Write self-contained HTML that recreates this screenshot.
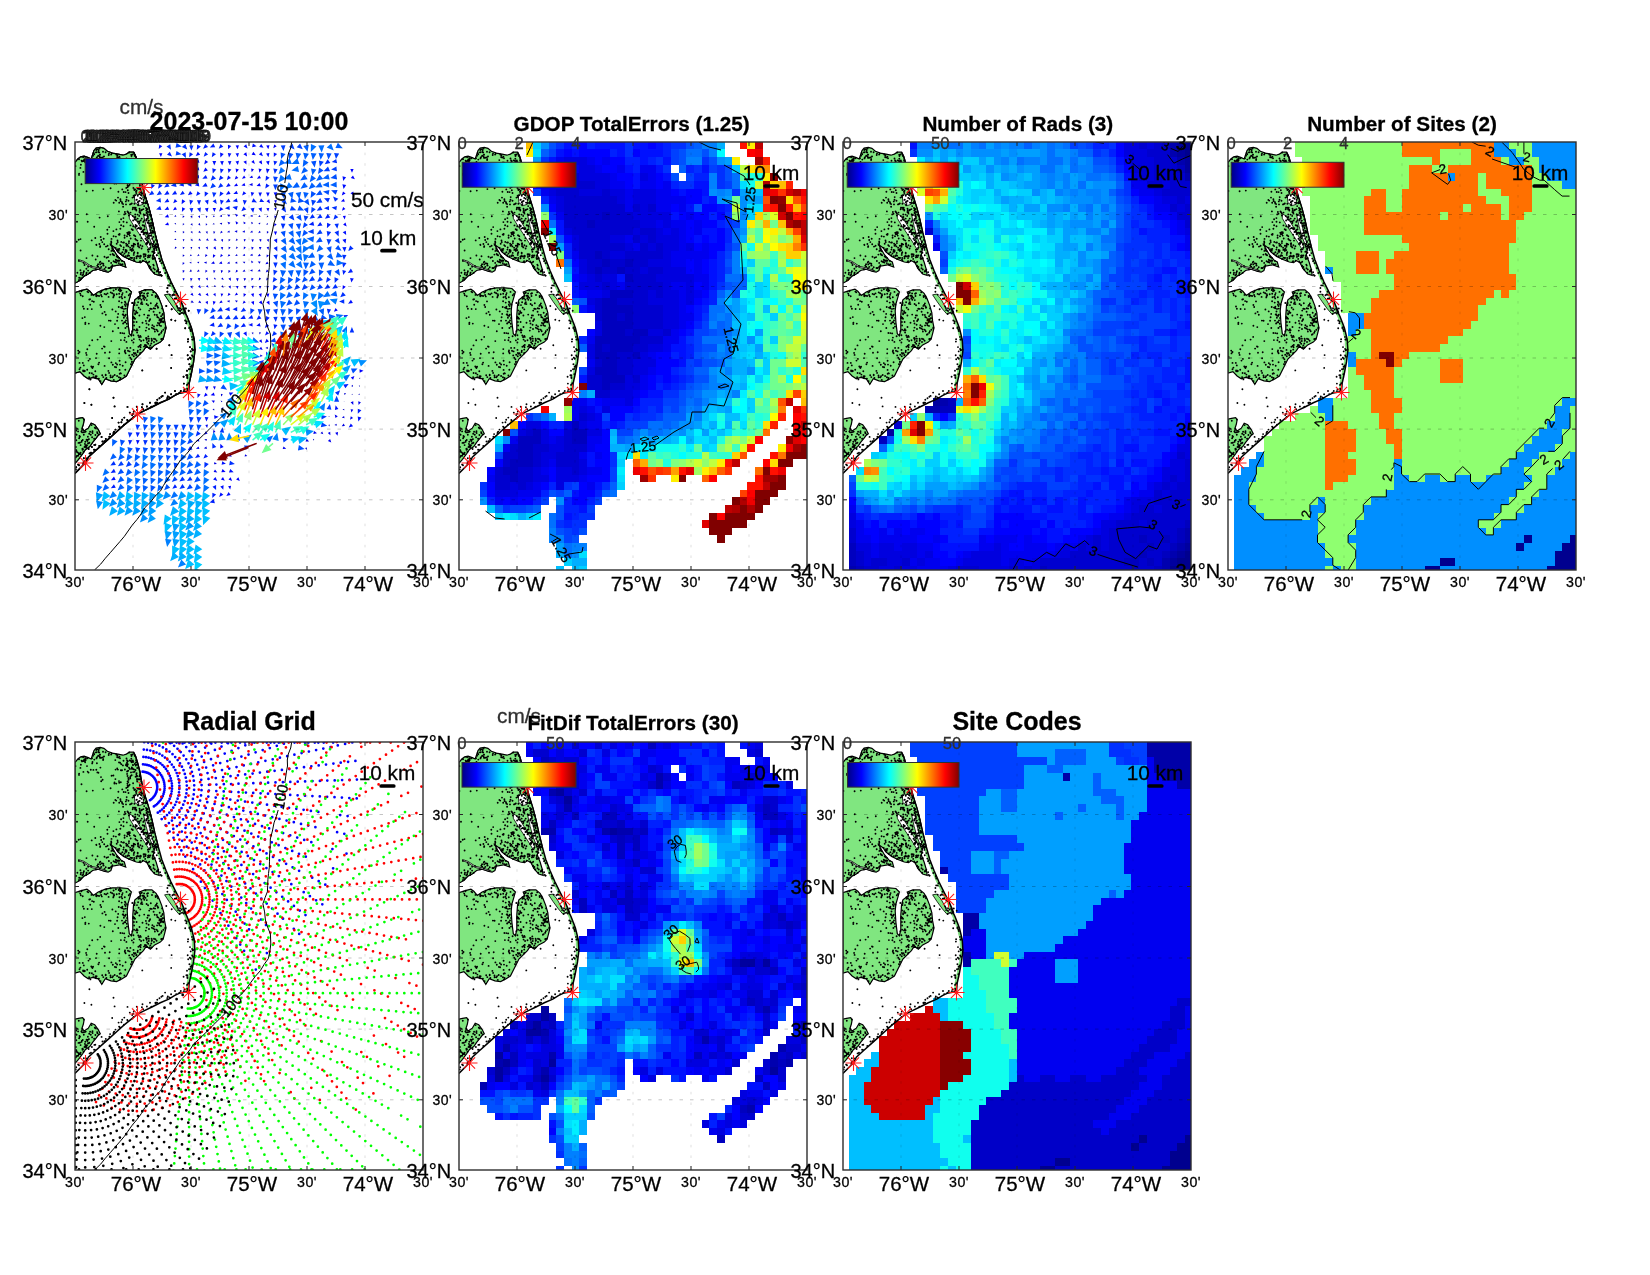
<!DOCTYPE html>
<html><head><meta charset="utf-8"><title>fig</title>
<style>html,body{margin:0;padding:0;background:#fff}body{width:1650px;height:1275px;overflow:hidden;font-family:"Liberation Sans",sans-serif}svg{display:block;will-change:transform}text{font-family:"Liberation Sans",sans-serif;stroke:currentColor;stroke-width:0.3px}</style></head><body>
<svg width="1650" height="1275" viewBox="0 0 1650 1275">
<defs>
<linearGradient id="jet" x1="0" x2="1" y1="0" y2="0"><stop offset="0" stop-color="#000084"/><stop offset="0.125" stop-color="#0000ff"/><stop offset="0.375" stop-color="#00ffff"/><stop offset="0.625" stop-color="#ffff00"/><stop offset="0.875" stop-color="#ff0000"/><stop offset="1" stop-color="#800000"/></linearGradient>
<clipPath id="cp"><rect x="0" y="0" width="348.0" height="428.0"/></clipPath>
<g id="land"><path d="M-0.1 20.5L2.8 17.0L5.6 14.9L9.1 14.2L13.3 15.6L16.2 17.0L17.6 12.8L19.0 8.5L21.1 6.0L25.3 5.4L28.9 6.4L32.4 9.2L37.3 11.1L43.0 12.1L47.9 13.2L51.4 12.1L54.3 10.2L58.5 10.2L60.6 14.2L62.7 21.2L64.9 29.7L66.3 38.2L67.7 45.2L70.5 55.1L74.0 66.4L76.9 77.7L79.7 90.4L83.2 104.5L79.7 105.9L78.3 113.0L81.1 120.0L83.2 127.1L84.2 133.4L79.7 132.0L75.4 127.1L71.9 120.7L68.4 118.6L65.6 120.7L61.3 120.0L54.3 117.2L48.6 114.4L43.0 110.1L40.2 105.9L35.9 102.8L37.3 105.9L41.6 113.0L46.5 118.6L49.3 120.0L50.7 125.0L44.4 122.8L37.3 124.2L35.9 128.5L33.1 130.2L28.9 129.2L23.2 127.1L17.6 128.5L13.3 132.0L9.1 134.1L4.9 138.4L-0.1 141.2ZM-0.1 150.7L6.3 148.6L11.9 147.2L14.8 149.3L18.3 153.5L23.2 150.0L30.3 147.2L37.3 145.8L45.8 145.8L52.9 146.5L56.4 150.0L55.0 154.9L52.9 162.0L52.2 169.0L52.9 180.3L54.3 191.6L56.4 193.7L57.8 187.4L57.8 173.3L58.5 163.4L59.9 157.8L65.6 153.5L64.2 150.0L69.8 147.9L76.9 147.9L81.1 151.4L83.9 156.3L86.7 163.4L88.8 170.5L89.6 178.9L91.0 186.0L89.6 191.6L88.1 197.3L85.3 200.1L79.7 202.9L75.4 207.2L71.2 204.3L68.4 208.6L64.2 212.8L59.9 217.0L57.1 222.7L54.3 228.3L51.4 234.0L47.2 236.8L41.6 239.6L35.9 238.9L30.3 236.8L26.8 242.4L23.2 236.8L17.6 235.4L13.3 236.8L9.1 234.0L4.9 229.7L-0.1 231.1ZM-0.1 277.1L3.5 276.3L7.7 275.6L9.1 277.8L8.4 282.0L7.0 286.2L9.1 289.0L13.3 286.2L16.2 281.3L19.7 282.7L23.2 287.6L25.3 291.9L23.2 293.3L21.1 296.1L17.6 300.3L14.8 304.6L10.5 307.4L7.7 311.6L3.5 317.3L-0.1 321.5Z" fill="#80e680" stroke="#000" stroke-width="1.2"/><path d="M59.2 53.0L65.6 52.3L68.4 56.5L68.4 62.2L64.2 63.6L59.9 60.7ZM54.3 72.0L58.5 74.1L62.7 80.5L68.4 90.4L74.0 100.3L76.1 105.9L74.0 107.3L69.8 100.3L64.2 91.8L58.5 83.3L54.3 76.3ZM68.4 72.0L71.9 73.4L74.0 83.3L76.9 94.6L79.7 105.2L77.6 103.8L74.0 94.6L71.2 84.7ZM3.5 117.5L9.1 119.4L16.2 124.2L23.2 125.9L32.0 128.8L31.4 129.6L22.9 127.1L15.9 125.4L8.8 120.6L3.5 118.6Z" fill="#fff" stroke="#000" stroke-width="0.8"/><path d="M66.4 45.2L69.2 55.1L72.7 66.4L75.6 77.7L78.4 90.4L81.9 104.5L85.4 117.2L89.7 128.5L94.6 139.8L100.2 151.1L105.2 160.9L109.4 170.8L106.6 166.2L110.8 174.7L115.1 186.0L117.9 197.3L118.6 208.6L117.2 219.9L115.1 231.1L112.9 241.0L112.2 249.5" fill="none" stroke="#80e680" stroke-width="2.6"/><path d="M89.6 152.8L93.8 152.1L98.0 157.1L103.0 166.2L106.5 171.2L103.7 171.9L99.4 166.9L93.8 159.2Z" fill="#80e680" stroke="#000" stroke-width="0.8"/><path d="M58.5 10.2L60.6 14.2L62.7 21.2L64.9 29.7L66.3 38.2L67.7 45.2L70.5 55.1L74.0 66.4L76.9 77.7L79.7 90.4L83.2 104.5L86.7 117.2L91.0 128.5L95.9 139.8L101.5 151.1L106.5 160.9L110.7 170.8L107.9 166.2L112.1 174.7L116.4 186.0L119.2 197.3L119.9 208.6L118.5 219.9L116.4 231.1L114.2 241.0L113.5 249.5L105.1 250.9L99.4 253.7L93.8 257.2L85.3 260.8L76.9 265.0L68.4 269.2L62.7 272.1L55.7 277.7L48.6 283.4L41.6 289.7L34.5 296.1L27.5 302.4L20.4 308.8L13.3 315.1L10.5 320.8L-0.1 331.4" fill="none" stroke="#000" stroke-width="1.5"/><path d="M17.3 290.3h0M47.4 164.7h0M10.4 180.8h0M29.6 204.7h0M73.0 151.2h0M26.7 148.7h0M11.1 210.9h0M12.4 16.2h0M61.3 213.3h0M75.4 125.0h0M74.6 205.4h0M50.8 23.1h0M75.7 73.9h0M61.5 116.2h0M49.9 70.0h0M55.0 62.4h0M78.2 113.2h0M35.6 178.7h0M1.4 308.5h0M16.9 231.2h0M33.7 107.3h0M62.0 20.4h0M49.8 155.3h0M72.6 67.1h0M4.5 135.9h0M71.8 66.9h0M49.6 95.7h0M58.1 41.3h0M26.2 15.7h0M39.1 153.2h0M32.5 151.4h0M3.7 97.8h0M76.3 127.5h0M80.5 105.2h0M59.6 29.8h0M66.6 50.2h0M87.2 179.5h0M35.6 235.2h0M0.8 292.5h0M56.5 14.1h0M61.6 180.0h0M30.7 233.3h0M23.0 7.1h0M86.3 197.0h0M52.0 94.2h0M18.8 159.8h0M1.1 133.9h0M11.8 72.3h0M71.6 91.9h0M18.0 13.7h0M66.6 106.5h0M26.0 150.1h0M64.3 105.4h0M8.7 15.0h0M55.3 18.6h0M26.0 35.1h0M79.1 116.5h0M48.5 169.5h0M73.6 182.7h0M84.7 192.1h0M38.4 33.5h0M28.3 121.7h0M27.4 171.4h0M20.3 229.2h0M84.6 181.1h0M40.6 27.6h0M58.9 197.1h0M41.4 120.5h0M64.1 195.2h0M76.2 80.9h0M51.3 22.2h0M19.1 296.8h0M33.9 178.6h0M4.1 296.2h0M11.4 304.2h0M42.1 118.5h0M58.1 78.5h0M79.0 200.0h0M75.7 101.9h0M42.1 15.1h0M82.9 180.9h0M43.7 92.6h0M33.6 154.9h0M68.7 112.8h0M51.1 101.7h0M49.2 191.4h0M12.7 29.6h0M6.8 290.1h0M3.8 138.1h0M69.0 51.6h0M45.0 222.6h0M55.5 83.4h0M59.4 102.2h0M58.7 27.3h0M76.7 90.3h0M6.0 130.7h0M50.2 180.3h0M20.4 293.0h0M29.0 204.4h0M28.6 123.4h0M45.4 122.1h0M47.0 28.3h0M59.1 168.5h0M3.9 312.2h0M54.7 90.2h0M67.7 88.9h0M48.2 113.1h0M61.2 97.9h0M52.4 102.7h0M52.3 90.7h0M59.7 161.0h0M1.3 298.3h0M52.7 92.1h0M66.3 96.1h0M57.5 55.6h0M58.3 108.1h0M4.5 220.9h0M51.9 162.1h0M3.8 278.7h0M57.9 18.5h0M50.4 160.8h0M46.1 83.3h0M82.6 154.5h0M36.1 102.0h0M23.4 222.3h0M45.6 59.0h0M45.0 16.3h0M36.7 11.4h0M41.1 118.4h0M64.7 33.8h0M65.2 211.0h0M5.7 132.3h0M66.5 160.4h0M66.6 56.8h0M20.4 235.5h0M43.4 49.8h0M53.8 71.4h0M28.7 96.7h0M76.7 198.9h0M57.7 12.5h0M73.9 196.8h0M39.7 233.0h0M12.0 303.2h0M60.7 23.5h0M8.9 129.4h0M16.5 152.9h0M21.0 127.4h0M65.4 103.3h0M44.1 159.2h0M69.3 78.4h0M66.8 160.3h0M43.7 165.0h0M61.3 51.1h0M69.1 151.4h0M34.0 11.6h0M4.0 32.9h0M6.8 148.6h0M57.4 106.5h0M29.6 223.9h0M8.8 292.7h0M61.0 188.4h0M21.9 21.3h0M51.5 16.5h0M57.0 219.6h0M84.1 181.7h0M36.3 199.1h0M65.4 46.0h0M82.2 104.4h0M63.7 86.0h0M45.4 147.6h0M51.7 108.9h0M45.4 191.0h0M56.0 62.0h0M39.4 41.5h0M61.6 48.7h0M18.4 232.6h0M0.5 24.1h0M0.2 295.6h0M63.5 62.1h0M48.1 100.6h0M8.2 229.2h0M50.3 227.8h0M44.6 227.9h0M17.2 198.3h0M14.2 291.8h0M51.5 57.8h0M25.3 122.4h0M72.7 91.6h0M48.5 84.2h0M58.1 23.1h0M49.6 93.5h0M36.6 124.4h0M61.1 18.2h0M22.1 290.1h0M40.4 37.1h0M56.8 108.9h0M69.5 87.2h0M44.7 231.7h0M53.9 101.1h0M62.4 113.9h0M24.9 126.2h0M56.3 16.7h0M69.3 154.8h0M34.1 230.9h0M21.3 154.2h0M65.1 86.9h0M86.2 190.7h0M5.4 225.6h0M41.1 225.2h0M20.7 117.5h0M19.3 17.6h0M22.5 114.3h0M40.0 182.1h0M62.7 114.1h0M71.5 66.4h0M78.5 126.3h0M63.2 102.0h0M57.9 23.0h0M85.9 180.0h0M30.6 10.2h0M74.8 72.8h0M72.1 151.7h0M25.1 104.9h0M7.8 220.9h0M50.8 172.8h0M65.1 211.4h0M70.5 61.2h0M14.4 300.7h0M58.4 193.2h0M32.5 91.7h0M71.6 162.0h0M61.0 49.7h0M72.9 173.4h0M65.1 32.6h0M15.0 157.2h0M45.4 86.7h0M61.6 31.2h0M62.0 163.1h0M70.6 112.4h0M27.1 206.6h0M67.2 43.4h0M78.8 166.2h0M66.5 67.9h0M52.4 114.0h0M78.7 123.5h0M71.7 197.7h0M44.2 40.8h0M37.3 106.4h0M51.3 45.9h0M22.4 30.4h0M8.1 132.5h0M67.7 118.7h0M44.4 92.8h0M39.5 40.5h0M61.8 57.8h0M31.0 147.6h0M3.1 289.4h0M40.9 147.3h0M21.5 16.4h0M74.0 187.0h0M67.0 60.6h0M52.3 24.3h0M72.4 175.7h0M62.7 110.7h0M51.8 181.7h0M29.0 14.4h0M80.6 153.9h0M63.6 46.7h0M11.5 116.1h0M73.2 201.7h0M57.7 67.2h0M84.4 178.6h0M51.5 149.9h0M24.1 220.6h0M34.1 216.3h0M78.3 186.6h0M41.3 12.5h0M35.4 112.6h0M3.5 300.9h0M38.4 89.1h0M33.5 126.0h0M68.4 67.1h0M71.1 196.2h0M37.4 167.5h0M52.0 20.4h0M12.4 149.6h0M13.0 301.2h0M34.2 85.1h0M60.6 85.0h0M73.4 109.7h0M48.9 100.5h0M28.1 18.0h0M53.0 208.8h0M28.3 235.1h0M38.1 234.1h0M0.9 315.2h0M77.0 153.0h0M12.4 299.0h0M70.5 96.7h0M22.6 197.6h0M47.2 166.3h0M42.6 175.3h0M60.9 77.4h0M83.0 156.3h0M74.6 84.0h0M63.1 160.3h0M14.6 130.9h0M50.6 211.3h0M62.8 53.8h0M17.0 16.2h0M61.4 32.2h0M71.5 181.5h0M56.8 26.8h0M7.4 306.7h0M64.4 34.4h0M85.5 177.1h0M62.0 37.7h0M6.5 299.9h0M12.2 227.7h0M64.7 68.2h0M18.4 235.1h0M71.1 102.1h0M2.0 79.7h0M21.4 103.0h0M13.1 297.6h0M64.9 47.1h0M40.4 57.9h0M17.4 226.1h0M36.3 100.5h0M25.6 239.1h0M46.1 104.1h0M6.9 298.7h0M9.9 19.2h0M3.1 313.8h0M82.4 164.1h0M71.9 196.5h0M37.7 112.0h0M8.0 164.5h0M62.5 72.6h0M52.8 48.3h0M60.0 176.7h0M80.4 197.2h0M58.5 104.7h0M68.5 198.2h0M35.4 146.3h0M64.3 105.1h0M42.5 98.5h0M75.7 90.5h0M29.5 114.7h0M59.4 118.5h0M53.2 28.7h0M6.5 42.2h0M11.4 126.8h0M52.1 31.9h0M6.4 289.5h0M65.4 71.4h0M12.3 207.3h0M68.4 53.0h0M55.4 205.9h0M19.2 12.2h0M76.6 196.8h0M42.9 119.1h0M13.7 301.2h0M52.0 184.6h0M46.0 122.5h0M60.6 77.7h0M47.7 223.7h0M84.0 192.4h0M65.3 167.4h0M38.7 60.7h0M41.7 114.4h0M37.8 189.3h0M68.5 92.3h0M31.4 236.0h0M70.7 90.8h0M12.7 79.8h0M77.8 90.0h0M60.6 211.3h0M81.9 161.4h0M80.7 155.0h0M47.4 191.1h0M90.2 186.3h0M55.2 35.1h0M8.9 277.5h0M47.9 23.4h0M5.4 128.3h0M17.5 19.9h0M56.8 61.4h0M53.1 113.3h0M48.4 107.6h0M57.8 88.0h0M36.5 96.9h0M9.8 175.1h0M24.8 120.5h0M77.2 96.7h0M54.9 91.1h0M77.0 198.3h0M83.2 165.5h0M35.6 102.8h0M0.4 48.9h0M9.4 305.1h0M60.9 20.4h0M58.2 84.2h0M70.5 114.0h0M43.7 118.4h0M78.7 89.5h0M68.3 79.9h0M50.1 173.9h0M7.3 14.9h0M56.8 20.3h0M14.5 203.4h0M48.5 18.8h0M30.8 172.7h0M73.1 163.2h0M69.3 157.7h0M79.9 189.6h0M65.5 37.1h0M49.9 162.7h0M65.3 70.0h0M26.3 124.9h0M4.1 31.8h0M0.6 285.4h0M6.6 18.6h0M54.6 42.8h0M78.2 109.4h0M79.8 127.5h0M47.4 110.3h0M40.8 117.7h0M65.7 113.7h0M47.1 152.8h0M68.5 87.9h0M7.0 19.4h0M5.2 151.6h0M74.1 179.0h0M73.9 123.9h0M56.8 103.8h0M62.5 46.6h0M25.4 183.7h0M54.0 92.0h0M11.4 131.2h0M4.5 210.0h0M40.8 221.1h0M67.5 180.7h0M13.5 218.6h0M16.0 124.0h0M11.1 305.4h0M25.7 95.0h0M5.9 22.8h0M63.7 165.7h0M77.4 183.3h0M65.7 78.5h0M56.8 25.5h0M54.9 27.0h0M5.4 25.9h0M53.7 90.2h0M58.5 103.2h0M43.8 108.7h0M23.6 8.3h0M9.7 229.3h0M53.3 35.9h0M59.1 187.8h0M65.3 193.9h0M20.6 234.3h0M32.6 103.7h0M19.8 285.8h0M24.6 6.6h0M65.0 156.3h0M44.4 14.6h0M64.5 185.0h0M69.2 172.6h0M21.3 27.7h0M44.2 60.7h0M76.7 166.9h0M13.8 181.6h0M82.7 189.3h0M45.4 57.2h0M25.2 104.2h0M13.1 128.6h0M32.3 87.8h0M53.7 43.8h0M66.4 157.7h0M52.7 45.0h0M75.9 83.9h0M88.2 180.3h0M33.9 119.0h0M27.7 15.4h0M44.7 92.1h0M60.6 83.0h0M69.8 73.3h0M1.0 307.9h0M16.7 98.4h0M47.7 172.5h0M73.4 96.4h0M5.4 137.6h0M71.2 78.0h0M30.7 232.7h0M53.9 73.6h0M60.1 172.3h0M54.1 113.8h0M69.6 91.0h0M59.0 93.2h0M68.8 50.5h0M63.3 37.2h0M41.7 101.8h0M44.4 80.1h0M70.9 178.9h0M60.6 28.1h0M53.6 37.8h0M58.8 214.2h0M53.4 104.4h0M10.1 20.2h0M48.1 62.1h0M62.7 60.3h0M45.9 231.4h0M58.9 210.9h0M66.8 150.7h0M79.0 184.5h0M29.5 126.9h0M79.0 196.7h0M52.1 176.0h0M36.4 108.9h0M26.8 154.4h0M59.3 47.5h0M28.4 47.1h0M33.4 228.9h0M41.7 152.2h0M65.2 207.6h0M74.5 107.2h0M60.1 171.2h0M59.4 61.8h0M67.4 104.2h0M22.7 153.6h0M35.7 150.4h0M69.6 112.3h0M58.1 176.3h0M14.6 231.0h0M42.1 234.0h0M60.1 53.3h0M61.1 169.2h0M63.7 59.5h0M56.9 198.4h0M88.3 176.1h0M4.5 227.3h0M72.8 80.8h0M17.1 295.2h0M65.8 114.4h0M80.3 163.9h0M24.2 10.4h0M13.2 150.2h0M75.3 166.8h0M7.3 286.7h0M72.9 107.8h0M50.6 220.2h0M81.6 198.8h0M64.5 52.1h0M63.3 193.5h0M52.5 162.8h0M54.2 10.5h0M13.5 30.6h0M40.7 106.0h0M84.4 183.3h0M64.5 66.6h0M24.1 154.0h0M45.6 236.0h0M51.4 108.1h0M23.9 236.6h0M72.4 95.3h0M81.7 187.7h0M46.3 22.3h0M45.1 20.7h0M78.5 94.9h0M44.2 116.3h0M74.2 119.7h0M73.1 113.8h0M76.3 201.5h0M53.6 194.3h0M50.6 164.0h0M81.1 162.7h0M7.0 288.1h0M25.3 119.6h0M61.7 33.7h0M38.6 154.3h0M24.6 14.2h0M24.9 12.6h0M81.9 173.0h0M48.9 175.7h0M75.8 101.5h0M77.5 116.0h0M51.8 80.4h0M10.3 182.0h0M8.8 223.4h0M59.3 110.3h0M87.4 172.7h0M77.8 114.0h0M9.5 123.0h0M77.7 101.9h0M28.2 17.3h0M57.4 26.1h0M70.0 202.9h0M60.4 75.0h0M70.1 203.7h0M62.7 210.0h0M64.4 173.5h0M50.5 71.8h0M58.5 207.9h0M73.1 100.6h0M56.3 19.7h0M78.2 90.8h0M50.8 59.4h0M72.6 80.8h0M83.4 175.6h0M13.1 124.7h0M59.3 75.5h0M52.6 22.0h0M8.7 120.9h0M82.9 129.2h0M67.1 51.4h0M61.3 68.5h0M45.9 28.2h0M71.0 203.3h0M70.4 148.4h0M22.3 291.0h0M71.3 68.5h0M68.3 156.2h0M17.1 159.1h0M62.0 37.0h0M26.2 39.2h0M29.3 185.1h0M37.2 151.2h0M51.7 55.1h0M58.7 101.7h0M7.7 298.0h0M21.1 236.2h0M58.4 200.5h0M45.9 198.1h0M43.2 15.6h0M78.1 90.6h0M12.9 294.7h0M24.4 102.0h0M52.5 34.0h0M73.0 76.0h0M11.6 49.3h0M39.9 224.9h0M11.6 297.7h0M35.6 46.2h0M72.0 61.0h0M44.0 20.4h0M15.1 289.7h0M90.3 185.4h0M84.6 177.2h0M34.7 126.0h0M76.1 93.7h0M62.4 86.6h0M29.2 102.3h0M65.1 92.6h0M54.7 18.4h0M74.6 93.7h0M42.1 222.5h0M20.8 286.4h0M59.4 48.0h0M57.4 189.3h0M56.5 107.5h0M52.5 69.5h0M8.3 130.7h0M53.5 58.8h0M56.0 222.2h0M61.2 67.7h0M62.7 111.5h0M72.2 101.7h0M56.6 33.3h0M3.9 118.9h0M59.5 163.0h0M60.7 65.8h0M30.2 129.1h0M65.0 116.1h0M87.6 176.2h0M69.6 84.8h0M74.1 123.8h0M69.6 54.0h0M49.4 198.2h0M51.5 103.8h0M14.3 157.5h0M21.3 8.1h0M9.7 228.6h0M45.8 40.2h0M38.6 119.3h0M56.4 116.0h0M33.1 115.1h0M44.8 146.2h0M75.1 177.2h0M46.3 99.9h0M66.5 90.0h0M61.5 213.0h0M42.5 108.5h0M72.1 204.7h0M42.9 27.6h0M84.7 170.7h0M83.3 127.7h0M40.7 169.4h0M18.7 10.9h0M21.6 7.3h0M77.3 109.7h0M68.3 90.2h0M11.6 130.8h0M73.4 100.3h0M26.2 98.0h0M74.7 125.8h0M47.3 47.4h0M15.8 292.8h0M44.6 218.8h0M62.6 188.2h0M71.8 101.0h0M60.3 96.9h0M50.8 166.6h0M49.2 72.4h0M66.3 86.3h0M82.1 128.8h0M58.4 45.9h0M23.7 292.4h0M67.4 153.8h0M63.4 204.7h0M37.4 123.3h0M8.9 290.3h0M26.2 165.0h0M41.4 87.4h0M51.0 62.4h0M24.9 15.7h0M27.3 100.1h0M68.7 72.4h0M65.7 87.2h0M57.8 74.1h0M23.2 13.8h0M53.1 70.3h0M21.7 15.7h0M71.0 59.4h0M73.9 113.5h0M76.5 205.5h0M46.7 160.6h0M8.5 309.8h0M6.1 136.1h0M48.4 76.1h0M38.6 148.5h0M10.4 289.8h0M75.8 161.3h0M59.1 55.1h0M60.3 28.0h0M51.0 178.4h0M54.7 93.6h0M61.9 187.2h0M69.9 60.9h0M50.6 114.1h0M42.2 26.4h0M43.9 235.2h0M23.2 124.8h0M40.0 120.0h0M44.3 207.1h0M27.2 233.3h0M4.0 17.3h0M15.2 162.7h0M59.5 65.7h0M21.7 211.8h0M28.0 9.7h0M64.2 73.9h0M45.8 111.9h0M0.2 295.0h0M65.1 154.1h0M5.6 108.5h0M57.2 212.7h0M47.0 60.2h0M36.1 12.6h0M72.8 74.3h0M60.2 102.4h0M50.0 208.4h0M36.4 220.4h0M40.9 94.6h0M35.5 233.5h0M8.4 19.0h0M1.9 313.9h0M44.3 106.9h0M3.7 311.3h0M36.2 120.9h0M65.2 55.9h0M66.7 76.6h0M25.2 194.9h0M3.2 208.6h0M75.3 203.4h0M66.0 161.7h0M66.3 39.4h0M0.9 309.6h0M82.3 175.0h0M59.2 116.0h0M68.9 114.9h0M56.2 12.8h0M47.2 61.4h0M9.2 17.5h0M28.3 123.6h0M8.4 29.9h0M53.7 110.9h0M69.7 56.0h0M52.4 41.6h0M7.4 133.4h0M44.2 211.4h0M49.4 233.5h0M38.2 112.7h0M2.4 310.3h0M50.7 107.9h0M62.8 208.6h0M41.3 41.6h0M66.0 98.6h0M49.8 209.7h0M43.9 69.4h0M22.3 123.7h0M62.4 98.6h0M72.9 115.4h0M54.2 213.4h0M2.4 130.7h0M72.1 200.2h0M11.6 212.9h0M59.5 102.3h0M16.8 167.1h0M77.9 83.8h0M55.3 107.9h0M86.3 197.2h0M42.6 115.2h0M23.4 30.8h0M69.1 83.4h0M64.9 43.8h0M1.6 292.8h0M49.5 111.5h0M75.4 113.5h0M17.4 113.5h0M76.7 86.2h0M11.1 303.3h0M64.9 50.2h0M21.0 216.1h0M2.1 286.7h0M59.8 22.0h0M57.1 115.9h0M8.9 129.1h0M71.4 78.5h0M73.3 194.4h0M21.1 152.9h0M76.3 85.4h0M5.6 310.6h0M1.2 288.5h0M78.6 169.8h0M15.8 27.8h0M71.8 158.1h0M44.5 155.3h0M66.1 199.0h0M0.5 214.8h0M78.7 104.6h0M36.1 124.9h0M65.8 48.4h0M31.4 147.1h0M68.7 57.8h0M58.4 19.9h0M61.8 84.0h0M29.6 151.9h0M74.1 205.6h0M61.7 170.9h0M43.0 55.6h0M36.6 33.8h0M21.3 102.7h0M60.2 72.5h0M87.1 166.4h0M47.6 151.1h0M64.4 80.8h0M26.9 121.3h0M18.4 27.9h0M65.1 42.8h0M4.2 149.6h0M67.4 162.1h0M83.9 192.8h0M71.6 98.3h0M43.2 171.9h0M56.9 220.1h0M7.3 290.4h0M64.4 70.0h0M47.6 122.3h0M75.2 105.6h0M74.9 91.5h0M63.5 156.7h0M5.5 312.1h0M38.5 109.1h0M79.7 172.7h0M62.8 60.4h0M74.2 168.6h0M59.0 117.8h0M5.8 153.2h0M58.7 112.9h0M62.7 76.6h0M48.5 79.8h0M74.7 81.6h0M48.4 172.4h0M43.0 107.3h0M10.7 289.6h0M29.6 169.9h0M62.4 170.7h0M51.4 199.9h0M59.3 175.8h0M48.7 105.5h0M82.3 154.0h0M52.6 43.5h0M50.5 109.3h0M12.0 24.1h0M85.9 178.6h0M22.1 15.1h0M88.7 179.4h0M54.0 25.7h0M74.9 102.6h0M10.3 299.8h0M42.8 100.1h0M55.6 34.1h0M69.1 50.8h0M56.4 217.3h0M55.2 36.4h0M50.4 186.0h0M25.4 25.6h0M54.1 117.0h0M58.9 111.3h0M82.9 165.7h0M46.3 148.5h0M52.1 18.4h0M10.3 304.0h0M57.4 26.8h0M57.9 22.9h0M53.3 40.1h0M53.5 51.0h0M43.7 148.0h0M73.1 80.7h0M4.5 294.0h0M66.7 68.3h0M64.2 79.4h0M34.7 210.3h0M72.9 99.4h0M37.8 222.8h0M44.3 118.8h0M3.5 211.4h0M28.0 159.4h0M4.8 312.1h0M46.1 77.3h0M59.8 13.9h0M55.6 115.8h0M21.6 234.2h0M49.0 166.9h0M59.1 183.5h0M63.5 155.2h0M67.7 83.2h0M61.8 34.5h0M48.7 50.0h0M46.5 122.7h0M25.1 12.6h0M76.9 185.7h0M55.3 215.8h0M45.0 237.4h0M59.3 211.8h0M64.0 114.3h0M8.9 166.7h0M73.8 199.0h0M38.6 94.3h0M5.5 97.1h0M65.6 205.2h0M30.7 125.3h0M64.6 58.9h0M62.2 26.0h0M44.6 92.0h0M16.6 283.1h0M73.9 78.6h0M81.7 129.6h0M1.7 99.7h0M52.1 205.9h0M52.8 19.2h0M8.1 228.5h0M54.0 99.3h0M74.7 178.2h0M70.8 188.6h0M50.0 159.7h0M27.6 37.7h0M67.0 67.7h0M56.7 87.2h0M47.2 156.4h0M56.0 30.4h0M62.8 101.6h0M38.8 152.1h0M43.8 121.1h0M33.7 13.0h0M19.2 84.8h0M42.1 178.8h0M5.0 294.8h0M77.9 117.0h0M17.8 48.6h0M66.6 51.4h0M47.0 178.6h0M78.2 102.3h0M87.7 171.9h0M73.6 114.4h0M7.4 176.1h0M70.5 155.9h0M58.1 30.1h0M62.1 190.5h0M78.7 106.9h0M20.9 10.4h0M12.6 167.0h0M11.2 133.0h0M41.9 12.6h0M71.2 119.4h0M59.7 77.4h0M78.2 150.2h0M88.4 187.7h0M61.4 57.9h0M49.0 173.6h0M63.6 155.5h0M60.1 67.4h0M10.8 17.9h0M37.2 108.3h0M17.2 21.4h0M21.1 152.8h0M49.9 27.5h0M68.5 51.7h0M14.0 297.1h0M53.8 153.3h0M46.9 118.9h0M31.0 104.6h0M55.1 105.8h0M64.8 203.7h0M79.7 187.5h0M31.1 152.4h0M55.0 151.9h0M86.6 177.7h0M49.4 180.3h0M20.3 96.0h0M71.5 185.6h0M50.6 50.1h0M14.1 235.2h0M18.1 224.7h0M62.9 102.7h0M78.3 122.6h0M82.3 129.4h0M44.0 39.1h0M54.6 209.4h0M45.4 231.3h0M52.1 29.5h0M57.2 18.8h0M61.8 22.6h0M7.7 154.2h0M51.4 23.5h0M72.5 154.0h0M17.6 291.1h0M70.2 116.9h0M65.1 119.3h0M82.1 183.4h0M37.4 235.3h0M41.2 58.6h0M79.3 130.7h0M56.1 222.3h0M65.8 202.9h0M46.4 154.8h0M14.9 216.9h0M40.3 18.1h0M51.0 110.0h0M10.6 16.3h0M46.0 165.6h0M69.0 204.6h0M55.7 96.5h0M63.1 63.3h0M8.1 307.1h0M62.2 34.0h0M87.5 196.7h0M64.7 120.0h0M81.2 102.2h0M58.0 65.7h0M72.8 120.8h0M73.9 173.5h0M45.2 103.1h0M58.9 180.0h0M4.2 135.8h0M30.0 210.7h0M36.2 99.4h0M64.6 197.6h0M55.5 70.6h0M25.4 163.0h0M62.9 114.4h0M54.2 91.3h0M42.4 13.4h0M64.6 37.3h0M58.7 53.7h0M60.6 34.8h0M23.1 122.3h0M31.6 115.8h0M32.8 74.3h0M65.7 151.2h0M23.3 10.0h0M24.6 75.6h0M68.6 112.1h0M78.0 104.9h0M64.5 86.3h0M65.8 194.9h0M38.3 155.4h0M0.9 305.0h0M63.1 101.3h0M77.5 103.8h0M86.5 177.3h0M39.1 113.3h0M45.1 149.3h0M69.1 54.9h0M6.5 149.2h0M62.2 39.5h0M21.3 10.2h0M71.1 195.9h0M62.6 79.5h0M48.1 181.5h0M86.0 183.9h0M68.7 153.8h0M43.3 186.0h0M76.3 77.4h0M7.5 307.8h0M74.5 115.1h0M17.0 225.3h0M68.2 61.0h0M64.2 81.2h0M86.1 174.3h0M5.6 303.1h0M66.1 53.2h0M25.3 150.5h0M61.4 114.6h0M4.8 300.7h0M58.2 175.0h0M72.3 90.6h0M38.8 237.9h0M48.1 64.7h0M80.7 102.1h0M63.1 104.3h0M49.9 195.6h0M0.6 286.0h0M71.6 77.0h0M45.9 111.5h0M52.8 22.4h0M44.2 151.8h0M60.1 47.5h0M9.9 301.9h0M58.4 103.7h0M80.1 166.6h0M52.6 39.4h0M26.1 153.0h0M56.8 19.2h0M17.5 289.2h0M86.8 189.2h0M16.3 224.4h0M60.3 94.2h0M71.5 60.4h0M69.2 64.1h0M71.0 66.0h0M72.7 72.3h0M72.9 74.5h0M71.5 71.0h0M72.5 72.9h0M72.6 69.9h0M72.4 69.5h0M73.7 70.1h0M77.3 88.6h0M77.3 81.3h0M75.4 88.0h0M74.9 81.3h0M76.8 83.1h0M77.6 83.3h0M76.9 90.9h0M75.6 83.3h0M81.0 97.9h0M78.9 100.3h0M75.0 102.1h0M73.1 93.6h0M79.9 103.7h0M73.0 94.5h0M79.0 99.2h0M80.6 102.7h0M80.9 104.4h0M81.5 107.9h0M83.4 111.1h0M84.3 116.6h0M81.8 113.3h0M82.1 105.2h0M79.4 110.7h0M79.9 116.1h0M81.3 106.1h0M86.9 121.1h0M85.1 119.2h0M89.0 126.3h0M85.1 130.2h0M88.7 126.1h0M85.6 118.1h0M86.6 121.2h0M86.5 133.8h0M90.3 131.0h0M92.8 134.0h0M85.7 132.9h0M86.7 133.6h0M93.3 136.6h0M92.9 134.8h0M94.7 152.6h0M94.7 143.4h0M93.2 143.4h0M99.5 149.7h0M92.4 146.0h0M92.4 149.7h0M95.5 141.2h0M99.7 156.6h0M97.5 153.2h0M104.6 159.0h0M103.4 158.7h0M101.2 156.2h0M100.0 152.8h0M105.0 166.2h0M108.9 171.5h0M109.3 169.9h0M103.1 168.1h0M102.1 164.5h0M102.8 165.9h0M108.5 166.2h0M113.7 168.8h0M110.8 166.5h0M106.6 167.5h0M109.1 171.1h0M104.7 172.0h0M104.9 168.7h0M109.2 170.6h0M114.7 186.1h0M111.3 181.3h0M110.2 186.2h0M114.3 185.9h0M110.3 178.5h0M111.7 179.5h0M114.9 185.3h0M117.4 197.6h0M115.8 189.1h0M116.0 188.9h0M113.1 197.2h0M117.0 194.9h0M115.4 187.5h0M118.3 196.7h0M118.0 197.8h0M117.1 206.9h0M117.7 208.2h0M118.2 208.1h0M112.9 199.6h0M119.5 207.4h0M115.0 205.1h0M115.8 216.7h0M112.7 213.2h0M118.0 214.7h0M117.2 213.5h0M115.7 209.4h0M114.8 215.8h0M113.2 217.2h0M114.4 222.3h0M114.0 227.3h0M116.6 224.8h0M115.5 226.9h0M115.6 224.8h0M112.0 228.7h0M116.9 223.4h0M108.6 234.8h0M111.4 233.2h0M112.3 233.2h0M115.4 232.2h0M112.4 236.0h0M112.3 235.3h0M113.3 241.3h0M112.4 248.3h0M112.2 246.6h0M112.5 242.6h0M112.0 242.9h0M113.0 247.5h0M108.9 249.1h0M109.5 247.3h0M109.9 247.4h0M105.8 249.0h0M100.0 249.0h0M101.2 252.1h0M104.4 250.7h0M94.4 255.5h0M95.0 255.8h0M96.1 252.3h0M92.8 254.4h0M90.1 250.6h0M86.4 254.8h0M92.2 256.1h0M87.6 253.9h0M84.5 256.2h0M80.5 261.2h0M75.0 260.7h0M82.1 260.8h0M80.4 260.7h0M81.4 260.8h0M66.9 265.3h0M76.3 264.8h0M71.9 264.5h0M68.1 267.3h0M67.5 262.3h0M62.9 271.3h0M62.2 267.9h0M61.8 264.7h0M54.8 270.6h0M57.2 273.1h0M58.8 269.5h0M58.6 275.0h0M58.1 271.8h0M52.3 278.0h0M52.5 278.4h0M47.2 277.8h0M49.3 275.6h0M46.4 280.2h0M45.3 285.8h0M40.5 287.6h0M44.5 285.0h0M43.6 280.6h0M44.1 284.6h0M39.2 289.7h0M38.4 291.1h0M34.4 294.7h0M38.8 290.1h0M35.1 292.1h0M30.3 299.2h0M30.8 296.9h0M29.5 299.3h0M27.5 299.5h0M26.6 294.9h0M19.4 302.9h0M20.0 307.9h0M20.3 302.7h0M19.5 302.9h0M24.3 304.0h0M16.0 310.7h0M16.9 305.0h0M14.6 311.4h0M13.6 307.0h0M19.1 307.7h0M9.5 319.5h0M8.8 316.3h0M11.1 316.4h0M0.7 327.4h0M8.8 322.0h0M8.3 321.8h0M3.1 322.6h0M4.0 323.3h0M8.6 320.1h0M8.5 321.5h0M1.2 325.2h0M81.6 206.8h0M82.3 257.7h0M108.9 241.6h0M96.6 213.1h0M57.3 161.0h0M16.4 262.7h0M107.1 170.8h0M94.3 203.3h0M38.5 255.7h0M52.5 264.9h0M39.6 264.4h0M96.2 225.9h0M96.3 177.8h0M9.4 261.0h0M37.2 276.0h0M67.3 228.4h0M91.3 164.0h0M49.0 282.6h0M14.4 247.3h0M100.3 178.6h0M15.4 237.4h0M98.6 152.5h0M96.7 167.3h0" stroke="#000" stroke-width="1.9" stroke-linecap="round" fill="none"/></g>
<g id="grid"><path d="M58.0 0V428.0M116.0 0V428.0M174.0 0V428.0M232.0 0V428.0M290.0 0V428.0" fill="none" stroke="#000" stroke-opacity="0.14" stroke-width="0.9" stroke-dasharray="2.6 8"/><path d="M0 72.5H348.0M0 144.5H348.0M0 216.0H348.0M0 287.1H348.0M0 357.8H348.0" fill="none" stroke="#000" stroke-opacity="0.26" stroke-width="0.9" stroke-dasharray="3.5 7"/></g>
<g id="stars"><path d="M61 45.5H77M69 37.5V53.5M63.4 39.9L74.6 51.1M63.4 51.1L74.6 39.9M97.5 157.5H113.5M105.5 149.5V165.5M99.9 151.9L111.1 163.1M99.9 163.1L111.1 151.9M105.5 250.5H121.5M113.5 242.5V258.5M107.9 244.9L119.1 256.1M107.9 256.1L119.1 244.9M54.5 272H70.5M62.5 264V280M56.9 266.4L68.1 277.6M56.9 277.6L68.1 266.4M2.5 321H18.5M10.5 313V329M4.9 315.4L16.1 326.6M4.9 326.6L16.1 315.4" stroke="#ff1a1a" stroke-width="1.1" fill="none"/></g>
<g id="frame"><rect x="0" y="0" width="348.0" height="428.0" fill="none" stroke="#2e2e2e" stroke-width="1.4"/><path d="M58.0 428.0v-4M58.0 0v4M116.0 428.0v-4M116.0 0v4M174.0 428.0v-4M174.0 0v4M232.0 428.0v-4M232.0 0v4M290.0 428.0v-4M290.0 0v4M0 72.5h4M348.0 72.5h-4M0 144.5h4M348.0 144.5h-4M0 216.0h4M348.0 216.0h-4M0 287.1h4M348.0 287.1h-4M0 357.8h4M348.0 357.8h-4" stroke="#262626" stroke-width="1" fill="none"/></g>
<g id="labels" fill="#000" color="#000"><text x="-7.9" y="7.9" font-size="20" text-anchor="end">37°N</text><text x="-7.9" y="152.4" font-size="20" text-anchor="end">36°N</text><text x="-7.9" y="295.0" font-size="20" text-anchor="end">35°N</text><text x="-7.9" y="435.9" font-size="20" text-anchor="end">34°N</text><text x="-7" y="78.1" font-size="14" letter-spacing="0.4" text-anchor="end">30'</text><text x="-7" y="221.6" font-size="14" letter-spacing="0.4" text-anchor="end">30'</text><text x="-7" y="363.4" font-size="14" letter-spacing="0.4" text-anchor="end">30'</text><text x="61.0" y="449.3" font-size="20.5" text-anchor="middle">76°W</text><text x="177.0" y="449.3" font-size="20.5" text-anchor="middle">75°W</text><text x="293.0" y="449.3" font-size="20.5" text-anchor="middle">74°W</text><text x="0.0" y="445.0" font-size="14.2" letter-spacing="0.5" text-anchor="middle">30'</text><text x="116.0" y="445.0" font-size="14.2" letter-spacing="0.5" text-anchor="middle">30'</text><text x="232.0" y="445.0" font-size="14.2" letter-spacing="0.5" text-anchor="middle">30'</text><text x="348.0" y="445.0" font-size="14.2" letter-spacing="0.5" text-anchor="middle">30'</text></g>
</defs>
<g transform="translate(75,142)">
<use href="#labels"/>
<g clip-path="url(#cp)">
<use href="#land"/><path fill="#0000ef" d="M76.8 19.4L78.9 22.2L79.4 18.8zM115.1 136.0L115.9 139.2L117.6 136.4zM115.1 144.4L117.5 146.8L117.6 143.4zM115.3 152.6L118.5 154.1L117.4 150.8zM123.0 144.8L125.9 146.3L125.0 143.1zM123.0 152.7L126.3 154.0L125.0 150.7zM138.2 105.9L141.2 107.7L140.4 104.3zM138.0 112.3L137.9 116.0L140.6 113.4zM138.9 119.2L136.0 121.6L139.7 122.1zM130.5 152.5L133.5 154.3L132.8 150.9zM130.3 159.9L132.7 162.6L133.0 159.0zM145.9 112.1L145.2 115.3L148.0 113.6zM146.5 119.3L143.9 121.6L147.3 121.9zM163.2 72.9L160.0 71.7L161.3 74.8zM138.1 152.3L140.7 154.5L140.5 151.1zM176.1 26.6L176.7 30.3L179.0 27.3zM163.4 81.0L160.6 79.0L161.1 82.4zM177.1 33.4L174.4 35.7L177.9 36.1zM177.5 41.1L174.1 42.8L177.6 44.1zM145.6 151.6L146.6 154.8L148.3 151.8zM146.2 158.3L144.2 161.3L147.7 160.6zM153.6 150.8L152.6 154.1L155.6 152.6zM160.9 136.4L162.8 139.4L163.6 136.0zM160.9 144.0L162.4 147.1L163.6 143.9zM161.5 150.6L159.7 153.5L163.0 152.8zM137.9 244.6L139.8 247.7L140.7 244.2zM168.6 144.0L170.1 147.0L171.2 143.8zM123.6 296.8L121.0 299.0L124.4 299.4zM168.5 151.2L168.7 154.9L171.2 152.2zM123.6 304.4L120.9 306.7L124.4 307.1zM130.3 283.0L132.1 285.9L133.0 282.6zM139.8 258.5L136.5 258.5L138.8 261.0zM168.9 158.5L167.6 161.7L170.8 160.4zM199.1 58.4L200.9 61.4L201.8 58.1zM130.7 289.3L129.1 292.7L132.6 291.5zM199.2 81.2L199.4 84.5L201.7 82.2zM191.6 143.6L191.9 146.8L194.1 144.3zM138.6 330.0L142.3 330.4L140.0 327.4zM184.0 199.0L187.2 200.9L186.4 197.3zM184.2 206.9L187.7 208.0L186.1 204.8zM207.7 307.1L211.3 306.7L208.5 304.4zM230.5 299.4L234.1 299.5L231.7 296.8zM238.3 291.9L242.0 291.3L239.1 289.0zM252.8 291.1L255.4 293.2L255.2 289.8zM252.9 299.1L256.3 300.6L255.1 297.1zM262.8 274.3L259.7 272.4L260.5 275.9zM260.2 290.8L262.5 293.7L263.1 290.1zM275.6 260.3L278.3 262.9L278.3 259.2zM275.6 267.2L276.5 270.6L278.3 267.6zM275.8 274.3L275.0 277.7L278.1 275.9zM283.2 259.3L283.6 262.9L285.9 260.2z"/><path fill="#0000ff" d="M76.6 27.1L78.6 30.5L79.7 26.7zM84.1 11.3L85.9 15.1L87.4 11.2zM84.5 20.0L87.8 22.1L87.1 18.2zM92.8 72.3L89.7 75.3L94.0 75.5zM92.9 80.2L89.9 83.0L94.0 83.2zM100.1 64.7L98.0 68.2L102.0 67.4zM123.4 17.5L120.3 20.4L124.5 20.7zM123.7 25.3L120.1 27.6L124.3 28.6zM137.6 66.1L139.4 70.1L141.0 66.0zM160.6 3.6L162.7 7.3L163.9 3.2zM160.6 26.5L161.3 30.8L163.9 27.4zM161.0 33.7L159.7 37.6L163.4 35.9zM168.4 12.2L172.1 14.6L171.3 10.3zM161.5 41.2L158.9 44.3L163.0 44.1zM168.4 19.8L171.5 22.6L171.4 18.4zM168.3 26.5L169.0 30.5L171.4 27.3zM169.1 33.5L166.9 36.7L170.7 36.1zM176.6 12.7L180.9 13.3L178.4 9.8zM169.5 41.1L166.4 43.5L170.3 44.1zM176.3 20.1L179.9 21.9L178.7 18.1zM137.8 159.1L138.5 163.0L140.8 159.8zM183.7 19.9L187.2 22.4L186.6 18.2zM183.6 26.6L184.4 30.7L186.8 27.3zM191.2 3.6L193.3 7.3L194.5 3.2zM184.3 33.4L181.9 36.8L186.0 36.2zM184.5 41.1L181.5 44.1L185.8 44.2zM199.2 2.5L198.3 6.3L201.7 4.3zM130.5 250.8L128.8 254.8L132.8 253.3zM191.5 59.2L195.0 61.4L194.2 57.3zM191.3 66.3L193.2 69.6L194.3 65.9zM138.8 250.5L135.6 253.2L139.8 253.7zM176.0 152.1L178.4 155.2L179.0 151.3zM176.0 160.0L178.9 163.0L179.1 158.9zM198.9 89.5L200.5 93.2L202.1 89.5zM183.7 152.2L186.2 155.2L186.7 151.2zM183.8 160.5L187.5 162.6L186.5 158.4zM191.2 151.8L193.1 155.4L194.4 151.6zM191.3 160.2L194.6 162.9L194.3 158.7zM146.3 330.2L150.6 330.1L147.6 327.1zM145.9 337.6L149.8 338.8L148.0 335.1zM153.5 337.4L157.1 338.9L155.7 335.2zM153.1 344.2L155.2 347.4L156.1 343.7zM161.1 337.4L164.8 338.9L163.4 335.2zM268.0 49.4L266.8 53.5L270.6 51.5zM275.3 27.0L277.0 30.7L278.6 26.9zM268.8 56.8L265.9 59.5L269.8 59.7zM275.8 36.1L279.9 37.3L278.0 33.5zM268.1 65.1L267.0 68.7L270.4 67.1zM267.8 74.1L269.7 77.4L270.8 73.7zM275.5 51.3L279.0 53.7L278.3 49.5zM268.1 82.7L271.7 84.5L270.5 80.6zM260.5 166.0L258.9 169.8L262.8 168.4zM267.8 143.2L267.5 147.5L270.8 144.7zM278.1 237.7L279.4 234.0L275.8 235.6zM284.7 230.7L288.5 228.8L284.5 227.3z"/><path fill="#0010ff" d="M84.3 2.5L83.7 6.9L87.3 4.3zM76.3 34.6L77.7 38.9L79.9 34.9zM84.1 27.4L86.9 30.9L87.5 26.5zM92.6 64.4L89.5 67.9L94.2 67.7zM99.8 57.0L98.2 61.3L102.4 59.5zM115.4 17.6L112.9 21.4L117.3 20.6zM115.9 25.3L112.5 28.1L116.8 28.6zM107.0 57.3L106.6 62.2L110.4 59.2zM116.3 33.0L112.3 34.9L116.4 36.5zM122.8 9.8L120.7 14.1L125.2 12.7zM107.1 65.3L106.9 69.9L110.3 66.8zM116.3 40.8L112.2 42.8L116.4 44.4zM115.1 49.0L112.9 53.3L117.6 51.9zM124.0 33.0L120.0 34.9L124.0 36.5zM123.7 40.8L119.8 43.3L124.3 44.4zM130.2 18.1L129.2 22.5L133.1 20.1zM130.4 25.5L128.3 29.8L132.9 28.4zM39.0 334.6L35.9 338.3L40.7 338.0zM137.4 19.1L139.3 23.5L141.2 19.1zM145.1 10.6L145.4 15.4L148.7 11.9zM129.8 66.4L132.3 70.3L133.5 65.8zM61.0 298.0L62.5 302.4L64.7 298.2zM145.1 19.2L147.2 23.4L148.8 19.0zM152.9 2.8L153.1 7.3L156.3 4.0zM152.8 11.0L154.0 15.4L156.4 11.5zM152.8 19.2L154.9 23.3L156.4 18.9zM152.8 26.5L153.5 31.0L156.4 27.4zM153.1 33.6L151.9 38.1L156.0 35.9zM160.5 11.5L162.8 15.2L163.9 11.0zM145.5 64.9L144.1 69.4L148.4 67.3zM153.5 41.1L151.0 45.1L155.7 44.1zM160.5 19.4L162.9 23.1L164.0 18.8zM153.6 48.8L150.8 52.8L155.6 52.1zM168.6 4.6L172.6 6.4L171.2 2.2zM161.6 48.7L158.3 51.9L162.9 52.1zM177.1 5.2L181.7 4.3L177.9 1.6zM168.5 49.3L167.1 53.6L171.3 51.6zM184.2 4.9L188.6 5.7L186.2 1.9zM183.9 12.4L187.9 14.2L186.4 10.1zM175.8 50.1L176.7 54.5L179.3 50.8zM191.1 11.5L193.4 15.3L194.5 11.0zM191.0 19.4L193.5 23.3L194.6 18.8zM122.4 251.5L122.6 255.9L125.6 252.6zM183.4 50.4L185.1 54.7L187.0 50.5zM190.9 26.6L192.1 31.4L194.7 27.2zM198.8 10.5L198.8 15.0L202.1 12.0zM129.9 244.5L132.0 248.4L133.4 244.2zM183.4 66.6L186.5 70.1L186.9 65.5zM191.0 50.5L192.9 54.7L194.7 50.4zM129.7 275.0L131.4 279.5L133.5 275.2zM198.6 50.6L200.7 54.8L202.3 50.3zM139.5 277.0L143.7 274.7L139.1 273.2zM168.2 191.2L171.8 194.3L171.5 189.6zM198.7 98.0L202.1 101.3L202.2 96.6zM155.3 253.7L158.5 250.5L153.9 250.4zM177.4 180.9L173.4 182.9L177.6 184.4zM148.7 305.0L145.3 301.8L145.2 306.5zM184.7 181.0L181.3 183.8L185.6 184.4zM138.1 337.6L142.3 339.1L140.5 335.0zM146.6 322.7L150.9 321.8L147.3 319.3zM191.4 181.4L189.8 185.9L194.2 184.0zM191.5 189.2L190.0 193.4L194.1 191.6zM145.3 344.5L148.3 347.7L148.6 343.3zM191.6 196.8L189.8 200.9L194.0 199.4zM145.5 350.4L144.2 355.0L148.4 352.8zM153.9 330.4L158.7 330.3L155.3 326.9zM194.6 212.9L191.2 209.5L191.1 214.3zM153.6 350.1L151.3 353.9L155.6 353.0zM206.9 196.7L204.8 201.0L209.3 199.6zM267.5 34.3L268.2 38.9L271.1 35.3zM267.4 42.3L268.6 47.0L271.2 42.9zM267.7 90.3L271.2 93.1L270.8 88.7zM267.4 97.8L270.5 101.6L271.2 96.8zM275.1 135.9L276.4 140.5L278.8 136.4zM270.1 176.6L273.1 172.9L268.4 173.3zM275.9 157.8L273.1 161.8L277.9 161.1zM263.4 267.0L260.6 263.3L259.9 267.9zM275.8 281.4L273.7 285.5L278.1 284.2zM282.7 274.6L283.4 279.4L286.4 275.6z"/><path fill="#0020ff" d="M76.3 41.8L76.2 46.9L79.9 43.4zM83.8 34.5L85.1 39.3L87.7 35.1zM92.0 12.8L97.0 14.5L94.8 9.7zM84.0 41.5L83.1 46.8L87.6 43.8zM92.5 20.9L97.6 21.1L94.3 17.3zM91.5 27.8L95.4 31.4L95.3 26.1zM85.1 64.1L81.1 67.6L86.4 68.1zM92.3 48.6L89.2 53.0L94.5 52.2zM92.5 56.5L89.4 60.4L94.3 60.0zM106.7 19.5L109.7 23.8L110.7 18.6zM100.1 48.6L96.9 52.8L102.1 52.2zM106.8 26.1L106.7 31.3L110.6 27.8zM107.8 32.9L104.4 36.8L109.6 36.6zM114.6 10.3L114.2 15.3L118.1 12.2zM108.4 40.6L104.0 43.2L109.0 44.6zM107.6 48.8L104.9 53.0L109.8 52.1zM122.1 2.4L121.8 7.8L125.9 4.4zM130.2 1.9L128.1 6.8L133.1 4.9zM114.4 57.8L115.2 62.9L118.3 58.7zM130.2 10.0L128.7 14.7L133.1 12.5zM114.4 66.3L116.8 70.7L118.3 65.9zM38.9 326.8L35.6 330.9L40.8 330.5zM122.5 49.2L121.1 53.9L125.5 51.7zM138.4 1.5L134.8 5.5L140.2 5.3zM121.9 58.3L124.1 63.1L126.1 58.2zM130.8 32.9L127.3 36.7L132.5 36.6zM137.6 10.2L136.8 15.2L141.0 12.3zM38.9 342.2L35.8 346.2L40.8 345.7zM122.1 66.6L125.3 70.5L125.9 65.5zM130.7 40.7L127.2 44.8L132.6 44.5zM53.1 297.9L54.7 303.0L57.3 298.3zM129.7 49.6L129.7 54.8L133.5 51.3zM137.3 26.3L137.8 31.5L141.3 27.6zM145.5 2.0L143.7 6.7L148.3 4.8zM129.7 58.8L133.0 62.7L133.6 57.7zM60.7 290.3L62.4 295.3L64.9 290.6zM145.0 26.4L145.8 31.4L148.8 27.4zM137.6 59.3L141.7 62.1L140.9 57.2zM145.3 33.4L143.8 38.6L148.6 36.1zM145.2 49.4L144.5 54.6L148.7 51.5zM145.0 57.8L146.0 62.7L148.9 58.7zM153.6 56.5L150.5 60.4L155.5 60.0zM154.5 64.0L149.9 66.3L154.7 68.1zM161.8 56.3L157.6 59.3L162.7 60.2zM162.7 64.0L157.4 64.9L161.7 68.2zM167.8 58.0L169.4 63.1L171.9 58.5zM168.5 64.5L166.3 69.3L171.3 67.6zM138.9 180.6L134.4 183.5L139.6 184.8zM176.6 60.2L182.0 60.4L178.4 56.3zM175.5 66.4L178.2 70.8L179.5 65.8zM184.4 60.0L189.3 60.1L186.0 56.5zM191.0 33.8L190.5 38.9L194.6 35.8zM99.9 342.3L97.3 346.7L102.2 345.6zM154.4 165.1L149.7 167.6L154.8 169.3zM191.1 41.5L190.3 46.6L194.6 43.7zM198.5 18.7L199.5 23.6L202.4 19.5zM115.2 304.1L112.5 308.4L117.5 307.4zM162.2 165.1L157.5 167.2L162.2 169.2zM122.9 311.7L120.0 315.9L125.1 315.1zM169.0 173.0L165.3 177.0L170.8 176.9zM168.8 180.9L165.7 185.2L171.0 184.5zM130.3 312.0L128.4 316.6L133.0 314.8zM176.9 173.0L173.1 176.5L178.2 176.8zM198.6 105.9L202.3 109.5L202.3 104.3zM183.9 173.3L181.5 177.8L186.4 176.5zM137.5 344.7L141.1 348.1L141.1 343.1zM137.4 350.7L137.3 355.9L141.1 352.4zM190.9 174.1L190.9 179.4L194.7 175.8zM138.7 357.1L134.5 360.5L139.9 361.2zM198.5 182.3L199.5 187.3L202.5 183.1zM238.2 79.6L233.8 82.7L239.2 83.8zM245.2 79.9L242.2 84.3L247.5 83.5zM213.9 191.2L217.7 194.7L217.6 189.6zM252.7 72.1L249.9 76.8L255.3 75.6zM252.1 80.8L251.9 86.2L255.9 82.6zM223.1 192.5L228.2 191.0L223.7 188.3zM267.2 105.3L269.7 109.9L271.4 104.9zM267.4 128.0L268.2 132.9L271.2 128.9zM275.9 126.6L272.8 130.9L278.0 130.2zM270.4 246.2L273.6 241.9L268.2 242.5zM282.8 266.7L282.8 271.7L286.4 268.2z"/><path fill="#0030ff" d="M76.9 48.6L73.9 53.2L79.3 52.3zM91.5 4.5L96.0 7.7L95.3 2.3zM84.6 48.6L81.6 53.2L87.0 52.2zM85.4 56.1L80.8 59.1L86.1 60.4zM91.4 33.9L91.3 39.5L95.4 35.7zM92.2 40.7L89.1 45.5L94.6 44.5zM100.7 21.4L106.5 19.9L101.4 16.8zM98.9 27.9L103.3 31.9L103.2 26.0zM106.9 4.9L112.2 7.6L110.5 1.9zM106.7 12.2L110.9 15.9L110.7 10.3zM100.6 40.4L95.8 43.8L101.6 44.9zM114.2 3.4L116.4 8.5L118.5 3.4zM38.8 319.1L35.3 323.5L40.9 323.0zM52.9 290.2L54.6 295.8L57.5 290.7zM60.5 282.5L62.1 288.2L65.1 283.1zM137.6 33.2L135.6 38.8L141.0 36.4zM137.1 50.2L138.7 55.5L141.5 50.7zM145.5 41.0L143.1 45.9L148.4 44.3zM68.2 297.9L70.0 303.5L72.8 298.3zM121.7 166.9L123.3 172.5L126.3 167.5zM138.7 172.8L134.3 176.3L139.9 177.1zM137.6 188.9L135.8 194.2L140.9 191.9zM145.9 165.1L142.1 169.5L147.9 169.3zM146.1 172.8L142.0 176.8L147.7 177.0zM145.8 180.7L142.4 185.3L148.1 184.6zM153.6 172.9L149.8 177.3L155.6 177.0zM198.3 26.6L199.8 32.0L202.6 27.2zM107.3 334.4L104.4 339.6L110.1 338.2zM122.2 289.0L120.7 294.5L125.8 291.8zM107.4 342.1L104.4 347.0L110.0 345.8zM161.1 172.9L157.6 177.5L163.3 176.9zM115.1 334.4L112.0 339.1L117.5 338.2zM168.6 165.4L165.6 170.1L171.1 169.0zM206.2 67.3L211.1 70.5L210.0 64.8zM129.5 320.0L129.3 325.9L133.8 322.0zM205.9 74.3L209.2 79.1L210.4 73.4zM141.3 304.9L137.4 301.0L137.3 306.5zM205.8 81.6L207.9 87.2L210.5 81.8zM149.2 290.7L147.5 285.2L144.7 290.2zM198.4 113.3L201.5 117.8L202.6 112.4zM198.2 120.6L200.5 125.9L202.7 120.6zM198.3 127.8L198.9 133.4L202.6 129.1zM198.6 134.9L197.6 140.4L202.3 137.4zM198.6 142.8L197.8 148.4L202.4 145.1zM154.2 323.3L159.9 322.0L155.0 318.8zM186.6 222.9L189.0 218.0L183.8 219.6zM198.3 175.1L200.8 180.0L202.6 174.8zM198.8 188.9L196.9 194.2L202.1 191.9zM252.6 17.3L249.7 22.3L255.4 20.9zM237.4 72.1L234.5 76.8L240.0 75.7zM170.8 307.9L174.8 303.7L169.0 303.6zM245.2 64.1L241.7 68.7L247.5 68.1zM261.2 17.0L256.7 20.1L262.1 21.2zM245.2 72.0L242.1 76.5L247.5 75.7zM254.9 56.1L249.0 56.2L253.1 60.4zM253.9 63.9L248.9 66.2L254.1 68.3zM221.6 184.1L226.7 186.8L225.2 181.2zM263.3 56.7L258.1 54.4L260.0 59.8zM251.7 88.9L252.6 94.7L256.2 90.1zM261.9 63.9L256.6 65.4L261.3 68.2zM260.0 72.5L258.4 77.7L263.3 75.3zM230.1 184.7L235.7 185.0L232.1 180.7zM259.5 82.0L262.3 86.7L263.8 81.4zM259.5 90.3L263.6 94.4L263.8 88.6zM252.1 134.9L251.0 140.7L255.9 137.5zM252.7 142.0L249.4 146.9L255.2 145.9zM259.5 135.3L259.7 141.1L263.8 137.0zM267.1 112.7L268.9 117.9L271.5 113.0zM251.9 166.8L253.2 172.2L256.1 167.6zM260.4 142.0L257.2 146.8L262.9 145.9zM267.1 120.2L268.2 125.8L271.5 121.1zM275.2 103.5L273.2 109.0L278.6 106.7zM267.7 149.9L265.2 155.3L270.8 153.5zM269.2 157.2L264.1 159.5L269.3 161.7zM279.2 190.4L276.9 185.1L274.7 190.4zM263.2 253.6L265.1 248.3L260.0 250.6z"/><path fill="#0040ff" d="M100.5 5.8L106.8 4.6L101.6 0.9zM100.6 13.6L106.6 12.3L101.5 8.9zM99.2 33.2L97.5 39.0L102.9 36.3zM46.1 319.1L42.9 324.3L48.9 323.0zM53.5 319.1L50.8 325.0L56.9 322.9zM137.6 40.9L135.2 46.5L141.0 44.4zM60.3 305.3L61.8 311.6L65.3 306.2zM68.0 290.1L69.7 296.2L72.9 290.8zM129.5 166.2L129.2 172.2L133.8 168.2zM90.9 297.6L92.3 304.0L95.9 298.6zM90.9 305.2L92.2 311.6L95.9 306.3zM98.6 282.7L101.0 288.6L103.6 282.8zM98.5 290.1L100.4 296.3L103.6 290.7zM129.5 189.3L129.1 195.3L133.7 191.5zM137.5 165.5L135.3 171.3L141.0 168.9zM98.5 297.6L99.8 303.9L103.6 298.6zM98.6 305.2L99.7 311.5L103.5 306.3zM106.2 282.6L108.3 288.7L111.2 282.9zM98.6 312.8L99.7 319.1L103.5 314.0zM98.6 320.4L99.5 326.8L103.5 321.7zM113.9 274.8L115.7 280.9L118.8 275.4zM99.5 334.5L96.8 340.0L102.7 338.1zM144.8 189.4L144.6 195.5L149.1 191.4zM114.6 296.3L112.1 302.2L118.1 299.9zM121.5 274.8L123.3 280.9L126.5 275.4zM205.7 3.5L208.5 8.9L210.5 3.2zM152.7 181.2L151.1 187.2L156.5 184.2zM198.1 34.6L200.0 40.4L202.9 35.0zM152.1 190.7L155.3 196.2L157.1 190.1zM198.1 42.6L200.4 48.2L202.9 42.6zM214.0 5.0L219.6 7.5L217.5 1.8zM160.1 181.4L159.3 187.6L164.4 183.9zM114.9 341.9L111.6 347.4L117.8 346.0zM221.7 5.3L227.8 7.3L225.1 1.5zM206.4 59.9L211.9 62.3L209.8 56.6zM175.3 166.3L175.4 172.3L179.7 168.1zM182.7 167.0L184.6 172.9L187.6 167.4zM214.8 68.5L221.3 68.2L216.7 63.7zM213.7 75.5L219.4 78.6L217.8 72.3zM190.4 167.4L193.2 172.9L195.3 167.0zM198.1 167.7L201.6 172.8L202.9 166.7zM228.7 66.9L233.0 71.6L233.4 65.2zM243.9 18.4L244.8 24.7L248.8 19.8zM228.7 73.4L230.0 79.4L233.4 74.4zM229.1 80.3L227.8 86.3L233.0 83.1zM236.2 57.7L237.5 64.1L241.2 58.8zM236.6 64.9L236.1 71.0L240.8 67.2zM199.8 195.8L195.0 199.6L201.1 200.5zM253.0 24.6L248.6 29.3L255.0 29.2zM202.5 204.3L196.9 201.0L198.4 207.4zM245.2 56.1L241.3 61.0L247.5 60.4zM259.1 11.0L261.0 17.1L264.2 11.5zM238.6 86.9L232.7 89.8L238.8 92.1zM221.7 142.1L219.1 147.9L225.1 145.8zM261.4 24.6L256.1 27.6L261.9 29.3zM245.1 87.4L241.5 92.4L247.6 91.6zM229.2 142.1L226.8 148.2L232.9 145.8zM262.6 48.1L256.1 48.2L260.7 52.8zM237.3 134.1L233.8 139.5L240.1 138.3zM251.5 97.1L253.6 103.1L256.5 97.5zM244.7 134.4L242.2 140.0L248.0 138.0zM244.7 142.1L242.0 147.7L248.0 145.8zM259.7 98.7L264.9 101.8L263.6 95.9zM208.6 300.5L213.7 296.8L207.6 295.7zM246.6 277.5L251.9 274.6L246.1 272.7zM245.9 285.3L252.2 283.8L246.8 280.2zM256.4 267.8L254.9 261.9L251.6 267.0zM264.2 259.7L261.6 253.8L259.1 259.7z"/><path fill="#0000cf" d="M100.8 73.0L99.1 74.4L101.3 74.7zM100.7 96.5L99.1 98.1L101.4 98.1zM107.8 73.4L107.6 75.9L109.6 74.4zM100.2 104.5L99.6 107.0L101.9 105.7zM107.9 81.2L107.7 83.6L109.5 82.1zM107.8 89.1L107.9 91.5L109.6 89.9zM107.8 97.0L108.1 99.4L109.6 97.6zM107.7 104.8L108.0 107.3L109.7 105.4zM115.4 82.2L117.6 83.8L117.3 81.2zM107.7 112.5L107.8 115.1L109.7 113.2zM115.5 90.0L117.6 91.5L117.2 88.9zM115.5 97.9L117.7 99.2L117.2 96.7zM115.4 105.1L116.5 107.3L117.3 105.0zM123.1 82.3L125.3 83.8L124.9 81.1zM115.7 112.2L114.8 114.3L117.0 113.5zM123.2 90.2L125.8 91.3L124.8 88.7zM116.3 119.8L114.3 120.7L116.4 121.5zM130.7 73.7L131.2 76.2L132.6 74.1zM123.0 105.4L124.7 107.4L125.0 104.8zM130.7 81.4L130.9 83.8L132.5 82.0zM123.4 112.1L122.2 114.3L124.6 113.6zM130.6 89.8L132.4 91.9L132.7 89.2zM124.3 119.8L122.0 119.9L123.7 121.5zM138.7 73.2L137.8 75.3L139.9 74.5zM138.2 89.3L138.9 91.9L140.3 89.7zM146.8 72.8L144.5 74.2L147.1 74.9zM147.2 80.7L144.6 81.2L146.7 82.7zM138.8 137.0L141.1 137.4L139.8 135.4zM138.9 144.8L141.3 144.8L139.7 143.1zM153.6 96.9L153.7 99.6L155.6 97.7zM153.6 104.7L153.7 107.4L155.6 105.4zM146.2 144.7L148.7 145.7L147.7 143.2zM161.5 96.6L160.7 99.1L163.0 98.0zM161.5 104.5L160.8 106.9L163.0 105.7zM161.8 112.0L160.1 113.9L162.7 113.8zM162.1 119.6L159.8 120.9L162.4 121.7zM178.3 81.1L176.1 79.8L176.7 82.3zM170.3 119.7L167.6 119.7L169.5 121.6zM184.7 73.0L183.2 74.9L185.6 74.7zM185.5 80.8L183.2 80.9L184.8 82.5zM191.9 89.1L191.9 91.7L193.8 89.9zM132.0 297.1L129.3 297.3L131.3 299.1zM145.9 251.7L146.1 254.4L147.9 252.4zM176.6 190.7L178.1 192.5L178.4 190.2zM184.3 190.1L184.4 192.5L186.1 190.7zM192.7 204.8L190.4 206.1L192.9 206.9zM230.1 306.0L231.7 308.0L232.0 305.5zM269.7 252.9L271.2 251.2L268.9 251.3zM261.6 281.8L259.4 282.9L261.7 283.7zM277.7 244.9L278.0 242.7L276.2 243.9z"/><path fill="#0000bf" d="M101.0 80.9L99.2 81.7L101.1 82.5zM100.9 88.7L99.1 89.9L101.2 90.3zM139.0 80.9L137.4 82.3L139.6 82.5zM192.2 73.4L191.6 75.4L193.5 74.4zM192.5 80.9L191.0 82.5L193.2 82.5zM139.0 266.6L137.4 268.0L139.5 268.2zM147.5 259.2L145.6 258.5L146.4 260.3zM239.3 297.8L238.0 296.7L238.1 298.4zM253.3 283.0L254.5 284.5L254.7 282.6zM269.1 266.7L267.5 267.8L269.4 268.2zM284.1 251.5L283.4 253.1L285.0 252.6z"/><path fill="#0070ff" d="M21.8 342.8L21.9 350.4L27.4 345.1zM30.0 326.6L27.5 334.0L34.5 330.7zM44.8 304.6L44.8 312.2L50.3 306.9zM52.4 334.7L51.4 342.8L58.0 337.9zM52.3 342.5L51.8 350.6L58.0 345.4zM75.2 274.1L75.7 281.8L81.0 276.1zM60.2 327.1L59.2 334.7L65.4 330.2zM60.0 335.4L60.6 343.0L65.7 337.3zM67.6 312.2L67.8 319.9L73.3 314.6zM67.9 319.4L66.6 327.0L73.1 322.7zM82.8 274.2L83.7 282.0L88.7 276.0zM67.7 327.4L67.4 335.1L73.2 330.0zM75.2 312.5L76.1 320.2L81.0 314.3zM75.2 319.9L75.5 327.9L81.0 322.2zM113.7 289.0L113.0 296.7L119.0 291.9zM106.0 319.7L105.5 327.4L111.4 322.4zM99.0 349.2L95.7 356.4L103.1 353.9zM205.8 24.9L203.5 32.3L210.4 28.9zM205.6 32.8L203.5 40.5L210.6 36.7zM205.3 41.3L205.0 49.2L210.9 43.9zM214.7 16.2L209.0 21.5L216.8 22.0zM140.5 285.6L145.8 280.0L138.1 280.0zM214.8 31.8L208.8 37.0L216.7 37.8zM213.8 40.3L210.3 47.2L217.7 44.9zM222.3 16.2L216.7 21.7L224.5 22.0zM128.9 327.3L128.4 335.1L134.4 330.1zM222.8 23.9L216.4 28.4L224.0 30.0zM157.1 261.6L158.8 253.9L152.1 257.9zM128.9 334.9L128.3 342.8L134.4 337.8zM128.8 342.4L128.2 350.5L134.5 345.4zM176.5 201.0L184.2 200.5L178.5 195.3zM235.9 2.1L235.8 10.0L241.5 4.6zM205.4 114.3L211.4 119.1L210.8 111.4zM205.2 121.7L210.6 127.3L211.0 119.6zM213.6 107.2L220.8 110.2L218.0 102.9zM243.3 3.5L246.7 10.6L249.4 3.2zM213.5 115.0L220.8 118.1L218.0 110.7zM213.4 122.7L220.5 126.1L218.1 118.6zM220.5 98.3L225.8 104.1L226.3 96.3zM205.3 150.3L204.9 158.2L210.9 153.1zM220.6 106.4L226.6 111.7L226.2 103.7zM251.7 5.4L258.7 8.6L256.2 1.4zM205.1 158.7L206.3 166.4L211.1 160.2zM220.8 114.5L227.3 119.0L226.1 111.2zM220.9 122.4L227.6 126.5L225.9 118.9zM228.7 95.4L226.6 102.8L233.4 99.2zM228.4 103.5L227.5 111.3L233.8 106.6zM228.1 112.1L229.2 119.7L234.0 113.6zM238.4 102.0L231.6 105.7L239.0 108.1zM228.4 150.3L227.8 157.9L233.7 153.1zM228.0 158.9L229.7 166.6L234.1 160.0zM228.0 167.5L231.7 174.3L234.1 166.9zM194.8 300.4L198.2 293.4L190.8 295.8zM228.2 176.0L233.5 181.5L233.9 173.9zM243.6 150.1L242.7 158.1L249.1 153.3zM261.4 123.7L268.7 121.2L261.9 117.6zM252.5 149.1L247.9 155.3L255.5 154.3zM262.4 177.9L268.5 173.1L260.9 172.0zM271.1 239.2L275.2 232.4L267.4 234.1z"/><path fill="#0060ff" d="M37.2 296.9L37.1 304.4L42.6 299.3zM30.2 334.2L27.4 341.1L34.3 338.4zM38.0 311.3L35.0 317.7L41.7 315.5zM30.1 341.9L27.5 349.0L34.4 346.0zM45.3 311.4L43.0 318.6L49.8 315.3zM45.7 334.1L42.5 340.7L49.4 338.5zM52.7 311.7L51.3 319.2L57.7 315.0zM45.5 341.8L42.5 348.6L49.5 346.1zM52.9 326.8L50.7 333.9L57.4 330.6zM60.2 312.0L59.6 319.6L65.5 314.8zM75.3 281.9L76.2 289.3L80.9 283.6zM75.4 289.8L76.6 296.9L80.9 291.1zM60.0 343.1L60.9 350.6L65.7 344.8zM75.3 305.1L76.7 312.2L80.9 306.4zM82.9 282.1L84.2 289.4L88.6 283.4zM67.7 335.4L68.3 342.8L73.2 337.3zM83.0 289.9L84.4 296.8L88.5 291.0zM67.7 343.0L68.3 350.3L73.2 344.9zM75.3 327.7L75.8 335.2L80.9 329.7zM75.4 335.4L75.9 342.5L80.8 337.2zM83.0 312.7L84.2 319.8L88.5 314.1zM82.9 320.2L83.9 327.6L88.6 321.8zM83.0 327.6L83.1 335.1L88.5 329.8zM83.2 334.9L82.6 342.4L88.4 337.7zM83.3 342.4L82.3 349.7L88.2 345.4zM90.8 327.3L90.3 334.8L96.1 330.0zM113.6 258.5L113.5 266.0L119.1 261.0zM91.2 334.5L89.2 341.3L95.6 338.1zM131.6 216.6L138.6 213.8L131.7 210.6zM105.9 289.6L106.7 297.0L111.5 291.3zM113.6 266.7L114.6 273.8L119.1 268.2zM132.5 224.0L137.9 219.3L130.8 218.6zM106.1 296.7L105.4 304.1L111.3 299.5zM98.6 327.2L97.5 334.5L103.6 330.2zM131.5 231.8L138.2 229.3L131.8 226.1zM106.1 304.3L105.3 311.7L111.3 307.2zM121.5 258.3L120.5 265.6L126.5 261.2zM106.0 312.0L105.5 319.6L111.4 314.8zM139.4 216.6L146.2 213.4L139.2 210.6zM121.3 266.5L121.8 273.8L126.7 268.4zM139.9 224.2L146.0 219.8L138.7 218.4zM106.5 326.8L104.3 333.8L110.9 330.6zM139.1 231.9L146.1 229.3L139.4 226.1zM128.9 266.1L128.6 273.7L134.4 268.7zM114.2 319.0L111.6 326.1L118.5 323.1zM205.9 17.2L203.7 24.2L210.3 21.0zM121.8 319.0L119.3 326.2L126.2 323.1zM122.0 326.6L119.1 333.3L126.0 330.8zM220.6 10.7L222.2 17.7L226.2 11.7zM121.9 341.8L119.1 348.9L126.1 346.0zM213.0 51.2L217.4 56.8L218.5 49.7zM228.3 4.0L232.5 9.8L233.8 2.8zM228.2 10.8L230.0 17.8L233.9 11.7zM221.9 40.0L217.3 46.1L224.9 45.2zM228.5 17.6L227.7 24.9L233.6 20.5zM205.7 98.8L211.5 102.9L210.5 95.8zM220.6 50.9L224.5 57.0L226.2 50.0zM229.0 24.9L226.2 31.8L233.1 29.0zM205.7 106.7L211.9 110.8L210.6 103.4zM229.5 32.2L225.1 38.4L232.6 37.3zM235.8 10.9L237.8 18.0L241.6 11.6zM213.3 90.8L218.8 95.3L218.2 88.2zM229.3 40.2L225.5 46.7L232.8 45.0zM213.5 99.2L220.3 102.6L218.0 95.3zM228.3 50.0L229.9 56.8L233.8 50.9zM205.1 128.1L207.5 135.3L211.1 128.7zM236.0 26.4L237.4 33.3L241.4 27.5zM205.6 134.7L204.7 141.9L210.6 137.7zM236.4 33.1L234.7 40.2L241.0 36.5zM243.6 10.9L245.6 17.7L249.1 11.6zM220.6 90.1L224.9 96.0L226.2 88.8zM205.9 142.2L204.1 149.1L210.3 145.7zM236.7 40.5L233.7 47.2L240.7 44.7zM212.8 128.8L216.6 135.2L218.7 128.1zM244.6 32.5L241.1 38.9L248.1 37.0zM205.2 166.9L207.5 174.0L211.0 167.5zM245.1 40.0L240.3 45.6L247.6 45.2zM213.8 149.7L211.1 156.3L217.8 153.7zM220.5 128.5L223.7 135.1L226.3 128.3zM260.4 6.1L267.8 6.3L262.9 0.7zM253.3 32.1L247.7 36.4L254.7 37.5zM205.3 189.6L206.2 197.0L210.9 191.2zM253.8 39.7L247.3 43.1L254.2 45.5zM228.1 120.5L230.7 127.6L234.0 120.8zM239.1 94.3L231.8 96.4L238.3 100.3zM237.3 110.2L232.6 116.1L240.1 115.5zM261.5 39.8L255.0 43.0L261.8 45.5zM236.5 118.8L234.4 125.7L240.9 122.5zM244.3 103.1L241.6 109.9L248.4 107.1zM243.6 111.9L244.1 119.3L249.1 113.8zM243.4 120.7L246.6 127.4L249.3 120.6zM251.8 114.8L258.4 117.9L256.1 111.0zM252.5 123.3L260.1 124.1L255.5 118.0zM239.0 185.5L245.2 182.1L238.4 179.9zM260.8 115.6L268.0 114.9L262.5 110.1zM243.6 168.2L248.6 173.5L249.1 166.2zM254.3 177.9L260.8 174.2L253.7 172.0zM261.0 148.8L255.0 153.2L262.3 154.6zM272.0 191.6L272.0 184.1L266.6 189.2z"/><path fill="#009fff" d="M20.9 350.3L21.7 360.1L28.3 352.8zM44.6 356.6L41.6 365.9L50.4 361.7zM52.2 364.4L49.5 373.8L58.2 369.2zM59.8 364.4L57.3 373.8L65.9 369.2zM67.3 364.5L65.2 374.1L73.6 369.1zM74.7 349.9L74.3 359.6L81.6 353.2zM74.7 357.4L73.9 367.0L81.5 361.0zM74.9 364.6L73.1 374.2L81.3 368.9zM75.3 372.0L72.6 380.9L80.9 376.8zM130.7 240.3L140.0 238.8L132.6 233.1zM89.7 388.6L91.1 398.3L97.1 390.6zM106.0 349.0L102.7 357.9L111.4 354.2zM97.4 381.1L98.9 390.6L104.7 383.0zM97.4 388.8L99.1 398.2L104.8 390.5zM97.4 396.4L99.3 405.8L104.7 398.0zM113.6 379.4L110.3 388.4L119.1 384.6zM149.4 285.6L153.5 277.0L144.5 280.0zM172.3 301.1L176.8 292.5L167.5 295.1zM271.8 231.8L275.8 223.1L266.8 226.2z"/><path fill="#008fff" d="M21.1 358.4L22.8 367.2L28.0 360.0zM37.4 356.6L34.0 364.8L42.3 361.7zM67.8 372.0L64.9 380.5L73.1 376.8zM90.7 349.1L87.7 357.8L96.1 354.0zM138.6 209.4L147.5 207.4L140.0 202.3zM138.4 240.1L147.3 238.8L140.2 233.2zM142.8 297.8L138.6 289.8L135.7 298.4zM150.5 297.6L145.9 289.8L143.4 298.5zM177.7 224.9L186.0 220.8L177.3 217.6zM211.6 205.3L206.8 197.8L204.7 206.4zM235.5 161.0L242.4 166.9L241.9 157.9zM232.8 193.4L238.1 186.4L229.3 187.4zM235.7 169.0L242.9 174.1L241.7 165.4zM242.9 158.8L244.9 167.5L249.8 160.1zM231.6 293.9L239.0 289.1L230.5 287.0zM285.9 224.5L292.0 218.2L283.3 218.1z"/><path fill="#0050ff" d="M44.9 297.5L46.2 304.2L50.1 298.7zM45.9 326.6L42.6 332.4L49.1 330.8zM52.5 305.1L53.6 312.0L57.8 306.4zM67.8 274.5L69.2 281.3L73.1 275.7zM67.9 282.3L69.3 288.8L73.1 283.3zM60.8 319.2L58.6 325.8L64.9 322.9zM67.8 305.2L69.3 311.9L73.1 306.2zM75.4 297.6L77.0 304.3L80.8 298.6zM83.1 297.6L84.6 304.3L88.4 298.6zM83.1 305.2L84.4 312.0L88.5 306.3zM90.7 282.5L92.7 289.1L96.1 283.1zM90.8 290.1L92.5 296.5L96.0 290.8zM75.5 343.0L75.8 350.0L80.7 344.9zM90.9 312.9L92.2 319.3L96.0 313.9zM90.8 320.4L91.9 327.1L96.0 321.7zM123.9 231.7L130.4 229.2L124.1 226.2zM91.6 342.1L89.1 348.2L95.2 345.8zM113.8 282.5L115.6 288.7L118.9 283.1zM121.4 282.4L123.2 288.8L126.6 283.1zM129.6 258.0L127.6 264.6L133.7 261.5zM114.4 311.4L111.7 317.9L118.3 315.4zM205.6 10.4L206.1 17.1L210.6 12.1zM114.7 326.6L111.5 332.5L118.0 330.8zM213.1 10.6L214.3 17.4L218.4 11.9zM159.9 191.6L165.0 195.9L164.6 189.2zM145.5 246.6L152.1 247.8L148.4 242.2zM205.4 50.9L209.1 56.7L210.8 50.0zM122.2 334.2L119.1 340.4L125.8 338.4zM215.3 60.8L221.7 59.4L216.2 55.7zM205.6 90.1L209.6 95.3L210.6 88.8zM213.2 82.4L217.4 87.6L218.3 81.0zM222.9 60.9L229.6 59.5L223.9 55.6zM222.4 68.5L229.1 68.4L224.4 63.6zM236.0 19.5L239.7 25.4L241.4 18.7zM221.2 75.3L226.7 79.0L225.6 72.5zM197.8 151.4L199.7 157.8L203.1 152.0zM220.8 82.0L224.2 87.9L226.1 81.4zM197.9 160.2L202.3 165.5L203.1 158.7zM228.9 59.7L234.4 63.4L233.2 56.8zM164.9 298.8L163.9 292.0L159.6 297.4zM236.3 49.1L235.6 56.0L241.1 51.8zM244.1 25.5L243.0 32.1L248.6 28.4zM213.3 134.9L212.8 141.9L218.2 137.5zM251.3 11.0L253.4 17.4L256.6 11.5zM228.9 87.8L227.2 94.5L233.2 91.1zM213.9 142.1L211.5 148.3L217.6 145.8zM205.3 175.1L208.5 181.4L210.9 174.8zM245.1 48.1L240.8 53.3L247.6 52.8zM205.4 182.8L208.4 189.1L210.9 182.5zM213.9 157.5L211.2 163.8L217.6 161.4zM221.1 134.8L220.2 141.5L225.7 137.6zM213.3 166.2L213.4 172.9L218.2 168.2zM213.1 175.1L216.1 181.1L218.4 174.8zM221.5 149.7L218.6 156.1L225.3 153.7zM254.4 47.9L248.0 49.5L253.6 53.0zM228.5 127.3L228.5 134.4L233.6 129.5zM213.2 183.5L217.6 188.7L218.3 181.9zM221.6 157.5L218.8 163.7L225.2 161.4zM229.2 134.4L226.9 140.6L232.9 138.0zM261.2 32.1L255.4 35.9L262.1 37.5zM220.9 166.3L221.2 173.1L225.9 168.1zM245.0 94.9L240.8 100.5L247.7 99.7zM220.7 175.3L224.3 181.2L226.1 174.6zM236.9 126.4L234.0 132.6L240.5 130.4zM236.8 142.2L234.6 148.4L240.6 145.7zM243.9 127.4L244.0 134.1L248.8 129.4zM251.4 105.8L255.7 111.1L256.6 104.3zM236.9 177.1L243.6 179.1L240.5 172.8zM251.4 129.0L255.4 134.4L256.6 127.8zM260.1 107.1L266.5 108.7L263.2 103.0zM245.6 177.5L252.3 176.7L247.1 172.4zM259.4 129.8L265.0 133.7L263.9 127.0zM222.9 308.4L229.6 306.9L223.9 303.1zM278.0 231.4L282.5 226.5L275.9 226.6z"/><path fill="#00bfff" d="M28.8 349.3L26.7 359.4L35.5 354.0zM28.6 357.4L27.4 367.7L35.7 361.4zM51.6 349.5L50.1 359.8L58.6 353.9zM89.8 372.5L88.5 382.8L96.8 376.6zM89.6 380.5L89.8 390.9L97.2 383.6zM146.5 217.6L156.5 215.1L147.7 209.6zM97.2 373.0L96.9 383.3L104.6 376.4zM105.3 356.9L103.0 367.0L111.9 361.7zM105.1 364.8L103.3 375.0L111.9 369.3zM105.0 372.6L103.5 382.8L112.0 376.8zM112.9 349.4L110.8 359.5L119.6 354.1zM97.1 403.5L97.2 413.9L104.7 406.7zM105.0 380.3L103.9 390.6L112.1 384.3zM104.9 388.1L104.4 398.5L112.2 391.7zM112.6 365.2L111.8 375.5L119.8 369.0zM104.8 395.9L104.9 406.2L112.4 399.0zM155.2 248.4L164.3 243.5L154.4 240.3zM120.3 349.8L119.1 360.1L127.4 353.9zM104.9 403.2L103.9 413.5L112.1 407.1zM120.2 365.3L119.8 375.6L127.6 368.7zM112.9 395.0L111.0 405.1L119.7 399.5zM120.5 372.2L118.5 382.4L127.2 376.9zM127.9 349.8L126.9 360.1L135.1 353.8zM112.9 402.6L110.9 412.8L119.6 407.2zM127.9 357.4L126.8 367.7L135.1 361.4zM113.0 410.0L110.5 420.0L119.5 415.0zM127.8 365.3L127.4 375.6L135.2 368.8zM113.2 417.3L110.1 427.2L119.4 422.6zM127.8 373.0L128.0 383.3L135.4 376.1zM120.6 402.5L118.5 412.6L127.3 407.2zM120.3 410.6L118.8 420.9L127.3 414.9zM166.0 291.9L166.0 281.6L158.5 288.7zM120.1 426.1L119.7 436.5L127.5 429.6zM210.9 293.5L216.2 284.6L206.1 286.8zM264.9 192.9L268.4 183.2L258.9 187.3zM272.4 224.0L275.8 214.2L266.4 218.4zM279.2 224.7L285.7 216.7L275.4 217.5z"/><path fill="#0000df" d="M115.3 74.3L117.2 76.3L117.4 73.5zM107.7 120.2L107.6 123.0L109.7 121.1zM123.0 74.3L125.0 76.3L125.0 73.4zM107.6 128.1L107.9 130.9L109.8 128.8zM107.6 136.0L108.2 138.8L109.8 136.4zM123.4 98.2L126.1 98.7L124.6 96.4zM115.6 127.6L114.5 130.1L117.1 129.2zM131.0 98.3L133.9 98.8L132.3 96.3zM123.3 127.6L122.0 130.0L124.7 129.3zM130.6 105.6L132.9 107.6L132.7 104.5zM115.8 160.6L118.9 160.8L116.9 158.3zM122.7 136.3L124.3 139.1L125.3 136.0zM130.7 112.1L129.9 115.1L132.6 113.6zM131.7 119.4L128.8 120.6L131.6 121.8zM138.5 98.3L141.7 99.0L140.0 96.3zM130.6 127.8L130.3 130.7L132.6 129.0zM123.2 160.5L126.3 161.3L124.8 158.4zM130.7 136.8L133.0 138.4L132.6 135.6zM146.1 88.8L145.2 91.4L147.8 90.2zM131.0 144.8L133.7 145.5L132.3 143.1zM145.8 97.7L147.8 99.9L148.1 96.9zM155.2 72.8L152.0 72.5L154.0 75.0zM138.1 128.2L138.9 131.2L140.5 128.6zM145.7 105.3L147.4 107.9L148.2 104.9zM155.4 80.7L152.4 79.8L153.8 82.6zM154.3 88.4L152.0 90.2L154.9 90.6zM145.8 128.1L146.2 131.2L148.1 128.7zM146.1 136.9L148.7 138.1L147.7 135.4zM153.9 112.0L152.6 114.5L155.3 113.7zM162.3 88.3L159.5 89.3L162.1 90.7zM154.3 119.5L152.0 121.4L154.9 121.8zM170.3 72.8L167.2 72.9L169.4 75.0zM153.5 127.9L153.4 131.0L155.7 128.9zM170.9 81.0L168.4 79.4L168.9 82.3zM153.4 136.7L155.9 138.9L155.7 135.6zM169.7 88.3L167.2 89.9L170.0 90.6zM153.4 144.4L155.6 146.7L155.8 143.5zM168.8 96.9L169.1 99.8L171.0 97.6zM177.5 72.8L175.0 74.1L177.6 75.0zM161.3 127.7L160.5 130.7L163.2 129.1zM168.9 104.6L168.7 107.4L170.9 105.6zM154.8 158.3L151.9 159.0L154.4 160.6zM169.6 111.8L167.5 113.6L170.2 113.9zM177.1 88.4L175.0 90.5L177.9 90.6zM176.3 97.4L177.8 100.2L178.8 97.2zM169.3 127.4L167.5 129.8L170.5 129.4zM176.3 104.8L176.9 107.9L178.8 105.4zM162.7 158.4L159.8 158.5L161.8 160.5zM168.6 136.0L169.4 139.1L171.2 136.4zM177.4 111.7L174.8 113.2L177.7 114.0zM184.4 88.7L183.3 91.2L185.9 90.3zM178.4 120.0L176.0 118.6L176.7 121.3zM184.0 97.6L186.0 100.1L186.4 96.9zM177.4 127.3L174.9 128.7L177.6 129.5zM183.9 105.1L185.1 108.1L186.5 105.1zM176.5 135.7L176.3 138.7L178.6 136.7zM184.6 111.8L182.7 114.2L185.8 113.9zM199.2 66.0L200.4 69.0L201.7 66.1zM176.3 144.1L177.8 146.8L178.8 143.8zM185.6 119.6L182.7 119.6L184.7 121.7zM191.7 97.7L193.7 99.9L193.9 96.9zM199.3 73.6L199.7 76.7L201.7 74.2zM131.4 304.5L128.8 306.3L131.9 307.0zM184.8 127.3L182.5 129.2L185.5 129.5zM191.6 105.3L193.4 107.9L194.0 104.8zM184.2 135.5L183.7 138.5L186.2 136.8zM140.5 290.1L138.6 287.5L138.0 290.7zM191.7 112.4L191.6 115.5L194.0 113.4zM148.0 268.0L148.3 264.9L145.8 266.9zM183.9 143.9L185.0 146.9L186.4 144.0zM192.1 119.6L190.4 122.3L193.5 121.7zM191.9 127.5L190.8 130.5L193.7 129.3zM191.8 135.5L191.2 138.6L193.9 136.9zM138.9 322.2L142.0 321.9L139.6 319.9zM154.1 314.4L157.0 314.6L155.1 312.3zM185.0 214.7L187.8 214.0L185.4 212.4zM169.6 314.4L172.3 314.0L170.2 312.3zM215.9 199.4L218.6 197.8L215.6 196.9zM245.5 291.3L248.3 292.3L247.2 289.6zM269.1 274.0L266.8 275.5L269.5 276.2zM268.7 281.6L266.7 284.2L269.9 283.9z"/><path fill="#0080ff" d="M37.8 349.1L34.2 356.5L42.0 354.0zM98.9 356.7L95.2 364.1L103.2 361.7zM90.1 396.7L92.1 405.0L96.8 397.7zM149.1 277.5L152.6 270.0L144.7 272.7zM106.3 417.5L102.9 425.4L111.1 422.4zM176.9 209.1L185.0 207.3L178.2 202.6zM176.9 216.9L185.2 215.0L178.1 210.3zM157.9 297.9L154.1 290.4L151.3 298.3zM235.5 151.2L237.6 159.2L241.9 152.2zM203.7 298.9L202.3 290.6L197.3 297.3zM252.4 156.5L247.1 163.2L255.6 162.4zM262.6 156.4L254.5 157.3L260.7 162.5zM249.2 269.1L250.2 260.7L243.5 265.8z"/><path fill="#00afff" d="M36.8 364.3L34.2 373.9L42.9 369.2zM44.7 349.0L41.5 358.2L50.4 354.2zM44.5 364.4L41.9 373.8L50.5 369.2zM51.9 356.8L49.7 366.8L58.5 361.5zM59.2 349.8L58.8 360.1L66.5 353.3zM59.4 357.1L58.0 367.2L66.3 361.2zM66.9 349.9L66.5 359.8L74.0 353.3zM67.0 357.3L66.0 367.2L73.9 361.1zM82.5 349.5L80.9 359.2L89.1 353.7zM82.5 357.0L80.7 366.7L89.0 361.4zM123.1 240.4L132.7 238.8L124.9 232.9zM137.9 201.9L148.0 201.3L140.7 194.4zM97.9 364.2L95.0 374.1L104.2 369.4zM146.5 225.2L156.1 222.3L147.4 217.3zM112.5 357.8L113.1 368.0L120.1 360.6zM98.1 409.8L95.1 419.3L104.0 414.9zM113.1 371.9L110.5 381.9L119.6 376.9zM120.2 357.9L121.1 367.9L127.8 360.4zM105.6 409.8L102.8 419.6L111.8 414.9zM113.2 387.1L110.5 396.8L119.5 392.1zM121.0 379.4L118.0 388.9L127.0 384.6zM120.9 387.1L118.2 396.7L127.1 392.1zM224.4 302.0L232.5 295.7L222.4 294.2z"/><path fill="#00ffff" d="M123.9 198.9L126.0 199.1L125.7 202.4L135.6 199.2L126.5 194.2L126.2 197.6L124.1 197.4zM123.9 206.6L126.1 206.9L125.7 210.2L135.7 207.4L126.8 202.1L126.3 205.4L124.1 205.1zM146.8 237.4L148.9 237.8L148.3 241.1L158.3 238.6L149.7 233.0L149.1 236.3L147.1 235.9zM169.7 198.9L171.8 199.3L171.1 202.6L181.2 200.6L172.8 194.6L172.1 197.9L170.0 197.4zM155.2 267.8L156.3 266.1L159.1 267.9L160.8 257.7L152.3 263.5L155.1 265.3L154.0 267.0zM162.8 252.5L164.2 250.6L166.9 252.6L169.2 242.5L160.3 247.8L163.0 249.8L161.6 251.6zM170.5 290.9L171.9 289.0L174.5 291.0L176.9 280.9L168.0 286.1L170.6 288.1L169.3 290.0zM239.3 267.9L240.8 266.3L243.2 268.5L246.5 258.7L237.1 263.0L239.6 265.3L238.1 266.9zM262.4 198.3L262.9 196.0L266.1 196.7L264.0 186.5L258.1 195.0L261.4 195.7L260.9 198.0z"/><path fill="#00dfff" d="M131.4 198.9L132.8 199.2L131.9 202.4L142.2 201.0L134.1 194.6L133.2 197.8L131.8 197.4zM146.8 206.6L147.9 206.8L147.3 210.1L157.4 208.0L148.9 202.1L148.2 205.4L147.1 205.1zM155.2 283.2L156.0 282.0L158.8 283.9L160.7 273.7L152.0 279.3L154.8 281.1L154.0 282.3zM216.0 298.8L217.1 298.5L218.0 301.7L226.0 295.1L215.8 293.8L216.7 297.0L215.6 297.4zM238.9 283.5L240.2 283.1L241.2 286.3L249.0 279.5L238.7 278.5L239.7 281.7L238.5 282.1zM270.0 198.2L270.2 197.0L273.5 197.4L270.8 187.5L265.4 196.3L268.7 196.8L268.5 198.0zM254.6 252.5L255.3 251.5L258.0 253.4L260.0 243.2L251.3 248.8L254.0 250.7L253.4 251.6z"/><path fill="#00cfff" d="M131.5 210.0L141.6 207.7L133.0 202.0zM147.0 233.1L157.1 230.6L148.3 225.1zM120.0 418.7L119.4 429.0L127.3 422.4zM249.0 185.9L255.2 177.6L244.9 178.8zM264.4 247.5L270.7 239.4L260.5 240.4z"/><path fill="#00efff" d="M146.7 198.8L148.4 199.4L147.4 202.6L157.7 201.5L149.8 194.8L148.8 197.9L147.2 197.4zM177.8 229.7L179.6 228.8L181.0 231.9L187.9 224.2L177.6 224.5L179.0 227.5L177.2 228.3zM223.9 198.7L225.2 197.4L227.5 199.8L231.5 190.3L221.8 194.0L224.2 196.4L222.9 197.6zM270.0 206.1L270.5 204.4L273.7 205.4L272.7 195.1L265.9 202.9L269.1 203.9L268.6 205.6zM254.7 260.0L255.2 258.4L258.4 259.4L257.3 249.1L250.6 257.0L253.8 258.0L253.3 259.5z"/><path fill="#30ffcf" d="M154.4 198.9L158.1 199.7L157.3 203.0L167.5 201.1L159.2 195.0L158.4 198.3L154.8 197.4zM154.5 206.6L158.4 206.9L158.1 210.3L167.9 207.0L158.8 202.1L158.5 205.4L154.6 205.1zM154.6 214.3L158.3 214.4L158.2 217.7L167.8 213.8L158.4 209.5L158.3 212.9L154.6 212.8zM154.6 222.0L158.2 221.9L158.3 225.2L167.7 220.7L158.0 217.0L158.1 220.4L154.6 220.5zM154.6 229.7L158.6 229.5L158.7 232.9L168.0 228.4L158.4 224.7L158.5 228.0L154.5 228.2zM239.2 191.0L242.0 188.4L244.3 190.8L248.4 181.4L238.7 184.8L241.0 187.3L238.2 189.9zM262.1 183.3L265.1 180.9L267.2 183.5L272.1 174.3L262.1 177.1L264.2 179.7L261.2 182.1zM262.1 237.3L265.2 235.0L267.1 237.7L272.4 228.9L262.3 231.1L264.3 233.8L261.2 236.1z"/><path fill="#40ffbf" d="M162.1 198.9L166.4 199.6L165.9 202.9L175.9 200.6L167.3 194.9L166.7 198.2L162.4 197.4zM154.6 237.4L159.0 237.2L159.2 240.5L168.4 235.9L158.7 232.4L158.9 235.7L154.5 235.9zM162.6 245.0L166.4 243.0L168.0 246.0L174.5 237.9L164.2 238.7L165.7 241.7L161.9 243.7zM155.2 275.5L157.5 272.1L160.3 273.9L162.2 263.8L153.5 269.4L156.3 271.2L154.0 274.7zM170.0 229.7L174.3 228.8L175.0 232.1L183.5 226.1L173.3 224.1L174.0 227.3L169.7 228.2zM162.9 283.1L164.7 279.4L167.7 280.8L168.3 270.5L160.4 277.2L163.4 278.7L161.6 282.4zM185.8 229.4L188.3 225.9L191.0 227.8L193.3 217.7L184.4 223.0L187.1 225.0L184.6 228.5zM201.2 213.5L201.1 209.1L204.5 209.1L200.2 199.7L196.3 209.2L199.6 209.2L199.7 213.6zM178.0 298.7L181.3 296.0L183.4 298.6L188.2 289.4L178.3 292.2L180.4 294.8L177.1 297.5zM185.7 290.9L188.4 288.0L190.9 290.2L194.3 280.4L184.9 284.7L187.3 286.9L184.6 289.9zM201.2 290.7L202.8 286.7L205.9 288.0L205.6 277.6L198.3 284.9L201.4 286.2L199.8 290.2zM216.1 291.1L220.0 289.1L221.6 292.0L228.1 284.0L217.8 284.8L219.3 287.7L215.4 289.8zM254.5 183.3L257.6 180.7L259.7 183.3L264.5 174.1L254.5 177.0L256.7 179.5L253.5 182.1zM231.4 283.4L235.3 281.2L237.0 284.1L243.2 275.8L232.9 277.0L234.6 279.9L230.7 282.1zM262.3 229.4L264.6 226.0L267.4 227.9L269.4 217.8L260.6 223.2L263.4 225.1L261.0 228.6z"/><path fill="#10ffef" d="M169.8 206.6L172.6 206.8L172.3 210.1L182.1 206.7L172.9 202.0L172.7 205.3L169.9 205.1zM185.6 298.7L187.9 297.3L189.7 300.1L195.5 291.5L185.3 293.2L187.1 296.0L184.8 297.5zM239.0 275.8L241.6 274.8L242.8 278.0L250.3 270.9L240.0 270.3L241.1 273.4L238.4 274.4z"/><path fill="#20ffdf" d="M169.9 214.3L173.0 214.3L173.0 217.7L182.5 213.7L173.1 209.5L173.0 212.8L169.9 212.8zM169.9 222.0L173.3 221.9L173.5 225.2L182.8 220.6L173.1 217.0L173.3 220.4L169.8 220.5zM193.6 221.3L193.8 218.1L197.2 218.4L193.9 208.6L189.0 217.7L192.3 218.0L192.1 221.2zM193.5 290.8L195.1 287.9L198.0 289.5L199.1 279.3L190.9 285.6L193.8 287.2L192.2 290.1zM223.8 291.1L226.6 289.5L228.2 292.4L234.5 284.3L224.2 285.3L225.8 288.2L223.0 289.8z"/><path fill="#0000af" d="M146.6 313.8L147.8 314.1L147.3 313.0zM254.5 275.1L254.1 274.0L253.5 275.1zM276.5 252.4L277.7 253.0L277.3 251.7zM285.1 236.9L285.1 235.4L284.1 236.5zM285.1 244.1L283.9 243.2L284.1 244.7z"/><path fill="#00009f" d="M269.3 259.5L268.6 259.8L269.3 260.0z"/><path fill="#50ffaf" d="M162.2 206.6L167.0 206.6L167.0 209.9L176.5 205.7L167.0 201.7L167.0 205.1L162.2 205.1zM162.3 214.3L167.1 213.7L167.6 217.0L176.4 211.7L166.5 208.9L166.9 212.2L162.1 212.8zM162.4 222.0L166.8 221.0L167.6 224.2L175.9 218.1L165.8 216.3L166.5 219.5L162.1 220.5zM162.4 229.7L166.9 228.7L167.6 232.0L176.0 226.0L165.9 224.0L166.6 227.3L162.1 228.2z"/><path fill="#70ff8f" d="M162.5 237.4L167.8 235.7L168.8 238.9L176.6 232.1L166.3 231.1L167.3 234.3L162.0 236.0z"/><path fill="#cfff30" d="M162.9 260.1L167.1 252.7L170.0 254.4L171.2 244.1L162.9 250.3L165.8 252.0L161.6 259.4z"/><path fill="#8fff70" d="M170.2 237.4L176.4 234.4L177.9 237.4L184.7 229.7L174.4 230.0L175.8 233.1L169.6 236.0z"/><path fill="#ffcf00" d="M162.9 267.8L168.6 257.6L171.5 259.3L172.6 249.0L164.3 255.3L167.3 256.9L161.6 267.1z"/><path fill="#efff10" d="M170.4 245.0L178.0 238.7L180.1 241.3L184.9 232.1L174.9 235.0L177.0 237.6L169.4 243.8z"/><path fill="#dfff20" d="M162.9 275.5L167.2 267.5L170.2 269.1L171.2 258.8L163.0 265.2L165.9 266.8L161.6 274.7z"/><path fill="#ffff00" d="M170.6 252.4L174.7 243.2L177.8 244.6L178.0 234.3L170.4 241.2L173.4 242.6L169.2 251.8z"/><path fill="#ff2000" d="M170.6 260.0L176.1 243.7L179.3 244.8L178.4 234.5L171.5 242.2L174.7 243.2L169.2 259.5z"/><path fill="#efff10" d="M178.1 237.2L184.9 230.4L187.3 232.8L191.2 223.2L181.5 227.0L183.9 229.3L177.0 236.1z"/><path fill="#ff2000" d="M170.6 267.7L176.5 251.4L179.7 252.5L179.1 242.2L172.0 249.7L175.1 250.9L169.2 267.2z"/><path fill="#ef0000" d="M178.1 244.8L189.0 229.3L191.7 231.2L193.8 221.1L185.0 226.5L187.8 228.4L176.9 243.9z"/><path fill="#ffbf00" d="M170.6 275.4L175.0 263.9L178.1 265.1L177.6 254.8L170.4 262.2L173.6 263.4L169.2 274.8z"/><path fill="#800000" d="M178.2 252.3L185.3 228.9L188.5 229.9L187.4 219.6L180.7 227.5L183.9 228.5L176.8 251.8z"/><path fill="#8fff70" d="M170.6 283.1L173.4 277.0L176.4 278.4L176.7 268.0L169.0 274.9L172.0 276.3L169.2 282.5z"/><path fill="#800000" d="M178.2 260.0L187.1 229.0L190.3 230.0L189.0 219.7L182.4 227.7L185.6 228.6L176.8 259.5z"/><path fill="#df0000" d="M185.8 237.1L195.6 220.5L198.5 222.2L199.8 212.0L191.4 218.0L194.3 219.7L184.5 236.3z"/><path fill="#800000" d="M178.2 267.6L185.2 243.0L188.5 243.9L187.1 233.6L180.6 241.6L183.8 242.6L176.8 267.2zM185.8 244.7L200.7 216.1L203.7 217.6L204.4 207.3L196.4 213.9L199.4 215.4L184.5 244.0z"/><path fill="#ff2000" d="M178.2 275.3L183.3 258.7L186.4 259.7L185.3 249.4L178.6 257.3L181.8 258.3L176.8 274.9z"/><path fill="#800000" d="M185.9 252.3L197.9 219.1L201.0 220.3L200.4 210.0L193.3 217.5L196.5 218.6L184.5 251.8z"/><path fill="#ff5000" d="M193.5 229.2L198.0 214.0L201.2 214.9L200.0 204.7L193.4 212.6L196.6 213.6L192.1 228.8z"/><path fill="#cfff30" d="M178.2 283.1L181.8 275.1L184.9 276.5L185.1 266.2L177.4 273.1L180.5 274.5L176.8 282.5z"/><path fill="#ffdf00" d="M174.2 293.3L163.1 295.4L162.4 292.2L153.9 298.0L164.0 300.2L163.4 296.9L174.4 294.7z"/><path fill="#800000" d="M185.9 260.0L196.3 227.2L199.5 228.2L198.5 217.9L191.7 225.7L194.9 226.7L184.5 259.5zM193.5 237.0L206.1 207.2L209.2 208.5L209.1 198.2L201.7 205.3L204.7 206.6L192.1 236.4z"/><path fill="#50ffaf" d="M178.1 291.0L181.5 287.5L183.9 289.8L187.7 280.2L178.1 284.1L180.5 286.4L177.0 289.9z"/><path fill="#800000" d="M173.2 304.8L150.1 314.1L148.8 311.0L141.5 318.3L151.9 318.6L150.6 315.5L173.8 306.2zM185.9 267.7L194.7 241.5L197.8 242.5L197.0 232.2L190.1 239.9L193.2 241.0L184.5 267.2zM193.5 244.7L211.4 206.5L214.4 207.9L214.8 197.6L207.0 204.4L210.1 205.9L192.1 244.1z"/><path fill="#df0000" d="M201.2 221.4L204.7 202.5L208.0 203.1L205.7 193.0L200.0 201.6L203.2 202.2L199.7 221.1z"/><path fill="#cf0000" d="M185.9 275.4L192.5 256.8L195.7 257.9L195.0 247.6L188.0 255.2L191.1 256.3L184.5 274.8z"/><path fill="#800000" d="M193.5 252.4L210.3 217.1L213.3 218.5L213.7 208.2L206.0 215.0L209.0 216.4L192.1 251.7zM201.2 229.2L209.7 196.4L212.9 197.3L211.3 187.0L205.0 195.2L208.2 196.1L199.7 228.8z"/><path fill="#ffef00" d="M185.9 283.1L190.1 273.3L193.1 274.6L193.2 264.3L185.6 271.4L188.7 272.7L184.5 282.5z"/><path fill="#800000" d="M193.5 260.1L208.3 230.5L211.3 232.0L211.8 221.7L203.9 228.4L206.9 229.9L192.1 259.4zM201.2 236.9L216.6 196.1L219.7 197.3L219.2 186.9L212.0 194.4L215.2 195.6L199.8 236.4zM181.4 300.7L151.1 312.2L149.9 309.0L142.5 316.2L152.8 316.7L151.6 313.6L182.0 302.1z"/><path fill="#ff8000" d="M208.9 213.7L211.0 199.5L214.3 200.0L211.6 190.0L206.2 198.8L209.5 199.3L207.4 213.5z"/><path fill="#800000" d="M193.5 267.8L204.8 244.5L207.8 245.9L208.2 235.6L200.4 242.4L203.4 243.8L192.1 267.1zM201.1 244.7L220.7 204.8L223.7 206.2L224.2 195.9L216.3 202.7L219.3 204.1L199.8 244.0zM208.8 221.5L217.8 188.6L221.0 189.4L219.5 179.2L213.1 187.3L216.3 188.2L207.4 221.1z"/><path fill="#df0000" d="M193.5 275.4L201.3 257.7L204.4 259.1L204.5 248.7L196.9 255.8L200.0 257.1L192.1 274.8z"/><path fill="#800000" d="M201.1 252.4L222.1 216.0L225.0 217.6L226.2 207.4L218.0 213.6L220.8 215.2L199.8 251.7zM208.8 229.2L222.7 185.7L225.8 186.8L224.8 176.5L218.1 184.3L221.2 185.3L207.4 228.8z"/><path fill="#70ff8f" d="M216.5 206.0L217.8 200.2L221.0 201.0L219.1 190.8L213.1 199.2L216.3 199.9L215.0 205.7z"/><path fill="#ffbf00" d="M193.5 283.1L198.3 271.9L201.4 273.3L201.4 262.9L193.9 270.0L196.9 271.4L192.1 282.5z"/><path fill="#800000" d="M201.1 260.2L222.2 228.7L225.0 230.5L226.9 220.4L218.2 226.0L221.0 227.8L199.8 259.3zM208.8 237.0L226.7 194.7L229.8 196.0L229.7 185.7L222.2 192.8L225.3 194.1L207.4 236.4zM216.5 213.7L222.9 188.3L226.1 189.1L224.5 178.9L218.2 187.1L221.4 187.9L215.0 213.4zM201.1 267.9L215.7 246.8L218.4 248.7L220.4 238.5L211.7 244.0L214.4 245.9L199.8 267.0zM208.8 244.7L229.5 205.9L232.4 207.5L233.3 197.2L225.2 203.6L228.2 205.2L207.5 244.0zM216.5 221.5L230.2 179.2L233.4 180.2L232.5 169.9L225.7 177.7L228.8 178.7L215.0 221.0z"/><path fill="#ff2000" d="M201.1 275.5L209.4 260.1L212.4 261.7L213.3 251.4L205.2 257.8L208.1 259.4L199.8 274.7z"/><path fill="#800000" d="M208.7 252.5L230.5 218.6L233.3 220.4L235.0 210.2L226.5 216.0L229.3 217.8L207.5 251.7zM216.5 229.2L232.2 185.3L235.3 186.4L234.7 176.1L227.6 183.6L230.8 184.8L215.1 228.7z"/><path fill="#ff4000" d="M224.1 206.1L229.9 191.1L233.1 192.3L232.7 182.0L225.4 189.3L228.6 190.5L222.7 205.6z"/><path fill="#ffcf00" d="M201.1 283.1L206.2 272.2L209.2 273.6L209.5 263.3L201.8 270.2L204.8 271.6L199.8 282.5z"/><path fill="#800000" d="M208.7 260.2L229.7 232.4L232.3 234.4L234.8 224.4L225.8 229.5L228.5 231.5L207.5 259.3zM216.4 237.0L235.0 197.6L238.0 199.0L238.4 188.7L230.6 195.5L233.6 197.0L215.1 236.4zM224.1 213.8L234.5 182.2L237.7 183.2L236.8 172.9L229.9 180.7L233.1 181.7L222.7 213.3zM208.7 267.9L224.5 249.1L227.0 251.2L230.0 241.3L220.8 246.0L223.3 248.1L207.5 266.9z"/><path fill="#70ff8f" d="M197.5 300.8L193.3 304.4L191.1 301.9L186.6 311.2L196.5 308.1L194.3 305.6L198.5 302.0z"/><path fill="#800000" d="M216.4 244.8L237.7 209.9L240.5 211.6L242.0 201.4L233.5 207.4L236.4 209.1L215.1 244.0zM224.1 221.5L238.5 181.1L241.6 182.2L240.9 171.9L233.9 179.4L237.1 180.6L222.7 221.0z"/><path fill="#efff10" d="M231.6 198.6L237.5 191.0L240.1 193.0L242.6 183.0L233.6 188.0L236.3 190.1L230.5 197.7z"/><path fill="#ff7000" d="M208.7 275.6L218.6 264.4L221.1 266.6L224.3 256.8L215.0 261.2L217.5 263.4L207.6 274.6z"/><path fill="#800000" d="M216.4 252.5L237.4 223.3L240.1 225.3L242.3 215.2L233.5 220.5L236.2 222.5L215.2 251.6zM224.1 229.3L240.0 190.6L243.1 191.8L242.9 181.5L235.5 188.7L238.6 190.0L222.7 228.7zM231.7 206.2L242.1 184.8L245.1 186.3L245.5 175.9L237.7 182.7L240.7 184.2L230.4 205.5z"/><path fill="#8fff70" d="M208.7 283.3L213.4 278.3L215.8 280.7L219.5 271.0L210.0 275.0L212.4 277.3L207.6 282.2z"/><path fill="#800000" d="M216.3 260.2L235.5 237.7L238.0 239.9L241.1 230.0L231.8 234.6L234.3 236.7L215.2 259.3zM224.1 237.0L242.7 202.7L245.6 204.3L246.5 194.0L238.4 200.4L241.3 202.0L222.7 236.3zM231.7 213.9L245.0 184.7L248.0 186.1L248.2 175.8L240.6 182.7L243.6 184.1L230.4 213.3zM216.3 268.0L232.1 251.8L234.4 254.1L238.2 244.5L228.6 248.4L231.0 250.8L215.2 266.9zM224.0 244.8L243.5 215.6L246.3 217.4L248.1 207.2L239.5 212.9L242.2 214.7L222.8 244.0zM231.7 221.6L246.4 189.7L249.4 191.1L249.7 180.7L242.0 187.7L245.0 189.1L230.4 221.0z"/><path fill="#ff7000" d="M239.3 198.6L248.1 186.5L250.8 188.5L253.1 178.4L244.2 183.6L246.9 185.6L238.1 197.7z"/><path fill="#ff5000" d="M216.3 275.7L227.9 265.2L230.1 267.7L234.4 258.3L224.6 261.6L226.9 264.1L215.3 274.5z"/><path fill="#800000" d="M224.0 252.5L241.4 229.6L244.1 231.6L246.6 221.6L237.6 226.7L240.2 228.7L222.8 251.6zM231.7 229.3L248.2 198.1L251.2 199.7L252.0 189.4L244.0 195.8L246.9 197.4L230.4 228.6zM239.4 206.2L251.7 184.6L254.6 186.2L255.8 176.0L247.5 182.2L250.4 183.8L238.0 205.5z"/><path fill="#dfff20" d="M216.2 283.4L223.6 277.8L225.6 280.5L230.8 271.5L220.7 273.9L222.7 276.6L215.3 282.2z"/><path fill="#9f0000" d="M224.0 260.2L238.1 244.2L240.6 246.4L243.8 236.6L234.4 241.0L236.9 243.2L222.8 259.3z"/><path fill="#800000" d="M231.7 237.1L249.0 209.0L251.9 210.7L253.4 200.5L244.9 206.4L247.8 208.2L230.4 236.3zM239.3 213.9L254.3 188.7L257.1 190.4L258.4 180.1L250.1 186.2L253.0 187.9L238.1 213.2z"/><path fill="#80ff80" d="M246.9 190.9L251.0 186.3L253.5 188.5L256.8 178.7L247.4 183.1L249.9 185.3L245.8 189.9z"/><path fill="#ff2000" d="M223.9 268.0L236.8 256.6L239.0 259.1L243.4 249.7L233.6 253.0L235.8 255.4L222.9 266.9z"/><path fill="#800000" d="M231.7 244.8L247.4 221.6L250.1 223.5L252.1 213.4L243.4 218.9L246.1 220.8L230.4 244.0zM239.3 221.7L256.1 195.1L258.9 196.9L260.5 186.7L252.0 192.6L254.8 194.3L238.1 220.9z"/><path fill="#ffcf00" d="M247.0 198.5L253.4 188.8L256.2 190.6L258.1 180.5L249.4 186.1L252.2 188.0L245.7 197.7z"/><path fill="#ff9f00" d="M223.9 275.7L233.9 267.3L236.1 269.8L240.7 260.6L230.8 263.6L233.0 266.1L222.9 274.5z"/><path fill="#9f0000" d="M231.7 252.5L243.7 234.9L246.5 236.7L248.5 226.6L239.7 232.1L242.5 234.0L230.4 251.6z"/><path fill="#800000" d="M239.3 229.4L255.7 205.0L258.5 206.8L260.3 196.7L251.7 202.3L254.4 204.1L238.1 228.6z"/><path fill="#ff2000" d="M247.0 206.2L255.5 191.0L258.4 192.6L259.5 182.3L251.3 188.6L254.2 190.3L245.7 205.5z"/><path fill="#afff50" d="M223.9 283.4L230.0 278.4L232.1 281.0L236.9 271.9L227.0 274.6L229.1 277.2L222.9 282.2z"/><path fill="#ff7000" d="M231.7 260.2L239.7 247.7L242.5 249.6L244.2 239.4L235.6 245.1L238.4 246.9L230.4 259.3z"/><path fill="#800000" d="M239.3 237.1L254.1 215.8L256.9 217.7L259.0 207.6L250.2 213.0L252.9 215.0L238.1 236.3z"/><path fill="#bf0000" d="M247.0 214.0L257.4 196.7L260.3 198.5L261.7 188.2L253.3 194.2L256.1 196.0L245.7 213.2z"/><path fill="#50ffaf" d="M254.6 190.9L257.8 187.3L260.3 189.5L263.5 179.6L254.1 184.1L256.6 186.3L253.4 189.9z"/><path fill="#cfff30" d="M231.5 268.0L238.3 262.4L240.4 265.0L245.1 255.8L235.2 258.7L237.3 261.3L230.6 266.8z"/><path fill="#af0000" d="M239.3 244.8L251.1 227.7L253.9 229.5L255.9 219.4L247.2 224.9L249.9 226.8L238.1 243.9z"/><path fill="#9f0000" d="M247.0 221.7L258.8 204.2L261.6 206.1L263.5 195.9L254.8 201.5L257.6 203.4L245.7 220.9z"/><path fill="#70ff8f" d="M254.7 198.5L257.2 193.2L260.2 194.6L260.6 184.3L252.8 191.1L255.8 192.6L253.3 197.8z"/><path fill="#afff50" d="M231.4 275.7L238.2 271.6L239.9 274.4L245.9 266.0L235.7 267.5L237.4 270.3L230.7 274.5z"/><path fill="#ff4000" d="M239.3 252.5L247.6 238.7L250.5 240.4L251.9 230.2L243.5 236.2L246.4 237.9L238.1 251.7z"/><path fill="#bf0000" d="M246.9 229.4L259.1 213.1L261.7 215.1L264.1 205.1L255.2 210.3L257.9 212.2L245.7 228.5z"/><path fill="#ffdf00" d="M254.7 206.1L259.0 195.9L262.1 197.2L262.1 186.8L254.6 194.0L257.7 195.3L253.3 205.6z"/><path fill="#ff9f00" d="M239.4 260.1L245.7 248.5L248.6 250.0L249.6 239.8L241.4 246.1L244.4 247.7L238.0 259.4z"/><path fill="#ff1000" d="M246.9 237.2L258.2 223.4L260.8 225.5L263.7 215.6L254.5 220.3L257.1 222.5L245.8 236.2z"/><path fill="#ffaf00" d="M254.7 213.9L259.9 202.1L263.0 203.5L263.1 193.2L255.5 200.2L258.5 201.5L253.3 213.3zM246.9 244.9L255.0 235.0L257.6 237.1L260.5 227.2L251.3 231.9L253.9 234.0L245.8 243.9zM254.7 221.6L260.4 210.0L263.4 211.5L264.0 201.2L256.1 207.8L259.1 209.3L253.3 220.9z"/><path fill="#bfff40" d="M247.0 252.5L251.4 245.3L254.3 247.0L255.8 236.8L247.3 242.7L250.1 244.5L245.7 251.7z"/><path fill="#ffdf00" d="M254.6 229.4L261.3 220.4L264.0 222.4L266.3 212.3L257.4 217.5L260.1 219.5L253.4 228.5z"/><path fill="#9fff60" d="M262.4 206.1L264.5 199.3L267.7 200.3L266.7 190.0L259.9 197.8L263.1 198.8L260.9 205.6z"/><path fill="#afff50" d="M247.0 260.1L250.3 253.3L253.3 254.8L253.7 244.4L245.9 251.2L248.9 252.7L245.7 259.4z"/><path fill="#ffff00" d="M254.5 237.2L261.9 230.1L264.2 232.5L268.2 222.9L258.6 226.6L260.9 229.0L253.5 236.1z"/><path fill="#cfff30" d="M262.4 213.8L265.2 205.7L268.3 206.8L267.6 196.4L260.6 204.1L263.8 205.2L260.9 213.3z"/><path fill="#70ff8f" d="M254.5 244.9L259.0 241.0L261.2 243.5L265.7 234.2L255.8 237.4L258.0 239.9L253.5 243.8z"/><path fill="#bfff40" d="M262.3 221.5L265.3 213.8L268.4 215.0L268.0 204.7L260.8 212.0L263.9 213.2L260.9 221.0z"/><use href="#land"/><use href="#grid"/><path d="M216.7 0.0L215.7 6.0L213.3 12.0L212.3 18.0L212.5 24.0L211.4 30.0L209.8 41.0M203.2 68.0L201.3 74.5L199.0 80.9L197.4 89.0L195.3 97.0L195.2 105.0L194.6 113.0L194.5 119.2L194.3 125.3L193.5 131.5L192.9 137.6L192.7 143.6L192.4 149.7L190.0 155.8L187.9 161.8L189.6 169.9L190.4 178.0L192.6 185.0L195.4 192.0L195.8 202.0L194.9 209.2L193.4 216.5L189.0 222.6L185.4 228.6L180.1 234.6L175.6 240.7L171.3 246.8L165.8 252.9L161.5 256.5M150.6 271.0L144.4 277.0L138.3 283.0L133.8 287.8L128.8 292.5L124.0 297.2L118.6 302.0L115.3 307.3L111.0 312.6L105.5 318.0L102.2 323.3L98.8 328.4L95.0 333.5L91.7 338.6L88.3 343.7L85.6 348.8L79.9 354.4L75.5 360.1L69.8 365.7L66.4 371.5L62.1 377.4L57.2 383.2L53.1 389.0L49.4 394.3L44.9 399.6L40.2 405.0L35.6 410.3L30.4 416.2L25.7 422.1L19.5 428.0" fill="none" stroke="#000" stroke-width="1.0" stroke-linejoin="round"/><text x="206.5" y="55" font-size="15" text-anchor="middle" transform="rotate(-79 206.5 55)" dy="4.5">100</text><text x="156.5" y="264" font-size="15" text-anchor="middle" transform="rotate(-50 156.5 264)" dy="4.5">100</text><use href="#stars"/>
</g>
<use href="#frame"/><rect x="10.2" y="16.5" width="112.6" height="25.1" fill="url(#jet)" stroke="#303030" stroke-width="1"/><text x="10.2" y="-0.3" font-size="16.7" fill="#303030" stroke-width="0" text-anchor="middle">0</text><text x="11.2" y="-0.3" font-size="16.7" fill="#303030" stroke-width="0" text-anchor="middle">1</text><text x="12.2" y="-0.3" font-size="16.7" fill="#303030" stroke-width="0" text-anchor="middle">2</text><text x="13.3" y="-0.3" font-size="16.7" fill="#303030" stroke-width="0" text-anchor="middle">3</text><text x="15.3" y="-0.3" font-size="16.7" fill="#303030" stroke-width="0" text-anchor="middle">5</text><text x="16.3" y="-0.3" font-size="16.7" fill="#303030" stroke-width="0" text-anchor="middle">6</text><text x="18.4" y="-0.3" font-size="16.7" fill="#303030" stroke-width="0" text-anchor="middle">8</text><text x="20.4" y="-0.3" font-size="16.7" fill="#303030" stroke-width="0" text-anchor="middle">10</text><text x="21.5" y="-0.3" font-size="16.7" fill="#303030" stroke-width="0" text-anchor="middle">11</text><text x="23.5" y="-0.3" font-size="16.7" fill="#303030" stroke-width="0" text-anchor="middle">13</text><text x="25.6" y="-0.3" font-size="16.7" fill="#303030" stroke-width="0" text-anchor="middle">15</text><text x="26.6" y="-0.3" font-size="16.7" fill="#303030" stroke-width="0" text-anchor="middle">16</text><text x="28.6" y="-0.3" font-size="16.7" fill="#303030" stroke-width="0" text-anchor="middle">18</text><text x="30.7" y="-0.3" font-size="16.7" fill="#303030" stroke-width="0" text-anchor="middle">20</text><text x="31.7" y="-0.3" font-size="16.7" fill="#303030" stroke-width="0" text-anchor="middle">21</text><text x="33.7" y="-0.3" font-size="16.7" fill="#303030" stroke-width="0" text-anchor="middle">23</text><text x="35.8" y="-0.3" font-size="16.7" fill="#303030" stroke-width="0" text-anchor="middle">25</text><text x="36.8" y="-0.3" font-size="16.7" fill="#303030" stroke-width="0" text-anchor="middle">26</text><text x="38.9" y="-0.3" font-size="16.7" fill="#303030" stroke-width="0" text-anchor="middle">28</text><text x="40.9" y="-0.3" font-size="16.7" fill="#303030" stroke-width="0" text-anchor="middle">30</text><text x="41.9" y="-0.3" font-size="16.7" fill="#303030" stroke-width="0" text-anchor="middle">31</text><text x="44.0" y="-0.3" font-size="16.7" fill="#303030" stroke-width="0" text-anchor="middle">33</text><text x="46.0" y="-0.3" font-size="16.7" fill="#303030" stroke-width="0" text-anchor="middle">35</text><text x="47.1" y="-0.3" font-size="16.7" fill="#303030" stroke-width="0" text-anchor="middle">36</text><text x="49.1" y="-0.3" font-size="16.7" fill="#303030" stroke-width="0" text-anchor="middle">38</text><text x="51.1" y="-0.3" font-size="16.7" fill="#303030" stroke-width="0" text-anchor="middle">40</text><text x="52.2" y="-0.3" font-size="16.7" fill="#303030" stroke-width="0" text-anchor="middle">41</text><text x="54.2" y="-0.3" font-size="16.7" fill="#303030" stroke-width="0" text-anchor="middle">43</text><text x="56.3" y="-0.3" font-size="16.7" fill="#303030" stroke-width="0" text-anchor="middle">45</text><text x="57.3" y="-0.3" font-size="16.7" fill="#303030" stroke-width="0" text-anchor="middle">46</text><text x="59.3" y="-0.3" font-size="16.7" fill="#303030" stroke-width="0" text-anchor="middle">48</text><text x="61.4" y="-0.3" font-size="16.7" fill="#303030" stroke-width="0" text-anchor="middle">50</text><text x="62.4" y="-0.3" font-size="16.7" fill="#303030" stroke-width="0" text-anchor="middle">51</text><text x="64.5" y="-0.3" font-size="16.7" fill="#303030" stroke-width="0" text-anchor="middle">53</text><text x="66.5" y="-0.3" font-size="16.7" fill="#303030" stroke-width="0" text-anchor="middle">55</text><text x="67.5" y="-0.3" font-size="16.7" fill="#303030" stroke-width="0" text-anchor="middle">56</text><text x="69.6" y="-0.3" font-size="16.7" fill="#303030" stroke-width="0" text-anchor="middle">58</text><text x="71.6" y="-0.3" font-size="16.7" fill="#303030" stroke-width="0" text-anchor="middle">60</text><text x="72.6" y="-0.3" font-size="16.7" fill="#303030" stroke-width="0" text-anchor="middle">61</text><text x="74.7" y="-0.3" font-size="16.7" fill="#303030" stroke-width="0" text-anchor="middle">63</text><text x="76.7" y="-0.3" font-size="16.7" fill="#303030" stroke-width="0" text-anchor="middle">65</text><text x="77.8" y="-0.3" font-size="16.7" fill="#303030" stroke-width="0" text-anchor="middle">66</text><text x="79.8" y="-0.3" font-size="16.7" fill="#303030" stroke-width="0" text-anchor="middle">68</text><text x="81.9" y="-0.3" font-size="16.7" fill="#303030" stroke-width="0" text-anchor="middle">70</text><text x="82.9" y="-0.3" font-size="16.7" fill="#303030" stroke-width="0" text-anchor="middle">71</text><text x="84.9" y="-0.3" font-size="16.7" fill="#303030" stroke-width="0" text-anchor="middle">73</text><text x="87.0" y="-0.3" font-size="16.7" fill="#303030" stroke-width="0" text-anchor="middle">75</text><text x="88.0" y="-0.3" font-size="16.7" fill="#303030" stroke-width="0" text-anchor="middle">76</text><text x="90.0" y="-0.3" font-size="16.7" fill="#303030" stroke-width="0" text-anchor="middle">78</text><text x="92.1" y="-0.3" font-size="16.7" fill="#303030" stroke-width="0" text-anchor="middle">80</text><text x="93.1" y="-0.3" font-size="16.7" fill="#303030" stroke-width="0" text-anchor="middle">81</text><text x="95.2" y="-0.3" font-size="16.7" fill="#303030" stroke-width="0" text-anchor="middle">83</text><text x="97.2" y="-0.3" font-size="16.7" fill="#303030" stroke-width="0" text-anchor="middle">85</text><text x="98.2" y="-0.3" font-size="16.7" fill="#303030" stroke-width="0" text-anchor="middle">86</text><text x="100.3" y="-0.3" font-size="16.7" fill="#303030" stroke-width="0" text-anchor="middle">88</text><text x="102.3" y="-0.3" font-size="16.7" fill="#303030" stroke-width="0" text-anchor="middle">90</text><text x="103.4" y="-0.3" font-size="16.7" fill="#303030" stroke-width="0" text-anchor="middle">91</text><text x="105.4" y="-0.3" font-size="16.7" fill="#303030" stroke-width="0" text-anchor="middle">93</text><text x="107.4" y="-0.3" font-size="16.7" fill="#303030" stroke-width="0" text-anchor="middle">95</text><text x="108.5" y="-0.3" font-size="16.7" fill="#303030" stroke-width="0" text-anchor="middle">96</text><text x="110.5" y="-0.3" font-size="16.7" fill="#303030" stroke-width="0" text-anchor="middle">98</text><text x="112.6" y="-0.3" font-size="16.7" fill="#303030" stroke-width="0" text-anchor="middle">100</text><text x="113.6" y="-0.3" font-size="16.7" fill="#303030" stroke-width="0" text-anchor="middle">101</text><text x="115.6" y="-0.3" font-size="16.7" fill="#303030" stroke-width="0" text-anchor="middle">103</text><text x="117.7" y="-0.3" font-size="16.7" fill="#303030" stroke-width="0" text-anchor="middle">105</text><text x="118.7" y="-0.3" font-size="16.7" fill="#303030" stroke-width="0" text-anchor="middle">106</text><text x="120.8" y="-0.3" font-size="16.7" fill="#303030" stroke-width="0" text-anchor="middle">108</text><text x="121.8" y="-0.3" font-size="16.7" fill="#303030" stroke-width="0" text-anchor="middle">109</text><text x="122.8" y="-0.3" font-size="16.7" fill="#303030" stroke-width="0" text-anchor="middle">110</text><text x="66.5" y="-27.8" font-size="20.8" fill="#303030" color="#303030" text-anchor="middle">cm/s</text><text x="348.7" y="64.7" font-size="20.8" text-anchor="end">50 cm/s</text><text x="313" y="102.7" font-size="20.8" text-anchor="middle">10 km</text><path d="M307 108.7H319.7" stroke="#000" stroke-width="3.7" stroke-linecap="round"/><text x="174" y="-12" font-size="25" font-weight="bold" stroke-width="0.1" text-anchor="middle">2023-07-15 10:00</text>
</g>
<g transform="translate(459,142)">
<use href="#labels"/>
<g clip-path="url(#cp)">
<g shape-rendering="crispEdges"><path fill="#ffbf00" d="M66.6 -0.5H74.3V7.3H66.6zM319.0 38.7H326.6V46.5H319.0zM334.3 62.2H341.9V70.0H334.3zM319.0 77.8H326.6V85.6H319.0zM341.9 255.9H349.6V263.6H341.9zM51.3 278.9H59.0V286.6H51.3zM250.2 324.9H257.8V332.5H250.2z"/><path fill="#00cfff" d="M74.3 -0.5H81.9V7.3H74.3zM273.1 23.0H280.8V30.9H273.1zM288.4 70.0H296.1V77.8H288.4zM288.4 116.8H296.1V124.5H288.4zM296.1 140.1H303.7V147.8H296.1zM296.1 147.8H303.7V155.6H296.1zM280.8 155.6H288.4V163.3H280.8zM280.8 171.1H288.4V178.8H280.8zM311.3 171.1H319.0V178.8H311.3zM280.8 178.8H288.4V186.5H280.8zM280.8 186.5H288.4V194.3H280.8zM280.8 194.3H288.4V202.0H280.8zM311.3 194.3H319.0V202.0H311.3zM288.4 202.0H296.1V209.7H288.4zM280.8 209.7H288.4V217.4H280.8zM303.7 217.4H311.3V225.1H303.7zM303.7 225.1H311.3V232.8H303.7zM273.1 232.8H280.8V240.5H273.1zM296.1 232.8H303.7V240.5H296.1zM257.8 255.9H265.5V263.6H257.8zM288.4 255.9H296.1V263.6H288.4zM288.4 263.6H296.1V271.3H288.4zM242.5 278.9H250.2V286.6H242.5zM242.5 301.9H250.2V309.6H242.5zM158.4 317.2H166.1V324.9H158.4zM158.4 340.1H166.1V347.8H158.4zM36.1 370.6H43.7V378.2H36.1zM66.6 370.6H74.3V378.2H66.6zM104.9 416.2H112.5V423.7H104.9zM120.2 423.7H127.8V431.3H120.2z"/><path fill="#008fff" d="M81.9 -0.5H89.6V7.3H81.9zM257.8 15.2H265.5V23.0H257.8zM250.2 46.5H257.8V54.4H250.2zM265.5 46.5H273.1V54.4H265.5zM257.8 54.4H265.5V62.2H257.8zM280.8 54.4H288.4V62.2H280.8zM81.9 62.2H89.6V70.0H81.9zM280.8 62.2H288.4V70.0H280.8zM280.8 85.6H288.4V93.4H280.8zM265.5 147.8H273.1V155.6H265.5zM265.5 163.3H273.1V171.1H265.5zM273.1 186.5H280.8V194.3H273.1zM288.4 194.3H296.1V202.0H288.4zM257.8 202.0H265.5V209.7H257.8zM250.2 225.1H257.8V232.8H250.2zM288.4 225.1H296.1V232.8H288.4zM265.5 240.5H273.1V248.2H265.5zM242.5 248.2H257.8V255.9H242.5zM219.6 278.9H234.9V286.6H219.6zM181.3 286.6H189.0V294.3H181.3zM219.6 286.6H227.2V294.3H219.6zM43.7 294.3H51.3V301.9H43.7zM20.8 355.4H28.4V363.0H20.8zM97.2 355.4H104.9V363.0H97.2zM112.5 408.6H120.2V416.2H112.5z"/><path fill="#0050ff" d="M89.6 -0.5H97.2V7.3H89.6zM227.2 -0.5H234.9V7.3H227.2zM219.6 7.3H227.2V15.2H219.6zM242.5 7.3H250.2V15.2H242.5zM219.6 15.2H227.2V23.0H219.6zM250.2 15.2H257.8V23.0H250.2zM265.5 23.0H273.1V30.9H265.5zM211.9 30.9H219.6V38.7H211.9zM265.5 30.9H273.1V38.7H265.5zM234.9 62.2H242.5V70.0H234.9zM97.2 93.4H104.9V101.2H97.2zM273.1 101.2H280.8V109.0H273.1zM265.5 116.8H273.1V124.5H265.5zM265.5 140.1H273.1V147.8H265.5zM273.1 147.8H280.8V155.6H273.1zM120.2 155.6H127.8V163.3H120.2zM250.2 186.5H257.8V194.3H250.2zM242.5 202.0H257.8V209.7H242.5zM234.9 209.7H242.5V217.4H234.9zM242.5 217.4H257.8V225.1H242.5zM234.9 232.8H250.2V240.5H234.9zM227.2 240.5H234.9V248.2H227.2zM219.6 248.2H227.2V255.9H219.6zM219.6 255.9H227.2V263.6H219.6zM204.3 263.6H211.9V271.3H204.3zM74.3 271.3H81.9V278.9H74.3zM51.3 286.6H59.0V294.3H51.3zM89.6 347.8H97.2V355.4H89.6zM66.6 363.0H74.3V370.6H66.6zM97.2 363.0H104.9V370.6H97.2zM97.2 370.6H104.9V378.2H97.2zM97.2 385.8H104.9V393.4H97.2zM120.2 385.8H127.8V393.4H120.2zM112.5 393.4H120.2V401.0H112.5z"/><path fill="#0030ff" d="M97.2 -0.5H104.9V7.3H97.2zM166.1 -0.5H173.7V7.3H166.1zM211.9 -0.5H227.2V7.3H211.9zM166.1 7.3H173.7V15.2H166.1zM81.9 15.2H89.6V23.0H81.9zM196.6 15.2H204.3V23.0H196.6zM242.5 15.2H250.2V23.0H242.5zM204.3 23.0H211.9V30.9H204.3zM234.9 23.0H242.5V30.9H234.9zM257.8 23.0H265.5V30.9H257.8zM257.8 30.9H265.5V38.7H257.8zM219.6 38.7H234.9V46.5H219.6zM257.8 38.7H265.5V46.5H257.8zM273.1 46.5H280.8V54.4H273.1zM89.6 70.0H97.2V77.8H89.6zM265.5 70.0H273.1V77.8H265.5zM265.5 77.8H273.1V85.6H265.5zM265.5 101.2H273.1V109.0H265.5zM257.8 140.1H265.5V147.8H257.8zM242.5 171.1H250.2V178.8H242.5zM227.2 194.3H234.9V202.0H227.2zM234.9 217.4H242.5V225.1H234.9zM219.6 225.1H227.2V232.8H219.6zM227.2 232.8H234.9V240.5H227.2zM219.6 240.5H227.2V248.2H219.6zM204.3 248.2H219.6V255.9H204.3zM189.0 263.6H196.6V271.3H189.0zM66.6 271.3H74.3V278.9H66.6zM166.1 271.3H173.7V278.9H166.1zM181.3 271.3H196.6V278.9H181.3zM150.8 309.6H158.4V317.2H150.8zM150.8 317.2H158.4V324.9H150.8zM20.8 340.1H28.4V347.8H20.8zM104.9 340.1H112.5V347.8H104.9zM143.1 340.1H150.8V347.8H143.1zM43.7 363.0H51.3V370.6H43.7zM120.2 370.6H135.5V378.2H120.2zM97.2 378.2H104.9V385.8H97.2zM112.5 378.2H127.8V385.8H112.5zM112.5 385.8H120.2V393.4H112.5z"/><path fill="#0010ff" d="M104.9 -0.5H112.5V7.3H104.9zM135.5 -0.5H166.1V7.3H135.5zM173.7 -0.5H189.0V7.3H173.7zM196.6 -0.5H204.3V7.3H196.6zM97.2 7.3H104.9V15.2H97.2zM112.5 7.3H120.2V15.2H112.5zM158.4 7.3H166.1V15.2H158.4zM181.3 7.3H204.3V15.2H181.3zM89.6 15.2H97.2V23.0H89.6zM181.3 15.2H189.0V23.0H181.3zM204.3 15.2H211.9V23.0H204.3zM166.1 23.0H173.7V30.9H166.1zM196.6 23.0H204.3V30.9H196.6zM242.5 23.0H250.2V30.9H242.5zM173.7 30.9H181.3V38.7H173.7zM204.3 30.9H211.9V38.7H204.3zM173.7 38.7H181.3V46.5H173.7zM234.9 38.7H250.2V46.5H234.9zM219.6 46.5H227.2V54.4H219.6zM242.5 46.5H250.2V54.4H242.5zM250.2 54.4H257.8V62.2H250.2zM227.2 62.2H234.9V70.0H227.2zM257.8 62.2H265.5V70.0H257.8zM211.9 70.0H219.6V77.8H211.9zM97.2 77.8H104.9V85.6H97.2zM97.2 85.6H104.9V93.4H97.2zM242.5 85.6H257.8V93.4H242.5zM234.9 93.4H242.5V101.2H234.9zM250.2 93.4H257.8V101.2H250.2zM250.2 116.8H257.8V124.5H250.2zM112.5 124.5H120.2V132.3H112.5zM250.2 124.5H257.8V132.3H250.2zM158.4 132.3H166.1V140.1H158.4zM250.2 132.3H257.8V140.1H250.2zM112.5 140.1H120.2V147.8H112.5zM250.2 140.1H257.8V147.8H250.2zM112.5 147.8H120.2V155.6H112.5zM242.5 155.6H250.2V163.3H242.5zM120.2 163.3H127.8V171.1H120.2zM234.9 163.3H242.5V171.1H234.9zM234.9 171.1H242.5V178.8H234.9zM227.2 186.5H234.9V194.3H227.2zM219.6 194.3H227.2V202.0H219.6zM211.9 202.0H227.2V209.7H211.9zM219.6 209.7H227.2V217.4H219.6zM219.6 217.4H227.2V225.1H219.6zM120.2 232.8H127.8V240.5H120.2zM196.6 232.8H204.3V240.5H196.6zM211.9 232.8H219.6V240.5H211.9zM204.3 240.5H211.9V248.2H204.3zM189.0 248.2H204.3V255.9H189.0zM127.8 255.9H135.5V263.6H127.8zM135.5 263.6H143.1V271.3H135.5zM173.7 263.6H181.3V271.3H173.7zM150.8 278.9H158.4V286.6H150.8zM127.8 309.6H135.5V317.2H127.8zM127.8 317.2H135.5V324.9H127.8zM135.5 340.1H143.1V347.8H135.5zM112.5 347.8H120.2V355.4H112.5zM120.2 363.0H127.8V370.6H120.2zM104.9 370.6H112.5V378.2H104.9z"/><path fill="#0020ff" d="M112.5 -0.5H120.2V7.3H112.5zM127.8 -0.5H135.5V7.3H127.8zM204.3 -0.5H211.9V7.3H204.3zM150.8 7.3H158.4V15.2H150.8zM204.3 7.3H211.9V15.2H204.3zM166.1 15.2H181.3V23.0H166.1zM189.0 15.2H196.6V23.0H189.0zM173.7 23.0H181.3V30.9H173.7zM227.2 23.0H234.9V30.9H227.2zM234.9 30.9H250.2V38.7H234.9zM211.9 38.7H219.6V46.5H211.9zM81.9 54.4H89.6V62.2H81.9zM242.5 54.4H250.2V62.2H242.5zM265.5 62.2H273.1V70.0H265.5zM250.2 70.0H257.8V77.8H250.2zM257.8 77.8H265.5V85.6H257.8zM265.5 85.6H273.1V93.4H265.5zM265.5 93.4H273.1V101.2H265.5zM104.9 101.2H112.5V109.0H104.9zM104.9 109.0H112.5V116.8H104.9zM257.8 109.0H265.5V116.8H257.8zM257.8 116.8H265.5V124.5H257.8zM257.8 124.5H265.5V132.3H257.8zM257.8 132.3H265.5V140.1H257.8zM250.2 147.8H257.8V155.6H250.2zM250.2 155.6H257.8V163.3H250.2zM242.5 163.3H250.2V171.1H242.5zM234.9 178.8H242.5V186.5H234.9zM120.2 194.3H127.8V202.0H120.2zM227.2 202.0H234.9V209.7H227.2zM211.9 209.7H219.6V217.4H211.9zM227.2 209.7H234.9V217.4H227.2zM211.9 225.1H219.6V232.8H211.9zM219.6 232.8H227.2V240.5H219.6zM196.6 240.5H204.3V248.2H196.6zM211.9 240.5H219.6V248.2H211.9zM181.3 255.9H204.3V263.6H181.3zM181.3 263.6H189.0V271.3H181.3zM196.6 263.6H204.3V271.3H196.6zM173.7 271.3H181.3V278.9H173.7zM89.6 278.9H104.9V286.6H89.6zM143.1 278.9H150.8V286.6H143.1zM158.4 278.9H166.1V286.6H158.4zM89.6 340.1H97.2V347.8H89.6zM81.9 347.8H89.6V355.4H81.9zM135.5 347.8H143.1V355.4H135.5zM28.4 355.4H36.1V363.0H28.4zM74.3 355.4H81.9V363.0H74.3zM104.9 355.4H112.5V363.0H104.9zM127.8 355.4H135.5V363.0H127.8zM104.9 363.0H120.2V370.6H104.9zM112.5 370.6H120.2V378.2H112.5zM104.9 378.2H112.5V385.8H104.9z"/><path fill="#0000ff" d="M120.2 -0.5H127.8V7.3H120.2zM189.0 -0.5H196.6V7.3H189.0zM104.9 7.3H112.5V15.2H104.9zM120.2 7.3H150.8V15.2H120.2zM173.7 7.3H181.3V15.2H173.7zM135.5 15.2H143.1V23.0H135.5zM150.8 15.2H166.1V23.0H150.8zM81.9 23.0H89.6V30.9H81.9zM143.1 23.0H158.4V30.9H143.1zM74.3 30.9H81.9V38.7H74.3zM158.4 30.9H173.7V38.7H158.4zM196.6 30.9H204.3V38.7H196.6zM74.3 38.7H81.9V46.5H74.3zM166.1 38.7H173.7V46.5H166.1zM196.6 38.7H204.3V46.5H196.6zM211.9 46.5H219.6V54.4H211.9zM227.2 46.5H242.5V54.4H227.2zM227.2 54.4H242.5V62.2H227.2zM89.6 62.2H97.2V70.0H89.6zM211.9 62.2H219.6V70.0H211.9zM242.5 62.2H257.8V70.0H242.5zM219.6 70.0H227.2V77.8H219.6zM234.9 70.0H250.2V77.8H234.9zM257.8 70.0H265.5V77.8H257.8zM227.2 77.8H234.9V85.6H227.2zM242.5 77.8H257.8V85.6H242.5zM227.2 85.6H234.9V93.4H227.2zM257.8 85.6H265.5V93.4H257.8zM104.9 93.4H112.5V101.2H104.9zM227.2 93.4H234.9V101.2H227.2zM242.5 93.4H250.2V101.2H242.5zM257.8 93.4H265.5V101.2H257.8zM234.9 101.2H242.5V109.0H234.9zM250.2 101.2H265.5V109.0H250.2zM250.2 109.0H257.8V116.8H250.2zM112.5 116.8H120.2V124.5H112.5zM227.2 116.8H234.9V124.5H227.2zM242.5 116.8H250.2V124.5H242.5zM227.2 124.5H234.9V132.3H227.2zM242.5 124.5H250.2V132.3H242.5zM112.5 132.3H120.2V140.1H112.5zM234.9 140.1H242.5V147.8H234.9zM120.2 147.8H127.8V155.6H120.2zM242.5 147.8H250.2V155.6H242.5zM234.9 155.6H242.5V163.3H234.9zM227.2 163.3H234.9V171.1H227.2zM227.2 178.8H234.9V186.5H227.2zM127.8 186.5H135.5V194.3H127.8zM219.6 186.5H227.2V194.3H219.6zM196.6 209.7H211.9V217.4H196.6zM196.6 217.4H219.6V225.1H196.6zM196.6 225.1H211.9V232.8H196.6zM189.0 232.8H196.6V240.5H189.0zM204.3 232.8H211.9V240.5H204.3zM189.0 240.5H196.6V248.2H189.0zM181.3 248.2H189.0V255.9H181.3zM135.5 255.9H143.1V263.6H135.5zM173.7 255.9H181.3V263.6H173.7zM150.8 263.6H173.7V271.3H150.8zM150.8 271.3H166.1V278.9H150.8zM59.0 278.9H66.6V286.6H59.0zM81.9 278.9H89.6V286.6H81.9zM89.6 286.6H104.9V294.3H89.6zM143.1 286.6H150.8V294.3H143.1zM143.1 294.3H150.8V301.9H143.1zM135.5 301.9H150.8V309.6H135.5zM143.1 309.6H150.8V317.2H143.1zM36.1 317.2H43.7V324.9H36.1zM135.5 317.2H150.8V324.9H135.5zM28.4 324.9H36.1V332.5H28.4zM89.6 324.9H97.2V332.5H89.6zM143.1 324.9H150.8V332.5H143.1zM89.6 332.5H97.2V340.1H89.6zM127.8 332.5H150.8V340.1H127.8zM28.4 340.1H36.1V347.8H28.4zM81.9 340.1H89.6V347.8H81.9zM120.2 340.1H127.8V347.8H120.2zM28.4 347.8H36.1V355.4H28.4zM120.2 347.8H135.5V355.4H120.2zM43.7 355.4H51.3V363.0H43.7zM59.0 355.4H74.3V363.0H59.0zM112.5 355.4H127.8V363.0H112.5z"/><path fill="#0060ff" d="M234.9 -0.5H242.5V7.3H234.9zM81.9 7.3H89.6V15.2H81.9zM219.6 23.0H227.2V30.9H219.6zM280.8 132.3H288.4V140.1H280.8zM273.1 140.1H288.4V147.8H273.1zM257.8 147.8H265.5V155.6H257.8zM112.5 155.6H120.2V163.3H112.5zM257.8 178.8H265.5V186.5H257.8zM257.8 186.5H265.5V194.3H257.8zM120.2 202.0H127.8V209.7H120.2zM242.5 209.7H250.2V217.4H242.5zM257.8 217.4H265.5V225.1H257.8zM234.9 225.1H250.2V232.8H234.9zM234.9 240.5H242.5V248.2H234.9zM227.2 248.2H234.9V255.9H227.2zM234.9 255.9H242.5V263.6H234.9zM219.6 263.6H227.2V271.3H219.6zM204.3 271.3H227.2V278.9H204.3zM204.3 278.9H211.9V286.6H204.3zM158.4 294.3H166.1V301.9H158.4zM150.8 340.1H158.4V347.8H150.8zM104.9 347.8H112.5V355.4H104.9zM143.1 347.8H150.8V355.4H143.1zM36.1 363.0H43.7V370.6H36.1zM74.3 363.0H81.9V370.6H74.3z"/><path fill="#0080ff" d="M242.5 -0.5H257.8V7.3H242.5zM250.2 7.3H257.8V15.2H250.2zM227.2 15.2H242.5V23.0H227.2zM250.2 30.9H257.8V38.7H250.2zM250.2 38.7H257.8V46.5H250.2zM257.8 46.5H265.5V54.4H257.8zM280.8 70.0H288.4V77.8H280.8zM273.1 109.0H280.8V116.8H273.1zM273.1 116.8H280.8V124.5H273.1zM273.1 124.5H280.8V132.3H273.1zM257.8 155.6H265.5V163.3H257.8zM257.8 171.1H265.5V178.8H257.8zM250.2 178.8H257.8V186.5H250.2zM265.5 194.3H273.1V202.0H265.5zM257.8 209.7H265.5V217.4H257.8zM265.5 225.1H273.1V232.8H265.5zM250.2 232.8H257.8V240.5H250.2zM250.2 240.5H265.5V248.2H250.2zM120.2 248.2H127.8V255.9H120.2zM273.1 248.2H280.8V255.9H273.1zM242.5 255.9H250.2V263.6H242.5zM227.2 263.6H234.9V271.3H227.2zM234.9 271.3H242.5V278.9H234.9zM204.3 286.6H211.9V294.3H204.3zM173.7 294.3H181.3V301.9H173.7zM89.6 385.8H97.2V393.4H89.6zM89.6 393.4H104.9V401.0H89.6zM112.5 401.0H127.8V408.6H112.5z"/><path fill="#00afff" d="M257.8 -0.5H265.5V7.3H257.8zM288.4 54.4H296.1V62.2H288.4zM280.8 93.4H288.4V101.2H280.8zM280.8 124.5H288.4V132.3H280.8zM273.1 171.1H280.8V178.8H273.1zM273.1 194.3H280.8V202.0H273.1zM296.1 209.7H303.7V217.4H296.1zM273.1 217.4H288.4V225.1H273.1zM273.1 225.1H288.4V232.8H273.1zM280.8 240.5H288.4V248.2H280.8zM127.8 248.2H135.5V255.9H127.8zM257.8 248.2H265.5V255.9H257.8zM242.5 263.6H250.2V271.3H242.5zM257.8 263.6H265.5V271.3H257.8zM89.6 271.3H97.2V278.9H89.6zM250.2 278.9H257.8V286.6H250.2zM265.5 278.9H273.1V286.6H265.5zM150.8 286.6H158.4V294.3H150.8zM204.3 294.3H211.9V301.9H204.3zM227.2 294.3H234.9V301.9H227.2zM36.1 301.9H43.7V309.6H36.1zM150.8 301.9H166.1V309.6H150.8zM59.0 370.6H66.6V378.2H59.0zM97.2 408.6H104.9V416.2H97.2zM112.5 416.2H127.8V423.7H112.5z"/><path fill="#ff1000" d="M280.8 -0.5H288.4V7.3H280.8zM341.9 54.4H349.6V62.2H341.9zM311.3 62.2H319.0V70.0H311.3zM326.6 62.2H334.3V70.0H326.6zM334.3 70.0H341.9V77.8H334.3zM341.9 271.3H349.6V278.9H341.9zM288.4 301.9H296.1V309.6H288.4zM311.3 309.6H319.0V317.2H311.3zM265.5 317.2H273.1V324.9H265.5zM181.3 324.9H189.0V332.5H181.3zM219.6 324.9H227.2V332.5H219.6zM311.3 324.9H319.0V332.5H311.3zM296.1 332.5H303.7V340.1H296.1zM288.4 340.1H303.7V347.8H288.4z"/><path fill="#ffef00" d="M288.4 -0.5H296.1V7.3H288.4zM66.6 7.3H74.3V15.2H66.6zM273.1 15.2H280.8V23.0H273.1zM303.7 30.9H311.3V38.7H303.7zM288.4 77.8H296.1V85.6H288.4zM311.3 85.6H319.0V93.4H311.3zM319.0 301.9H326.6V309.6H319.0zM257.8 317.2H265.5V324.9H257.8zM242.5 324.9H250.2V332.5H242.5zM211.9 332.5H219.6V340.1H211.9z"/><path fill="#bf0000" d="M296.1 -0.5H303.7V7.3H296.1zM341.9 77.8H349.6V85.6H341.9zM341.9 85.6H349.6V93.4H341.9zM326.6 255.9H334.3V263.6H326.6zM341.9 278.9H349.6V286.6H341.9zM273.1 317.2H280.8V324.9H273.1zM303.7 340.1H311.3V347.8H303.7zM265.5 363.0H273.1V370.6H265.5z"/><path fill="#00dfff" d="M74.3 7.3H81.9V15.2H74.3zM280.8 38.7H288.4V46.5H280.8zM288.4 62.2H303.7V70.0H288.4zM303.7 132.3H311.3V140.1H303.7zM303.7 140.1H311.3V147.8H303.7zM303.7 147.8H311.3V155.6H303.7zM296.1 194.3H303.7V202.0H296.1zM288.4 209.7H296.1V217.4H288.4zM303.7 209.7H311.3V217.4H303.7zM250.2 271.3H257.8V278.9H250.2zM280.8 278.9H288.4V286.6H280.8zM250.2 286.6H257.8V294.3H250.2zM265.5 286.6H273.1V294.3H265.5zM36.1 294.3H43.7V301.9H36.1zM234.9 294.3H250.2V301.9H234.9zM173.7 301.9H181.3V309.6H173.7zM189.0 301.9H196.6V309.6H189.0zM250.2 301.9H257.8V309.6H250.2zM158.4 309.6H166.1V317.2H158.4zM158.4 332.5H166.1V340.1H158.4zM51.3 370.6H59.0V378.2H51.3zM120.2 408.6H127.8V416.2H120.2z"/><path fill="#0040ff" d="M89.6 7.3H97.2V15.2H89.6zM211.9 7.3H219.6V15.2H211.9zM211.9 15.2H219.6V23.0H211.9zM74.3 23.0H81.9V30.9H74.3zM250.2 23.0H257.8V30.9H250.2zM227.2 30.9H234.9V38.7H227.2zM265.5 38.7H273.1V46.5H265.5zM74.3 46.5H81.9V54.4H74.3zM273.1 77.8H280.8V85.6H273.1zM265.5 109.0H273.1V116.8H265.5zM265.5 124.5H273.1V132.3H265.5zM242.5 178.8H250.2V186.5H242.5zM234.9 186.5H250.2V194.3H234.9zM234.9 194.3H242.5V202.0H234.9zM234.9 202.0H242.5V209.7H234.9zM227.2 217.4H234.9V225.1H227.2zM120.2 225.1H127.8V232.8H120.2zM227.2 225.1H234.9V232.8H227.2zM204.3 255.9H219.6V263.6H204.3zM211.9 263.6H219.6V271.3H211.9zM143.1 271.3H150.8V278.9H143.1zM196.6 271.3H204.3V278.9H196.6zM166.1 278.9H189.0V286.6H166.1zM158.4 286.6H173.7V294.3H158.4zM36.1 309.6H43.7V317.2H36.1zM150.8 324.9H158.4V332.5H150.8zM150.8 332.5H158.4V340.1H150.8zM112.5 340.1H120.2V347.8H112.5zM20.8 347.8H28.4V355.4H20.8zM97.2 347.8H104.9V355.4H97.2zM81.9 355.4H89.6V363.0H81.9zM135.5 355.4H143.1V363.0H135.5zM51.3 363.0H66.6V370.6H51.3zM127.8 363.0H135.5V370.6H127.8zM104.9 385.8H112.5V393.4H104.9zM104.9 393.4H112.5V401.0H104.9z"/><path fill="#0070ff" d="M227.2 7.3H242.5V15.2H227.2zM273.1 30.9H280.8V38.7H273.1zM273.1 38.7H280.8V46.5H273.1zM89.6 77.8H97.2V85.6H89.6zM273.1 85.6H280.8V93.4H273.1zM273.1 93.4H280.8V101.2H273.1zM104.9 116.8H112.5V124.5H104.9zM265.5 132.3H280.8V140.1H265.5zM250.2 163.3H265.5V171.1H250.2zM250.2 171.1H257.8V178.8H250.2zM265.5 171.1H273.1V178.8H265.5zM265.5 178.8H273.1V186.5H265.5zM265.5 186.5H273.1V194.3H265.5zM242.5 194.3H265.5V202.0H242.5zM265.5 202.0H273.1V209.7H265.5zM250.2 209.7H257.8V217.4H250.2zM265.5 209.7H273.1V217.4H265.5zM242.5 240.5H250.2V248.2H242.5zM234.9 248.2H242.5V255.9H234.9zM227.2 255.9H234.9V263.6H227.2zM234.9 263.6H242.5V271.3H234.9zM81.9 271.3H89.6V278.9H81.9zM189.0 278.9H204.3V286.6H189.0zM211.9 278.9H219.6V286.6H211.9zM173.7 286.6H181.3V294.3H173.7zM189.0 286.6H204.3V294.3H189.0zM166.1 294.3H173.7V301.9H166.1zM150.8 347.8H158.4V355.4H150.8zM89.6 370.6H97.2V378.2H89.6zM89.6 378.2H97.2V385.8H89.6zM104.9 401.0H112.5V408.6H104.9zM104.9 408.6H112.5V416.2H104.9z"/><path fill="#00ffff" d="M257.8 7.3H265.5V15.2H257.8zM311.3 155.6H319.0V163.3H311.3zM288.4 163.3H296.1V171.1H288.4zM319.0 163.3H326.6V171.1H319.0zM296.1 178.8H303.7V186.5H296.1zM288.4 186.5H296.1V194.3H288.4zM288.4 240.5H296.1V248.2H288.4zM280.8 255.9H288.4V263.6H280.8zM273.1 263.6H288.4V271.3H273.1zM219.6 294.3H227.2V301.9H219.6zM219.6 309.6H227.2V317.2H219.6z"/><path fill="#ff0000" d="M288.4 7.3H296.1V15.2H288.4zM341.9 70.0H349.6V77.8H341.9zM334.3 271.3H341.9V278.9H334.3zM334.3 278.9H341.9V286.6H334.3zM296.1 294.3H303.7V301.9H296.1zM341.9 294.3H349.6V301.9H341.9zM303.7 317.2H311.3V324.9H303.7zM250.2 332.5H257.8V340.1H250.2zM288.4 347.8H296.1V355.4H288.4zM257.8 370.6H265.5V378.2H257.8z"/><path fill="#ef0000" d="M296.1 7.3H303.7V15.2H296.1zM311.3 46.5H319.0V54.4H311.3zM341.9 46.5H349.6V54.4H341.9zM81.9 77.8H89.6V85.6H81.9zM81.9 263.6H89.6V271.3H81.9zM341.9 286.6H349.6V294.3H341.9zM326.6 301.9H334.3V309.6H326.6zM173.7 324.9H181.3V332.5H173.7zM319.0 324.9H326.6V332.5H319.0zM288.4 355.4H296.1V363.0H288.4z"/><path fill="#009fff" d="M74.3 15.2H81.9V23.0H74.3zM265.5 15.2H273.1V23.0H265.5zM280.8 46.5H288.4V54.4H280.8zM265.5 54.4H273.1V62.2H265.5zM296.1 54.4H303.7V62.2H296.1zM280.8 77.8H288.4V85.6H280.8zM97.2 101.2H104.9V109.0H97.2zM104.9 124.5H112.5V132.3H104.9zM273.1 155.6H280.8V163.3H273.1zM273.1 163.3H280.8V171.1H273.1zM296.1 186.5H303.7V194.3H296.1zM296.1 202.0H303.7V209.7H296.1zM265.5 217.4H273.1V225.1H265.5zM257.8 225.1H265.5V232.8H257.8zM257.8 232.8H273.1V240.5H257.8zM265.5 248.2H273.1V255.9H265.5zM250.2 255.9H257.8V263.6H250.2zM265.5 263.6H273.1V271.3H265.5zM227.2 271.3H234.9V278.9H227.2zM234.9 278.9H242.5V286.6H234.9zM211.9 286.6H219.6V294.3H211.9zM242.5 286.6H250.2V294.3H242.5zM189.0 294.3H196.6V301.9H189.0zM166.1 301.9H173.7V309.6H166.1zM97.2 401.0H104.9V408.6H97.2z"/><path fill="#0000ef" d="M97.2 15.2H104.9V23.0H97.2zM127.8 15.2H135.5V23.0H127.8zM143.1 15.2H150.8V23.0H143.1zM89.6 23.0H104.9V30.9H89.6zM112.5 23.0H120.2V30.9H112.5zM135.5 23.0H143.1V30.9H135.5zM158.4 23.0H166.1V30.9H158.4zM181.3 23.0H196.6V30.9H181.3zM150.8 30.9H158.4V38.7H150.8zM189.0 30.9H196.6V38.7H189.0zM150.8 38.7H166.1V46.5H150.8zM181.3 38.7H196.6V46.5H181.3zM204.3 38.7H211.9V46.5H204.3zM81.9 46.5H89.6V54.4H81.9zM166.1 46.5H173.7V54.4H166.1zM196.6 46.5H211.9V54.4H196.6zM89.6 54.4H97.2V62.2H89.6zM166.1 54.4H173.7V62.2H166.1zM196.6 54.4H227.2V62.2H196.6zM166.1 62.2H173.7V70.0H166.1zM196.6 62.2H211.9V70.0H196.6zM219.6 62.2H227.2V70.0H219.6zM97.2 70.0H104.9V77.8H97.2zM227.2 70.0H234.9V77.8H227.2zM196.6 77.8H204.3V85.6H196.6zM211.9 77.8H227.2V85.6H211.9zM234.9 77.8H242.5V85.6H234.9zM204.3 85.6H211.9V93.4H204.3zM219.6 85.6H227.2V93.4H219.6zM234.9 85.6H242.5V93.4H234.9zM166.1 93.4H173.7V101.2H166.1zM219.6 93.4H227.2V101.2H219.6zM173.7 101.2H181.3V109.0H173.7zM219.6 101.2H227.2V109.0H219.6zM242.5 101.2H250.2V109.0H242.5zM112.5 109.0H120.2V116.8H112.5zM211.9 109.0H250.2V116.8H211.9zM211.9 116.8H227.2V124.5H211.9zM234.9 116.8H242.5V124.5H234.9zM234.9 124.5H242.5V132.3H234.9zM120.2 132.3H127.8V140.1H120.2zM234.9 132.3H250.2V140.1H234.9zM158.4 140.1H166.1V147.8H158.4zM211.9 140.1H227.2V147.8H211.9zM242.5 140.1H250.2V147.8H242.5zM127.8 147.8H143.1V155.6H127.8zM219.6 147.8H227.2V155.6H219.6zM234.9 147.8H242.5V155.6H234.9zM219.6 155.6H227.2V163.3H219.6zM127.8 163.3H135.5V171.1H127.8zM219.6 163.3H227.2V171.1H219.6zM219.6 171.1H234.9V178.8H219.6zM219.6 178.8H227.2V186.5H219.6zM211.9 186.5H219.6V194.3H211.9zM127.8 194.3H135.5V202.0H127.8zM204.3 194.3H219.6V202.0H204.3zM204.3 202.0H211.9V209.7H204.3zM189.0 209.7H196.6V217.4H189.0zM127.8 217.4H135.5V225.1H127.8zM189.0 225.1H196.6V232.8H189.0zM181.3 232.8H189.0V240.5H181.3zM181.3 240.5H189.0V248.2H181.3zM173.7 248.2H181.3V255.9H173.7zM112.5 255.9H127.8V263.6H112.5zM143.1 255.9H166.1V263.6H143.1zM112.5 263.6H120.2V271.3H112.5zM127.8 263.6H135.5V271.3H127.8zM112.5 271.3H120.2V278.9H112.5zM135.5 271.3H143.1V278.9H135.5zM127.8 278.9H143.1V286.6H127.8zM51.3 294.3H59.0V301.9H51.3zM89.6 294.3H97.2V301.9H89.6zM127.8 294.3H143.1V301.9H127.8zM43.7 301.9H51.3V309.6H43.7zM127.8 301.9H135.5V309.6H127.8zM120.2 309.6H127.8V317.2H120.2zM135.5 309.6H143.1V317.2H135.5zM89.6 317.2H97.2V324.9H89.6zM81.9 324.9H89.6V332.5H81.9zM127.8 324.9H143.1V332.5H127.8zM28.4 332.5H36.1V340.1H28.4zM120.2 332.5H127.8V340.1H120.2zM74.3 340.1H81.9V347.8H74.3zM127.8 340.1H135.5V347.8H127.8zM59.0 347.8H81.9V355.4H59.0zM36.1 355.4H43.7V363.0H36.1zM51.3 355.4H59.0V363.0H51.3z"/><path fill="#0000df" d="M104.9 15.2H127.8V23.0H104.9zM104.9 23.0H112.5V30.9H104.9zM120.2 23.0H135.5V30.9H120.2zM81.9 30.9H89.6V38.7H81.9zM120.2 30.9H150.8V38.7H120.2zM181.3 30.9H189.0V38.7H181.3zM81.9 38.7H104.9V46.5H81.9zM135.5 38.7H150.8V46.5H135.5zM89.6 46.5H97.2V54.4H89.6zM120.2 46.5H143.1V54.4H120.2zM150.8 46.5H166.1V54.4H150.8zM173.7 46.5H196.6V54.4H173.7zM97.2 54.4H104.9V62.2H97.2zM158.4 54.4H166.1V62.2H158.4zM173.7 54.4H196.6V62.2H173.7zM97.2 62.2H104.9V70.0H97.2zM181.3 62.2H189.0V70.0H181.3zM173.7 70.0H211.9V77.8H173.7zM181.3 77.8H196.6V85.6H181.3zM204.3 77.8H211.9V85.6H204.3zM104.9 85.6H112.5V93.4H104.9zM173.7 85.6H181.3V93.4H173.7zM196.6 85.6H204.3V93.4H196.6zM211.9 85.6H219.6V93.4H211.9zM112.5 93.4H120.2V101.2H112.5zM150.8 93.4H166.1V101.2H150.8zM181.3 93.4H189.0V101.2H181.3zM196.6 93.4H219.6V101.2H196.6zM112.5 101.2H120.2V109.0H112.5zM166.1 101.2H173.7V109.0H166.1zM189.0 101.2H196.6V109.0H189.0zM204.3 101.2H219.6V109.0H204.3zM227.2 101.2H234.9V109.0H227.2zM150.8 109.0H166.1V116.8H150.8zM204.3 109.0H211.9V116.8H204.3zM120.2 116.8H127.8V124.5H120.2zM189.0 116.8H211.9V124.5H189.0zM120.2 124.5H127.8V132.3H120.2zM181.3 124.5H189.0V132.3H181.3zM204.3 124.5H227.2V132.3H204.3zM127.8 132.3H135.5V140.1H127.8zM143.1 132.3H158.4V140.1H143.1zM196.6 132.3H234.9V140.1H196.6zM120.2 140.1H143.1V147.8H120.2zM150.8 140.1H158.4V147.8H150.8zM204.3 140.1H211.9V147.8H204.3zM227.2 140.1H234.9V147.8H227.2zM143.1 147.8H150.8V155.6H143.1zM189.0 147.8H196.6V155.6H189.0zM204.3 147.8H219.6V155.6H204.3zM227.2 147.8H234.9V155.6H227.2zM127.8 155.6H135.5V163.3H127.8zM189.0 155.6H219.6V163.3H189.0zM227.2 155.6H234.9V163.3H227.2zM204.3 163.3H219.6V171.1H204.3zM204.3 171.1H219.6V178.8H204.3zM135.5 178.8H143.1V186.5H135.5zM204.3 178.8H219.6V186.5H204.3zM135.5 186.5H143.1V194.3H135.5zM189.0 186.5H204.3V194.3H189.0zM127.8 202.0H135.5V209.7H127.8zM189.0 202.0H204.3V209.7H189.0zM127.8 209.7H135.5V217.4H127.8zM181.3 209.7H189.0V217.4H181.3zM173.7 217.4H196.6V225.1H173.7zM127.8 225.1H135.5V232.8H127.8zM173.7 225.1H189.0V232.8H173.7zM166.1 232.8H173.7V240.5H166.1zM166.1 240.5H181.3V248.2H166.1zM150.8 248.2H173.7V255.9H150.8zM166.1 255.9H173.7V263.6H166.1zM120.2 263.6H127.8V271.3H120.2zM143.1 263.6H150.8V271.3H143.1zM127.8 271.3H135.5V278.9H127.8zM66.6 278.9H81.9V286.6H66.6zM104.9 278.9H112.5V286.6H104.9zM120.2 278.9H127.8V286.6H120.2zM59.0 286.6H66.6V294.3H59.0zM81.9 286.6H89.6V294.3H81.9zM127.8 286.6H143.1V294.3H127.8zM81.9 294.3H89.6V301.9H81.9zM97.2 294.3H104.9V301.9H97.2zM89.6 301.9H104.9V309.6H89.6zM81.9 309.6H97.2V317.2H81.9zM81.9 317.2H89.6V324.9H81.9zM120.2 317.2H127.8V324.9H120.2zM74.3 324.9H81.9V332.5H74.3zM97.2 324.9H112.5V332.5H97.2zM120.2 324.9H127.8V332.5H120.2zM74.3 332.5H89.6V340.1H74.3zM97.2 332.5H120.2V340.1H97.2zM51.3 340.1H59.0V347.8H51.3zM66.6 340.1H74.3V347.8H66.6zM97.2 340.1H104.9V347.8H97.2zM36.1 347.8H59.0V355.4H36.1z"/><path fill="#9f0000" d="M296.1 15.2H303.7V23.0H296.1zM334.3 301.9H341.9V309.6H334.3zM181.3 332.5H189.0V340.1H181.3zM303.7 332.5H319.0V340.1H303.7z"/><path fill="#ff2000" d="M303.7 15.2H311.3V23.0H303.7zM326.6 38.7H334.3V46.5H326.6zM303.7 62.2H311.3V70.0H303.7zM319.0 271.3H326.6V278.9H319.0zM311.3 278.9H319.0V286.6H311.3z"/><path fill="#bfff40" d="M280.8 23.0H288.4V30.9H280.8zM273.1 62.2H280.8V70.0H273.1zM319.0 85.6H326.6V93.4H319.0zM288.4 93.4H296.1V101.2H288.4zM341.9 116.8H349.6V124.5H341.9zM341.9 194.3H349.6V202.0H341.9zM326.6 202.0H341.9V209.7H326.6zM341.9 240.5H349.6V248.2H341.9zM250.2 317.2H257.8V324.9H250.2z"/><path fill="#ffdf00" d="M288.4 23.0H296.1V30.9H288.4zM326.6 54.4H334.3V62.2H326.6zM319.0 101.2H326.6V109.0H319.0zM341.9 140.1H349.6V147.8H341.9zM341.9 225.1H349.6V232.8H341.9zM326.6 248.2H334.3V255.9H326.6zM303.7 278.9H311.3V286.6H303.7zM173.7 309.6H181.3V317.2H173.7zM311.3 317.2H319.0V324.9H311.3z"/><path fill="#ffaf00" d="M296.1 23.0H303.7V30.9H296.1zM303.7 77.8H311.3V85.6H303.7zM326.6 85.6H334.3V93.4H326.6zM334.3 93.4H341.9V101.2H334.3zM181.3 317.2H189.0V324.9H181.3z"/><path fill="#ff8f00" d="M303.7 23.0H311.3V30.9H303.7z"/><path fill="#0000cf" d="M89.6 30.9H120.2V38.7H89.6zM104.9 38.7H135.5V46.5H104.9zM97.2 46.5H120.2V54.4H97.2zM143.1 46.5H150.8V54.4H143.1zM104.9 54.4H158.4V62.2H104.9zM104.9 62.2H166.1V70.0H104.9zM173.7 62.2H181.3V70.0H173.7zM189.0 62.2H196.6V70.0H189.0zM104.9 70.0H143.1V77.8H104.9zM150.8 70.0H173.7V77.8H150.8zM104.9 77.8H127.8V85.6H104.9zM135.5 77.8H181.3V85.6H135.5zM112.5 85.6H173.7V93.4H112.5zM181.3 85.6H196.6V93.4H181.3zM120.2 93.4H150.8V101.2H120.2zM173.7 93.4H181.3V101.2H173.7zM189.0 93.4H196.6V101.2H189.0zM120.2 101.2H166.1V109.0H120.2zM181.3 101.2H189.0V109.0H181.3zM196.6 101.2H204.3V109.0H196.6zM120.2 109.0H135.5V116.8H120.2zM143.1 109.0H150.8V116.8H143.1zM166.1 109.0H204.3V116.8H166.1zM127.8 116.8H143.1V124.5H127.8zM150.8 116.8H166.1V124.5H150.8zM173.7 116.8H189.0V124.5H173.7zM127.8 124.5H135.5V132.3H127.8zM143.1 124.5H158.4V132.3H143.1zM166.1 124.5H181.3V132.3H166.1zM189.0 124.5H204.3V132.3H189.0zM135.5 132.3H143.1V140.1H135.5zM173.7 132.3H196.6V140.1H173.7zM143.1 140.1H150.8V147.8H143.1zM166.1 140.1H204.3V147.8H166.1zM173.7 147.8H189.0V155.6H173.7zM196.6 147.8H204.3V155.6H196.6zM135.5 155.6H143.1V163.3H135.5zM158.4 155.6H189.0V163.3H158.4zM135.5 163.3H143.1V171.1H135.5zM173.7 163.3H204.3V171.1H173.7zM135.5 171.1H143.1V178.8H135.5zM158.4 171.1H166.1V178.8H158.4zM173.7 171.1H204.3V178.8H173.7zM173.7 178.8H204.3V186.5H173.7zM166.1 186.5H173.7V194.3H166.1zM204.3 186.5H211.9V194.3H204.3zM181.3 194.3H204.3V202.0H181.3zM143.1 202.0H150.8V209.7H143.1zM173.7 202.0H189.0V209.7H173.7zM158.4 209.7H173.7V217.4H158.4zM135.5 217.4H143.1V225.1H135.5zM158.4 217.4H173.7V225.1H158.4zM158.4 225.1H173.7V232.8H158.4zM127.8 232.8H143.1V240.5H127.8zM173.7 232.8H181.3V240.5H173.7zM127.8 240.5H143.1V248.2H127.8zM150.8 240.5H166.1V248.2H150.8zM135.5 248.2H150.8V255.9H135.5zM120.2 271.3H127.8V278.9H120.2zM66.6 286.6H74.3V294.3H66.6zM104.9 286.6H112.5V294.3H104.9zM104.9 294.3H112.5V301.9H104.9zM51.3 301.9H59.0V309.6H51.3zM74.3 301.9H89.6V309.6H74.3zM104.9 301.9H127.8V309.6H104.9zM43.7 309.6H59.0V317.2H43.7zM74.3 309.6H81.9V317.2H74.3zM97.2 309.6H120.2V317.2H97.2zM43.7 317.2H51.3V324.9H43.7zM74.3 317.2H81.9V324.9H74.3zM97.2 317.2H120.2V324.9H97.2zM36.1 324.9H43.7V332.5H36.1zM59.0 324.9H74.3V332.5H59.0zM112.5 324.9H120.2V332.5H112.5zM36.1 332.5H51.3V340.1H36.1zM59.0 332.5H74.3V340.1H59.0zM36.1 340.1H51.3V347.8H36.1zM59.0 340.1H66.6V347.8H59.0z"/><path fill="#60ff9f" d="M280.8 30.9H288.4V38.7H280.8zM296.1 116.8H311.3V124.5H296.1zM334.3 116.8H341.9V124.5H334.3zM296.1 124.5H303.7V132.3H296.1zM319.0 124.5H326.6V132.3H319.0zM296.1 132.3H303.7V140.1H296.1zM341.9 147.8H349.6V155.6H341.9zM319.0 178.8H326.6V186.5H319.0zM319.0 186.5H326.6V194.3H319.0zM341.9 202.0H349.6V209.7H341.9zM319.0 248.2H326.6V255.9H319.0zM288.4 278.9H296.1V286.6H288.4zM234.9 301.9H242.5V309.6H234.9zM189.0 309.6H196.6V317.2H189.0z"/><path fill="#20ffdf" d="M288.4 30.9H303.7V38.7H288.4zM280.8 109.0H288.4V116.8H280.8zM311.3 116.8H319.0V124.5H311.3zM319.0 132.3H326.6V140.1H319.0zM288.4 140.1H296.1V147.8H288.4zM280.8 147.8H288.4V155.6H280.8zM326.6 155.6H334.3V163.3H326.6zM303.7 171.1H311.3V178.8H303.7zM311.3 209.7H319.0V217.4H311.3zM334.3 225.1H341.9V232.8H334.3zM296.1 240.5H303.7V248.2H296.1zM257.8 271.3H265.5V278.9H257.8zM296.1 271.3H303.7V278.9H296.1zM280.8 286.6H288.4V294.3H280.8zM257.8 294.3H265.5V301.9H257.8zM211.9 309.6H219.6V317.2H211.9zM227.2 309.6H242.5V317.2H227.2zM204.3 317.2H211.9V324.9H204.3z"/><path fill="#8f0000" d="M311.3 30.9H319.0V38.7H311.3zM319.0 54.4H326.6V62.2H319.0zM334.3 77.8H341.9V85.6H334.3zM104.9 255.9H112.5V263.6H104.9zM326.6 294.3H334.3V301.9H326.6z"/><path fill="#10ffef" d="M288.4 38.7H296.1V46.5H288.4zM288.4 101.2H296.1V109.0H288.4zM303.7 124.5H311.3V132.3H303.7zM288.4 147.8H296.1V155.6H288.4zM303.7 155.6H311.3V163.3H303.7zM334.3 163.3H341.9V171.1H334.3zM288.4 178.8H296.1V186.5H288.4zM319.0 209.7H326.6V217.4H319.0zM288.4 232.8H296.1V240.5H288.4zM303.7 232.8H311.3V240.5H303.7zM326.6 232.8H334.3V240.5H326.6zM296.1 248.2H303.7V255.9H296.1zM257.8 278.9H265.5V286.6H257.8zM196.6 301.9H219.6V309.6H196.6z"/><path fill="#cfff30" d="M296.1 38.7H303.7V46.5H296.1zM311.3 93.4H319.0V101.2H311.3zM296.1 101.2H303.7V109.0H296.1zM341.9 109.0H349.6V116.8H341.9zM326.6 124.5H334.3V132.3H326.6zM341.9 163.3H349.6V171.1H341.9zM341.9 186.5H349.6V194.3H341.9zM334.3 194.3H341.9V202.0H334.3zM326.6 217.4H341.9V225.1H326.6zM288.4 294.3H296.1V301.9H288.4zM234.9 317.2H242.5V324.9H234.9z"/><path fill="#af0000" d="M303.7 38.7H311.3V46.5H303.7zM334.3 46.5H341.9V54.4H334.3zM326.6 77.8H334.3V85.6H326.6zM280.8 355.4H288.4V363.0H280.8zM273.1 363.0H280.8V370.6H273.1zM288.4 363.0H296.1V370.6H288.4z"/><path fill="#ffcf00" d="M311.3 38.7H319.0V46.5H311.3zM296.1 70.0H303.7V77.8H296.1zM326.6 101.2H334.3V109.0H326.6zM326.6 109.0H341.9V116.8H326.6zM341.9 248.2H349.6V255.9H341.9zM273.1 309.6H280.8V317.2H273.1z"/><path fill="#00bfff" d="M288.4 46.5H303.7V54.4H288.4zM104.9 132.3H112.5V140.1H104.9zM265.5 155.6H273.1V163.3H265.5zM280.8 163.3H288.4V171.1H280.8zM303.7 163.3H311.3V171.1H303.7zM288.4 171.1H296.1V178.8H288.4zM273.1 178.8H280.8V186.5H273.1zM273.1 202.0H288.4V209.7H273.1zM273.1 209.7H280.8V217.4H273.1zM288.4 217.4H296.1V225.1H288.4zM280.8 232.8H288.4V240.5H280.8zM273.1 240.5H280.8V248.2H273.1zM265.5 255.9H273.1V263.6H265.5zM250.2 263.6H257.8V271.3H250.2zM242.5 271.3H250.2V278.9H242.5zM265.5 271.3H280.8V278.9H265.5zM227.2 286.6H234.9V294.3H227.2zM257.8 286.6H265.5V294.3H257.8zM150.8 294.3H158.4V301.9H150.8zM181.3 294.3H189.0V301.9H181.3zM196.6 294.3H204.3V301.9H196.6zM211.9 294.3H219.6V301.9H211.9zM250.2 294.3H257.8V301.9H250.2zM28.4 363.0H36.1V370.6H28.4zM97.2 423.7H104.9V431.3H97.2zM112.5 423.7H120.2V431.3H112.5z"/><path fill="#df0000" d="M303.7 46.5H311.3V54.4H303.7zM341.9 93.4H349.6V101.2H341.9zM334.3 263.6H341.9V271.3H334.3zM334.3 294.3H341.9V301.9H334.3zM227.2 324.9H234.9V332.5H227.2zM242.5 378.2H250.2V385.8H242.5z"/><path fill="#ff3000" d="M319.0 46.5H326.6V54.4H319.0zM341.9 101.2H349.6V109.0H341.9zM341.9 263.6H349.6V271.3H341.9zM196.6 324.9H204.3V332.5H196.6zM265.5 324.9H273.1V332.5H265.5zM189.0 332.5H196.6V340.1H189.0z"/><path fill="#cf0000" d="M326.6 46.5H334.3V54.4H326.6zM319.0 70.0H326.6V77.8H319.0zM334.3 286.6H341.9V294.3H334.3z"/><path fill="#70ff8f" d="M273.1 54.4H280.8V62.2H273.1zM311.3 77.8H319.0V85.6H311.3zM280.8 101.2H288.4V109.0H280.8zM311.3 140.1H319.0V147.8H311.3zM326.6 140.1H334.3V147.8H326.6zM334.3 155.6H349.6V163.3H334.3zM319.0 171.1H326.6V178.8H319.0zM326.6 194.3H334.3V202.0H326.6zM311.3 217.4H326.6V225.1H311.3zM311.3 225.1H319.0V232.8H311.3zM311.3 232.8H319.0V240.5H311.3zM341.9 232.8H349.6V240.5H341.9zM311.3 240.5H326.6V248.2H311.3zM296.1 286.6H303.7V294.3H296.1zM189.0 317.2H196.6V324.9H189.0z"/><path fill="#ff5000" d="M303.7 54.4H311.3V62.2H303.7zM334.3 54.4H341.9V62.2H334.3zM319.0 255.9H326.6V263.6H319.0zM280.8 309.6H288.4V317.2H280.8zM189.0 324.9H196.6V332.5H189.0z"/><path fill="#800000" d="M311.3 54.4H319.0V62.2H311.3zM319.0 62.2H326.6V70.0H319.0zM326.6 70.0H334.3V77.8H326.6zM81.9 85.6H89.6V93.4H81.9zM89.6 101.2H97.2V109.0H89.6zM120.2 240.5H127.8V248.2H120.2zM43.7 286.6H51.3V294.3H43.7zM341.9 301.9H349.6V309.6H341.9zM326.6 309.6H349.6V317.2H326.6zM319.0 317.2H334.3V324.9H319.0zM303.7 324.9H311.3V332.5H303.7zM219.6 332.5H227.2V340.1H219.6zM319.0 332.5H326.6V340.1H319.0zM311.3 340.1H326.6V347.8H311.3zM296.1 347.8H319.0V355.4H296.1zM273.1 355.4H280.8V363.0H273.1zM296.1 355.4H311.3V363.0H296.1zM280.8 363.0H288.4V370.6H280.8zM296.1 363.0H303.7V370.6H296.1zM250.2 370.6H257.8V378.2H250.2zM265.5 370.6H296.1V378.2H265.5zM250.2 378.2H288.4V385.8H250.2zM250.2 385.8H273.1V393.4H250.2zM257.8 393.4H265.5V401.0H257.8z"/><path fill="#ff4000" d="M341.9 62.2H349.6V70.0H341.9zM334.3 85.6H341.9V93.4H334.3zM334.3 248.2H341.9V255.9H334.3zM204.3 324.9H211.9V332.5H204.3zM280.8 347.8H288.4V355.4H280.8z"/><path fill="#8fff70" d="M81.9 70.0H89.6V77.8H81.9zM273.1 70.0H280.8V77.8H273.1zM288.4 109.0H296.1V116.8H288.4zM112.5 163.3H120.2V171.1H112.5zM326.6 178.8H334.3V186.5H326.6zM311.3 263.6H319.0V271.3H311.3zM265.5 294.3H273.1V301.9H265.5zM196.6 317.2H204.3V324.9H196.6zM219.6 317.2H227.2V324.9H219.6zM242.5 317.2H250.2V324.9H242.5z"/><path fill="#0000bf" d="M143.1 70.0H150.8V77.8H143.1zM127.8 77.8H135.5V85.6H127.8zM135.5 109.0H143.1V116.8H135.5zM143.1 116.8H150.8V124.5H143.1zM166.1 116.8H173.7V124.5H166.1zM135.5 124.5H143.1V132.3H135.5zM158.4 124.5H166.1V132.3H158.4zM166.1 132.3H173.7V140.1H166.1zM150.8 147.8H173.7V155.6H150.8zM143.1 155.6H158.4V163.3H143.1zM143.1 163.3H173.7V171.1H143.1zM143.1 171.1H158.4V178.8H143.1zM166.1 171.1H173.7V178.8H166.1zM143.1 178.8H173.7V186.5H143.1zM143.1 186.5H166.1V194.3H143.1zM173.7 186.5H189.0V194.3H173.7zM135.5 194.3H181.3V202.0H135.5zM135.5 202.0H143.1V209.7H135.5zM150.8 202.0H173.7V209.7H150.8zM135.5 209.7H158.4V217.4H135.5zM173.7 209.7H181.3V217.4H173.7zM143.1 217.4H158.4V225.1H143.1zM135.5 225.1H158.4V232.8H135.5zM143.1 232.8H166.1V240.5H143.1zM143.1 240.5H150.8V248.2H143.1zM112.5 278.9H120.2V286.6H112.5zM74.3 286.6H81.9V294.3H74.3zM112.5 286.6H127.8V294.3H112.5zM59.0 294.3H81.9V301.9H59.0zM112.5 294.3H127.8V301.9H112.5zM59.0 301.9H74.3V309.6H59.0zM59.0 309.6H74.3V317.2H59.0zM51.3 317.2H74.3V324.9H51.3zM43.7 324.9H59.0V332.5H43.7zM51.3 332.5H59.0V340.1H51.3z"/><path fill="#9fff60" d="M303.7 70.0H311.3V77.8H303.7zM296.1 77.8H303.7V85.6H296.1zM89.6 93.4H97.2V101.2H89.6zM326.6 93.4H334.3V101.2H326.6zM296.1 109.0H311.3V116.8H296.1zM319.0 109.0H326.6V116.8H319.0zM326.6 147.8H334.3V155.6H326.6zM319.0 232.8H326.6V240.5H319.0zM334.3 240.5H341.9V248.2H334.3zM104.9 263.6H112.5V271.3H104.9zM234.9 324.9H242.5V332.5H234.9z"/><path fill="#dfff20" d="M311.3 70.0H319.0V77.8H311.3zM341.9 124.5H349.6V132.3H341.9zM341.9 178.8H349.6V186.5H341.9zM280.8 301.9H288.4V309.6H280.8z"/><path fill="#00efff" d="M89.6 85.6H97.2V93.4H89.6zM280.8 116.8H288.4V124.5H280.8zM288.4 132.3H296.1V140.1H288.4zM288.4 155.6H296.1V163.3H288.4zM296.1 225.1H303.7V232.8H296.1zM280.8 248.2H288.4V255.9H280.8zM280.8 271.3H288.4V278.9H280.8zM234.9 286.6H242.5V294.3H234.9zM181.3 301.9H189.0V309.6H181.3zM227.2 301.9H234.9V309.6H227.2zM166.1 309.6H173.7V317.2H166.1zM181.3 309.6H189.0V317.2H181.3zM158.4 324.9H166.1V332.5H158.4zM43.7 370.6H51.3V378.2H43.7zM74.3 370.6H81.9V378.2H74.3z"/><path fill="#80ff80" d="M288.4 85.6H296.1V93.4H288.4zM319.0 93.4H326.6V101.2H319.0zM303.7 101.2H311.3V109.0H303.7zM97.2 109.0H104.9V116.8H97.2zM319.0 140.1H326.6V147.8H319.0zM311.3 163.3H319.0V171.1H311.3zM326.6 163.3H334.3V171.1H326.6zM334.3 171.1H341.9V178.8H334.3zM319.0 194.3H326.6V202.0H319.0zM319.0 202.0H326.6V209.7H319.0zM326.6 209.7H334.3V217.4H326.6zM326.6 240.5H334.3V248.2H326.6zM303.7 248.2H311.3V255.9H303.7zM296.1 255.9H303.7V263.6H296.1zM280.8 294.3H288.4V301.9H280.8zM257.8 301.9H265.5V309.6H257.8zM211.9 317.2H219.6V324.9H211.9z"/><path fill="#50ffaf" d="M296.1 85.6H303.7V93.4H296.1zM296.1 93.4H303.7V101.2H296.1zM311.3 186.5H319.0V194.3H311.3zM326.6 186.5H334.3V194.3H326.6zM303.7 202.0H311.3V209.7H303.7zM296.1 217.4H303.7V225.1H296.1zM341.9 217.4H349.6V225.1H341.9zM326.6 225.1H334.3V232.8H326.6zM288.4 248.2H296.1V255.9H288.4zM296.1 263.6H311.3V271.3H296.1zM273.1 278.9H280.8V286.6H273.1z"/><path fill="#efff10" d="M303.7 85.6H311.3V93.4H303.7zM334.3 124.5H341.9V132.3H334.3zM341.9 132.3H349.6V140.1H341.9z"/><path fill="#ffff00" d="M303.7 93.4H311.3V101.2H303.7zM311.3 101.2H319.0V109.0H311.3zM334.3 132.3H341.9V140.1H334.3zM334.3 140.1H341.9V147.8H334.3zM341.9 171.1H349.6V178.8H341.9zM334.3 232.8H341.9V240.5H334.3zM311.3 271.3H319.0V278.9H311.3z"/><path fill="#ff8000" d="M334.3 101.2H341.9V109.0H334.3zM319.0 263.6H326.6V271.3H319.0z"/><path fill="#40ffbf" d="M311.3 109.0H319.0V116.8H311.3zM288.4 124.5H296.1V132.3H288.4zM319.0 147.8H326.6V155.6H319.0zM296.1 155.6H303.7V163.3H296.1zM319.0 155.6H326.6V163.3H319.0zM296.1 163.3H303.7V171.1H296.1zM296.1 171.1H303.7V178.8H296.1zM326.6 171.1H334.3V178.8H326.6zM311.3 178.8H319.0V186.5H311.3zM334.3 186.5H341.9V194.3H334.3zM303.7 194.3H311.3V202.0H303.7zM303.7 240.5H311.3V248.2H303.7zM311.3 248.2H319.0V255.9H311.3zM303.7 255.9H311.3V263.6H303.7zM288.4 271.3H296.1V278.9H288.4zM288.4 286.6H296.1V294.3H288.4zM273.1 301.9H280.8V309.6H273.1zM204.3 309.6H211.9V317.2H204.3zM250.2 309.6H257.8V317.2H250.2z"/><path fill="#ff7000" d="M97.2 116.8H104.9V124.5H97.2zM303.7 286.6H311.3V294.3H303.7zM319.0 309.6H326.6V317.2H319.0zM296.1 324.9H303.7V332.5H296.1z"/><path fill="#afff50" d="M319.0 116.8H326.6V124.5H319.0zM311.3 132.3H319.0V140.1H311.3zM334.3 147.8H341.9V155.6H334.3zM334.3 209.7H341.9V217.4H334.3zM311.3 255.9H319.0V263.6H311.3zM104.9 271.3H112.5V278.9H104.9zM273.1 294.3H280.8V301.9H273.1zM265.5 301.9H273.1V309.6H265.5zM242.5 309.6H250.2V317.2H242.5zM227.2 317.2H234.9V324.9H227.2z"/><path fill="#30ffcf" d="M326.6 116.8H334.3V124.5H326.6zM311.3 124.5H319.0V132.3H311.3zM326.6 132.3H334.3V140.1H326.6zM311.3 147.8H319.0V155.6H311.3zM303.7 178.8H311.3V186.5H303.7zM334.3 178.8H341.9V186.5H334.3zM303.7 186.5H311.3V194.3H303.7zM311.3 202.0H319.0V209.7H311.3zM341.9 209.7H349.6V217.4H341.9zM319.0 225.1H326.6V232.8H319.0zM273.1 255.9H280.8V263.6H273.1zM303.7 271.3H311.3V278.9H303.7zM296.1 278.9H303.7V286.6H296.1zM273.1 286.6H280.8V294.3H273.1zM219.6 301.9H227.2V309.6H219.6zM196.6 309.6H204.3V317.2H196.6zM257.8 309.6H273.1V317.2H257.8z"/><path fill="#ff6000" d="M173.7 317.2H181.3V324.9H173.7zM257.8 324.9H265.5V332.5H257.8zM242.5 332.5H250.2V340.1H242.5z"/><path fill="#ff9f00" d="M211.9 324.9H219.6V332.5H211.9z"/></g><use href="#land"/><use href="#grid"/><path d="M240.0 0.0L250.0 5.0L262.0 8.0M265.0 23.0L285.0 34.0L291.0 43.0M289.0 72.0L287.0 78.0M287.0 70.0L263.0 57.0L278.0 61.0L280.0 80.0L266.0 74.0L282.0 102.0L284.0 138.0L265.0 161.0L282.0 182.0L274.0 212.0L265.0 217.0L261.0 230.0L274.0 240.0L265.0 264.0L250.0 262.0L246.0 270.0L233.0 270.0L231.0 281.0L215.0 290.0L195.0 304.0M172.0 306.0L169.0 311.0L167.0 318.0M68.0 13.0L74.0 0.0M83.0 78.0L89.0 89.0M97.0 112.0L102.0 127.0M26.5 369.0L36.0 376.0L45.6 377.0M70.0 376.0L81.7 370.0M91.0 392.0L99.0 396.0L94.0 399.0M110.0 412.0L123.0 410.0L124.0 405.0M181.0 297.0L186.0 295.0L190.0 297.0L184.0 299.0L181.0 297.0M193.0 296.0L198.0 294.0L200.0 296.0L195.0 298.0L193.0 296.0M259.0 245.0L266.0 242.0L270.0 244.0L262.0 246.0L259.0 245.0" fill="none" stroke="#000" stroke-width="1.0" stroke-linejoin="round"/><text x="291" y="58" font-size="13.5" text-anchor="middle" transform="rotate(-84 291 58)" dy="4.5">1.25</text><text x="184" y="305" font-size="13.5" text-anchor="middle" transform="rotate(-6 184 305)" dy="4.5">1.25</text><text x="93" y="101" font-size="13.5" text-anchor="middle" transform="rotate(66 93 101)" dy="4.5">1.25</text><text x="102" y="408" font-size="13.5" text-anchor="middle" transform="rotate(62 102 408)" dy="4.5">1.25</text><text x="272" y="198" font-size="13.5" text-anchor="middle" transform="rotate(76 272 198)" dy="4.5">1.25</text><use href="#stars"/>
</g>
<use href="#frame"/><rect x="3.2" y="20.3" width="113.8" height="24.9" fill="url(#jet)" stroke="#303030" stroke-width="1"/><text x="3.2" y="7.3" font-size="16.7" fill="#303030" color="#303030" text-anchor="middle">0</text><text x="60.1" y="7.3" font-size="16.7" fill="#303030" color="#303030" text-anchor="middle">2</text><text x="117.0" y="7.3" font-size="16.7" fill="#303030" color="#303030" text-anchor="middle">4</text><text x="312" y="37.5" font-size="20.8" text-anchor="middle">10 km</text><path d="M306.2 44H318.8" stroke="#000" stroke-width="3.7" stroke-linecap="round"/><text x="172.6" y="-11" font-size="20.7" font-weight="bold" stroke-width="0.1" text-anchor="middle">GDOP TotalErrors (1.25)</text>
</g>
<g transform="translate(843,142)">
<use href="#labels"/>
<g clip-path="url(#cp)">
<g shape-rendering="crispEdges"><path fill="#0010ff" d="M66.6 -0.5H74.3V7.3H66.6zM273.1 15.2H280.8V23.0H273.1zM280.8 30.9H288.4V38.7H280.8zM303.7 62.2H311.3V70.0H303.7zM303.7 70.0H311.3V77.8H303.7zM319.0 77.8H326.6V85.6H319.0zM296.1 85.6H303.7V93.4H296.1zM326.6 93.4H341.9V101.2H326.6zM326.6 101.2H334.3V109.0H326.6zM341.9 109.0H349.6V116.8H341.9zM319.0 124.5H334.3V132.3H319.0zM341.9 124.5H349.6V132.3H341.9zM311.3 132.3H319.0V140.1H311.3zM334.3 140.1H349.6V147.8H334.3zM341.9 147.8H349.6V155.6H341.9zM341.9 163.3H349.6V171.1H341.9zM341.9 178.8H349.6V186.5H341.9zM326.6 186.5H334.3V194.3H326.6zM341.9 217.4H349.6V225.1H341.9zM341.9 225.1H349.6V232.8H341.9zM341.9 232.8H349.6V240.5H341.9zM334.3 240.5H341.9V248.2H334.3zM311.3 248.2H319.0V255.9H311.3zM319.0 255.9H326.6V263.6H319.0zM311.3 263.6H319.0V271.3H311.3zM334.3 263.6H341.9V271.3H334.3zM326.6 271.3H334.3V278.9H326.6zM311.3 286.6H326.6V294.3H311.3zM334.3 286.6H341.9V294.3H334.3zM326.6 294.3H334.3V301.9H326.6zM280.8 301.9H296.1V309.6H280.8zM273.1 317.2H280.8V324.9H273.1zM288.4 317.2H303.7V324.9H288.4zM311.3 317.2H319.0V324.9H311.3zM257.8 324.9H265.5V332.5H257.8zM280.8 324.9H288.4V332.5H280.8zM303.7 324.9H311.3V332.5H303.7zM265.5 332.5H280.8V340.1H265.5zM288.4 332.5H303.7V340.1H288.4zM250.2 340.1H257.8V347.8H250.2zM265.5 340.1H280.8V347.8H265.5zM296.1 340.1H303.7V347.8H296.1zM166.1 347.8H181.3V355.4H166.1zM242.5 347.8H250.2V355.4H242.5zM273.1 347.8H288.4V355.4H273.1zM158.4 355.4H166.1V363.0H158.4zM173.7 355.4H181.3V363.0H173.7zM189.0 355.4H204.3V363.0H189.0zM211.9 355.4H219.6V363.0H211.9zM234.9 355.4H242.5V363.0H234.9zM273.1 355.4H280.8V363.0H273.1zM150.8 363.0H158.4V370.6H150.8zM166.1 363.0H189.0V370.6H166.1zM204.3 363.0H219.6V370.6H204.3zM234.9 363.0H242.5V370.6H234.9zM257.8 363.0H273.1V370.6H257.8zM13.1 370.6H20.8V378.2H13.1zM81.9 370.6H89.6V378.2H81.9zM181.3 370.6H204.3V378.2H181.3zM234.9 370.6H250.2V378.2H234.9zM20.8 378.2H28.4V385.8H20.8zM66.6 378.2H74.3V385.8H66.6zM97.2 378.2H104.9V385.8H97.2zM112.5 378.2H120.2V385.8H112.5zM158.4 378.2H166.1V385.8H158.4zM219.6 378.2H227.2V385.8H219.6zM242.5 378.2H250.2V385.8H242.5zM43.7 385.8H51.3V393.4H43.7zM135.5 385.8H150.8V393.4H135.5zM189.0 385.8H196.6V393.4H189.0zM204.3 385.8H219.6V393.4H204.3zM204.3 393.4H219.6V401.0H204.3zM97.2 401.0H135.5V408.6H97.2zM104.9 408.6H112.5V416.2H104.9z"/><path fill="#0080ff" d="M74.3 -0.5H89.6V7.3H74.3zM127.8 -0.5H135.5V7.3H127.8zM150.8 -0.5H158.4V7.3H150.8zM166.1 -0.5H181.3V7.3H166.1zM189.0 -0.5H196.6V7.3H189.0zM211.9 -0.5H219.6V7.3H211.9zM227.2 7.3H234.9V15.2H227.2zM158.4 15.2H166.1V23.0H158.4zM181.3 15.2H196.6V23.0H181.3zM242.5 15.2H250.2V23.0H242.5zM234.9 23.0H250.2V30.9H234.9zM204.3 30.9H211.9V38.7H204.3zM219.6 30.9H227.2V38.7H219.6zM257.8 30.9H265.5V38.7H257.8zM204.3 38.7H211.9V46.5H204.3zM219.6 38.7H227.2V46.5H219.6zM211.9 46.5H219.6V54.4H211.9zM227.2 46.5H234.9V54.4H227.2zM242.5 46.5H257.8V54.4H242.5zM250.2 54.4H257.8V62.2H250.2zM265.5 54.4H273.1V62.2H265.5zM219.6 62.2H227.2V70.0H219.6zM234.9 62.2H242.5V70.0H234.9zM242.5 70.0H250.2V77.8H242.5zM265.5 70.0H273.1V77.8H265.5zM89.6 77.8H97.2V85.6H89.6zM242.5 85.6H257.8V93.4H242.5zM97.2 93.4H104.9V101.2H97.2zM97.2 101.2H104.9V109.0H97.2zM242.5 101.2H250.2V109.0H242.5zM257.8 101.2H273.1V109.0H257.8zM242.5 132.3H250.2V140.1H242.5zM242.5 147.8H250.2V155.6H242.5zM242.5 163.3H250.2V171.1H242.5zM242.5 171.1H250.2V178.8H242.5zM234.9 178.8H242.5V186.5H234.9zM219.6 186.5H227.2V194.3H219.6zM219.6 202.0H234.9V209.7H219.6zM211.9 209.7H219.6V217.4H211.9zM227.2 209.7H242.5V217.4H227.2zM234.9 217.4H242.5V225.1H234.9zM234.9 225.1H242.5V232.8H234.9zM204.3 232.8H211.9V240.5H204.3zM219.6 240.5H227.2V248.2H219.6zM234.9 240.5H242.5V248.2H234.9zM189.0 263.6H196.6V271.3H189.0zM204.3 263.6H211.9V271.3H204.3zM189.0 271.3H196.6V278.9H189.0zM181.3 278.9H189.0V286.6H181.3zM211.9 278.9H219.6V286.6H211.9zM173.7 286.6H181.3V294.3H173.7zM189.0 286.6H196.6V294.3H189.0zM158.4 294.3H166.1V301.9H158.4zM181.3 294.3H196.6V301.9H181.3zM181.3 301.9H189.0V309.6H181.3zM158.4 309.6H166.1V317.2H158.4zM143.1 332.5H150.8V340.1H143.1zM81.9 347.8H89.6V355.4H81.9zM104.9 347.8H112.5V355.4H104.9zM51.3 355.4H59.0V363.0H51.3zM89.6 355.4H97.2V363.0H89.6zM43.7 363.0H51.3V370.6H43.7z"/><path fill="#008fff" d="M89.6 -0.5H104.9V7.3H89.6zM158.4 -0.5H166.1V7.3H158.4zM196.6 -0.5H204.3V7.3H196.6zM74.3 7.3H89.6V15.2H74.3zM112.5 7.3H120.2V15.2H112.5zM127.8 7.3H158.4V15.2H127.8zM166.1 7.3H173.7V15.2H166.1zM196.6 7.3H204.3V15.2H196.6zM211.9 7.3H227.2V15.2H211.9zM150.8 15.2H158.4V23.0H150.8zM196.6 15.2H204.3V23.0H196.6zM219.6 15.2H227.2V23.0H219.6zM234.9 15.2H242.5V23.0H234.9zM143.1 23.0H150.8V30.9H143.1zM173.7 23.0H181.3V30.9H173.7zM211.9 23.0H219.6V30.9H211.9zM158.4 30.9H166.1V38.7H158.4zM196.6 30.9H204.3V38.7H196.6zM211.9 30.9H219.6V38.7H211.9zM234.9 30.9H242.5V38.7H234.9zM196.6 38.7H204.3V46.5H196.6zM250.2 38.7H273.1V46.5H250.2zM189.0 46.5H196.6V54.4H189.0zM219.6 46.5H227.2V54.4H219.6zM234.9 46.5H242.5V54.4H234.9zM257.8 46.5H265.5V54.4H257.8zM227.2 54.4H250.2V62.2H227.2zM257.8 54.4H265.5V62.2H257.8zM204.3 62.2H219.6V70.0H204.3zM265.5 62.2H273.1V70.0H265.5zM81.9 70.0H89.6V77.8H81.9zM257.8 70.0H265.5V77.8H257.8zM227.2 77.8H250.2V85.6H227.2zM234.9 109.0H242.5V116.8H234.9zM234.9 116.8H242.5V124.5H234.9zM250.2 116.8H257.8V124.5H250.2zM250.2 124.5H257.8V132.3H250.2zM227.2 140.1H242.5V147.8H227.2zM234.9 155.6H250.2V163.3H234.9zM227.2 171.1H234.9V178.8H227.2zM227.2 178.8H234.9V186.5H227.2zM120.2 186.5H127.8V194.3H120.2zM196.6 217.4H204.3V225.1H196.6zM219.6 217.4H227.2V225.1H219.6zM189.0 232.8H196.6V240.5H189.0zM211.9 232.8H219.6V240.5H211.9zM189.0 240.5H196.6V248.2H189.0zM196.6 248.2H211.9V255.9H196.6zM181.3 271.3H189.0V278.9H181.3zM189.0 278.9H204.3V286.6H189.0zM166.1 286.6H173.7V294.3H166.1zM181.3 286.6H189.0V294.3H181.3zM173.7 294.3H181.3V301.9H173.7zM158.4 301.9H166.1V309.6H158.4zM143.1 324.9H150.8V332.5H143.1zM127.8 340.1H135.5V347.8H127.8zM20.8 355.4H28.4V363.0H20.8zM59.0 355.4H66.6V363.0H59.0zM74.3 355.4H81.9V363.0H74.3z"/><path fill="#0070ff" d="M104.9 -0.5H120.2V7.3H104.9zM135.5 -0.5H143.1V7.3H135.5zM204.3 -0.5H211.9V7.3H204.3zM219.6 -0.5H227.2V7.3H219.6zM204.3 7.3H211.9V15.2H204.3zM173.7 15.2H181.3V23.0H173.7zM204.3 15.2H219.6V23.0H204.3zM227.2 15.2H234.9V23.0H227.2zM196.6 23.0H211.9V30.9H196.6zM227.2 23.0H234.9V30.9H227.2zM242.5 30.9H257.8V38.7H242.5zM265.5 30.9H273.1V38.7H265.5zM234.9 38.7H242.5V46.5H234.9zM242.5 62.2H250.2V70.0H242.5zM257.8 62.2H265.5V70.0H257.8zM257.8 77.8H265.5V85.6H257.8zM265.5 85.6H273.1V93.4H265.5zM257.8 93.4H273.1V101.2H257.8zM265.5 124.5H273.1V132.3H265.5zM250.2 163.3H257.8V171.1H250.2zM234.9 171.1H242.5V178.8H234.9zM242.5 178.8H250.2V186.5H242.5zM227.2 186.5H242.5V194.3H227.2zM242.5 194.3H250.2V202.0H242.5zM219.6 209.7H227.2V217.4H219.6zM211.9 217.4H219.6V225.1H211.9zM219.6 225.1H227.2V232.8H219.6zM234.9 232.8H257.8V240.5H234.9zM211.9 240.5H219.6V248.2H211.9zM211.9 248.2H242.5V255.9H211.9zM196.6 255.9H204.3V263.6H196.6zM211.9 255.9H219.6V263.6H211.9zM227.2 255.9H234.9V263.6H227.2zM211.9 263.6H219.6V271.3H211.9zM204.3 271.3H211.9V278.9H204.3zM219.6 271.3H234.9V278.9H219.6zM189.0 301.9H196.6V309.6H189.0zM143.1 340.1H150.8V347.8H143.1zM112.5 347.8H120.2V355.4H112.5zM66.6 355.4H74.3V363.0H66.6zM81.9 355.4H89.6V363.0H81.9zM97.2 355.4H112.5V363.0H97.2zM36.1 363.0H43.7V370.6H36.1z"/><path fill="#009fff" d="M120.2 -0.5H127.8V7.3H120.2zM143.1 -0.5H150.8V7.3H143.1zM97.2 7.3H104.9V15.2H97.2zM120.2 7.3H127.8V15.2H120.2zM158.4 7.3H166.1V15.2H158.4zM173.7 7.3H196.6V15.2H173.7zM97.2 15.2H104.9V23.0H97.2zM135.5 15.2H143.1V23.0H135.5zM166.1 15.2H173.7V23.0H166.1zM120.2 23.0H127.8V30.9H120.2zM158.4 23.0H166.1V30.9H158.4zM181.3 23.0H196.6V30.9H181.3zM219.6 23.0H227.2V30.9H219.6zM166.1 30.9H173.7V38.7H166.1zM189.0 30.9H196.6V38.7H189.0zM227.2 30.9H234.9V38.7H227.2zM181.3 38.7H196.6V46.5H181.3zM211.9 38.7H219.6V46.5H211.9zM227.2 38.7H234.9V46.5H227.2zM242.5 38.7H250.2V46.5H242.5zM158.4 54.4H166.1V62.2H158.4zM219.6 54.4H227.2V62.2H219.6zM181.3 62.2H196.6V70.0H181.3zM250.2 62.2H257.8V70.0H250.2zM204.3 70.0H211.9V77.8H204.3zM227.2 70.0H234.9V77.8H227.2zM250.2 70.0H257.8V77.8H250.2zM204.3 77.8H211.9V85.6H204.3zM219.6 77.8H227.2V85.6H219.6zM250.2 77.8H257.8V85.6H250.2zM265.5 77.8H273.1V85.6H265.5zM97.2 85.6H104.9V93.4H97.2zM219.6 85.6H234.9V93.4H219.6zM257.8 85.6H265.5V93.4H257.8zM219.6 93.4H227.2V101.2H219.6zM250.2 93.4H257.8V101.2H250.2zM104.9 101.2H112.5V109.0H104.9zM219.6 101.2H234.9V109.0H219.6zM250.2 101.2H257.8V109.0H250.2zM257.8 109.0H265.5V116.8H257.8zM242.5 116.8H250.2V124.5H242.5zM219.6 132.3H227.2V140.1H219.6zM234.9 132.3H242.5V140.1H234.9zM250.2 140.1H257.8V147.8H250.2zM227.2 155.6H234.9V163.3H227.2zM234.9 163.3H242.5V171.1H234.9zM219.6 171.1H227.2V178.8H219.6zM219.6 194.3H227.2V202.0H219.6zM189.0 217.4H196.6V225.1H189.0zM189.0 225.1H196.6V232.8H189.0zM211.9 225.1H219.6V232.8H211.9zM181.3 232.8H189.0V240.5H181.3zM196.6 240.5H211.9V248.2H196.6zM189.0 248.2H196.6V255.9H189.0zM189.0 255.9H196.6V263.6H189.0zM173.7 263.6H181.3V271.3H173.7zM196.6 263.6H204.3V271.3H196.6zM173.7 271.3H181.3V278.9H173.7zM97.2 278.9H104.9V286.6H97.2zM173.7 278.9H181.3V286.6H173.7zM166.1 294.3H173.7V301.9H166.1zM150.8 309.6H158.4V317.2H150.8zM135.5 332.5H143.1V340.1H135.5zM81.9 340.1H104.9V347.8H81.9zM120.2 340.1H127.8V347.8H120.2zM13.1 347.8H20.8V355.4H13.1zM66.6 347.8H81.9V355.4H66.6zM89.6 347.8H104.9V355.4H89.6zM28.4 355.4H36.1V363.0H28.4z"/><path fill="#0060ff" d="M181.3 -0.5H189.0V7.3H181.3zM234.9 7.3H250.2V15.2H234.9zM250.2 23.0H265.5V30.9H250.2zM273.1 38.7H280.8V46.5H273.1zM265.5 46.5H273.1V54.4H265.5zM273.1 62.2H280.8V70.0H273.1zM273.1 70.0H280.8V77.8H273.1zM273.1 77.8H280.8V85.6H273.1zM89.6 85.6H97.2V93.4H89.6zM265.5 109.0H273.1V116.8H265.5zM257.8 116.8H273.1V124.5H257.8zM97.2 124.5H104.9V132.3H97.2zM257.8 124.5H265.5V132.3H257.8zM257.8 132.3H265.5V140.1H257.8zM265.5 140.1H273.1V147.8H265.5zM250.2 147.8H265.5V155.6H250.2zM250.2 155.6H257.8V163.3H250.2zM250.2 171.1H273.1V178.8H250.2zM242.5 186.5H250.2V194.3H242.5zM227.2 194.3H234.9V202.0H227.2zM250.2 194.3H257.8V202.0H250.2zM265.5 194.3H273.1V202.0H265.5zM250.2 202.0H257.8V209.7H250.2zM265.5 202.0H273.1V209.7H265.5zM227.2 217.4H234.9V225.1H227.2zM242.5 217.4H257.8V225.1H242.5zM227.2 225.1H234.9V232.8H227.2zM242.5 225.1H257.8V232.8H242.5zM219.6 232.8H227.2V240.5H219.6zM227.2 240.5H234.9V248.2H227.2zM242.5 248.2H250.2V255.9H242.5zM204.3 255.9H211.9V263.6H204.3zM242.5 263.6H250.2V271.3H242.5zM196.6 271.3H204.3V278.9H196.6zM211.9 271.3H219.6V278.9H211.9zM204.3 278.9H211.9V286.6H204.3zM219.6 278.9H227.2V286.6H219.6zM234.9 278.9H242.5V286.6H234.9zM196.6 286.6H204.3V294.3H196.6zM211.9 286.6H219.6V294.3H211.9zM227.2 286.6H234.9V294.3H227.2zM204.3 294.3H219.6V301.9H204.3zM234.9 294.3H242.5V301.9H234.9zM36.1 301.9H43.7V309.6H36.1zM166.1 301.9H173.7V309.6H166.1zM196.6 301.9H211.9V309.6H196.6zM150.8 317.2H166.1V324.9H150.8zM181.3 317.2H196.6V324.9H181.3zM5.5 332.5H13.1V340.1H5.5zM135.5 340.1H143.1V347.8H135.5zM150.8 340.1H158.4V347.8H150.8zM120.2 347.8H143.1V355.4H120.2zM13.1 355.4H20.8V363.0H13.1zM28.4 363.0H36.1V370.6H28.4zM51.3 363.0H59.0V370.6H51.3zM74.3 363.0H81.9V370.6H74.3z"/><path fill="#0040ff" d="M227.2 -0.5H234.9V7.3H227.2zM242.5 -0.5H250.2V7.3H242.5zM257.8 7.3H265.5V15.2H257.8zM265.5 15.2H273.1V23.0H265.5zM273.1 46.5H280.8V54.4H273.1zM280.8 54.4H288.4V62.2H280.8zM280.8 70.0H288.4V77.8H280.8zM280.8 77.8H288.4V85.6H280.8zM280.8 85.6H288.4V93.4H280.8zM280.8 93.4H288.4V101.2H280.8zM273.1 101.2H280.8V109.0H273.1zM296.1 109.0H303.7V116.8H296.1zM97.2 116.8H104.9V124.5H97.2zM288.4 116.8H296.1V124.5H288.4zM273.1 124.5H280.8V132.3H273.1zM265.5 132.3H280.8V140.1H265.5zM288.4 132.3H296.1V140.1H288.4zM273.1 140.1H303.7V147.8H273.1zM280.8 155.6H288.4V163.3H280.8zM303.7 155.6H311.3V163.3H303.7zM257.8 163.3H265.5V171.1H257.8zM273.1 163.3H280.8V171.1H273.1zM288.4 163.3H311.3V171.1H288.4zM288.4 171.1H296.1V178.8H288.4zM303.7 171.1H326.6V178.8H303.7zM257.8 178.8H280.8V186.5H257.8zM296.1 178.8H326.6V186.5H296.1zM250.2 186.5H273.1V194.3H250.2zM280.8 186.5H288.4V194.3H280.8zM296.1 186.5H311.3V194.3H296.1zM120.2 194.3H127.8V202.0H120.2zM273.1 194.3H280.8V202.0H273.1zM311.3 194.3H326.6V202.0H311.3zM288.4 202.0H296.1V209.7H288.4zM120.2 209.7H127.8V217.4H120.2zM257.8 209.7H280.8V217.4H257.8zM257.8 217.4H265.5V225.1H257.8zM296.1 217.4H311.3V225.1H296.1zM319.0 217.4H326.6V225.1H319.0zM257.8 225.1H265.5V232.8H257.8zM273.1 225.1H280.8V232.8H273.1zM288.4 225.1H296.1V232.8H288.4zM288.4 232.8H296.1V240.5H288.4zM280.8 240.5H288.4V248.2H280.8zM250.2 248.2H280.8V255.9H250.2zM257.8 255.9H288.4V263.6H257.8zM303.7 255.9H311.3V263.6H303.7zM257.8 263.6H265.5V271.3H257.8zM273.1 263.6H280.8V271.3H273.1zM303.7 263.6H311.3V271.3H303.7zM234.9 271.3H242.5V278.9H234.9zM250.2 271.3H257.8V278.9H250.2zM280.8 271.3H288.4V278.9H280.8zM227.2 278.9H234.9V286.6H227.2zM242.5 278.9H250.2V286.6H242.5zM257.8 278.9H265.5V286.6H257.8zM280.8 278.9H288.4V286.6H280.8zM234.9 286.6H250.2V294.3H234.9zM265.5 286.6H273.1V294.3H265.5zM219.6 294.3H227.2V301.9H219.6zM242.5 294.3H257.8V301.9H242.5zM265.5 294.3H273.1V301.9H265.5zM211.9 301.9H219.6V309.6H211.9zM234.9 301.9H242.5V309.6H234.9zM265.5 301.9H273.1V309.6H265.5zM189.0 309.6H196.6V317.2H189.0zM219.6 309.6H227.2V317.2H219.6zM211.9 317.2H227.2V324.9H211.9zM265.5 317.2H273.1V324.9H265.5zM158.4 324.9H173.7V332.5H158.4zM189.0 324.9H196.6V332.5H189.0zM150.8 332.5H158.4V340.1H150.8zM166.1 332.5H181.3V340.1H166.1zM196.6 332.5H211.9V340.1H196.6zM227.2 332.5H234.9V340.1H227.2zM5.5 340.1H13.1V347.8H5.5zM158.4 340.1H166.1V347.8H158.4zM204.3 340.1H227.2V347.8H204.3zM150.8 347.8H158.4V355.4H150.8zM135.5 355.4H143.1V363.0H135.5zM13.1 363.0H20.8V370.6H13.1zM66.6 363.0H74.3V370.6H66.6zM81.9 363.0H89.6V370.6H81.9zM127.8 370.6H143.1V378.2H127.8zM120.2 378.2H143.1V385.8H120.2z"/><path fill="#0050ff" d="M234.9 -0.5H242.5V7.3H234.9zM250.2 15.2H265.5V23.0H250.2zM265.5 23.0H273.1V30.9H265.5zM273.1 30.9H280.8V38.7H273.1zM273.1 54.4H280.8V62.2H273.1zM280.8 62.2H288.4V70.0H280.8zM273.1 85.6H280.8V93.4H273.1zM273.1 93.4H280.8V101.2H273.1zM97.2 109.0H104.9V116.8H97.2zM273.1 109.0H280.8V116.8H273.1zM273.1 116.8H280.8V124.5H273.1zM257.8 140.1H265.5V147.8H257.8zM265.5 147.8H280.8V155.6H265.5zM273.1 155.6H280.8V163.3H273.1zM265.5 163.3H273.1V171.1H265.5zM273.1 171.1H288.4V178.8H273.1zM250.2 178.8H257.8V186.5H250.2zM273.1 186.5H280.8V194.3H273.1zM288.4 186.5H296.1V194.3H288.4zM234.9 194.3H242.5V202.0H234.9zM257.8 194.3H265.5V202.0H257.8zM120.2 202.0H127.8V209.7H120.2zM234.9 202.0H250.2V209.7H234.9zM257.8 202.0H265.5V209.7H257.8zM273.1 202.0H288.4V209.7H273.1zM242.5 209.7H257.8V217.4H242.5zM280.8 209.7H288.4V217.4H280.8zM273.1 217.4H280.8V225.1H273.1zM280.8 225.1H288.4V232.8H280.8zM227.2 232.8H234.9V240.5H227.2zM257.8 232.8H280.8V240.5H257.8zM242.5 240.5H280.8V248.2H242.5zM219.6 255.9H227.2V263.6H219.6zM234.9 255.9H257.8V263.6H234.9zM219.6 263.6H242.5V271.3H219.6zM250.2 263.6H257.8V271.3H250.2zM265.5 263.6H273.1V271.3H265.5zM242.5 271.3H250.2V278.9H242.5zM250.2 278.9H257.8V286.6H250.2zM204.3 286.6H211.9V294.3H204.3zM219.6 286.6H227.2V294.3H219.6zM43.7 294.3H51.3V301.9H43.7zM196.6 294.3H204.3V301.9H196.6zM227.2 294.3H234.9V301.9H227.2zM173.7 301.9H181.3V309.6H173.7zM219.6 301.9H234.9V309.6H219.6zM166.1 309.6H189.0V317.2H166.1zM196.6 309.6H219.6V317.2H196.6zM173.7 317.2H181.3V324.9H173.7zM204.3 317.2H211.9V324.9H204.3zM150.8 324.9H158.4V332.5H150.8zM173.7 324.9H189.0V332.5H173.7zM158.4 332.5H166.1V340.1H158.4zM181.3 332.5H189.0V340.1H181.3zM143.1 347.8H150.8V355.4H143.1zM112.5 355.4H135.5V363.0H112.5zM143.1 355.4H150.8V363.0H143.1zM59.0 363.0H66.6V370.6H59.0zM127.8 363.0H143.1V370.6H127.8z"/><path fill="#0020ff" d="M250.2 -0.5H265.5V7.3H250.2zM265.5 7.3H273.1V15.2H265.5zM273.1 23.0H280.8V30.9H273.1zM288.4 54.4H296.1V62.2H288.4zM296.1 62.2H303.7V70.0H296.1zM81.9 77.8H89.6V85.6H81.9zM288.4 77.8H296.1V85.6H288.4zM311.3 77.8H319.0V85.6H311.3zM303.7 85.6H326.6V93.4H303.7zM89.6 93.4H97.2V101.2H89.6zM303.7 93.4H326.6V101.2H303.7zM311.3 101.2H319.0V109.0H311.3zM311.3 109.0H319.0V116.8H311.3zM326.6 109.0H341.9V116.8H326.6zM303.7 116.8H311.3V124.5H303.7zM319.0 116.8H326.6V124.5H319.0zM334.3 116.8H349.6V124.5H334.3zM311.3 124.5H319.0V132.3H311.3zM303.7 132.3H311.3V140.1H303.7zM326.6 132.3H334.3V140.1H326.6zM341.9 132.3H349.6V140.1H341.9zM303.7 140.1H319.0V147.8H303.7zM296.1 147.8H303.7V155.6H296.1zM311.3 147.8H326.6V155.6H311.3zM334.3 147.8H341.9V155.6H334.3zM288.4 155.6H296.1V163.3H288.4zM311.3 155.6H319.0V163.3H311.3zM326.6 155.6H334.3V163.3H326.6zM341.9 155.6H349.6V163.3H341.9zM311.3 163.3H319.0V171.1H311.3zM326.6 163.3H334.3V171.1H326.6zM326.6 171.1H334.3V178.8H326.6zM341.9 171.1H349.6V178.8H341.9zM334.3 178.8H341.9V186.5H334.3zM311.3 186.5H326.6V194.3H311.3zM334.3 186.5H349.6V194.3H334.3zM296.1 194.3H303.7V202.0H296.1zM326.6 194.3H334.3V202.0H326.6zM296.1 202.0H303.7V209.7H296.1zM326.6 202.0H334.3V209.7H326.6zM288.4 209.7H296.1V217.4H288.4zM303.7 209.7H319.0V217.4H303.7zM341.9 209.7H349.6V217.4H341.9zM311.3 217.4H319.0V225.1H311.3zM326.6 217.4H341.9V225.1H326.6zM319.0 225.1H334.3V232.8H319.0zM303.7 232.8H311.3V240.5H303.7zM319.0 232.8H341.9V240.5H319.0zM303.7 240.5H319.0V248.2H303.7zM288.4 248.2H296.1V255.9H288.4zM303.7 248.2H311.3V255.9H303.7zM319.0 248.2H326.6V255.9H319.0zM334.3 248.2H349.6V255.9H334.3zM296.1 255.9H303.7V263.6H296.1zM326.6 255.9H341.9V263.6H326.6zM288.4 263.6H303.7V271.3H288.4zM319.0 263.6H334.3V271.3H319.0zM341.9 263.6H349.6V271.3H341.9zM89.6 271.3H97.2V278.9H89.6zM296.1 271.3H326.6V278.9H296.1zM334.3 271.3H341.9V278.9H334.3zM311.3 278.9H341.9V286.6H311.3zM273.1 286.6H288.4V294.3H273.1zM296.1 286.6H311.3V294.3H296.1zM326.6 286.6H334.3V294.3H326.6zM273.1 294.3H280.8V301.9H273.1zM288.4 294.3H296.1V301.9H288.4zM311.3 294.3H326.6V301.9H311.3zM250.2 301.9H257.8V309.6H250.2zM273.1 301.9H280.8V309.6H273.1zM303.7 301.9H326.6V309.6H303.7zM234.9 309.6H250.2V317.2H234.9zM257.8 309.6H265.5V317.2H257.8zM273.1 309.6H280.8V317.2H273.1zM288.4 309.6H319.0V317.2H288.4zM242.5 317.2H250.2V324.9H242.5zM257.8 317.2H265.5V324.9H257.8zM303.7 317.2H311.3V324.9H303.7zM211.9 324.9H219.6V332.5H211.9zM242.5 324.9H257.8V332.5H242.5zM265.5 324.9H280.8V332.5H265.5zM296.1 324.9H303.7V332.5H296.1zM211.9 332.5H219.6V340.1H211.9zM234.9 332.5H242.5V340.1H234.9zM257.8 332.5H265.5V340.1H257.8zM280.8 332.5H288.4V340.1H280.8zM173.7 340.1H204.3V347.8H173.7zM234.9 340.1H250.2V347.8H234.9zM158.4 347.8H166.1V355.4H158.4zM189.0 347.8H204.3V355.4H189.0zM219.6 347.8H242.5V355.4H219.6zM250.2 347.8H273.1V355.4H250.2zM150.8 355.4H158.4V363.0H150.8zM166.1 355.4H173.7V363.0H166.1zM181.3 355.4H189.0V363.0H181.3zM219.6 355.4H227.2V363.0H219.6zM242.5 355.4H273.1V363.0H242.5zM112.5 363.0H120.2V370.6H112.5zM158.4 363.0H166.1V370.6H158.4zM196.6 363.0H204.3V370.6H196.6zM219.6 363.0H234.9V370.6H219.6zM250.2 363.0H257.8V370.6H250.2zM20.8 370.6H28.4V378.2H20.8zM36.1 370.6H59.0V378.2H36.1zM66.6 370.6H74.3V378.2H66.6zM97.2 370.6H120.2V378.2H97.2zM204.3 370.6H234.9V378.2H204.3zM36.1 378.2H43.7V385.8H36.1zM104.9 378.2H112.5V385.8H104.9zM143.1 378.2H150.8V385.8H143.1zM196.6 378.2H204.3V385.8H196.6zM211.9 378.2H219.6V385.8H211.9zM227.2 378.2H242.5V385.8H227.2zM97.2 385.8H120.2V393.4H97.2zM219.6 385.8H227.2V393.4H219.6zM104.9 393.4H135.5V401.0H104.9z"/><path fill="#0030ff" d="M265.5 -0.5H273.1V7.3H265.5zM66.6 7.3H74.3V15.2H66.6zM250.2 7.3H257.8V15.2H250.2zM280.8 38.7H288.4V46.5H280.8zM280.8 46.5H288.4V54.4H280.8zM288.4 62.2H296.1V70.0H288.4zM288.4 70.0H303.7V77.8H288.4zM296.1 77.8H311.3V85.6H296.1zM288.4 85.6H296.1V93.4H288.4zM288.4 93.4H303.7V101.2H288.4zM280.8 101.2H311.3V109.0H280.8zM319.0 101.2H326.6V109.0H319.0zM280.8 109.0H296.1V116.8H280.8zM303.7 109.0H311.3V116.8H303.7zM319.0 109.0H326.6V116.8H319.0zM280.8 116.8H288.4V124.5H280.8zM296.1 116.8H303.7V124.5H296.1zM311.3 116.8H319.0V124.5H311.3zM326.6 116.8H334.3V124.5H326.6zM280.8 124.5H311.3V132.3H280.8zM334.3 124.5H341.9V132.3H334.3zM280.8 132.3H288.4V140.1H280.8zM296.1 132.3H303.7V140.1H296.1zM319.0 132.3H326.6V140.1H319.0zM334.3 132.3H341.9V140.1H334.3zM319.0 140.1H334.3V147.8H319.0zM280.8 147.8H296.1V155.6H280.8zM303.7 147.8H311.3V155.6H303.7zM326.6 147.8H334.3V155.6H326.6zM257.8 155.6H273.1V163.3H257.8zM296.1 155.6H303.7V163.3H296.1zM319.0 155.6H326.6V163.3H319.0zM334.3 155.6H341.9V163.3H334.3zM280.8 163.3H288.4V171.1H280.8zM319.0 163.3H326.6V171.1H319.0zM334.3 163.3H341.9V171.1H334.3zM296.1 171.1H303.7V178.8H296.1zM334.3 171.1H341.9V178.8H334.3zM280.8 178.8H296.1V186.5H280.8zM326.6 178.8H334.3V186.5H326.6zM280.8 194.3H296.1V202.0H280.8zM303.7 194.3H311.3V202.0H303.7zM334.3 194.3H349.6V202.0H334.3zM303.7 202.0H326.6V209.7H303.7zM334.3 202.0H349.6V209.7H334.3zM296.1 209.7H303.7V217.4H296.1zM319.0 209.7H341.9V217.4H319.0zM265.5 217.4H273.1V225.1H265.5zM280.8 217.4H296.1V225.1H280.8zM265.5 225.1H273.1V232.8H265.5zM296.1 225.1H319.0V232.8H296.1zM334.3 225.1H341.9V232.8H334.3zM280.8 232.8H288.4V240.5H280.8zM296.1 232.8H303.7V240.5H296.1zM311.3 232.8H319.0V240.5H311.3zM288.4 240.5H303.7V248.2H288.4zM319.0 240.5H334.3V248.2H319.0zM341.9 240.5H349.6V248.2H341.9zM280.8 248.2H288.4V255.9H280.8zM296.1 248.2H303.7V255.9H296.1zM326.6 248.2H334.3V255.9H326.6zM288.4 255.9H296.1V263.6H288.4zM311.3 255.9H319.0V263.6H311.3zM341.9 255.9H349.6V263.6H341.9zM280.8 263.6H288.4V271.3H280.8zM104.9 271.3H112.5V278.9H104.9zM257.8 271.3H280.8V278.9H257.8zM288.4 271.3H296.1V278.9H288.4zM265.5 278.9H280.8V286.6H265.5zM288.4 278.9H311.3V286.6H288.4zM250.2 286.6H265.5V294.3H250.2zM288.4 286.6H296.1V294.3H288.4zM257.8 294.3H265.5V301.9H257.8zM280.8 294.3H288.4V301.9H280.8zM296.1 294.3H311.3V301.9H296.1zM242.5 301.9H250.2V309.6H242.5zM257.8 301.9H265.5V309.6H257.8zM296.1 301.9H303.7V309.6H296.1zM227.2 309.6H234.9V317.2H227.2zM250.2 309.6H257.8V317.2H250.2zM265.5 309.6H273.1V317.2H265.5zM280.8 309.6H288.4V317.2H280.8zM166.1 317.2H173.7V324.9H166.1zM196.6 317.2H204.3V324.9H196.6zM227.2 317.2H242.5V324.9H227.2zM250.2 317.2H257.8V324.9H250.2zM280.8 317.2H288.4V324.9H280.8zM196.6 324.9H211.9V332.5H196.6zM219.6 324.9H242.5V332.5H219.6zM288.4 324.9H296.1V332.5H288.4zM189.0 332.5H196.6V340.1H189.0zM219.6 332.5H227.2V340.1H219.6zM242.5 332.5H257.8V340.1H242.5zM166.1 340.1H173.7V347.8H166.1zM227.2 340.1H234.9V347.8H227.2zM257.8 340.1H265.5V347.8H257.8zM280.8 340.1H288.4V347.8H280.8zM5.5 347.8H13.1V355.4H5.5zM181.3 347.8H189.0V355.4H181.3zM204.3 347.8H219.6V355.4H204.3zM204.3 355.4H211.9V363.0H204.3zM227.2 355.4H234.9V363.0H227.2zM20.8 363.0H28.4V370.6H20.8zM89.6 363.0H112.5V370.6H89.6zM120.2 363.0H127.8V370.6H120.2zM143.1 363.0H150.8V370.6H143.1zM189.0 363.0H196.6V370.6H189.0zM242.5 363.0H250.2V370.6H242.5zM28.4 370.6H36.1V378.2H28.4zM59.0 370.6H66.6V378.2H59.0zM120.2 370.6H127.8V378.2H120.2zM143.1 370.6H150.8V378.2H143.1zM120.2 385.8H135.5V393.4H120.2z"/><path fill="#0000ff" d="M273.1 -0.5H280.8V7.3H273.1zM273.1 7.3H280.8V15.2H273.1zM280.8 23.0H288.4V30.9H280.8zM288.4 46.5H296.1V54.4H288.4zM296.1 54.4H311.3V62.2H296.1zM311.3 70.0H326.6V77.8H311.3zM326.6 77.8H334.3V85.6H326.6zM326.6 85.6H334.3V93.4H326.6zM334.3 101.2H341.9V109.0H334.3zM97.2 271.3H104.9V278.9H97.2zM341.9 271.3H349.6V278.9H341.9zM341.9 286.6H349.6V294.3H341.9zM334.3 294.3H341.9V301.9H334.3zM326.6 301.9H334.3V309.6H326.6zM319.0 309.6H326.6V317.2H319.0zM319.0 317.2H326.6V324.9H319.0zM311.3 324.9H319.0V332.5H311.3zM303.7 332.5H319.0V340.1H303.7zM288.4 340.1H296.1V347.8H288.4zM288.4 347.8H296.1V355.4H288.4zM5.5 355.4H13.1V363.0H5.5zM273.1 363.0H280.8V370.6H273.1zM74.3 370.6H81.9V378.2H74.3zM89.6 370.6H97.2V378.2H89.6zM150.8 370.6H181.3V378.2H150.8zM250.2 370.6H265.5V378.2H250.2zM28.4 378.2H36.1V385.8H28.4zM43.7 378.2H66.6V385.8H43.7zM74.3 378.2H97.2V385.8H74.3zM150.8 378.2H158.4V385.8H150.8zM166.1 378.2H196.6V385.8H166.1zM204.3 378.2H211.9V385.8H204.3zM250.2 378.2H257.8V385.8H250.2zM20.8 385.8H36.1V393.4H20.8zM59.0 385.8H66.6V393.4H59.0zM81.9 385.8H97.2V393.4H81.9zM150.8 385.8H189.0V393.4H150.8zM196.6 385.8H204.3V393.4H196.6zM227.2 385.8H250.2V393.4H227.2zM28.4 393.4H36.1V401.0H28.4zM74.3 393.4H89.6V401.0H74.3zM97.2 393.4H104.9V401.0H97.2zM143.1 393.4H150.8V401.0H143.1zM173.7 393.4H181.3V401.0H173.7zM189.0 393.4H204.3V401.0H189.0zM219.6 393.4H234.9V401.0H219.6zM89.6 401.0H97.2V408.6H89.6zM166.1 401.0H181.3V408.6H166.1zM204.3 401.0H211.9V408.6H204.3zM89.6 408.6H104.9V416.2H89.6zM112.5 408.6H120.2V416.2H112.5zM97.2 416.2H112.5V423.7H97.2z"/><path fill="#0000df" d="M280.8 -0.5H296.1V7.3H280.8zM303.7 -0.5H311.3V7.3H303.7zM280.8 7.3H303.7V15.2H280.8zM288.4 15.2H311.3V23.0H288.4zM303.7 23.0H311.3V30.9H303.7zM288.4 30.9H296.1V38.7H288.4zM303.7 30.9H311.3V38.7H303.7zM319.0 38.7H326.6V46.5H319.0zM311.3 46.5H319.0V54.4H311.3zM319.0 54.4H334.3V62.2H319.0zM341.9 54.4H349.6V62.2H341.9zM334.3 62.2H341.9V70.0H334.3zM341.9 85.6H349.6V93.4H341.9zM341.9 294.3H349.6V301.9H341.9zM334.3 301.9H349.6V309.6H334.3zM341.9 309.6H349.6V317.2H341.9zM326.6 317.2H341.9V324.9H326.6zM319.0 324.9H341.9V332.5H319.0zM319.0 332.5H326.6V340.1H319.0zM334.3 332.5H341.9V340.1H334.3zM311.3 340.1H319.0V347.8H311.3zM326.6 340.1H334.3V347.8H326.6zM319.0 347.8H326.6V355.4H319.0zM288.4 355.4H311.3V363.0H288.4zM288.4 363.0H296.1V370.6H288.4zM311.3 363.0H319.0V370.6H311.3zM5.5 370.6H13.1V378.2H5.5zM280.8 370.6H288.4V378.2H280.8zM5.5 378.2H13.1V385.8H5.5zM257.8 378.2H273.1V385.8H257.8zM296.1 378.2H303.7V385.8H296.1zM257.8 385.8H265.5V393.4H257.8zM242.5 393.4H250.2V401.0H242.5zM257.8 393.4H265.5V401.0H257.8zM13.1 401.0H28.4V408.6H13.1zM36.1 401.0H51.3V408.6H36.1zM59.0 401.0H74.3V408.6H59.0zM150.8 401.0H158.4V408.6H150.8zM219.6 401.0H227.2V408.6H219.6zM242.5 401.0H250.2V408.6H242.5zM257.8 401.0H265.5V408.6H257.8zM20.8 408.6H28.4V416.2H20.8zM36.1 408.6H74.3V416.2H36.1zM81.9 408.6H89.6V416.2H81.9zM127.8 408.6H158.4V416.2H127.8zM211.9 408.6H227.2V416.2H211.9zM20.8 416.2H28.4V423.7H20.8zM43.7 416.2H59.0V423.7H43.7zM74.3 416.2H81.9V423.7H74.3zM120.2 416.2H158.4V423.7H120.2zM166.1 416.2H181.3V423.7H166.1zM189.0 416.2H196.6V423.7H189.0zM36.1 423.7H51.3V431.3H36.1zM59.0 423.7H74.3V431.3H59.0zM104.9 423.7H112.5V431.3H104.9zM135.5 423.7H166.1V431.3H135.5zM173.7 423.7H181.3V431.3H173.7zM189.0 423.7H196.6V431.3H189.0z"/><path fill="#0000cf" d="M296.1 -0.5H303.7V7.3H296.1zM311.3 -0.5H319.0V7.3H311.3zM303.7 7.3H326.6V15.2H303.7zM311.3 15.2H334.3V23.0H311.3zM288.4 23.0H303.7V30.9H288.4zM311.3 23.0H334.3V30.9H311.3zM296.1 30.9H303.7V38.7H296.1zM311.3 30.9H341.9V38.7H311.3zM303.7 38.7H319.0V46.5H303.7zM326.6 38.7H349.6V46.5H326.6zM319.0 46.5H349.6V54.4H319.0zM334.3 54.4H341.9V62.2H334.3zM326.6 62.2H334.3V70.0H326.6zM341.9 62.2H349.6V70.0H341.9zM334.3 70.0H349.6V77.8H334.3zM341.9 77.8H349.6V85.6H341.9zM81.9 85.6H89.6V93.4H81.9zM51.3 278.9H59.0V286.6H51.3zM334.3 309.6H341.9V317.2H334.3zM341.9 317.2H349.6V324.9H341.9zM341.9 324.9H349.6V332.5H341.9zM326.6 332.5H334.3V340.1H326.6zM341.9 332.5H349.6V340.1H341.9zM319.0 340.1H326.6V347.8H319.0zM334.3 340.1H349.6V347.8H334.3zM311.3 347.8H319.0V355.4H311.3zM326.6 347.8H349.6V355.4H326.6zM311.3 355.4H349.6V363.0H311.3zM296.1 363.0H311.3V370.6H296.1zM319.0 363.0H349.6V370.6H319.0zM288.4 370.6H349.6V378.2H288.4zM273.1 378.2H296.1V385.8H273.1zM303.7 378.2H341.9V385.8H303.7zM5.5 385.8H13.1V393.4H5.5zM265.5 385.8H334.3V393.4H265.5zM5.5 393.4H13.1V401.0H5.5zM250.2 393.4H257.8V401.0H250.2zM265.5 393.4H296.1V401.0H265.5zM303.7 393.4H319.0V401.0H303.7zM326.6 393.4H334.3V401.0H326.6zM234.9 401.0H242.5V408.6H234.9zM250.2 401.0H257.8V408.6H250.2zM265.5 401.0H303.7V408.6H265.5zM311.3 401.0H326.6V408.6H311.3zM13.1 408.6H20.8V416.2H13.1zM227.2 408.6H296.1V416.2H227.2zM303.7 408.6H319.0V416.2H303.7zM13.1 416.2H20.8V423.7H13.1zM28.4 416.2H43.7V423.7H28.4zM59.0 416.2H66.6V423.7H59.0zM196.6 416.2H280.8V423.7H196.6zM296.1 416.2H303.7V423.7H296.1zM311.3 416.2H319.0V423.7H311.3zM20.8 423.7H36.1V431.3H20.8zM51.3 423.7H59.0V431.3H51.3zM112.5 423.7H135.5V431.3H112.5zM166.1 423.7H173.7V431.3H166.1zM181.3 423.7H189.0V431.3H181.3zM204.3 423.7H288.4V431.3H204.3zM296.1 423.7H311.3V431.3H296.1z"/><path fill="#0000bf" d="M319.0 -0.5H326.6V7.3H319.0zM334.3 23.0H341.9V30.9H334.3zM104.9 255.9H112.5V263.6H104.9zM97.2 263.6H112.5V271.3H97.2zM36.1 294.3H43.7V301.9H36.1zM341.9 378.2H349.6V385.8H341.9zM334.3 385.8H341.9V393.4H334.3zM296.1 393.4H303.7V401.0H296.1zM319.0 393.4H326.6V401.0H319.0zM334.3 393.4H341.9V401.0H334.3zM5.5 401.0H13.1V408.6H5.5zM303.7 401.0H311.3V408.6H303.7zM326.6 401.0H334.3V408.6H326.6zM5.5 408.6H13.1V416.2H5.5zM296.1 408.6H303.7V416.2H296.1zM319.0 408.6H326.6V416.2H319.0zM5.5 416.2H13.1V423.7H5.5zM280.8 416.2H296.1V423.7H280.8zM303.7 416.2H311.3V423.7H303.7zM13.1 423.7H20.8V431.3H13.1zM196.6 423.7H204.3V431.3H196.6zM288.4 423.7H296.1V431.3H288.4zM311.3 423.7H319.0V431.3H311.3z"/><path fill="#0000af" d="M326.6 -0.5H334.3V7.3H326.6zM326.6 7.3H334.3V15.2H326.6zM334.3 15.2H341.9V23.0H334.3zM341.9 30.9H349.6V38.7H341.9zM97.2 255.9H104.9V263.6H97.2zM81.9 263.6H97.2V271.3H81.9zM341.9 385.8H349.6V393.4H341.9zM341.9 393.4H349.6V401.0H341.9zM334.3 401.0H341.9V408.6H334.3zM326.6 408.6H334.3V416.2H326.6zM319.0 416.2H326.6V423.7H319.0zM5.5 423.7H13.1V431.3H5.5zM319.0 423.7H326.6V431.3H319.0z"/><path fill="#00009f" d="M334.3 -0.5H341.9V7.3H334.3zM334.3 7.3H341.9V15.2H334.3zM341.9 15.2H349.6V23.0H341.9zM341.9 23.0H349.6V30.9H341.9zM89.6 255.9H97.2V263.6H89.6zM43.7 286.6H51.3V294.3H43.7zM341.9 401.0H349.6V408.6H341.9zM334.3 408.6H341.9V416.2H334.3zM326.6 416.2H334.3V423.7H326.6z"/><path fill="#00008f" d="M341.9 -0.5H349.6V7.3H341.9zM341.9 7.3H349.6V15.2H341.9zM341.9 408.6H349.6V416.2H341.9zM334.3 416.2H349.6V423.7H334.3zM326.6 423.7H349.6V431.3H326.6z"/><path fill="#00bfff" d="M89.6 7.3H97.2V15.2H89.6zM143.1 15.2H150.8V23.0H143.1zM127.8 23.0H143.1V30.9H127.8zM127.8 30.9H135.5V38.7H127.8zM181.3 30.9H189.0V38.7H181.3zM166.1 38.7H173.7V46.5H166.1zM204.3 46.5H211.9V54.4H204.3zM150.8 54.4H158.4V62.2H150.8zM181.3 54.4H189.0V62.2H181.3zM204.3 54.4H211.9V62.2H204.3zM173.7 70.0H204.3V77.8H173.7zM219.6 70.0H227.2V77.8H219.6zM189.0 77.8H196.6V85.6H189.0zM227.2 93.4H242.5V101.2H227.2zM234.9 101.2H242.5V109.0H234.9zM227.2 109.0H234.9V116.8H227.2zM227.2 116.8H234.9V124.5H227.2zM211.9 124.5H219.6V132.3H211.9zM196.6 140.1H204.3V147.8H196.6zM211.9 147.8H219.6V155.6H211.9zM196.6 163.3H204.3V171.1H196.6zM211.9 163.3H219.6V171.1H211.9zM227.2 163.3H234.9V171.1H227.2zM196.6 178.8H204.3V186.5H196.6zM211.9 178.8H219.6V186.5H211.9zM204.3 186.5H211.9V194.3H204.3zM181.3 194.3H189.0V202.0H181.3zM211.9 194.3H219.6V202.0H211.9zM196.6 202.0H204.3V209.7H196.6zM196.6 225.1H204.3V232.8H196.6zM173.7 232.8H181.3V240.5H173.7zM196.6 232.8H204.3V240.5H196.6zM166.1 278.9H173.7V286.6H166.1zM89.6 324.9H97.2V332.5H89.6zM66.6 332.5H74.3V340.1H66.6zM81.9 332.5H89.6V340.1H81.9zM112.5 332.5H120.2V340.1H112.5zM127.8 332.5H135.5V340.1H127.8zM104.9 340.1H112.5V347.8H104.9zM36.1 355.4H51.3V363.0H36.1z"/><path fill="#00afff" d="M104.9 7.3H112.5V15.2H104.9zM81.9 15.2H89.6V23.0H81.9zM112.5 15.2H120.2V23.0H112.5zM150.8 23.0H158.4V30.9H150.8zM166.1 23.0H173.7V30.9H166.1zM143.1 30.9H150.8V38.7H143.1zM173.7 30.9H181.3V38.7H173.7zM143.1 38.7H150.8V46.5H143.1zM173.7 38.7H181.3V46.5H173.7zM150.8 46.5H158.4V54.4H150.8zM196.6 46.5H204.3V54.4H196.6zM166.1 54.4H181.3V62.2H166.1zM196.6 54.4H204.3V62.2H196.6zM211.9 54.4H219.6V62.2H211.9zM166.1 62.2H173.7V70.0H166.1zM227.2 62.2H234.9V70.0H227.2zM211.9 70.0H219.6V77.8H211.9zM234.9 70.0H242.5V77.8H234.9zM196.6 77.8H204.3V85.6H196.6zM211.9 77.8H219.6V85.6H211.9zM204.3 85.6H211.9V93.4H204.3zM234.9 85.6H242.5V93.4H234.9zM104.9 93.4H112.5V101.2H104.9zM242.5 93.4H250.2V101.2H242.5zM211.9 101.2H219.6V109.0H211.9zM211.9 109.0H227.2V116.8H211.9zM242.5 109.0H257.8V116.8H242.5zM211.9 116.8H219.6V124.5H211.9zM227.2 124.5H250.2V132.3H227.2zM227.2 132.3H234.9V140.1H227.2zM250.2 132.3H257.8V140.1H250.2zM204.3 140.1H227.2V147.8H204.3zM242.5 140.1H250.2V147.8H242.5zM219.6 147.8H227.2V155.6H219.6zM234.9 147.8H242.5V155.6H234.9zM211.9 155.6H219.6V163.3H211.9zM219.6 178.8H227.2V186.5H219.6zM204.3 202.0H219.6V209.7H204.3zM189.0 209.7H211.9V217.4H189.0zM120.2 217.4H127.8V225.1H120.2zM204.3 217.4H211.9V225.1H204.3zM181.3 225.1H189.0V232.8H181.3zM204.3 225.1H211.9V232.8H204.3zM181.3 240.5H189.0V248.2H181.3zM112.5 255.9H120.2V263.6H112.5zM173.7 255.9H181.3V263.6H173.7zM181.3 263.6H189.0V271.3H181.3zM81.9 271.3H89.6V278.9H81.9zM158.4 271.3H166.1V278.9H158.4zM104.9 278.9H112.5V286.6H104.9zM158.4 278.9H166.1V286.6H158.4zM158.4 286.6H166.1V294.3H158.4zM150.8 294.3H158.4V301.9H150.8zM143.1 317.2H150.8V324.9H143.1zM135.5 324.9H143.1V332.5H135.5zM89.6 332.5H97.2V340.1H89.6zM66.6 340.1H74.3V347.8H66.6zM112.5 340.1H120.2V347.8H112.5zM20.8 347.8H36.1V355.4H20.8zM43.7 347.8H51.3V355.4H43.7zM59.0 347.8H66.6V355.4H59.0z"/><path fill="#00efff" d="M74.3 15.2H81.9V23.0H74.3zM135.5 38.7H143.1V46.5H135.5zM112.5 54.4H120.2V62.2H112.5zM143.1 62.2H158.4V70.0H143.1zM158.4 70.0H166.1V77.8H158.4zM158.4 77.8H166.1V85.6H158.4zM181.3 85.6H204.3V93.4H181.3zM166.1 93.4H173.7V101.2H166.1zM158.4 101.2H166.1V109.0H158.4zM189.0 101.2H196.6V109.0H189.0zM120.2 109.0H127.8V116.8H120.2zM181.3 109.0H189.0V116.8H181.3zM104.9 116.8H112.5V124.5H104.9zM158.4 116.8H166.1V124.5H158.4zM181.3 116.8H196.6V124.5H181.3zM204.3 116.8H211.9V124.5H204.3zM173.7 124.5H181.3V132.3H173.7zM189.0 124.5H204.3V132.3H189.0zM166.1 163.3H173.7V171.1H166.1zM158.4 178.8H166.1V186.5H158.4zM173.7 178.8H181.3V186.5H173.7zM204.3 178.8H211.9V186.5H204.3zM166.1 186.5H181.3V194.3H166.1zM135.5 194.3H143.1V202.0H135.5zM150.8 194.3H158.4V202.0H150.8zM166.1 194.3H173.7V202.0H166.1zM196.6 194.3H204.3V202.0H196.6zM150.8 202.0H158.4V209.7H150.8zM181.3 202.0H189.0V209.7H181.3zM150.8 217.4H158.4V225.1H150.8zM158.4 225.1H173.7V232.8H158.4zM173.7 248.2H181.3V255.9H173.7zM150.8 278.9H158.4V286.6H150.8zM97.2 294.3H104.9V301.9H97.2zM104.9 309.6H112.5V317.2H104.9zM66.6 317.2H74.3V324.9H66.6zM66.6 324.9H81.9V332.5H66.6zM104.9 324.9H112.5V332.5H104.9zM120.2 324.9H127.8V332.5H120.2zM59.0 340.1H66.6V347.8H59.0z"/><path fill="#00cfff" d="M89.6 15.2H97.2V23.0H89.6zM104.9 15.2H112.5V23.0H104.9zM120.2 15.2H135.5V23.0H120.2zM97.2 23.0H104.9V30.9H97.2zM112.5 30.9H127.8V38.7H112.5zM135.5 30.9H143.1V38.7H135.5zM150.8 30.9H158.4V38.7H150.8zM150.8 38.7H166.1V46.5H150.8zM127.8 46.5H143.1V54.4H127.8zM158.4 46.5H166.1V54.4H158.4zM173.7 46.5H189.0V54.4H173.7zM127.8 54.4H135.5V62.2H127.8zM189.0 54.4H196.6V62.2H189.0zM158.4 62.2H166.1V70.0H158.4zM173.7 62.2H181.3V70.0H173.7zM196.6 62.2H204.3V70.0H196.6zM127.8 70.0H150.8V77.8H127.8zM166.1 70.0H173.7V77.8H166.1zM97.2 77.8H104.9V85.6H97.2zM150.8 77.8H158.4V85.6H150.8zM158.4 85.6H181.3V93.4H158.4zM211.9 85.6H219.6V93.4H211.9zM150.8 93.4H158.4V101.2H150.8zM189.0 93.4H196.6V101.2H189.0zM204.3 93.4H219.6V101.2H204.3zM173.7 101.2H181.3V109.0H173.7zM104.9 109.0H112.5V116.8H104.9zM189.0 109.0H196.6V116.8H189.0zM204.3 109.0H211.9V116.8H204.3zM219.6 116.8H227.2V124.5H219.6zM219.6 124.5H227.2V132.3H219.6zM189.0 132.3H196.6V140.1H189.0zM204.3 132.3H211.9V140.1H204.3zM204.3 147.8H211.9V155.6H204.3zM227.2 147.8H234.9V155.6H227.2zM189.0 155.6H196.6V163.3H189.0zM219.6 155.6H227.2V163.3H219.6zM204.3 163.3H211.9V171.1H204.3zM204.3 171.1H219.6V178.8H204.3zM196.6 186.5H204.3V194.3H196.6zM211.9 186.5H219.6V194.3H211.9zM204.3 194.3H211.9V202.0H204.3zM189.0 202.0H196.6V209.7H189.0zM173.7 209.7H181.3V217.4H173.7zM173.7 217.4H189.0V225.1H173.7zM181.3 248.2H189.0V255.9H181.3zM166.1 255.9H173.7V263.6H166.1zM181.3 255.9H189.0V263.6H181.3zM158.4 263.6H173.7V271.3H158.4zM66.6 271.3H74.3V278.9H66.6zM150.8 286.6H158.4V294.3H150.8zM150.8 301.9H158.4V309.6H150.8zM28.4 309.6H36.1V317.2H28.4zM89.6 309.6H97.2V317.2H89.6zM143.1 309.6H150.8V317.2H143.1zM81.9 317.2H97.2V324.9H81.9zM104.9 317.2H112.5V324.9H104.9zM97.2 324.9H104.9V332.5H97.2zM112.5 324.9H120.2V332.5H112.5zM97.2 332.5H112.5V340.1H97.2zM120.2 332.5H127.8V340.1H120.2zM51.3 340.1H59.0V347.8H51.3zM74.3 340.1H81.9V347.8H74.3z"/><path fill="#0000ef" d="M280.8 15.2H288.4V23.0H280.8zM288.4 38.7H303.7V46.5H288.4zM296.1 46.5H311.3V54.4H296.1zM311.3 54.4H319.0V62.2H311.3zM311.3 62.2H326.6V70.0H311.3zM326.6 70.0H334.3V77.8H326.6zM334.3 77.8H341.9V85.6H334.3zM334.3 85.6H341.9V93.4H334.3zM341.9 93.4H349.6V101.2H341.9zM89.6 101.2H97.2V109.0H89.6zM341.9 101.2H349.6V109.0H341.9zM341.9 278.9H349.6V286.6H341.9zM326.6 309.6H334.3V317.2H326.6zM303.7 340.1H311.3V347.8H303.7zM296.1 347.8H311.3V355.4H296.1zM280.8 355.4H288.4V363.0H280.8zM5.5 363.0H13.1V370.6H5.5zM280.8 363.0H288.4V370.6H280.8zM265.5 370.6H280.8V378.2H265.5zM13.1 378.2H20.8V385.8H13.1zM13.1 385.8H20.8V393.4H13.1zM36.1 385.8H43.7V393.4H36.1zM51.3 385.8H59.0V393.4H51.3zM66.6 385.8H81.9V393.4H66.6zM250.2 385.8H257.8V393.4H250.2zM13.1 393.4H28.4V401.0H13.1zM36.1 393.4H74.3V401.0H36.1zM89.6 393.4H97.2V401.0H89.6zM135.5 393.4H143.1V401.0H135.5zM150.8 393.4H173.7V401.0H150.8zM181.3 393.4H189.0V401.0H181.3zM234.9 393.4H242.5V401.0H234.9zM28.4 401.0H36.1V408.6H28.4zM51.3 401.0H59.0V408.6H51.3zM74.3 401.0H89.6V408.6H74.3zM135.5 401.0H150.8V408.6H135.5zM158.4 401.0H166.1V408.6H158.4zM181.3 401.0H204.3V408.6H181.3zM211.9 401.0H219.6V408.6H211.9zM227.2 401.0H234.9V408.6H227.2zM28.4 408.6H36.1V416.2H28.4zM74.3 408.6H81.9V416.2H74.3zM120.2 408.6H127.8V416.2H120.2zM158.4 408.6H211.9V416.2H158.4zM66.6 416.2H74.3V423.7H66.6zM81.9 416.2H97.2V423.7H81.9zM112.5 416.2H120.2V423.7H112.5zM158.4 416.2H166.1V423.7H158.4zM181.3 416.2H189.0V423.7H181.3zM74.3 423.7H104.9V431.3H74.3z"/><path fill="#60ff9f" d="M74.3 23.0H81.9V30.9H74.3zM89.6 30.9H97.2V38.7H89.6zM104.9 38.7H112.5V46.5H104.9zM158.4 155.6H166.1V163.3H158.4zM150.8 163.3H158.4V171.1H150.8zM143.1 217.4H150.8V225.1H143.1zM143.1 232.8H150.8V240.5H143.1zM127.8 278.9H143.1V286.6H127.8zM112.5 286.6H120.2V294.3H112.5zM89.6 294.3H97.2V301.9H89.6zM120.2 301.9H127.8V309.6H120.2z"/><path fill="#20ffdf" d="M81.9 23.0H89.6V30.9H81.9zM104.9 30.9H112.5V38.7H104.9zM112.5 46.5H120.2V54.4H112.5zM112.5 62.2H120.2V70.0H112.5zM89.6 70.0H97.2V77.8H89.6zM135.5 85.6H143.1V93.4H135.5zM135.5 93.4H150.8V101.2H135.5zM158.4 93.4H166.1V101.2H158.4zM120.2 101.2H127.8V109.0H120.2zM143.1 101.2H150.8V109.0H143.1zM135.5 109.0H143.1V116.8H135.5zM120.2 116.8H127.8V124.5H120.2zM166.1 116.8H173.7V124.5H166.1zM104.9 124.5H112.5V132.3H104.9zM150.8 132.3H166.1V140.1H150.8zM158.4 147.8H166.1V155.6H158.4zM181.3 147.8H189.0V155.6H181.3zM143.1 163.3H150.8V171.1H143.1zM158.4 171.1H173.7V178.8H158.4zM120.2 178.8H127.8V186.5H120.2zM166.1 178.8H173.7V186.5H166.1zM135.5 186.5H150.8V194.3H135.5zM158.4 194.3H166.1V202.0H158.4zM173.7 202.0H181.3V209.7H173.7zM143.1 209.7H150.8V217.4H143.1zM158.4 255.9H166.1V263.6H158.4zM112.5 271.3H120.2V278.9H112.5zM150.8 271.3H158.4V278.9H150.8zM120.2 278.9H127.8V286.6H120.2zM143.1 278.9H150.8V286.6H143.1zM51.3 286.6H59.0V294.3H51.3zM97.2 286.6H112.5V294.3H97.2zM127.8 294.3H135.5V301.9H127.8zM81.9 301.9H97.2V309.6H81.9zM43.7 309.6H51.3V317.2H43.7zM120.2 317.2H127.8V324.9H120.2zM51.3 324.9H59.0V332.5H51.3zM13.1 340.1H28.4V347.8H13.1z"/><path fill="#10ffef" d="M89.6 23.0H97.2V30.9H89.6zM127.8 62.2H135.5V70.0H127.8zM120.2 70.0H127.8V77.8H120.2zM143.1 77.8H150.8V85.6H143.1zM120.2 85.6H127.8V93.4H120.2zM143.1 85.6H150.8V93.4H143.1zM120.2 93.4H127.8V101.2H120.2zM173.7 93.4H181.3V101.2H173.7zM127.8 101.2H143.1V109.0H127.8zM166.1 109.0H173.7V116.8H166.1zM112.5 116.8H120.2V124.5H112.5zM143.1 116.8H150.8V124.5H143.1zM173.7 116.8H181.3V124.5H173.7zM150.8 124.5H158.4V132.3H150.8zM166.1 132.3H181.3V140.1H166.1zM196.6 147.8H204.3V155.6H196.6zM189.0 163.3H196.6V171.1H189.0zM135.5 171.1H143.1V178.8H135.5zM173.7 171.1H181.3V178.8H173.7zM196.6 171.1H204.3V178.8H196.6zM135.5 178.8H143.1V186.5H135.5zM181.3 186.5H189.0V194.3H181.3zM127.8 202.0H150.8V209.7H127.8zM166.1 202.0H173.7V209.7H166.1zM135.5 209.7H143.1V217.4H135.5zM166.1 209.7H173.7V217.4H166.1zM150.8 225.1H158.4V232.8H150.8zM89.6 278.9H97.2V286.6H89.6zM127.8 286.6H135.5V294.3H127.8zM51.3 294.3H59.0V301.9H51.3zM104.9 294.3H112.5V301.9H104.9zM143.1 294.3H150.8V301.9H143.1zM51.3 309.6H59.0V317.2H51.3zM74.3 309.6H81.9V317.2H74.3zM97.2 309.6H104.9V317.2H97.2zM59.0 317.2H66.6V324.9H59.0zM97.2 317.2H104.9V324.9H97.2zM135.5 317.2H143.1V324.9H135.5zM51.3 332.5H59.0V340.1H51.3zM28.4 340.1H36.1V347.8H28.4z"/><path fill="#00dfff" d="M104.9 23.0H120.2V30.9H104.9zM120.2 38.7H127.8V46.5H120.2zM120.2 46.5H127.8V54.4H120.2zM143.1 46.5H150.8V54.4H143.1zM166.1 46.5H173.7V54.4H166.1zM120.2 54.4H127.8V62.2H120.2zM135.5 54.4H150.8V62.2H135.5zM97.2 70.0H104.9V77.8H97.2zM150.8 70.0H158.4V77.8H150.8zM104.9 77.8H112.5V85.6H104.9zM120.2 77.8H135.5V85.6H120.2zM166.1 77.8H173.7V85.6H166.1zM181.3 77.8H189.0V85.6H181.3zM104.9 85.6H120.2V93.4H104.9zM150.8 85.6H158.4V93.4H150.8zM112.5 93.4H120.2V101.2H112.5zM127.8 93.4H135.5V101.2H127.8zM196.6 93.4H204.3V101.2H196.6zM112.5 101.2H120.2V109.0H112.5zM166.1 101.2H173.7V109.0H166.1zM196.6 101.2H211.9V109.0H196.6zM173.7 109.0H181.3V116.8H173.7zM196.6 109.0H204.3V116.8H196.6zM181.3 124.5H189.0V132.3H181.3zM204.3 124.5H211.9V132.3H204.3zM181.3 132.3H189.0V140.1H181.3zM196.6 132.3H204.3V140.1H196.6zM211.9 132.3H219.6V140.1H211.9zM196.6 155.6H204.3V163.3H196.6zM181.3 163.3H189.0V171.1H181.3zM219.6 163.3H227.2V171.1H219.6zM181.3 171.1H196.6V178.8H181.3zM173.7 194.3H181.3V202.0H173.7zM189.0 194.3H196.6V202.0H189.0zM158.4 202.0H166.1V209.7H158.4zM166.1 232.8H173.7V240.5H166.1zM166.1 240.5H173.7V248.2H166.1zM166.1 248.2H173.7V255.9H166.1zM166.1 271.3H173.7V278.9H166.1zM43.7 301.9H51.3V309.6H43.7zM36.1 309.6H43.7V317.2H36.1zM13.1 324.9H20.8V332.5H13.1zM81.9 324.9H89.6V332.5H81.9zM74.3 332.5H81.9V340.1H74.3zM43.7 340.1H51.3V347.8H43.7zM36.1 347.8H43.7V355.4H36.1zM51.3 347.8H59.0V355.4H51.3z"/><path fill="#cfff30" d="M74.3 30.9H81.9V38.7H74.3zM97.2 54.4H104.9V62.2H97.2z"/><path fill="#8fff70" d="M81.9 30.9H89.6V38.7H81.9zM127.8 132.3H135.5V140.1H127.8zM143.1 140.1H150.8V147.8H143.1zM150.8 147.8H158.4V155.6H150.8zM143.1 155.6H150.8V163.3H143.1zM74.3 271.3H81.9V278.9H74.3zM127.8 271.3H135.5V278.9H127.8z"/><path fill="#40ffbf" d="M97.2 30.9H104.9V38.7H97.2zM97.2 62.2H104.9V70.0H97.2zM150.8 109.0H158.4V116.8H150.8zM127.8 116.8H135.5V124.5H127.8zM143.1 132.3H150.8V140.1H143.1zM166.1 147.8H173.7V155.6H166.1zM166.1 155.6H173.7V163.3H166.1zM135.5 163.3H143.1V171.1H135.5zM173.7 163.3H181.3V171.1H173.7zM127.8 171.1H135.5V178.8H127.8zM143.1 171.1H158.4V178.8H143.1zM127.8 178.8H135.5V186.5H127.8zM150.8 209.7H158.4V217.4H150.8zM158.4 232.8H166.1V240.5H158.4zM158.4 240.5H166.1V248.2H158.4zM120.2 286.6H127.8V294.3H120.2zM135.5 286.6H143.1V294.3H135.5zM135.5 294.3H143.1V301.9H135.5zM51.3 301.9H59.0V309.6H51.3zM127.8 309.6H135.5V317.2H127.8zM36.1 324.9H43.7V332.5H36.1zM36.1 332.5H43.7V340.1H36.1zM36.1 340.1H43.7V347.8H36.1z"/><path fill="#afff50" d="M74.3 38.7H81.9V46.5H74.3zM127.8 225.1H135.5V232.8H127.8zM20.8 317.2H28.4V324.9H20.8zM28.4 332.5H36.1V340.1H28.4z"/><path fill="#ffaf00" d="M81.9 38.7H89.6V46.5H81.9zM97.2 46.5H104.9V54.4H97.2zM127.8 155.6H135.5V163.3H127.8zM120.2 232.8H127.8V240.5H120.2z"/><path fill="#ffef00" d="M89.6 38.7H97.2V46.5H89.6zM81.9 278.9H89.6V286.6H81.9z"/><path fill="#ffff00" d="M97.2 38.7H104.9V46.5H97.2z"/><path fill="#30ffcf" d="M112.5 38.7H120.2V46.5H112.5zM104.9 54.4H112.5V62.2H104.9zM143.1 109.0H150.8V116.8H143.1zM158.4 109.0H166.1V116.8H158.4zM135.5 116.8H143.1V124.5H135.5zM150.8 116.8H158.4V124.5H150.8zM158.4 140.1H166.1V147.8H158.4zM173.7 140.1H189.0V147.8H173.7zM173.7 147.8H181.3V155.6H173.7zM120.2 171.1H127.8V178.8H120.2zM158.4 186.5H166.1V194.3H158.4zM127.8 209.7H135.5V217.4H127.8zM158.4 209.7H166.1V217.4H158.4zM135.5 217.4H143.1V225.1H135.5zM120.2 225.1H127.8V232.8H120.2zM143.1 225.1H150.8V232.8H143.1zM158.4 248.2H166.1V255.9H158.4zM150.8 255.9H158.4V263.6H150.8zM150.8 263.6H158.4V271.3H150.8zM135.5 271.3H143.1V278.9H135.5zM112.5 278.9H120.2V286.6H112.5zM143.1 286.6H150.8V294.3H143.1zM112.5 294.3H120.2V301.9H112.5zM59.0 301.9H66.6V309.6H59.0zM104.9 301.9H112.5V309.6H104.9zM127.8 301.9H135.5V309.6H127.8zM66.6 309.6H74.3V317.2H66.6zM81.9 309.6H89.6V317.2H81.9zM112.5 309.6H127.8V317.2H112.5zM43.7 317.2H59.0V324.9H43.7zM74.3 317.2H81.9V324.9H74.3zM59.0 324.9H66.6V332.5H59.0zM43.7 332.5H51.3V340.1H43.7z"/><path fill="#00ffff" d="M127.8 38.7H135.5V46.5H127.8zM104.9 62.2H112.5V70.0H104.9zM120.2 62.2H127.8V70.0H120.2zM135.5 62.2H143.1V70.0H135.5zM104.9 70.0H120.2V77.8H104.9zM112.5 77.8H120.2V85.6H112.5zM135.5 77.8H143.1V85.6H135.5zM173.7 77.8H181.3V85.6H173.7zM127.8 85.6H135.5V93.4H127.8zM181.3 93.4H189.0V101.2H181.3zM150.8 101.2H158.4V109.0H150.8zM181.3 101.2H189.0V109.0H181.3zM112.5 109.0H120.2V116.8H112.5zM127.8 109.0H135.5V116.8H127.8zM196.6 116.8H204.3V124.5H196.6zM158.4 124.5H173.7V132.3H158.4zM166.1 140.1H173.7V147.8H166.1zM189.0 140.1H196.6V147.8H189.0zM189.0 147.8H196.6V155.6H189.0zM173.7 155.6H189.0V163.3H173.7zM204.3 155.6H211.9V163.3H204.3zM158.4 163.3H166.1V171.1H158.4zM150.8 178.8H158.4V186.5H150.8zM181.3 178.8H196.6V186.5H181.3zM127.8 186.5H135.5V194.3H127.8zM150.8 186.5H158.4V194.3H150.8zM189.0 186.5H196.6V194.3H189.0zM127.8 194.3H135.5V202.0H127.8zM143.1 194.3H150.8V202.0H143.1zM181.3 209.7H189.0V217.4H181.3zM127.8 217.4H135.5V225.1H127.8zM158.4 217.4H173.7V225.1H158.4zM173.7 225.1H181.3V232.8H173.7zM173.7 240.5H181.3V248.2H173.7zM97.2 301.9H104.9V309.6H97.2zM135.5 301.9H150.8V309.6H135.5zM59.0 309.6H66.6V317.2H59.0zM135.5 309.6H143.1V317.2H135.5zM112.5 317.2H120.2V324.9H112.5zM127.8 317.2H135.5V324.9H127.8zM43.7 324.9H51.3V332.5H43.7zM127.8 324.9H135.5V332.5H127.8zM59.0 332.5H66.6V340.1H59.0z"/><path fill="#dfff20" d="M74.3 46.5H81.9V54.4H74.3zM120.2 132.3H127.8V140.1H120.2zM112.5 263.6H120.2V271.3H112.5zM127.8 263.6H135.5V271.3H127.8z"/><path fill="#ff4000" d="M81.9 46.5H89.6V54.4H81.9z"/><path fill="#ff5000" d="M89.6 46.5H97.2V54.4H89.6z"/><path fill="#50ffaf" d="M104.9 46.5H112.5V54.4H104.9zM89.6 62.2H97.2V70.0H89.6zM127.8 124.5H135.5V132.3H127.8zM143.1 124.5H150.8V132.3H143.1zM150.8 155.6H158.4V163.3H150.8zM143.1 178.8H150.8V186.5H143.1zM135.5 225.1H143.1V232.8H135.5zM150.8 248.2H158.4V255.9H150.8zM143.1 263.6H150.8V271.3H143.1zM120.2 271.3H127.8V278.9H120.2zM143.1 271.3H150.8V278.9H143.1zM89.6 286.6H97.2V294.3H89.6zM66.6 301.9H74.3V309.6H66.6zM112.5 301.9H120.2V309.6H112.5z"/><path fill="#ffdf00" d="M81.9 54.4H89.6V62.2H81.9zM135.5 232.8H143.1V240.5H135.5zM120.2 263.6H127.8V271.3H120.2zM66.6 294.3H74.3V301.9H66.6z"/><path fill="#ff9f00" d="M89.6 54.4H97.2V62.2H89.6zM59.0 286.6H66.6V294.3H59.0zM81.9 286.6H89.6V294.3H81.9z"/><path fill="#80ff80" d="M81.9 62.2H89.6V70.0H81.9zM120.2 124.5H127.8V132.3H120.2zM135.5 140.1H143.1V147.8H135.5zM143.1 147.8H150.8V155.6H143.1zM143.1 255.9H150.8V263.6H143.1zM74.3 301.9H81.9V309.6H74.3zM28.4 317.2H36.1V324.9H28.4z"/><path fill="#70ff8f" d="M112.5 124.5H120.2V132.3H112.5zM135.5 124.5H143.1V132.3H135.5zM104.9 132.3H112.5V140.1H104.9zM135.5 132.3H143.1V140.1H135.5zM150.8 140.1H158.4V147.8H150.8zM127.8 163.3H135.5V171.1H127.8zM150.8 232.8H158.4V240.5H150.8zM150.8 240.5H158.4V248.2H150.8zM59.0 278.9H66.6V286.6H59.0zM81.9 294.3H89.6V301.9H81.9zM36.1 317.2H43.7V324.9H36.1zM13.1 332.5H20.8V340.1H13.1z"/><path fill="#bfff40" d="M112.5 132.3H120.2V140.1H112.5zM135.5 155.6H143.1V163.3H135.5zM112.5 163.3H120.2V171.1H112.5zM20.8 332.5H28.4V340.1H20.8z"/><path fill="#800000" d="M112.5 140.1H120.2V147.8H112.5zM112.5 147.8H127.8V155.6H112.5zM120.2 155.6H127.8V163.3H120.2zM127.8 240.5H135.5V248.2H127.8zM127.8 248.2H135.5V255.9H127.8zM74.3 278.9H81.9V286.6H74.3zM74.3 286.6H81.9V294.3H74.3z"/><path fill="#cf0000" d="M120.2 140.1H127.8V147.8H120.2z"/><path fill="#ffcf00" d="M127.8 140.1H135.5V147.8H127.8z"/><path fill="#ff6000" d="M127.8 147.8H135.5V155.6H127.8zM127.8 232.8H135.5V240.5H127.8zM120.2 255.9H127.8V263.6H120.2zM135.5 255.9H143.1V263.6H135.5z"/><path fill="#9fff60" d="M135.5 147.8H143.1V155.6H135.5zM143.1 248.2H150.8V255.9H143.1zM135.5 263.6H143.1V271.3H135.5zM59.0 294.3H66.6V301.9H59.0zM120.2 294.3H127.8V301.9H120.2z"/><path fill="#ffbf00" d="M112.5 155.6H120.2V163.3H112.5z"/><path fill="#efff10" d="M120.2 163.3H127.8V171.1H120.2zM143.1 240.5H150.8V248.2H143.1z"/><path fill="#ff7000" d="M120.2 240.5H127.8V248.2H120.2z"/><path fill="#ef0000" d="M135.5 240.5H143.1V248.2H135.5z"/><path fill="#ff8000" d="M120.2 248.2H127.8V255.9H120.2zM74.3 294.3H81.9V301.9H74.3zM20.8 324.9H28.4V332.5H20.8z"/><path fill="#ff2000" d="M135.5 248.2H143.1V255.9H135.5zM66.6 278.9H74.3V286.6H66.6z"/><path fill="#ff1000" d="M127.8 255.9H135.5V263.6H127.8z"/><path fill="#df0000" d="M66.6 286.6H74.3V294.3H66.6z"/><path fill="#ff8f00" d="M28.4 324.9H36.1V332.5H28.4z"/></g><use href="#land"/><use href="#grid"/><path d="M169.7 428.1L176.1 416.6L190.9 419.8L203.6 410.3L212.1 414.5L222.7 401.8L231.2 406.0L241.8 398.6L246.1 402.9M254.6 412.4L267.3 416.6L294.9 425.1M307.6 385.9L297.0 384.8L284.3 385.9L273.7 386.9L275.8 397.6L282.1 410.3L292.7 416.6L305.5 403.9L314.0 407.1L320.3 395.4L316.1 389.1M301.2 370.0L305.5 361.5L318.2 357.3L328.8 354.1M337.3 364.7L342.6 362.6M252.4 0.0L260.9 1.3M289.6 21.2L297.0 27.6M324.6 12.7L330.9 21.2L339.4 17.0L349.6 12.7M330.9 31.8L337.3 44.5L343.7 45.6M327.7 6.4L335.2 9.5L339.4 4.2" fill="none" stroke="#000" stroke-width="1.0" stroke-linejoin="round"/><text x="250.3" y="409.2" font-size="13.5" text-anchor="middle" transform="rotate(25 250.3 409.2)" dy="4.5">3</text><text x="310.1" y="382.7" font-size="13.5" text-anchor="middle" transform="rotate(30 310.1 382.7)" dy="4.5">3</text><text x="333.1" y="362.6" font-size="13.5" text-anchor="middle" transform="rotate(25 333.1 362.6)" dy="4.5">3</text><text x="286.4" y="17.4" font-size="13.5" text-anchor="middle" transform="rotate(40 286.4 17.4)" dy="4.5">3</text><text x="322.4" y="3.8" font-size="13.5" text-anchor="middle" transform="rotate(20 322.4 3.8)" dy="4.5">3</text><use href="#stars"/>
</g>
<use href="#frame"/><rect x="4.2" y="20.3" width="111.6" height="24.9" fill="url(#jet)" stroke="#303030" stroke-width="1"/><text x="4.2" y="7.3" font-size="16.7" fill="#303030" color="#303030" text-anchor="middle">0</text><text x="97.2" y="7.3" font-size="16.7" fill="#303030" color="#303030" text-anchor="middle">50</text><text x="312" y="37.5" font-size="20.8" text-anchor="middle">10 km</text><path d="M306.2 44H318.8" stroke="#000" stroke-width="3.7" stroke-linecap="round"/><text x="174.8" y="-11" font-size="20.7" font-weight="bold" stroke-width="0.1" text-anchor="middle">Number of Rads (3)</text>
</g>
<g transform="translate(1228,142)">
<use href="#labels"/>
<g clip-path="url(#cp)">
<g shape-rendering="crispEdges"><path fill="#8fff70" d="M66.6 -0.5H173.7V7.3H66.6zM280.8 -0.5H303.7V7.3H280.8zM66.6 7.3H173.7V15.2H66.6zM211.9 7.3H242.5V15.2H211.9zM288.4 7.3H303.7V15.2H288.4zM74.3 15.2H204.3V23.0H74.3zM211.9 15.2H242.5V23.0H211.9zM273.1 15.2H280.8V23.0H273.1zM296.1 15.2H311.3V23.0H296.1zM74.3 23.0H181.3V30.9H74.3zM204.3 23.0H219.6V30.9H204.3zM303.7 23.0H311.3V30.9H303.7zM74.3 30.9H181.3V38.7H74.3zM250.2 30.9H257.8V38.7H250.2zM303.7 30.9H319.0V38.7H303.7zM74.3 38.7H181.3V46.5H74.3zM250.2 38.7H257.8V46.5H250.2zM303.7 38.7H334.3V46.5H303.7zM74.3 46.5H143.1V54.4H74.3zM158.4 46.5H173.7V54.4H158.4zM250.2 46.5H273.1V54.4H250.2zM303.7 46.5H349.6V54.4H303.7zM81.9 54.4H135.5V62.2H81.9zM158.4 54.4H173.7V62.2H158.4zM257.8 54.4H280.8V62.2H257.8zM303.7 54.4H349.6V62.2H303.7zM81.9 62.2H135.5V70.0H81.9zM158.4 62.2H173.7V70.0H158.4zM234.9 62.2H242.5V70.0H234.9zM273.1 62.2H280.8V70.0H273.1zM303.7 62.2H349.6V70.0H303.7zM81.9 70.0H135.5V77.8H81.9zM211.9 70.0H219.6V77.8H211.9zM273.1 70.0H280.8V77.8H273.1zM296.1 70.0H349.6V77.8H296.1zM81.9 77.8H135.5V85.6H81.9zM288.4 77.8H349.6V85.6H288.4zM81.9 85.6H135.5V93.4H81.9zM288.4 85.6H349.6V93.4H288.4zM89.6 93.4H173.7V101.2H89.6zM288.4 93.4H349.6V101.2H288.4zM89.6 101.2H181.3V109.0H89.6zM280.8 101.2H349.6V109.0H280.8zM97.2 109.0H127.8V116.8H97.2zM150.8 109.0H166.1V116.8H150.8zM280.8 109.0H349.6V116.8H280.8zM97.2 116.8H127.8V124.5H97.2zM150.8 116.8H158.4V124.5H150.8zM280.8 116.8H349.6V124.5H280.8zM104.9 124.5H127.8V132.3H104.9zM150.8 124.5H158.4V132.3H150.8zM280.8 124.5H349.6V132.3H280.8zM104.9 132.3H166.1V140.1H104.9zM288.4 132.3H349.6V140.1H288.4zM112.5 140.1H166.1V147.8H112.5zM288.4 140.1H349.6V147.8H288.4zM112.5 147.8H150.8V155.6H112.5zM265.5 147.8H273.1V155.6H265.5zM280.8 147.8H349.6V155.6H280.8zM112.5 155.6H143.1V163.3H112.5zM257.8 155.6H349.6V163.3H257.8zM112.5 163.3H143.1V171.1H112.5zM250.2 163.3H349.6V171.1H250.2zM250.2 171.1H349.6V178.8H250.2zM242.5 178.8H349.6V186.5H242.5zM127.8 186.5H143.1V194.3H127.8zM234.9 186.5H349.6V194.3H234.9zM120.2 194.3H143.1V202.0H120.2zM219.6 194.3H349.6V202.0H219.6zM120.2 202.0H143.1V209.7H120.2zM211.9 202.0H349.6V209.7H211.9zM127.8 209.7H143.1V217.4H127.8zM181.3 209.7H349.6V217.4H181.3zM173.7 217.4H211.9V225.1H173.7zM234.9 217.4H349.6V225.1H234.9zM120.2 225.1H127.8V232.8H120.2zM166.1 225.1H211.9V232.8H166.1zM234.9 225.1H349.6V232.8H234.9zM120.2 232.8H135.5V240.5H120.2zM166.1 232.8H211.9V240.5H166.1zM234.9 232.8H349.6V240.5H234.9zM120.2 240.5H135.5V248.2H120.2zM166.1 240.5H349.6V248.2H166.1zM120.2 248.2H143.1V255.9H120.2zM166.1 248.2H349.6V255.9H166.1zM104.9 255.9H143.1V263.6H104.9zM173.7 255.9H334.3V263.6H173.7zM81.9 263.6H89.6V271.3H81.9zM104.9 263.6H143.1V271.3H104.9zM173.7 263.6H326.6V271.3H173.7zM341.9 263.6H349.6V271.3H341.9zM66.6 271.3H97.2V278.9H66.6zM104.9 271.3H150.8V278.9H104.9zM166.1 271.3H326.6V278.9H166.1zM341.9 271.3H349.6V278.9H341.9zM51.3 278.9H97.2V286.6H51.3zM120.2 278.9H150.8V286.6H120.2zM166.1 278.9H319.0V286.6H166.1zM341.9 278.9H349.6V286.6H341.9zM43.7 286.6H97.2V294.3H43.7zM127.8 286.6H158.4V294.3H127.8zM173.7 286.6H311.3V294.3H173.7zM334.3 286.6H349.6V294.3H334.3zM36.1 294.3H97.2V301.9H36.1zM127.8 294.3H158.4V301.9H127.8zM173.7 294.3H303.7V301.9H173.7zM334.3 294.3H349.6V301.9H334.3zM36.1 301.9H97.2V309.6H36.1zM127.8 301.9H166.1V309.6H127.8zM173.7 301.9H296.1V309.6H173.7zM326.6 301.9H349.6V309.6H326.6zM36.1 309.6H97.2V317.2H36.1zM120.2 309.6H166.1V317.2H120.2zM173.7 309.6H288.4V317.2H173.7zM311.3 309.6H341.9V317.2H311.3zM36.1 317.2H97.2V324.9H36.1zM127.8 317.2H166.1V324.9H127.8zM173.7 317.2H280.8V324.9H173.7zM303.7 317.2H334.3V324.9H303.7zM28.4 324.9H97.2V332.5H28.4zM127.8 324.9H166.1V332.5H127.8zM173.7 324.9H273.1V332.5H173.7zM296.1 324.9H326.6V332.5H296.1zM28.4 332.5H97.2V340.1H28.4zM120.2 332.5H166.1V340.1H120.2zM181.3 332.5H196.6V340.1H181.3zM211.9 332.5H227.2V340.1H211.9zM242.5 332.5H257.8V340.1H242.5zM303.7 332.5H319.0V340.1H303.7zM20.8 340.1H97.2V347.8H20.8zM104.9 340.1H166.1V347.8H104.9zM296.1 340.1H319.0V347.8H296.1zM20.8 347.8H158.4V355.4H20.8zM288.4 347.8H311.3V355.4H288.4zM20.8 355.4H89.6V363.0H20.8zM97.2 355.4H143.1V363.0H97.2zM280.8 355.4H303.7V363.0H280.8zM28.4 363.0H81.9V370.6H28.4zM97.2 363.0H135.5V370.6H97.2zM273.1 363.0H296.1V370.6H273.1zM36.1 370.6H81.9V378.2H36.1zM89.6 370.6H135.5V378.2H89.6zM265.5 370.6H288.4V378.2H265.5zM89.6 378.2H127.8V385.8H89.6zM250.2 378.2H273.1V385.8H250.2zM89.6 385.8H127.8V393.4H89.6zM257.8 385.8H265.5V393.4H257.8zM89.6 393.4H120.2V401.0H89.6zM97.2 401.0H127.8V408.6H97.2zM97.2 408.6H127.8V416.2H97.2zM104.9 416.2H127.8V423.7H104.9zM97.2 423.7H104.9V431.3H97.2zM112.5 423.7H127.8V431.3H112.5z"/><path fill="#ff7000" d="M173.7 -0.5H265.5V7.3H173.7zM173.7 7.3H211.9V15.2H173.7zM242.5 7.3H265.5V15.2H242.5zM204.3 15.2H211.9V23.0H204.3zM242.5 15.2H273.1V23.0H242.5zM181.3 23.0H204.3V30.9H181.3zM219.6 23.0H303.7V30.9H219.6zM181.3 30.9H219.6V38.7H181.3zM227.2 30.9H250.2V38.7H227.2zM257.8 30.9H303.7V38.7H257.8zM181.3 38.7H250.2V46.5H181.3zM257.8 38.7H303.7V46.5H257.8zM143.1 46.5H158.4V54.4H143.1zM173.7 46.5H250.2V54.4H173.7zM273.1 46.5H303.7V54.4H273.1zM135.5 54.4H158.4V62.2H135.5zM173.7 54.4H257.8V62.2H173.7zM280.8 54.4H303.7V62.2H280.8zM135.5 62.2H158.4V70.0H135.5zM173.7 62.2H234.9V70.0H173.7zM242.5 62.2H273.1V70.0H242.5zM280.8 62.2H303.7V70.0H280.8zM135.5 70.0H211.9V77.8H135.5zM219.6 70.0H273.1V77.8H219.6zM280.8 70.0H296.1V77.8H280.8zM135.5 77.8H288.4V85.6H135.5zM135.5 85.6H288.4V93.4H135.5zM173.7 93.4H288.4V101.2H173.7zM181.3 101.2H280.8V109.0H181.3zM127.8 109.0H150.8V116.8H127.8zM166.1 109.0H280.8V116.8H166.1zM127.8 116.8H150.8V124.5H127.8zM158.4 116.8H280.8V124.5H158.4zM127.8 124.5H150.8V132.3H127.8zM158.4 124.5H280.8V132.3H158.4zM166.1 132.3H288.4V140.1H166.1zM166.1 140.1H288.4V147.8H166.1zM150.8 147.8H265.5V155.6H150.8zM273.1 147.8H280.8V155.6H273.1zM143.1 155.6H257.8V163.3H143.1zM143.1 163.3H250.2V171.1H143.1zM135.5 171.1H250.2V178.8H135.5zM135.5 178.8H242.5V186.5H135.5zM143.1 186.5H234.9V194.3H143.1zM143.1 194.3H219.6V202.0H143.1zM143.1 202.0H211.9V209.7H143.1zM143.1 209.7H150.8V217.4H143.1zM166.1 209.7H181.3V217.4H166.1zM127.8 217.4H158.4V225.1H127.8zM166.1 217.4H173.7V225.1H166.1zM211.9 217.4H234.9V225.1H211.9zM127.8 225.1H166.1V232.8H127.8zM211.9 225.1H234.9V232.8H211.9zM135.5 232.8H166.1V240.5H135.5zM211.9 232.8H234.9V240.5H211.9zM135.5 240.5H166.1V248.2H135.5zM143.1 248.2H166.1V255.9H143.1zM143.1 255.9H173.7V263.6H143.1zM143.1 263.6H173.7V271.3H143.1zM150.8 271.3H166.1V278.9H150.8zM97.2 278.9H120.2V286.6H97.2zM150.8 278.9H166.1V286.6H150.8zM97.2 286.6H127.8V294.3H97.2zM158.4 286.6H173.7V294.3H158.4zM97.2 294.3H127.8V301.9H97.2zM158.4 294.3H173.7V301.9H158.4zM97.2 301.9H127.8V309.6H97.2zM166.1 301.9H173.7V309.6H166.1zM97.2 309.6H120.2V317.2H97.2zM166.1 309.6H173.7V317.2H166.1zM97.2 317.2H127.8V324.9H97.2zM97.2 324.9H127.8V332.5H97.2zM97.2 332.5H120.2V340.1H97.2zM97.2 340.1H104.9V347.8H97.2z"/><path fill="#008fff" d="M265.5 -0.5H280.8V7.3H265.5zM303.7 -0.5H349.6V7.3H303.7zM265.5 7.3H288.4V15.2H265.5zM303.7 7.3H349.6V15.2H303.7zM280.8 15.2H296.1V23.0H280.8zM311.3 15.2H349.6V23.0H311.3zM311.3 23.0H349.6V30.9H311.3zM219.6 30.9H227.2V38.7H219.6zM319.0 30.9H349.6V38.7H319.0zM334.3 38.7H349.6V46.5H334.3zM97.2 124.5H104.9V132.3H97.2zM120.2 171.1H135.5V178.8H120.2zM120.2 178.8H135.5V186.5H120.2zM120.2 186.5H127.8V194.3H120.2zM120.2 209.7H127.8V217.4H120.2zM120.2 217.4H127.8V225.1H120.2zM89.6 255.9H104.9V263.6H89.6zM334.3 255.9H349.6V263.6H334.3zM89.6 263.6H104.9V271.3H89.6zM326.6 263.6H341.9V271.3H326.6zM97.2 271.3H104.9V278.9H97.2zM326.6 271.3H341.9V278.9H326.6zM319.0 278.9H341.9V286.6H319.0zM311.3 286.6H334.3V294.3H311.3zM303.7 294.3H334.3V301.9H303.7zM296.1 301.9H326.6V309.6H296.1zM28.4 309.6H36.1V317.2H28.4zM288.4 309.6H311.3V317.2H288.4zM341.9 309.6H349.6V317.2H341.9zM20.8 317.2H36.1V324.9H20.8zM166.1 317.2H173.7V324.9H166.1zM280.8 317.2H303.7V324.9H280.8zM334.3 317.2H349.6V324.9H334.3zM13.1 324.9H28.4V332.5H13.1zM166.1 324.9H173.7V332.5H166.1zM273.1 324.9H296.1V332.5H273.1zM326.6 324.9H349.6V332.5H326.6zM5.5 332.5H28.4V340.1H5.5zM166.1 332.5H181.3V340.1H166.1zM196.6 332.5H211.9V340.1H196.6zM227.2 332.5H242.5V340.1H227.2zM257.8 332.5H303.7V340.1H257.8zM319.0 332.5H349.6V340.1H319.0zM5.5 340.1H20.8V347.8H5.5zM166.1 340.1H296.1V347.8H166.1zM319.0 340.1H349.6V347.8H319.0zM5.5 347.8H20.8V355.4H5.5zM158.4 347.8H288.4V355.4H158.4zM311.3 347.8H349.6V355.4H311.3zM5.5 355.4H20.8V363.0H5.5zM89.6 355.4H97.2V363.0H89.6zM143.1 355.4H280.8V363.0H143.1zM303.7 355.4H349.6V363.0H303.7zM5.5 363.0H28.4V370.6H5.5zM81.9 363.0H97.2V370.6H81.9zM135.5 363.0H273.1V370.6H135.5zM296.1 363.0H349.6V370.6H296.1zM5.5 370.6H36.1V378.2H5.5zM81.9 370.6H89.6V378.2H81.9zM135.5 370.6H265.5V378.2H135.5zM288.4 370.6H349.6V378.2H288.4zM5.5 378.2H89.6V385.8H5.5zM127.8 378.2H250.2V385.8H127.8zM273.1 378.2H349.6V385.8H273.1zM5.5 385.8H89.6V393.4H5.5zM127.8 385.8H257.8V393.4H127.8zM265.5 385.8H349.6V393.4H265.5zM5.5 393.4H89.6V401.0H5.5zM120.2 393.4H296.1V401.0H120.2zM303.7 393.4H341.9V401.0H303.7zM5.5 401.0H97.2V408.6H5.5zM127.8 401.0H288.4V408.6H127.8zM296.1 401.0H334.3V408.6H296.1zM5.5 408.6H97.2V416.2H5.5zM127.8 408.6H326.6V416.2H127.8zM5.5 416.2H104.9V423.7H5.5zM127.8 416.2H211.9V423.7H127.8zM227.2 416.2H326.6V423.7H227.2zM5.5 423.7H97.2V431.3H5.5zM104.9 423.7H112.5V431.3H104.9zM127.8 423.7H196.6V431.3H127.8zM211.9 423.7H319.0V431.3H211.9z"/><path fill="#800000" d="M150.8 209.7H166.1V217.4H150.8zM158.4 217.4H166.1V225.1H158.4z"/><path fill="#00008f" d="M296.1 393.4H303.7V401.0H296.1zM341.9 393.4H349.6V401.0H341.9zM288.4 401.0H296.1V408.6H288.4zM334.3 401.0H349.6V408.6H334.3zM326.6 408.6H349.6V416.2H326.6zM211.9 416.2H227.2V423.7H211.9zM326.6 416.2H349.6V423.7H326.6zM196.6 423.7H211.9V431.3H196.6zM319.0 423.7H349.6V431.3H319.0z"/></g><use href="#land"/><use href="#grid"/><path d="M165.9 320.8L173.5 324.6L173.5 332.0L181.4 339.6L189.0 339.6L196.6 332.0L211.9 332.0L219.6 339.6L227.2 339.6L227.2 332.0L234.8 324.6L242.5 332.0L242.5 339.6L250.3 347.3L265.4 332.0L273.0 332.0L273.0 324.6L280.7 316.9L288.3 316.9L288.3 309.3L311.2 286.2L316.1 286.2M322.4 276.6L326.7 270.9L326.7 263.3L334.3 255.6L342.0 255.6M342.0 270.9L342.0 286.2L334.3 293.8L334.3 301.7L326.7 309.3L320.3 309.3M310.8 316.9L303.6 324.6L295.9 332.0L303.6 339.6L295.9 347.3L288.3 347.3L288.3 354.9L280.7 362.6L273.0 362.6L273.0 370.2L265.4 377.8L250.3 377.8L250.3 385.3L257.7 392.9L265.4 392.9L265.4 385.3L273.0 377.8L288.3 377.8L288.3 370.2L295.9 362.6L303.6 362.6L303.6 354.9L311.2 347.3L318.8 347.3L318.8 332.0L324.6 326.5M335.2 316.9L342.0 309.3M36.1 309.3L28.4 324.6L28.4 332.0L20.8 347.3L20.8 362.6L36.1 377.8L74.2 377.8M81.9 370.0L81.9 362.6L89.5 354.9L97.2 362.6L97.2 370.2L89.5 377.8L97.2 385.3L89.5 392.9L89.5 400.5L104.8 415.6L104.8 423.2L112.4 428.1M120.1 428.1L127.7 415.6L127.7 408.2L120.1 400.5L120.1 392.9L127.7 385.3L127.7 377.8L135.3 370.2L135.3 362.6L143.0 354.9L158.3 354.9L158.3 347.3M163.3 327.6L165.9 324.6L165.9 320.8M82.7 270.3L88.0 275.6M97.6 283.0L104.8 278.8L104.8 263.3M244.0 0.0L250.3 3.2L257.7 4.2M264.1 17.0L282.1 23.3L288.5 25.5M273.7 0.0L284.3 10.6L291.7 21.2L295.9 27.6L305.5 35.0L311.8 38.2L316.1 38.2L326.7 47.7L334.1 54.1L341.5 54.1M295.9 0.0L295.9 11.7M203.6 30.8L212.1 27.6M220.6 31.8L222.7 38.2L219.6 42.4L203.6 30.8M120.9 169.7L127.3 170.8L131.5 176.1L131.5 186.7M118.8 201.5L125.2 196.2M97.6 124.1L103.9 131.5L105.0 138.9" fill="none" stroke="#000" stroke-width="1.0" stroke-linejoin="round"/><text x="78.5" y="372.1" font-size="13.5" text-anchor="middle" transform="rotate(-80 78.5 372.1)" dy="4.5">2</text><text x="159.5" y="335.6" font-size="13.5" text-anchor="middle" transform="rotate(-80 159.5 335.6)" dy="4.5">2</text><text x="91.6" y="279.2" font-size="13.5" text-anchor="middle" transform="rotate(40 91.6 279.2)" dy="4.5">2</text><text x="321.4" y="280.9" font-size="13.5" text-anchor="middle" transform="rotate(-60 321.4 280.9)" dy="4.5">2</text><text x="316.1" y="317.4" font-size="13.5" text-anchor="middle" transform="rotate(-30 316.1 317.4)" dy="4.5">2</text><text x="330.9" y="322.9" font-size="13.5" text-anchor="middle" transform="rotate(-40 330.9 322.9)" dy="4.5">2</text><text x="262.0" y="9.5" font-size="13.5" text-anchor="middle" transform="rotate(30 262.0 9.5)" dy="4.5">2</text><text x="298.7" y="15.3" font-size="13.5" text-anchor="middle" transform="rotate(10 298.7 15.3)" dy="4.5">2</text><text x="214.7" y="27.2" font-size="13.5" text-anchor="middle" transform="rotate(-10 214.7 27.2)" dy="4.5">2</text><text x="128.3" y="192.0" font-size="13.5" text-anchor="middle" transform="rotate(40 128.3 192.0)" dy="4.5">2</text><use href="#stars"/>
</g>
<use href="#frame"/><rect x="3.2" y="20.3" width="112.8" height="24.9" fill="url(#jet)" stroke="#303030" stroke-width="1"/><text x="3.2" y="7.3" font-size="16.7" fill="#303030" color="#303030" text-anchor="middle">0</text><text x="59.6" y="7.3" font-size="16.7" fill="#303030" color="#303030" text-anchor="middle">2</text><text x="116.0" y="7.3" font-size="16.7" fill="#303030" color="#303030" text-anchor="middle">4</text><text x="312" y="37.5" font-size="20.8" text-anchor="middle">10 km</text><path d="M306.2 44H318.8" stroke="#000" stroke-width="3.7" stroke-linecap="round"/><text x="174" y="-11" font-size="20.7" font-weight="bold" stroke-width="0.1" text-anchor="middle">Number of Sites (2)</text>
</g>
<g transform="translate(75,742)">
<use href="#labels"/>
<g clip-path="url(#cp)">
<path d="M67.6 29.7h0M68.9 29.8h0M70.3 30.1h0M71.6 30.5h0M72.8 30.9h0M74.0 31.5h0M75.2 32.2h0M76.3 33.0h0M77.3 33.8h0M78.2 34.8h0M79.1 35.8h0M79.9 36.9h0M80.5 38.1h0M81.1 39.3h0M81.5 40.6h0M81.9 41.9h0M82.1 43.2h0M82.2 44.6h0M82.2 45.9h0M82.1 47.2h0M81.8 48.6h0M81.4 49.9h0M81.0 51.1h0M80.4 52.3h0M79.7 53.5h0M78.9 54.6h0M78.1 55.6h0M77.1 56.5h0M76.1 57.4h0M75.0 58.2h0M68.0 22.3h0M70.0 22.5h0M71.9 22.9h0M73.8 23.4h0M75.7 24.1h0M77.5 25.0h0M79.2 26.0h0M80.8 27.1h0M82.3 28.4h0M83.7 29.8h0M85.0 31.4h0M86.1 33.0h0M87.1 34.7h0M87.9 36.6h0M88.6 38.4h0M89.1 40.4h0M89.4 42.3h0M89.6 44.3h0M89.6 46.3h0M89.4 48.3h0M89.0 50.2h0M88.5 52.1h0M87.8 54.0h0M86.9 55.8h0M85.9 57.5h0M84.8 59.1h0M83.5 60.6h0M82.1 62.0h0M80.5 63.3h0M78.9 64.4h0M68.4 14.9h0M71.0 15.2h0M73.6 15.7h0M76.1 16.4h0M78.6 17.3h0M81.0 18.4h0M83.2 19.8h0M85.4 21.3h0M87.4 23.0h0M89.2 24.9h0M90.9 26.9h0M92.4 29.1h0M93.7 31.4h0M94.8 33.8h0M95.7 36.3h0M96.3 38.8h0M96.8 41.4h0M97.0 44.0h0M97.0 46.7h0M96.7 49.3h0M96.2 51.9h0M95.5 54.4h0M94.6 56.9h0M93.5 59.3h0M92.1 61.5h0M90.6 63.7h0M88.9 65.7h0M87.0 67.5h0M85.0 69.2h0M82.8 70.7h0M68.8 7.6h0M72.0 7.9h0M75.3 8.5h0M78.4 9.3h0M81.5 10.5h0M84.5 11.9h0M87.3 13.6h0M89.9 15.5h0M92.4 17.6h0M94.7 19.9h0M96.8 22.5h0M98.7 25.2h0M100.3 28.0h0M101.7 31.0h0M102.8 34.1h0M103.6 37.3h0M104.1 40.5h0M104.4 43.8h0M104.3 47.1h0M104.0 50.3h0M103.4 53.6h0M102.6 56.7h0M101.4 59.8h0M100.0 62.8h0M98.3 65.6h0M96.4 68.2h0M94.3 70.7h0M92.0 73.0h0M89.4 75.1h0M86.7 77.0h0M69.2 0.2h0M73.1 0.5h0M76.9 1.3h0M80.7 2.3h0M84.4 3.7h0M87.9 5.4h0M91.3 7.4h0M94.5 9.6h0M97.5 12.2h0M100.2 15.0h0M102.7 18.0h0M105.0 21.3h0M106.9 24.7h0M108.5 28.2h0M109.8 31.9h0M110.8 35.7h0M111.5 39.6h0M111.8 43.5h0M111.7 47.5h0M111.4 51.4h0M110.6 55.2h0M109.6 59.0h0M108.2 62.7h0M106.5 66.2h0M104.5 69.6h0M102.3 72.8h0M99.7 75.8h0M96.9 78.5h0M93.9 81.0h0M90.6 83.3h0M95.3 1.2h0M99.1 3.8h0M102.5 6.8h0M105.7 10.0h0M108.6 13.6h0M111.2 17.3h0M113.5 21.3h0M115.4 25.5h0M116.9 29.8h0M118.1 34.2h0M118.8 38.7h0M119.2 43.3h0M119.1 47.8h0M118.7 52.4h0M117.9 56.9h0M116.6 61.3h0M115.0 65.6h0M113.1 69.7h0M110.7 73.6h0M108.1 77.4h0M105.1 80.8h0M101.9 84.0h0M98.3 86.9h0M94.6 89.5h0M107.6 1.4h0M111.2 5.1h0M114.6 9.1h0M117.5 13.4h0M120.1 18.0h0M122.2 22.7h0M124.0 27.6h0M125.3 32.7h0M126.2 37.8h0M126.6 43.0h0M126.5 48.2h0M126.0 53.4h0M125.1 58.6h0M123.7 63.6h0M121.8 68.5h0M119.6 73.2h0M117.0 77.7h0M113.9 81.9h0M110.5 85.9h0M106.8 89.5h0M102.8 92.9h0M98.5 95.8h0M116.7 0.1h0M120.5 4.7h0M123.8 9.5h0M126.7 14.6h0M129.1 19.9h0M131.1 25.5h0M132.5 31.1h0M133.5 36.9h0M134.0 42.8h0M133.9 48.6h0M133.3 54.5h0M132.3 60.2h0M130.7 65.9h0M128.7 71.4h0M126.1 76.6h0M123.2 81.7h0M119.8 86.5h0M115.9 90.9h0M111.8 95.0h0M107.2 98.8h0M102.4 102.1h0M126.4 0.2h0M130.1 5.6h0M133.3 11.2h0M136.0 17.2h0M138.1 23.3h0M139.8 29.6h0M140.8 36.0h0M141.4 42.5h0M141.3 49.0h0M140.7 55.5h0M139.5 61.9h0M137.7 68.2h0M135.5 74.2h0M132.7 80.1h0M129.4 85.7h0M125.6 91.0h0M121.4 96.0h0M116.7 100.5h0M111.7 104.7h0M106.3 108.4h0M136.3 1.6h0M139.9 7.9h0M142.8 14.4h0M145.2 21.1h0M147.0 28.1h0M148.2 35.1h0M148.8 42.2h0M148.7 49.4h0M148.0 56.5h0M146.7 63.5h0M144.8 70.4h0M142.3 77.1h0M139.2 83.6h0M135.6 89.8h0M131.4 95.6h0M126.8 101.0h0M121.7 106.0h0M116.1 110.6h0M110.3 114.6h0M146.5 4.5h0M149.7 11.6h0M152.3 19.0h0M154.2 26.5h0M155.5 34.2h0M156.1 42.0h0M156.1 49.8h0M155.3 57.5h0M153.9 65.2h0M151.8 72.7h0M149.1 80.0h0M145.7 87.1h0M141.8 93.8h0M137.2 100.1h0M132.2 106.1h0M126.6 111.5h0M120.6 116.5h0M114.2 120.9h0M153.0 1.2h0M156.6 8.8h0M159.4 16.8h0M161.5 25.0h0M162.9 33.3h0M163.5 41.7h0M163.5 50.2h0M162.7 58.6h0M161.1 66.9h0M158.9 75.0h0M155.9 82.9h0M152.3 90.5h0M148.0 97.8h0M143.1 104.7h0M137.6 111.1h0M131.6 117.0h0M125.1 122.4h0M118.1 127.2h0M163.4 6.1h0M166.4 14.6h0M168.7 23.4h0M170.2 32.4h0M170.9 41.5h0M170.9 50.6h0M170.0 59.6h0M168.3 68.5h0M165.9 77.3h0M162.7 85.8h0M158.8 94.0h0M154.2 101.9h0M148.9 109.3h0M143.0 116.2h0M136.5 122.5h0M129.5 128.3h0M122.0 133.5h0M170.3 3.3h0M173.5 12.5h0M176.0 21.9h0M177.6 31.5h0M178.3 41.2h0M178.2 50.9h0M177.3 60.6h0M175.5 70.2h0M172.9 79.6h0M169.5 88.7h0M165.3 97.5h0M160.4 105.9h0M154.7 113.8h0M148.4 121.2h0M141.5 128.0h0M134.0 134.2h0M125.9 139.7h0M177.1 0.5h0M180.6 10.3h0M183.2 20.4h0M184.9 30.6h0M185.7 40.9h0M185.6 51.3h0M184.6 61.7h0M182.8 71.9h0M180.0 81.9h0M176.3 91.6h0M171.9 101.0h0M166.6 109.9h0M160.6 118.4h0M153.8 126.3h0M146.4 133.5h0M138.4 140.1h0M129.9 146.0h0M187.7 8.1h0M190.4 18.8h0M192.3 29.7h0M193.1 40.7h0M193.0 51.7h0M192.0 62.7h0M190.0 73.5h0M187.0 84.2h0M183.2 94.5h0M178.4 104.4h0M172.8 113.9h0M166.4 122.9h0M159.2 131.3h0M151.4 139.0h0M142.9 146.0h0M133.8 152.3h0M194.8 6.0h0M197.7 17.3h0M199.6 28.8h0M200.5 40.4h0M200.4 52.1h0M199.3 63.7h0M197.2 75.2h0M194.1 86.4h0M190.0 97.4h0M184.9 107.9h0M179.0 118.0h0M172.2 127.5h0M164.7 136.4h0M156.3 144.5h0M147.3 152.0h0M137.7 158.6h0M201.8 3.8h0M204.9 15.7h0M206.9 27.9h0M207.9 40.2h0M207.8 52.5h0M206.6 64.8h0M204.4 76.9h0M201.1 88.7h0M196.8 100.3h0M191.5 111.4h0M185.2 122.0h0M178.1 132.0h0M170.1 141.4h0M161.3 150.0h0M151.8 157.9h0M141.6 164.8h0M208.9 1.7h0M212.2 14.2h0M214.3 27.0h0M215.3 39.9h0M215.2 52.9h0M214.0 65.8h0M211.6 78.5h0M208.1 91.0h0M203.6 103.2h0M198.0 114.9h0M191.4 126.0h0M183.9 136.6h0M175.5 146.4h0M166.2 155.5h0M156.2 163.8h0M145.5 171.1h0M216.0 -0.5h0M219.4 12.7h0M221.6 26.1h0M222.7 39.7h0M222.6 53.3h0M221.3 66.8h0M218.8 80.2h0M215.2 93.3h0M210.4 106.1h0M204.5 118.3h0M197.6 130.1h0M189.7 141.1h0M180.9 151.5h0M171.2 161.0h0M160.7 169.7h0M149.5 177.4h0M226.6 11.1h0M229.0 25.2h0M230.1 39.4h0M230.0 53.7h0M228.6 67.8h0M226.0 81.9h0M222.2 95.6h0M217.2 108.9h0M211.1 121.8h0M203.8 134.1h0M195.6 145.7h0M186.3 156.5h0M176.1 166.5h0M165.1 175.6h0M153.4 183.7h0M233.9 9.6h0M236.3 24.3h0M237.5 39.1h0M237.4 54.0h0M235.9 68.9h0M233.2 83.5h0M229.2 97.9h0M224.0 111.8h0M217.6 125.3h0M210.0 138.1h0M201.4 150.3h0M191.7 161.6h0M181.1 172.0h0M169.6 181.5h0M157.3 189.9h0M241.1 8.1h0M243.7 23.4h0M244.9 38.9h0M244.8 54.4h0M243.3 69.9h0M240.4 85.2h0M236.3 100.2h0M230.8 114.7h0M224.1 128.8h0M216.3 142.2h0M207.2 154.8h0M197.1 166.6h0M186.0 177.5h0M174.0 187.4h0M161.2 196.2h0M248.3 6.5h0M251.0 22.5h0M252.3 38.6h0M252.1 54.8h0M213.1 159.4h0M202.5 171.7h0M191.0 183.0h0M165.2 202.5h0M255.6 5.0h0M258.4 21.6h0M259.7 38.4h0M259.5 55.2h0M237.2 135.7h0M228.7 150.2h0M218.9 163.9h0M208.0 176.7h0M169.1 208.8h0M262.8 3.4h0M265.7 20.7h0M267.1 38.1h0M266.9 55.6h0M265.2 73.0h0M262.1 90.2h0M257.4 107.0h0M243.7 139.2h0M234.9 154.2h0M224.7 168.5h0M173.0 215.0h0M270.1 1.9h0M273.1 19.8h0M274.5 37.8h0M274.3 56.0h0M272.6 74.0h0M269.3 91.8h0M258.1 126.3h0M250.3 142.7h0M241.1 158.3h0M230.5 173.0h0M218.8 186.8h0M191.9 211.1h0M277.3 0.4h0M280.4 18.9h0M281.9 37.6h0M281.7 56.4h0M271.5 111.6h0M247.3 162.3h0M224.2 191.9h0M180.8 227.6h0" stroke="#0000ff" stroke-width="2.75" stroke-linecap="round" fill="none"/><path d="M101.7 142.2h0M103.1 142.1h0M104.4 142.0h0M105.7 142.1h0M107.1 142.2h0M108.4 142.5h0M109.7 142.9h0M110.9 143.4h0M112.1 144.1h0M113.2 144.8h0M114.3 145.6h0M115.3 146.5h0M116.2 147.5h0M117.0 148.6h0M117.7 149.7h0M118.4 150.9h0M118.9 152.1h0M119.3 153.4h0M119.6 154.7h0M119.7 156.1h0M119.8 157.4h0M119.7 158.7h0M119.6 160.1h0M119.3 161.4h0M118.9 162.7h0M118.4 163.9h0M117.7 165.1h0M117.0 166.2h0M116.2 167.3h0M115.3 168.3h0M114.3 169.2h0M113.2 170.0h0M112.1 170.7h0M110.9 171.4h0M100.4 134.9h0M102.4 134.7h0M104.4 134.6h0M106.4 134.7h0M108.4 134.9h0M110.3 135.4h0M112.2 136.0h0M114.0 136.7h0M115.8 137.7h0M117.5 138.7h0M119.1 139.9h0M120.5 141.3h0M121.9 142.7h0M123.1 144.3h0M124.1 146.0h0M125.1 147.8h0M125.8 149.6h0M126.4 151.5h0M126.9 153.4h0M127.1 155.4h0M127.2 157.4h0M127.1 159.4h0M126.9 161.4h0M126.4 163.3h0M125.8 165.2h0M125.1 167.0h0M124.1 168.8h0M123.1 170.5h0M121.9 172.1h0M120.5 173.5h0M119.1 174.9h0M117.5 176.1h0M115.8 177.1h0M114.0 178.1h0M99.2 127.7h0M101.8 127.3h0M104.4 127.2h0M107.0 127.3h0M109.6 127.7h0M112.2 128.2h0M114.7 129.0h0M117.2 130.0h0M119.5 131.2h0M121.7 132.7h0M123.8 134.3h0M125.8 136.0h0M127.5 138.0h0M129.1 140.1h0M130.6 142.3h0M131.8 144.6h0M132.8 147.1h0M133.6 149.6h0M134.1 152.2h0M134.5 154.8h0M134.6 157.4h0M134.5 160.0h0M134.1 162.6h0M133.6 165.2h0M132.8 167.7h0M131.8 170.2h0M130.6 172.5h0M129.1 174.7h0M127.5 176.8h0M125.8 178.8h0M123.8 180.5h0M121.7 182.1h0M119.5 183.6h0M117.2 184.8h0M97.9 120.4h0M101.1 119.9h0M104.4 119.8h0M107.7 119.9h0M110.9 120.4h0M114.1 121.1h0M117.3 122.1h0M120.3 123.3h0M123.2 124.8h0M126.0 126.6h0M128.6 128.6h0M131.0 130.8h0M133.2 133.2h0M135.2 135.8h0M137.0 138.6h0M138.5 141.5h0M139.7 144.5h0M140.7 147.7h0M141.4 150.9h0M141.9 154.1h0M142.0 157.4h0M141.9 160.7h0M141.4 163.9h0M140.7 167.1h0M139.7 170.3h0M138.5 173.3h0M137.0 176.2h0M135.2 179.0h0M133.2 181.6h0M131.0 184.0h0M128.6 186.2h0M126.0 188.2h0M123.2 190.0h0M120.3 191.5h0M96.6 113.1h0M100.5 112.6h0M104.4 112.4h0M108.3 112.6h0M112.2 113.1h0M116.0 113.9h0M119.8 115.1h0M123.4 116.6h0M126.9 118.4h0M130.2 120.5h0M133.3 122.9h0M136.2 125.6h0M138.9 128.5h0M141.3 131.6h0M143.4 134.9h0M145.2 138.4h0M146.7 142.0h0M147.9 145.8h0M148.7 149.6h0M149.2 153.5h0M149.4 157.4h0M149.2 161.3h0M148.7 165.2h0M147.9 169.0h0M146.7 172.8h0M145.2 176.4h0M143.4 179.9h0M141.3 183.2h0M138.9 186.3h0M136.2 189.2h0M133.3 191.9h0M130.2 194.3h0M126.9 196.4h0M123.4 198.2h0M119.8 199.7h0M95.3 105.8h0M99.8 105.2h0M104.4 105.0h0M109.0 105.2h0M113.5 105.8h0M118.0 106.8h0M122.3 108.2h0M126.5 109.9h0M130.6 112.0h0M134.5 114.5h0M138.1 117.3h0M141.5 120.3h0M144.5 123.7h0M147.3 127.3h0M149.8 131.2h0M151.9 135.3h0M153.6 139.5h0M155.0 143.8h0M156.0 148.3h0M156.6 152.8h0M156.8 157.4h0M156.6 162.0h0M156.0 166.5h0M155.0 171.0h0M153.6 175.3h0M151.9 179.5h0M149.8 183.6h0M147.3 187.5h0M144.5 191.1h0M141.5 194.5h0M138.1 197.5h0M134.5 200.3h0M130.6 202.8h0M126.5 204.9h0M122.3 206.6h0M94.0 98.5h0M99.2 97.8h0M104.4 97.6h0M109.6 97.8h0M114.8 98.5h0M119.9 99.6h0M124.9 101.2h0M129.7 103.2h0M134.3 105.6h0M138.7 108.4h0M142.8 111.6h0M146.7 115.1h0M150.2 119.0h0M153.4 123.1h0M156.2 127.5h0M158.6 132.1h0M160.6 136.9h0M162.2 141.9h0M163.3 147.0h0M164.0 152.2h0M164.2 157.4h0M164.0 162.6h0M163.3 167.8h0M162.2 172.9h0M160.6 177.9h0M158.6 182.7h0M156.2 187.3h0M153.4 191.7h0M150.2 195.8h0M146.7 199.7h0M142.8 203.2h0M138.7 206.4h0M134.3 209.2h0M129.7 211.6h0M124.9 213.6h0M119.9 215.2h0M92.7 91.2h0M98.5 90.5h0M104.4 90.2h0M110.3 90.5h0M116.1 91.2h0M121.8 92.5h0M127.4 94.3h0M132.8 96.5h0M138.0 99.2h0M142.9 102.4h0M147.6 105.9h0M151.9 109.9h0M155.9 114.2h0M159.4 118.9h0M162.6 123.8h0M165.3 129.0h0M167.5 134.4h0M169.3 140.0h0M170.6 145.7h0M171.3 151.5h0M171.6 157.4h0M171.3 163.3h0M170.6 169.1h0M169.3 174.8h0M167.5 180.4h0M165.3 185.8h0M162.6 191.0h0M159.4 195.9h0M155.9 200.6h0M151.9 204.9h0M147.6 208.9h0M142.9 212.4h0M138.0 215.6h0M132.8 218.3h0M127.4 220.5h0M121.8 222.3h0M91.4 83.9h0M97.9 83.1h0M104.4 82.8h0M110.9 83.1h0M117.4 83.9h0M123.7 85.3h0M129.9 87.3h0M135.9 89.8h0M141.7 92.8h0M147.2 96.3h0M152.4 100.3h0M157.2 104.6h0M161.5 109.4h0M165.5 114.6h0M169.0 120.1h0M172.0 125.9h0M174.5 131.9h0M176.5 138.1h0M177.9 144.4h0M178.7 150.9h0M179.0 157.4h0M178.7 163.9h0M177.9 170.4h0M176.5 176.7h0M174.5 182.9h0M172.0 188.9h0M169.0 194.7h0M165.5 200.2h0M161.5 205.4h0M157.2 210.2h0M152.4 214.5h0M147.2 218.5h0M141.7 222.0h0M135.9 225.0h0M129.9 227.5h0M123.7 229.5h0M90.2 76.6h0M97.3 75.7h0M104.4 75.4h0M111.5 75.7h0M118.6 76.6h0M125.6 78.2h0M132.4 80.3h0M139.1 83.1h0M145.4 86.4h0M151.4 90.2h0M157.1 94.6h0M162.4 99.4h0M167.2 104.7h0M171.6 110.4h0M175.4 116.4h0M178.7 122.7h0M181.5 129.4h0M183.6 136.2h0M185.2 143.2h0M186.1 150.3h0M186.4 157.4h0M186.1 164.5h0M185.2 171.6h0M183.6 178.6h0M181.5 185.4h0M178.7 192.1h0M175.4 198.4h0M171.6 204.4h0M167.2 210.1h0M162.4 215.4h0M157.1 220.2h0M151.4 224.6h0M145.4 228.4h0M139.1 231.7h0M132.4 234.5h0M125.6 236.6h0M88.9 69.4h0M96.6 68.3h0M104.4 68.0h0M112.2 68.3h0M119.9 69.4h0M127.5 71.0h0M135.0 73.4h0M142.2 76.4h0M149.1 80.0h0M155.7 84.2h0M161.9 88.9h0M167.6 94.2h0M172.9 99.9h0M177.6 106.1h0M181.8 112.7h0M185.4 119.6h0M188.4 126.8h0M190.8 134.3h0M192.4 141.9h0M193.5 149.6h0M193.8 157.4h0M193.5 165.2h0M192.4 172.9h0M190.8 180.5h0M188.4 188.0h0M185.4 195.2h0M181.8 202.1h0M177.6 208.7h0M172.9 214.9h0M167.6 220.6h0M161.9 225.9h0M155.7 230.6h0M149.1 234.8h0M142.2 238.4h0M135.0 241.4h0M127.5 243.8h0M87.6 62.1h0M96.0 61.0h0M104.4 60.6h0M112.8 61.0h0M121.2 62.1h0M129.5 63.9h0M137.5 66.4h0M145.3 69.7h0M152.8 73.6h0M159.9 78.1h0M166.6 83.2h0M172.8 89.0h0M178.6 95.2h0M183.7 101.9h0M188.2 109.0h0M192.1 116.5h0M195.4 124.3h0M197.9 132.3h0M199.7 140.6h0M200.8 149.0h0M201.2 157.4h0M200.8 165.8h0M199.7 174.2h0M197.9 182.5h0M195.4 190.5h0M192.1 198.3h0M188.2 205.8h0M183.7 212.9h0M178.6 219.6h0M172.8 225.8h0M166.6 231.6h0M159.9 236.7h0M152.8 241.2h0M145.3 245.1h0M137.5 248.4h0M129.5 250.9h0M86.3 54.8h0M95.3 53.6h0M104.4 53.2h0M113.5 53.6h0M122.5 54.8h0M131.4 56.8h0M140.0 59.5h0M148.4 63.0h0M156.5 67.2h0M164.2 72.0h0M171.4 77.6h0M178.1 83.7h0M184.2 90.4h0M189.8 97.6h0M194.6 105.3h0M198.8 113.4h0M202.3 121.8h0M205.0 130.4h0M207.0 139.3h0M208.2 148.3h0M208.6 157.4h0M208.2 166.5h0M207.0 175.5h0M205.0 184.4h0M202.3 193.0h0M198.8 201.4h0M194.6 209.5h0M189.8 217.2h0M184.2 224.4h0M178.1 231.1h0M171.4 237.2h0M164.2 242.8h0M156.5 247.6h0M148.4 251.8h0M140.0 255.3h0M131.4 258.0h0M85.0 47.5h0M94.7 46.2h0M104.4 45.8h0M114.1 46.2h0M123.8 47.5h0M133.3 49.6h0M142.6 52.5h0M151.6 56.3h0M160.2 60.8h0M168.4 66.0h0M176.1 71.9h0M183.3 78.5h0M189.9 85.7h0M195.8 93.4h0M201.0 101.6h0M205.5 110.2h0M209.3 119.2h0M212.2 128.5h0M214.3 138.0h0M215.6 147.7h0M216.0 157.4h0M215.6 167.1h0M214.3 176.8h0M212.2 186.3h0M209.3 195.6h0M205.5 204.6h0M201.0 213.2h0M195.8 221.4h0M189.9 229.1h0M183.3 236.3h0M176.1 242.9h0M168.4 248.8h0M160.2 254.0h0M151.6 258.5h0M142.6 262.3h0M133.3 265.2h0M83.7 40.2h0M94.0 38.9h0M104.4 38.4h0M114.8 38.9h0M125.1 40.2h0M135.2 42.5h0M145.1 45.6h0M154.7 49.5h0M163.9 54.3h0M172.7 59.9h0M180.9 66.2h0M188.5 73.3h0M195.6 80.9h0M201.9 89.1h0M207.5 97.9h0M212.3 107.1h0M216.2 116.7h0M219.3 126.6h0M221.6 136.7h0M222.9 147.0h0M223.4 157.4h0M222.9 167.8h0M221.6 178.1h0M219.3 188.2h0M216.2 198.1h0M212.3 207.7h0M207.5 216.9h0M201.9 225.7h0M195.6 233.9h0M188.5 241.5h0M180.9 248.6h0M172.7 254.9h0M163.9 260.5h0M154.7 265.3h0M145.1 269.2h0M135.2 272.3h0M82.5 32.9h0M93.4 31.5h0M104.4 31.0h0M115.4 31.5h0M126.3 32.9h0M137.1 35.3h0M147.6 38.6h0M157.8 42.8h0M167.6 47.9h0M176.9 53.9h0M185.6 60.6h0M193.8 68.0h0M201.2 76.2h0M207.9 84.9h0M213.9 94.2h0M219.0 104.0h0M223.2 114.2h0M226.5 124.7h0M228.9 135.5h0M230.3 146.4h0M230.8 157.4h0M230.3 168.4h0M228.9 179.3h0M226.5 190.1h0M223.2 200.6h0M219.0 210.8h0M213.9 220.6h0M207.9 229.9h0M201.2 238.6h0M193.8 246.8h0M185.6 254.2h0M176.9 260.9h0M167.6 266.9h0M157.8 272.0h0M147.6 276.2h0M137.1 279.5h0M81.2 25.6h0M92.7 24.1h0M104.4 23.6h0M116.1 24.1h0M127.6 25.6h0M139.0 28.2h0M150.2 31.7h0M160.9 36.1h0M171.3 41.5h0M181.1 47.8h0M190.4 54.9h0M199.0 62.8h0M206.9 71.4h0M214.0 80.7h0M220.3 90.5h0M225.7 100.9h0M230.1 111.6h0M233.6 122.8h0M236.2 134.2h0M237.7 145.7h0M238.2 157.4h0M237.7 169.1h0M236.2 180.6h0M233.6 192.0h0M230.1 203.2h0M225.7 213.9h0M220.3 224.3h0M214.0 234.1h0M206.9 243.4h0M199.0 252.0h0M190.4 259.9h0M181.1 267.0h0M171.3 273.3h0M160.9 278.7h0M150.2 283.1h0M139.0 286.6h0M79.9 18.3h0M92.1 16.7h0M104.4 16.2h0M116.7 16.7h0M128.9 18.3h0M140.9 21.0h0M152.7 24.7h0M164.1 29.4h0M175.0 35.1h0M185.4 41.7h0M195.2 49.2h0M204.2 57.6h0M212.6 66.6h0M220.1 76.4h0M226.7 86.8h0M232.4 97.7h0M237.1 109.1h0M240.8 120.9h0M243.5 132.9h0M245.1 145.1h0M245.6 157.4h0M245.1 169.7h0M243.5 181.9h0M240.8 193.9h0M237.1 205.7h0M232.4 217.1h0M226.7 228.0h0M220.1 238.4h0M212.6 248.2h0M204.2 257.2h0M195.2 265.6h0M185.4 273.1h0M175.0 279.7h0M164.1 285.4h0M152.7 290.1h0M140.9 293.8h0M78.6 11.1h0M91.4 9.4h0M104.4 8.8h0M117.4 9.4h0M130.2 11.1h0M142.9 13.9h0M155.2 17.8h0M167.2 22.7h0M178.7 28.7h0M189.6 35.7h0M199.9 43.6h0M209.5 52.3h0M218.2 61.9h0M226.1 72.2h0M233.1 83.1h0M239.1 94.6h0M244.0 106.6h0M247.9 118.9h0M250.7 131.6h0M252.4 144.4h0M253.0 157.4h0M252.4 170.4h0M250.7 183.2h0M247.9 195.9h0M244.0 208.2h0M239.1 220.2h0M233.1 231.7h0M226.1 242.6h0M218.2 252.9h0M209.5 262.5h0M199.9 271.2h0M189.6 279.1h0M178.7 286.1h0M167.2 292.1h0M155.2 297.0h0M142.9 300.9h0M77.3 3.8h0M90.8 2.0h0M104.4 1.4h0M118.0 2.0h0M131.5 3.8h0M144.8 6.7h0M157.8 10.8h0M170.3 16.0h0M182.4 22.3h0M193.9 29.6h0M204.7 37.9h0M214.7 47.1h0M223.9 57.1h0M232.2 67.9h0M239.5 79.4h0M245.8 91.5h0M251.0 104.0h0M255.1 117.0h0M258.0 130.3h0M259.8 143.8h0M260.4 157.4h0M259.8 171.0h0M258.0 184.5h0M255.1 197.8h0M251.0 210.8h0M245.8 223.3h0M239.5 235.4h0M232.2 246.9h0M223.9 257.7h0M214.7 267.7h0M204.7 276.9h0M193.9 285.2h0M182.4 292.5h0M170.3 298.8h0M157.8 304.0h0M144.8 308.1h0M146.7 -0.4h0M160.3 3.9h0M173.5 9.3h0M186.1 15.9h0M198.1 23.6h0M209.4 32.2h0M219.9 41.9h0M229.6 52.4h0M238.2 63.7h0M245.9 75.7h0M252.5 88.3h0M257.9 101.5h0M262.2 115.1h0M265.3 129.0h0M267.2 143.2h0M267.8 157.4h0M267.2 171.6h0M265.3 185.8h0M262.2 199.7h0M257.9 213.3h0M252.5 226.5h0M245.9 239.1h0M238.2 251.1h0M229.6 262.4h0M219.9 272.9h0M209.4 282.6h0M198.1 291.2h0M186.1 298.9h0M173.5 305.5h0M160.3 310.9h0M146.7 315.2h0M176.6 2.6h0M189.8 9.5h0M202.4 17.5h0M214.2 26.6h0M225.2 36.6h0M235.2 47.6h0M244.3 59.4h0M252.3 72.0h0M259.2 85.2h0M264.9 99.0h0M269.4 113.2h0M272.6 127.7h0M274.6 142.5h0M275.2 157.4h0M274.6 172.3h0M272.6 187.1h0M269.4 201.6h0M264.9 215.8h0M259.2 229.6h0M252.3 242.8h0M244.3 255.4h0M235.2 267.2h0M225.2 278.2h0M214.2 288.2h0M202.4 297.3h0M189.8 305.3h0M176.6 312.2h0M162.8 317.9h0M148.6 322.4h0M193.5 3.1h0M206.6 11.4h0M218.9 20.9h0M230.4 31.4h0M240.9 42.9h0M250.4 55.2h0M258.7 68.3h0M265.9 82.1h0M271.9 96.5h0M276.5 111.3h0M279.9 126.5h0M281.9 141.9h0M282.6 157.4h0M281.9 172.9h0M279.9 188.3h0M276.5 203.5h0M271.9 218.3h0M265.9 232.7h0M258.7 246.5h0M250.4 259.6h0M240.9 271.9h0M230.4 283.4h0M218.9 293.9h0M206.6 303.4h0M193.5 311.7h0M179.7 318.9h0M165.3 324.9h0M150.5 329.5h0M210.9 5.4h0M223.7 15.2h0M235.6 26.2h0M246.6 38.1h0M256.4 50.9h0M265.1 64.6h0M272.6 79.0h0M278.8 93.9h0M283.7 109.4h0M287.2 125.2h0M289.3 141.2h0M290.0 157.4h0M289.3 173.6h0M287.2 189.6h0M283.7 205.4h0M256.4 263.9h0M223.7 299.6h0M197.2 318.1h0M182.8 325.6h0M215.1 -0.7h0M228.5 9.6h0M240.9 20.9h0M252.2 33.3h0M262.5 46.7h0M271.5 60.9h0M279.3 75.8h0M285.8 91.4h0M290.8 107.4h0M294.5 123.9h0M296.7 140.6h0M297.4 157.4h0M296.7 174.2h0M294.5 190.9h0M290.8 207.4h0M271.5 253.9h0M262.5 268.1h0M186.0 332.3h0M170.4 338.8h0M233.2 3.9h0M246.1 15.7h0M257.9 28.6h0M268.6 42.5h0M278.0 57.2h0M286.0 72.7h0M292.7 88.9h0M298.0 105.5h0M301.8 122.6h0M304.0 139.9h0M304.8 157.4h0M304.0 174.9h0M301.8 192.2h0M298.0 209.3h0M292.7 225.9h0M286.0 242.1h0M278.0 257.6h0M246.1 299.1h0M233.2 310.9h0M204.6 331.0h0M189.1 339.0h0M251.3 10.5h0M263.6 23.8h0M274.6 38.2h0M284.4 53.5h0M292.7 69.6h0M299.7 86.3h0M305.1 103.6h0M309.0 121.3h0M311.4 139.3h0M312.2 157.4h0M311.4 175.5h0M309.0 193.5h0M305.1 211.2h0M299.7 228.5h0M238.0 316.6h0M256.6 5.2h0M269.3 19.1h0M280.7 34.0h0M290.8 49.8h0M299.4 66.5h0M306.6 83.8h0M312.3 101.7h0M316.3 120.0h0M318.8 138.6h0M319.6 157.4h0M318.8 176.2h0M316.3 194.8h0M312.3 213.1h0M299.4 248.3h0M256.6 309.6h0M261.8 -0.0h0M274.9 14.3h0M286.7 29.7h0M297.2 46.1h0M306.1 63.3h0M313.6 81.3h0M319.4 99.8h0M323.6 118.7h0M326.2 138.0h0M327.0 157.4h0M326.2 176.8h0M323.6 196.1h0M319.4 215.0h0M306.1 251.5h0M247.5 327.9h0M215.7 350.2h0M292.8 25.5h0M303.6 42.4h0M312.9 60.2h0M320.5 78.7h0M326.6 97.9h0M330.9 117.5h0M334.4 157.4h0M333.5 177.4h0M330.9 197.3h0M326.6 216.9h0M320.5 236.1h0M312.9 254.6h0M267.0 320.0h0M252.2 333.6h0M236.3 345.8h0M219.4 356.6h0M286.3 4.8h0M298.9 21.2h0M310.0 38.7h0M327.5 76.2h0M333.7 96.0h0M338.2 116.2h0M340.9 136.7h0M341.8 157.4h0M340.9 178.1h0M333.7 218.8h0M310.0 276.1h0M298.9 293.6h0M286.3 310.0h0M272.3 325.3h0M257.0 339.3h0M291.9 0.0h0M304.9 17.0h0M326.3 53.9h0M334.4 73.7h0M340.9 94.0h0M345.5 114.9h0M348.3 136.1h0M348.3 178.7h0M334.4 241.1h0M326.3 260.9h0M316.4 279.8h0M291.9 314.8h0M261.8 344.9h0M244.8 357.9h0M311.0 12.7h0M333.0 50.8h0M341.4 71.1h0M348.0 92.1h0M348.0 222.7h0M341.4 243.7h0M333.0 264.0h0M322.8 283.5h0M311.0 302.1h0M282.7 335.7h0M266.5 350.6h0M317.1 8.5h0M329.2 27.6h0M339.7 267.1h0M329.2 287.2h0M303.3 324.3h0M288.0 341.0h0M271.3 356.3h0M323.1 4.3h0M335.6 23.9h0M346.4 44.6h0M335.6 290.9h0M323.1 310.5h0M329.2 0.0h0M342.0 20.2h0M342.0 294.6h0M329.2 314.8h0M314.6 333.8h0M298.4 351.4h0M280.8 367.6h0" stroke="#ff0000" stroke-width="2.75" stroke-linecap="round" fill="none"/><path d="M116.8 236.0h0M118.1 236.3h0M119.4 236.7h0M120.6 237.2h0M121.8 237.9h0M122.9 238.6h0M124.0 239.4h0M125.0 240.3h0M125.9 241.3h0M126.7 242.4h0M127.4 243.5h0M128.1 244.7h0M128.6 245.9h0M129.0 247.2h0M129.3 248.5h0M129.4 249.9h0M129.5 251.2h0M129.4 252.5h0M129.3 253.9h0M129.0 255.2h0M128.6 256.5h0M128.1 257.7h0M127.4 258.9h0M126.7 260.0h0M125.9 261.1h0M125.0 262.1h0M124.0 263.0h0M122.9 263.8h0M121.8 264.5h0M120.6 265.2h0M119.4 265.7h0M118.1 266.1h0M116.8 266.4h0M115.4 266.5h0M114.1 266.6h0M112.8 266.5h0M118.1 228.7h0M120.0 229.2h0M121.9 229.8h0M123.7 230.5h0M125.5 231.5h0M127.2 232.5h0M128.8 233.7h0M130.2 235.1h0M131.6 236.5h0M132.8 238.1h0M133.8 239.8h0M134.8 241.6h0M135.5 243.4h0M136.1 245.3h0M136.6 247.2h0M136.8 249.2h0M136.9 251.2h0M136.8 253.2h0M136.6 255.2h0M136.1 257.1h0M135.5 259.0h0M134.8 260.8h0M133.8 262.6h0M132.8 264.3h0M131.6 265.9h0M130.2 267.3h0M128.8 268.7h0M127.2 269.9h0M125.5 270.9h0M123.7 271.9h0M121.9 272.6h0M120.0 273.2h0M118.1 273.7h0M116.1 273.9h0M114.1 274.0h0M112.1 273.9h0M119.3 221.5h0M121.9 222.0h0M124.4 222.8h0M126.9 223.8h0M129.2 225.0h0M131.4 226.5h0M133.5 228.1h0M135.5 229.8h0M137.2 231.8h0M138.8 233.9h0M140.3 236.1h0M141.5 238.4h0M142.5 240.9h0M143.3 243.4h0M143.8 246.0h0M144.2 248.6h0M144.3 251.2h0M144.2 253.8h0M143.8 256.4h0M143.3 259.0h0M142.5 261.5h0M141.5 264.0h0M140.3 266.3h0M138.8 268.5h0M137.2 270.6h0M135.5 272.6h0M133.5 274.3h0M131.4 275.9h0M129.2 277.4h0M126.9 278.6h0M124.4 279.6h0M121.9 280.4h0M119.3 280.9h0M116.7 281.3h0M114.1 281.4h0M111.5 281.3h0M120.6 214.2h0M123.8 214.9h0M127.0 215.9h0M130.0 217.1h0M132.9 218.6h0M135.7 220.4h0M138.3 222.4h0M140.7 224.6h0M142.9 227.0h0M144.9 229.6h0M146.7 232.4h0M148.2 235.3h0M149.4 238.3h0M150.4 241.5h0M151.1 244.7h0M151.6 247.9h0M151.7 251.2h0M151.6 254.5h0M151.1 257.7h0M150.4 260.9h0M149.4 264.1h0M148.2 267.1h0M146.7 270.0h0M144.9 272.8h0M142.9 275.4h0M140.7 277.8h0M138.3 280.0h0M135.7 282.0h0M132.9 283.8h0M130.0 285.3h0M127.0 286.5h0M123.8 287.5h0M120.6 288.2h0M117.4 288.7h0M114.1 288.8h0M110.8 288.7h0M121.9 206.9h0M125.7 207.7h0M129.5 208.9h0M133.1 210.4h0M136.6 212.2h0M139.9 214.3h0M143.0 216.7h0M145.9 219.4h0M148.6 222.3h0M151.0 225.4h0M153.1 228.7h0M154.9 232.2h0M156.4 235.8h0M157.6 239.6h0M158.4 243.4h0M158.9 247.3h0M159.1 251.2h0M158.9 255.1h0M158.4 259.0h0M157.6 262.8h0M156.4 266.6h0M154.9 270.2h0M153.1 273.7h0M151.0 277.0h0M148.6 280.1h0M145.9 283.0h0M143.0 285.7h0M139.9 288.1h0M136.6 290.2h0M133.1 292.0h0M129.5 293.5h0M125.7 294.7h0M121.9 295.5h0M118.0 296.0h0M114.1 296.2h0M110.2 296.0h0M123.2 199.6h0M127.7 200.6h0M132.0 202.0h0M136.2 203.7h0M140.3 205.8h0M144.2 208.3h0M147.8 211.1h0M151.2 214.1h0M154.2 217.5h0M157.0 221.1h0M159.5 225.0h0M161.6 229.1h0M163.3 233.3h0M164.7 237.6h0M165.7 242.1h0M166.3 246.6h0M166.5 251.2h0M166.3 255.8h0M165.7 260.3h0M164.7 264.8h0M163.3 269.1h0M161.6 273.3h0M159.5 277.4h0M157.0 281.3h0M154.2 284.9h0M151.2 288.3h0M147.8 291.3h0M144.2 294.1h0M140.3 296.6h0M136.2 298.7h0M132.0 300.4h0M127.7 301.8h0M123.2 302.8h0M118.7 303.4h0M114.1 303.6h0M109.5 303.4h0M124.5 192.3h0M129.6 193.4h0M134.6 195.0h0M139.4 197.0h0M144.0 199.4h0M148.4 202.2h0M152.5 205.4h0M156.4 208.9h0M159.9 212.8h0M163.1 216.9h0M165.9 221.3h0M168.3 225.9h0M170.3 230.7h0M171.9 235.7h0M173.0 240.8h0M173.7 246.0h0M173.9 251.2h0M173.7 256.4h0M173.0 261.6h0M171.9 266.7h0M170.3 271.7h0M168.3 276.5h0M165.9 281.1h0M163.1 285.5h0M159.9 289.6h0M156.4 293.5h0M152.5 297.0h0M148.4 300.2h0M144.0 303.0h0M139.4 305.4h0M134.6 307.4h0M129.6 309.0h0M124.5 310.1h0M119.3 310.8h0M114.1 311.0h0M108.9 310.8h0M125.8 185.0h0M131.5 186.3h0M137.1 188.1h0M142.5 190.3h0M147.7 193.0h0M152.6 196.2h0M157.3 199.7h0M161.6 203.7h0M165.6 208.0h0M169.1 212.7h0M172.3 217.6h0M175.0 222.8h0M177.2 228.2h0M179.0 233.8h0M180.3 239.5h0M181.0 245.3h0M181.3 251.2h0M181.0 257.1h0M180.3 262.9h0M179.0 268.6h0M177.2 274.2h0M175.0 279.6h0M172.3 284.8h0M169.1 289.7h0M165.6 294.4h0M161.6 298.7h0M157.3 302.7h0M152.6 306.2h0M147.7 309.4h0M142.5 312.1h0M137.1 314.3h0M131.5 316.1h0M125.8 317.4h0M120.0 318.1h0M114.1 318.4h0M108.2 318.1h0M127.1 177.7h0M133.4 179.1h0M139.6 181.1h0M145.6 183.6h0M151.4 186.6h0M156.9 190.1h0M162.1 194.1h0M166.9 198.4h0M171.2 203.2h0M175.2 208.4h0M178.7 213.9h0M181.7 219.7h0M184.2 225.7h0M186.2 231.9h0M187.6 238.2h0M188.4 244.7h0M188.7 251.2h0M188.4 257.7h0M187.6 264.2h0M186.2 270.5h0M184.2 276.7h0M181.7 282.7h0M178.7 288.5h0M175.2 294.0h0M171.2 299.2h0M166.9 304.0h0M162.1 308.3h0M156.9 312.3h0M151.4 315.8h0M145.6 318.8h0M139.6 321.3h0M133.4 323.3h0M127.1 324.7h0M120.6 325.5h0M114.1 325.8h0M107.6 325.5h0M128.3 170.4h0M135.3 172.0h0M142.1 174.1h0M148.8 176.9h0M155.1 180.2h0M161.1 184.0h0M166.8 188.4h0M172.1 193.2h0M176.9 198.5h0M181.3 204.2h0M185.1 210.2h0M188.4 216.5h0M191.2 223.2h0M193.3 230.0h0M194.9 237.0h0M195.8 244.1h0M196.1 251.2h0M195.8 258.3h0M194.9 265.4h0M193.3 272.4h0M191.2 279.2h0M188.4 285.9h0M185.1 292.2h0M181.3 298.2h0M176.9 303.9h0M172.1 309.2h0M166.8 314.0h0M161.1 318.4h0M155.1 322.2h0M148.8 325.5h0M142.1 328.3h0M135.3 330.4h0M128.3 332.0h0M121.2 332.9h0M114.1 333.2h0M107.0 332.9h0M129.6 163.2h0M137.2 164.8h0M144.7 167.2h0M151.9 170.2h0M158.8 173.8h0M165.4 178.0h0M171.6 182.7h0M177.3 188.0h0M182.6 193.7h0M187.3 199.9h0M191.5 206.5h0M195.1 213.4h0M198.1 220.6h0M200.5 228.1h0M202.1 235.7h0M203.2 243.4h0M203.5 251.2h0M203.2 259.0h0M202.1 266.7h0M200.5 274.3h0M198.1 281.8h0M195.1 289.0h0M191.5 295.9h0M187.3 302.5h0M182.6 308.7h0M177.3 314.4h0M171.6 319.7h0M165.4 324.4h0M158.8 328.6h0M151.9 332.2h0M144.7 335.2h0M137.2 337.6h0M129.6 339.2h0M121.9 340.3h0M114.1 340.6h0M106.3 340.3h0M130.9 155.9h0M139.2 157.7h0M147.2 160.2h0M155.0 163.5h0M162.5 167.4h0M169.6 171.9h0M176.3 177.0h0M182.5 182.8h0M188.3 189.0h0M193.4 195.7h0M197.9 202.8h0M201.8 210.3h0M205.1 218.1h0M207.6 226.1h0M209.4 234.4h0M210.5 242.8h0M210.9 251.2h0M210.5 259.6h0M209.4 268.0h0M207.6 276.3h0M205.1 284.3h0M201.8 292.1h0M197.9 299.6h0M193.4 306.7h0M188.3 313.4h0M182.5 319.6h0M176.3 325.4h0M169.6 330.5h0M162.5 335.0h0M155.0 338.9h0M147.2 342.2h0M139.2 344.7h0M130.9 346.5h0M122.5 347.6h0M114.1 348.0h0M105.7 347.6h0M132.2 148.6h0M141.1 150.6h0M149.7 153.3h0M158.1 156.8h0M166.2 161.0h0M173.9 165.8h0M181.1 171.4h0M187.8 177.5h0M193.9 184.2h0M199.5 191.4h0M204.3 199.1h0M208.5 207.2h0M212.0 215.6h0M214.7 224.2h0M216.7 233.1h0M217.9 242.1h0M218.3 251.2h0M217.9 260.3h0M216.7 269.3h0M214.7 278.2h0M212.0 286.8h0M208.5 295.2h0M204.3 303.3h0M199.5 311.0h0M193.9 318.2h0M187.8 324.9h0M181.1 331.0h0M173.9 336.6h0M166.2 341.4h0M158.1 345.6h0M149.7 349.1h0M141.1 351.8h0M132.2 353.8h0M123.2 355.0h0M114.1 355.4h0M105.0 355.0h0M133.5 141.3h0M143.0 143.4h0M152.3 146.3h0M161.3 150.1h0M169.9 154.6h0M178.1 159.8h0M185.8 165.7h0M193.0 172.3h0M199.6 179.5h0M205.5 187.2h0M210.7 195.4h0M215.2 204.0h0M219.0 213.0h0M221.9 222.3h0M224.0 231.8h0M225.3 241.5h0M225.7 251.2h0M225.3 260.9h0M224.0 270.6h0M221.9 280.1h0M219.0 289.4h0M215.2 298.4h0M210.7 307.0h0M205.5 315.2h0M199.6 322.9h0M193.0 330.1h0M185.8 336.7h0M178.1 342.6h0M169.9 347.8h0M161.3 352.3h0M152.3 356.1h0M143.0 359.0h0M133.5 361.1h0M123.8 362.4h0M114.1 362.8h0M104.4 362.4h0M134.8 134.0h0M144.9 136.3h0M154.8 139.4h0M164.4 143.3h0M173.6 148.1h0M182.4 153.7h0M190.6 160.0h0M198.2 167.1h0M205.3 174.7h0M211.6 182.9h0M217.2 191.7h0M222.0 200.9h0M225.9 210.5h0M229.0 220.4h0M231.3 230.5h0M232.6 240.8h0M233.1 251.2h0M232.6 261.6h0M231.3 271.9h0M229.0 282.0h0M225.9 291.9h0M222.0 301.5h0M217.2 310.7h0M211.6 319.5h0M205.3 327.7h0M198.2 335.3h0M190.6 342.4h0M182.4 348.7h0M173.6 354.3h0M164.4 359.1h0M154.8 363.0h0M144.9 366.1h0M134.8 368.4h0M124.5 369.7h0M114.1 370.2h0M103.7 369.7h0M136.0 126.7h0M146.8 129.1h0M157.3 132.4h0M167.5 136.6h0M177.3 141.7h0M186.6 147.7h0M195.3 154.4h0M203.5 161.8h0M210.9 170.0h0M217.6 178.7h0M223.6 188.0h0M228.7 197.8h0M232.9 208.0h0M236.2 218.5h0M238.6 229.3h0M240.0 240.2h0M240.5 251.2h0M240.0 262.2h0M238.6 273.1h0M236.2 283.9h0M232.9 294.4h0M228.7 304.6h0M223.6 314.4h0M217.6 323.7h0M210.9 332.4h0M203.5 340.6h0M195.3 348.0h0M186.6 354.7h0M177.3 360.7h0M167.5 365.8h0M157.3 370.0h0M146.8 373.3h0M136.0 375.7h0M125.1 377.1h0M114.1 377.6h0M103.1 377.1h0M137.3 119.4h0M148.7 122.0h0M159.9 125.5h0M170.6 129.9h0M181.0 135.3h0M190.8 141.6h0M200.1 148.7h0M208.7 156.6h0M216.6 165.2h0M223.7 174.5h0M230.0 184.3h0M235.4 194.7h0M239.8 205.4h0M243.3 216.6h0M245.9 228.0h0M247.4 239.5h0M247.9 251.2h0M247.4 262.9h0M245.9 274.4h0M243.3 285.8h0M239.8 297.0h0M235.4 307.7h0M230.0 318.1h0M223.7 327.9h0M216.6 337.2h0M208.7 345.8h0M200.1 353.7h0M190.8 360.8h0M181.0 367.1h0M170.6 372.5h0M159.9 376.9h0M148.7 380.4h0M137.3 383.0h0M125.8 384.5h0M114.1 385.0h0M102.4 384.5h0M138.6 112.1h0M150.6 114.8h0M162.4 118.5h0M173.8 123.2h0M184.7 128.9h0M195.1 135.5h0M204.9 143.0h0M213.9 151.4h0M222.3 160.4h0M229.8 170.2h0M236.4 180.6h0M242.1 191.5h0M246.8 202.9h0M250.5 214.7h0M253.2 226.7h0M254.8 238.9h0M255.3 251.2h0M254.8 263.5h0M253.2 275.7h0M250.5 287.7h0M246.8 299.5h0M242.1 310.9h0M236.4 321.8h0M229.8 332.2h0M222.3 342.0h0M213.9 351.0h0M204.9 359.4h0M195.1 366.9h0M184.7 373.5h0M173.8 379.2h0M162.4 383.9h0M150.6 387.6h0M138.6 390.3h0M126.4 391.9h0M114.1 392.4h0M101.8 391.9h0M139.9 104.9h0M152.6 107.7h0M164.9 111.6h0M176.9 116.5h0M188.4 122.5h0M199.3 129.5h0M209.6 137.4h0M219.2 146.1h0M227.9 155.7h0M235.8 166.0h0M242.8 176.9h0M248.8 188.4h0M253.7 200.4h0M257.6 212.7h0M260.4 225.4h0M262.1 238.2h0M262.7 251.2h0M262.1 264.2h0M260.4 277.0h0M257.6 289.7h0M253.7 302.0h0M248.8 314.0h0M242.8 325.5h0M235.8 336.4h0M227.9 346.7h0M219.2 356.3h0M209.6 365.0h0M199.3 372.9h0M188.4 379.9h0M176.9 385.9h0M164.9 390.8h0M152.6 394.7h0M139.9 397.5h0M127.1 399.2h0M114.1 399.8h0M101.1 399.2h0M141.2 97.6h0M154.5 100.5h0M167.5 104.6h0M180.0 109.8h0M192.1 116.1h0M203.6 123.4h0M214.4 131.7h0M224.4 140.9h0M233.6 150.9h0M241.9 161.7h0M249.2 173.2h0M255.5 185.3h0M260.7 197.8h0M264.8 210.8h0M267.7 224.1h0M269.5 237.6h0M270.1 251.2h0M269.5 264.8h0M267.7 278.3h0M264.8 291.6h0M260.7 304.6h0M255.5 317.1h0M249.2 329.2h0M241.9 340.7h0M233.6 351.5h0M224.4 361.5h0M214.4 370.7h0M203.6 379.0h0M192.1 386.3h0M180.0 392.6h0M167.5 397.8h0M154.5 401.9h0M141.2 404.8h0M127.7 406.6h0M114.1 407.2h0M100.5 406.6h0M142.5 90.3h0M156.4 93.4h0M170.0 97.7h0M183.2 103.1h0M195.8 109.7h0M207.8 117.4h0M219.1 126.0h0M229.6 135.7h0M239.3 146.2h0M247.9 157.5h0M255.6 169.5h0M262.2 182.1h0M267.6 195.3h0M271.9 208.9h0M275.0 222.8h0M276.9 237.0h0M277.5 251.2h0M276.9 265.4h0M275.0 279.6h0M271.9 293.5h0M267.6 307.1h0M262.2 320.3h0M255.6 332.9h0M247.9 344.9h0M239.3 356.2h0M229.6 366.7h0M219.1 376.4h0M207.8 385.0h0M195.8 392.7h0M183.2 399.3h0M170.0 404.7h0M156.4 409.0h0M142.5 412.1h0M128.3 414.0h0M114.1 414.6h0M99.9 414.0h0M143.8 83.0h0M158.3 86.2h0M172.5 90.7h0M186.3 96.4h0M199.5 103.3h0M212.1 111.3h0M223.9 120.4h0M234.9 130.4h0M244.9 141.4h0M254.0 153.2h0M262.0 165.8h0M268.9 179.0h0M274.6 192.8h0M279.1 207.0h0M282.3 221.5h0M284.3 236.3h0M284.9 251.2h0M284.3 266.1h0M282.3 280.9h0M279.1 295.4h0M274.6 309.6h0M268.9 323.4h0M262.0 336.6h0M254.0 349.2h0M244.9 361.0h0M234.9 372.0h0M223.9 382.0h0M212.1 391.1h0M199.5 399.1h0M186.3 406.0h0M172.5 411.7h0M158.3 416.2h0M143.8 419.4h0M129.0 421.4h0M114.1 422.0h0M99.2 421.4h0M145.0 75.7h0M160.2 79.1h0M175.0 83.7h0M189.4 89.7h0M203.2 96.9h0M216.3 105.2h0M228.6 114.7h0M240.1 125.2h0M250.6 136.7h0M260.1 149.0h0M268.4 162.1h0M275.6 175.9h0M281.6 190.3h0M286.2 205.1h0M289.6 220.3h0M291.6 235.7h0M292.3 251.2h0M291.6 266.7h0M289.6 282.1h0M286.2 297.3h0M281.6 312.1h0M275.6 326.5h0M268.4 340.3h0M260.1 353.4h0M250.6 365.7h0M240.1 377.2h0M228.6 387.7h0M216.3 397.2h0M203.2 405.5h0M189.4 412.7h0M175.0 418.7h0M160.2 423.3h0M145.0 426.7h0M129.6 428.7h0M98.6 428.7h0M146.3 68.4h0M162.1 71.9h0M177.6 76.8h0M192.5 83.0h0M206.9 90.5h0M220.6 99.2h0M233.4 109.0h0M245.3 120.0h0M256.3 131.9h0M266.1 144.7h0M274.8 158.4h0M282.3 172.8h0M288.5 187.7h0M293.4 203.2h0M296.9 219.0h0M299.0 235.0h0M299.7 251.2h0M299.0 267.4h0M296.9 283.4h0M293.4 299.2h0M288.5 314.7h0M282.3 329.6h0M274.8 344.0h0M266.1 357.7h0M256.3 370.5h0M245.3 382.4h0M233.4 393.4h0M220.6 403.2h0M206.9 411.9h0M192.5 419.4h0M177.6 425.6h0M147.6 61.1h0M164.1 64.8h0M180.1 69.8h0M195.7 76.3h0M210.6 84.1h0M224.8 93.1h0M238.2 103.4h0M250.6 114.7h0M261.9 127.1h0M272.2 140.5h0M281.2 154.7h0M289.0 169.6h0M295.5 185.2h0M300.5 201.2h0M304.2 217.7h0M306.4 234.4h0M307.1 251.2h0M306.4 268.0h0M304.2 284.7h0M300.5 301.2h0M295.5 317.2h0M289.0 332.8h0M281.2 347.7h0M272.2 361.9h0M261.9 375.3h0M250.6 387.7h0M238.2 399.0h0M224.8 409.3h0M210.6 418.3h0M195.7 426.1h0M148.9 53.8h0M166.0 57.6h0M182.6 62.9h0M198.8 69.6h0M214.3 77.6h0M229.0 87.0h0M242.9 97.7h0M255.8 109.5h0M267.6 122.4h0M278.3 136.3h0M287.7 151.0h0M295.7 166.5h0M302.4 182.7h0M307.7 199.3h0M311.5 216.4h0M313.7 233.7h0M314.5 251.2h0M313.7 268.7h0M311.5 286.0h0M307.7 303.1h0M302.4 319.7h0M295.7 335.9h0M287.7 351.4h0M278.3 366.1h0M267.6 380.0h0M255.8 392.9h0M242.9 404.7h0M229.0 415.4h0M214.3 424.8h0M150.2 46.6h0M167.9 50.5h0M185.2 55.9h0M201.9 62.9h0M218.0 71.2h0M233.3 81.0h0M247.7 92.0h0M261.0 104.3h0M273.3 117.6h0M284.3 132.0h0M294.1 147.3h0M302.4 163.4h0M309.4 180.1h0M314.8 197.4h0M318.7 215.1h0M321.1 233.1h0M321.9 251.2h0M321.1 269.3h0M318.7 287.3h0M314.8 305.0h0M309.4 322.3h0M302.4 339.0h0M294.1 355.1h0M284.3 370.4h0M273.3 384.8h0M261.0 398.1h0M247.7 410.4h0M233.3 421.4h0M151.5 39.3h0M169.8 43.3h0M187.7 49.0h0M205.0 56.2h0M221.7 64.8h0M237.5 74.9h0M252.4 86.3h0M266.3 99.0h0M279.0 112.9h0M290.4 127.8h0M300.5 143.6h0M309.1 160.3h0M316.3 177.6h0M322.0 195.5h0M326.0 213.8h0M328.5 232.4h0M329.3 251.2h0M328.5 270.0h0M326.0 288.6h0M322.0 306.9h0M316.3 324.8h0M309.1 342.1h0M300.5 358.8h0M290.4 374.6h0M279.0 389.5h0M266.3 403.4h0M252.4 416.1h0M237.5 427.5h0M152.8 32.0h0M171.7 36.2h0M190.2 42.0h0M208.2 49.5h0M225.4 58.4h0M241.8 68.9h0M257.2 80.7h0M271.5 93.8h0M284.6 108.1h0M296.4 123.5h0M306.9 139.9h0M315.8 157.1h0M323.3 175.1h0M329.1 193.6h0M333.3 212.5h0M335.9 231.8h0M336.7 251.2h0M335.9 270.6h0M333.3 289.9h0M329.1 308.8h0M323.3 327.3h0M315.8 345.3h0M306.9 362.5h0M296.4 378.9h0M284.6 394.3h0M271.5 408.6h0M257.2 421.7h0M173.6 29.0h0M192.8 35.1h0M211.3 42.7h0M229.1 52.0h0M246.0 62.8h0M261.9 75.0h0M276.7 88.6h0M290.3 103.4h0M302.5 119.3h0M322.6 154.0h0M336.3 191.7h0M340.6 211.3h0M343.2 231.2h0M344.1 251.2h0M343.2 271.2h0M340.6 291.1h0M336.3 310.7h0M330.2 329.9h0M322.6 348.4h0M313.3 366.2h0M302.5 383.1h0M290.3 399.0h0M276.7 413.8h0M261.9 427.4h0M155.3 17.4h0M175.5 21.9h0M195.3 28.1h0M232.8 45.6h0M250.3 56.7h0M266.7 69.3h0M282.0 83.3h0M296.0 98.6h0M308.6 115.0h0M319.7 132.5h0M329.3 150.9h0M337.2 170.0h0M343.4 189.8h0M347.9 210.0h0M347.9 292.4h0M343.4 312.6h0M337.2 332.4h0M329.3 351.5h0M308.6 387.4h0M296.0 403.8h0M282.0 419.1h0M156.6 10.1h0M197.8 21.2h0M217.6 29.3h0M236.5 39.2h0M271.5 63.7h0M301.6 93.8h0M314.6 110.8h0M326.1 128.8h0M336.0 147.7h0M344.1 167.5h0M344.1 334.9h0M336.0 354.7h0M326.1 373.6h0M314.6 391.6h0M301.6 408.6h0M287.2 424.3h0M157.9 2.8h0M179.4 7.6h0M200.4 14.2h0M220.7 22.6h0M258.8 44.6h0M276.2 58.0h0M292.4 72.9h0M307.3 89.1h0M320.7 106.5h0M342.7 144.6h0M342.7 357.8h0M332.5 377.3h0M320.7 395.9h0M307.3 413.3h0M181.3 0.4h0M202.9 7.3h0M223.8 15.9h0M263.0 38.5h0M281.0 52.3h0M297.7 67.6h0M313.0 84.3h0M326.8 102.3h0M338.9 121.4h0M326.8 400.1h0M313.0 418.1h0M205.4 0.3h0M226.9 9.2h0M247.6 20.0h0M267.2 32.5h0M285.7 46.7h0M302.9 62.4h0M318.6 79.6h0M332.8 98.1h0M345.3 117.7h0M345.3 384.7h0M332.8 404.3h0M318.6 422.8h0M230.1 2.5h0M251.3 13.6h0M271.5 26.4h0M290.5 41.0h0M324.3 74.8h0M338.9 93.8h0M338.9 408.6h0M324.3 427.6h0M255.0 7.2h0M295.2 35.3h0M313.4 51.9h0M330.0 70.1h0M344.9 89.6h0M344.9 412.8h0" stroke="#00ff00" stroke-width="2.75" stroke-linecap="round" fill="none"/><path d="M77.1 275.1h0M76.8 276.4h0M76.4 277.7h0M75.9 278.9h0M75.2 280.1h0M74.5 281.2h0M73.7 282.3h0M72.8 283.3h0M71.8 284.2h0M70.7 285.0h0M69.6 285.7h0M68.4 286.4h0M67.2 286.9h0M65.9 287.3h0M64.6 287.6h0M63.2 287.7h0M61.9 287.8h0M60.6 287.7h0M59.2 287.6h0M57.9 287.3h0M56.6 286.9h0M55.4 286.4h0M84.4 276.4h0M83.9 278.3h0M83.3 280.2h0M82.6 282.0h0M81.6 283.8h0M80.6 285.5h0M79.4 287.1h0M78.0 288.5h0M76.6 289.9h0M75.0 291.1h0M73.3 292.1h0M71.5 293.1h0M69.7 293.8h0M67.8 294.4h0M65.9 294.9h0M63.9 295.1h0M61.9 295.2h0M59.9 295.1h0M57.9 294.9h0M56.0 294.4h0M54.1 293.8h0M52.3 293.1h0M91.6 277.6h0M91.1 280.2h0M90.3 282.7h0M89.3 285.2h0M88.1 287.5h0M86.6 289.7h0M85.0 291.8h0M83.3 293.8h0M81.3 295.5h0M79.2 297.1h0M77.0 298.6h0M74.7 299.8h0M72.2 300.8h0M69.7 301.6h0M67.1 302.1h0M64.5 302.5h0M61.9 302.6h0M59.3 302.5h0M56.7 302.1h0M54.1 301.6h0M51.6 300.8h0M49.1 299.8h0M98.9 278.9h0M98.2 282.1h0M97.2 285.3h0M96.0 288.3h0M94.5 291.2h0M92.7 294.0h0M90.7 296.6h0M88.5 299.0h0M86.1 301.2h0M83.5 303.2h0M80.7 305.0h0M77.8 306.5h0M74.8 307.7h0M71.6 308.7h0M68.4 309.4h0M65.2 309.9h0M61.9 310.0h0M58.6 309.9h0M55.4 309.4h0M52.2 308.7h0M49.0 307.7h0M46.0 306.5h0M106.2 280.2h0M105.4 284.0h0M104.2 287.8h0M102.7 291.4h0M100.9 294.9h0M98.8 298.2h0M96.4 301.3h0M93.7 304.2h0M90.8 306.9h0M87.7 309.3h0M84.4 311.4h0M80.9 313.2h0M77.3 314.7h0M73.5 315.9h0M69.7 316.7h0M65.8 317.2h0M61.9 317.4h0M58.0 317.2h0M54.1 316.7h0M50.3 315.9h0M46.5 314.7h0M42.9 313.2h0M113.5 281.5h0M112.5 286.0h0M111.1 290.3h0M109.4 294.5h0M107.3 298.6h0M104.8 302.5h0M102.0 306.1h0M99.0 309.5h0M95.6 312.5h0M92.0 315.3h0M88.1 317.8h0M84.0 319.9h0M79.8 321.6h0M75.5 323.0h0M71.0 324.0h0M66.5 324.6h0M61.9 324.8h0M57.3 324.6h0M52.8 324.0h0M48.3 323.0h0M44.0 321.6h0M39.8 319.9h0M120.8 282.8h0M119.7 287.9h0M118.1 292.9h0M116.1 297.7h0M113.7 302.3h0M110.9 306.7h0M107.7 310.8h0M104.2 314.7h0M100.3 318.2h0M96.2 321.4h0M91.8 324.2h0M87.2 326.6h0M82.4 328.6h0M77.4 330.2h0M72.3 331.3h0M67.1 332.0h0M61.9 332.2h0M56.7 332.0h0M51.5 331.3h0M46.4 330.2h0M41.4 328.6h0M36.6 326.6h0M128.1 284.1h0M126.8 289.8h0M125.0 295.4h0M122.8 300.8h0M120.1 306.0h0M116.9 310.9h0M113.4 315.6h0M109.4 319.9h0M105.1 323.9h0M100.4 327.4h0M95.5 330.6h0M90.3 333.3h0M84.9 335.5h0M79.3 337.3h0M73.6 338.6h0M67.8 339.3h0M61.9 339.6h0M56.0 339.3h0M50.2 338.6h0M44.5 337.3h0M38.9 335.5h0M33.5 333.3h0M135.4 285.4h0M134.0 291.7h0M132.0 297.9h0M129.5 303.9h0M126.5 309.7h0M123.0 315.2h0M119.0 320.4h0M114.7 325.2h0M109.9 329.5h0M104.7 333.5h0M99.2 337.0h0M93.4 340.0h0M87.4 342.5h0M81.2 344.5h0M74.9 345.9h0M68.4 346.7h0M61.9 347.0h0M55.4 346.7h0M48.9 345.9h0M42.6 344.5h0M36.4 342.5h0M30.4 340.0h0M142.7 286.6h0M141.1 293.6h0M139.0 300.4h0M136.2 307.1h0M132.9 313.4h0M129.1 319.4h0M124.7 325.1h0M119.9 330.4h0M114.6 335.2h0M108.9 339.6h0M102.9 343.4h0M96.6 346.7h0M89.9 349.5h0M83.1 351.6h0M76.1 353.2h0M69.0 354.1h0M61.9 354.4h0M54.8 354.1h0M47.7 353.2h0M40.7 351.6h0M33.9 349.5h0M27.2 346.7h0M149.9 287.9h0M148.3 295.5h0M145.9 303.0h0M142.9 310.2h0M139.3 317.1h0M135.1 323.7h0M130.4 329.9h0M125.1 335.6h0M119.4 340.9h0M113.2 345.6h0M106.6 349.8h0M99.7 353.4h0M92.5 356.4h0M85.0 358.8h0M77.4 360.4h0M69.7 361.5h0M61.9 361.8h0M54.1 361.5h0M46.4 360.4h0M38.8 358.8h0M31.3 356.4h0M24.1 353.4h0M157.2 289.2h0M155.4 297.5h0M152.9 305.5h0M149.6 313.3h0M145.7 320.8h0M141.2 327.9h0M136.1 334.6h0M130.3 340.8h0M124.1 346.6h0M117.4 351.7h0M110.3 356.2h0M102.8 360.1h0M95.0 363.4h0M87.0 365.9h0M78.7 367.7h0M70.3 368.8h0M61.9 369.2h0M53.5 368.8h0M45.1 367.7h0M36.8 365.9h0M28.8 363.4h0M21.0 360.1h0" stroke="#ff0000" stroke-width="2.75" stroke-linecap="round" fill="none"/><path d="M22.8 312.4h0M23.5 313.5h0M24.2 314.7h0M24.7 315.9h0M25.1 317.2h0M25.4 318.5h0M25.5 319.9h0M25.6 321.2h0M25.5 322.5h0M25.4 323.9h0M25.1 325.2h0M24.7 326.5h0M24.2 327.7h0M23.5 328.9h0M22.8 330.0h0M22.0 331.1h0M21.1 332.1h0M20.1 333.0h0M19.0 333.8h0M17.9 334.5h0M16.7 335.2h0M15.5 335.7h0M14.2 336.1h0M12.9 336.4h0M11.5 336.5h0M10.2 336.6h0M8.9 336.5h0M28.9 308.1h0M29.9 309.8h0M30.9 311.6h0M31.6 313.4h0M32.2 315.3h0M32.7 317.2h0M32.9 319.2h0M33.0 321.2h0M32.9 323.2h0M32.7 325.2h0M32.2 327.1h0M31.6 329.0h0M30.9 330.8h0M29.9 332.6h0M28.9 334.3h0M27.7 335.9h0M26.3 337.3h0M24.9 338.7h0M23.3 339.9h0M21.6 340.9h0M19.8 341.9h0M18.0 342.6h0M16.1 343.2h0M14.2 343.7h0M12.2 343.9h0M10.2 344.0h0M8.2 343.9h0M34.9 303.9h0M36.4 306.1h0M37.6 308.4h0M38.6 310.9h0M39.4 313.4h0M39.9 316.0h0M40.3 318.6h0M40.4 321.2h0M40.3 323.8h0M39.9 326.4h0M39.4 329.0h0M38.6 331.5h0M37.6 334.0h0M36.4 336.3h0M34.9 338.5h0M33.3 340.6h0M31.6 342.6h0M29.6 344.3h0M27.5 345.9h0M25.3 347.4h0M23.0 348.6h0M20.5 349.6h0M18.0 350.4h0M15.4 350.9h0M12.8 351.3h0M10.2 351.4h0M7.6 351.3h0M41.0 299.6h0M42.8 302.4h0M44.3 305.3h0M45.5 308.3h0M46.5 311.5h0M47.2 314.7h0M47.7 317.9h0M47.8 321.2h0M47.7 324.5h0M47.2 327.7h0M46.5 330.9h0M45.5 334.1h0M44.3 337.1h0M42.8 340.0h0M41.0 342.8h0M39.0 345.4h0M36.8 347.8h0M34.4 350.0h0M31.8 352.0h0M29.0 353.8h0M26.1 355.3h0M23.1 356.5h0M19.9 357.5h0M16.7 358.2h0M13.5 358.7h0M10.2 358.8h0M6.9 358.7h0M47.1 295.4h0M49.2 298.7h0M51.0 302.2h0M52.5 305.8h0M53.7 309.6h0M54.5 313.4h0M55.0 317.3h0M55.2 321.2h0M55.0 325.1h0M54.5 329.0h0M53.7 332.8h0M52.5 336.6h0M51.0 340.2h0M49.2 343.7h0M47.1 347.0h0M44.7 350.1h0M42.0 353.0h0M39.1 355.7h0M36.0 358.1h0M32.7 360.2h0M29.2 362.0h0M25.6 363.5h0M21.8 364.7h0M18.0 365.5h0M14.1 366.0h0M10.2 366.2h0M6.3 366.0h0M53.1 291.1h0M55.6 295.0h0M57.7 299.1h0M59.4 303.3h0M60.8 307.6h0M61.8 312.1h0M62.4 316.6h0M62.6 321.2h0M62.4 325.8h0M61.8 330.3h0M60.8 334.8h0M59.4 339.1h0M57.7 343.3h0M55.6 347.4h0M53.1 351.3h0M50.3 354.9h0M47.3 358.3h0M43.9 361.3h0M40.3 364.1h0M36.4 366.6h0M32.3 368.7h0M28.1 370.4h0M23.8 371.8h0M19.3 372.8h0M14.8 373.4h0M10.2 373.6h0M5.6 373.4h0M59.2 286.9h0M62.0 291.3h0M64.4 295.9h0M66.4 300.7h0M68.0 305.7h0M69.1 310.8h0M69.8 316.0h0M70.0 321.2h0M69.8 326.4h0M69.1 331.6h0M68.0 336.7h0M66.4 341.7h0M64.4 346.5h0M62.0 351.1h0M59.2 355.5h0M56.0 359.6h0M52.5 363.5h0M48.6 367.0h0M44.5 370.2h0M40.1 373.0h0M35.5 375.4h0M30.7 377.4h0M25.7 379.0h0M20.6 380.1h0M15.4 380.8h0M10.2 381.0h0M5.0 380.8h0M65.2 282.7h0M68.4 287.6h0M71.1 292.8h0M73.3 298.2h0M75.1 303.8h0M76.4 309.5h0M77.1 315.3h0M77.4 321.2h0M77.1 327.1h0M76.4 332.9h0M75.1 338.6h0M73.3 344.2h0M71.1 349.6h0M68.4 354.8h0M65.2 359.7h0M61.7 364.4h0M57.7 368.7h0M53.4 372.7h0M48.7 376.2h0M43.8 379.4h0M38.6 382.1h0M33.2 384.3h0M27.6 386.1h0M21.9 387.4h0M16.1 388.1h0M10.2 388.4h0M4.3 388.1h0M71.3 278.4h0M74.8 283.9h0M77.8 289.7h0M80.3 295.7h0M82.3 301.9h0M83.7 308.2h0M84.5 314.7h0M84.8 321.2h0M84.5 327.7h0M83.7 334.2h0M82.3 340.5h0M80.3 346.7h0M77.8 352.7h0M74.8 358.5h0M71.3 364.0h0M67.3 369.2h0M63.0 374.0h0M58.2 378.3h0M53.0 382.3h0M47.5 385.8h0M41.7 388.8h0M35.7 391.3h0M29.5 393.3h0M23.2 394.7h0M16.7 395.5h0M10.2 395.8h0M3.7 395.5h0M77.4 274.2h0M81.2 280.2h0M84.5 286.5h0M87.3 293.2h0M89.4 300.0h0M91.0 307.0h0M91.9 314.1h0M92.2 321.2h0M91.9 328.3h0M91.0 335.4h0M89.4 342.4h0M87.3 349.2h0M84.5 355.9h0M81.2 362.2h0M77.4 368.2h0M73.0 373.9h0M68.2 379.2h0M62.9 384.0h0M57.2 388.4h0M51.2 392.2h0M44.9 395.5h0M38.2 398.3h0M31.4 400.4h0M24.4 402.0h0M17.3 402.9h0M10.2 403.2h0M3.1 402.9h0M83.4 269.9h0M87.6 276.5h0M91.2 283.4h0M94.2 290.6h0M96.6 298.1h0M98.2 305.7h0M99.3 313.4h0M99.6 321.2h0M99.3 329.0h0M98.2 336.7h0M96.6 344.3h0M94.2 351.8h0M91.2 359.0h0M87.6 365.9h0M83.4 372.5h0M78.7 378.7h0M73.4 384.4h0M67.7 389.7h0M61.5 394.4h0M54.9 398.6h0M48.0 402.2h0M40.8 405.2h0M33.3 407.6h0M25.7 409.2h0M18.0 410.3h0M10.2 410.6h0M2.4 410.3h0M89.5 265.7h0M94.0 272.8h0M97.9 280.3h0M101.2 288.1h0M103.7 296.1h0M105.5 304.4h0M106.6 312.8h0M107.0 321.2h0M106.6 329.6h0M105.5 338.0h0M103.7 346.3h0M101.2 354.3h0M97.9 362.1h0M94.0 369.6h0M89.5 376.7h0M84.4 383.4h0M78.6 389.6h0M72.4 395.4h0M65.7 400.5h0M58.6 405.0h0M51.1 408.9h0M43.3 412.2h0M35.3 414.7h0M27.0 416.5h0M18.6 417.6h0M10.2 418.0h0M1.8 417.6h0M95.6 261.4h0M100.4 269.1h0M104.6 277.2h0M108.1 285.6h0M110.8 294.2h0M112.8 303.1h0M114.0 312.1h0M114.4 321.2h0M114.0 330.3h0M112.8 339.3h0M110.8 348.2h0M108.1 356.8h0M104.6 365.2h0M100.4 373.3h0M95.6 381.0h0M90.0 388.2h0M83.9 394.9h0M77.2 401.0h0M70.0 406.6h0M62.3 411.4h0M54.2 415.6h0M45.8 419.1h0M37.2 421.8h0M28.3 423.8h0M19.3 425.0h0M10.2 425.4h0M1.1 425.0h0M101.6 257.2h0M106.8 265.4h0M111.3 274.0h0M115.1 283.0h0M118.0 292.3h0M120.1 301.8h0M121.4 311.5h0M121.8 321.2h0M121.4 330.9h0M120.1 340.6h0M118.0 350.1h0M115.1 359.4h0M111.3 368.4h0M106.8 377.0h0M101.6 385.2h0M95.7 392.9h0M89.1 400.1h0M81.9 406.7h0M74.2 412.6h0M66.0 417.8h0M57.4 422.3h0M48.4 426.1h0M39.1 429.0h0M107.7 252.9h0M113.3 261.7h0M118.1 270.9h0M122.0 280.5h0M125.1 290.4h0M127.4 300.5h0M128.7 310.8h0M129.2 321.2h0M128.7 331.6h0M127.4 341.9h0M125.1 352.0h0M122.0 361.9h0M118.1 371.5h0M113.3 380.7h0M107.7 389.5h0M101.4 397.7h0M94.3 405.3h0M86.7 412.4h0M78.5 418.7h0M69.7 424.3h0M113.7 248.7h0M119.7 258.0h0M124.8 267.8h0M129.0 278.0h0M132.3 288.5h0M134.7 299.3h0M136.1 310.2h0M136.6 321.2h0M136.1 332.2h0M134.7 343.1h0M132.3 353.9h0M129.0 364.4h0M124.8 374.6h0M119.7 384.4h0M113.7 393.7h0M107.0 402.4h0M99.6 410.6h0M91.4 418.0h0M82.7 424.7h0M119.8 244.5h0M126.1 254.3h0M131.5 264.7h0M135.9 275.4h0M139.4 286.6h0M142.0 298.0h0M143.5 309.5h0M144.0 321.2h0M143.5 332.9h0M142.0 344.4h0M139.4 355.8h0M135.9 367.0h0M131.5 377.7h0M126.1 388.1h0M119.8 397.9h0M112.7 407.2h0M104.8 415.8h0M96.2 423.7h0M125.9 240.2h0M132.5 250.6h0M138.2 261.5h0M142.9 272.9h0M146.6 284.7h0M149.3 296.7h0M150.9 308.9h0M151.4 321.2h0M150.9 333.5h0M149.3 345.7h0M146.6 357.7h0M142.9 369.5h0M138.2 380.9h0M132.5 391.8h0M125.9 402.2h0M118.4 412.0h0M110.0 421.0h0M131.9 236.0h0M138.9 246.9h0M144.9 258.4h0M149.8 270.4h0M153.7 282.7h0M156.5 295.4h0M158.2 308.2h0M158.8 321.2h0M158.2 334.2h0M156.5 347.0h0M153.7 359.7h0M149.8 372.0h0M144.9 384.0h0M138.9 395.5h0M131.9 406.4h0M124.0 416.7h0M115.3 426.3h0" stroke="#000000" stroke-width="2.75" stroke-linecap="round" fill="none"/><path d="M94.5 0.6h0M97.0 0.6h0M101.6 0.6h0M104.4 0.6h0M109.6 0.6h0M114.2 0.6h0M119.4 0.6h0M123.7 0.6h0M130.4 0.6h0M135.3 0.6h0M140.4 0.6h0M146.7 0.6h0M152.2 0.6h0M156.4 0.6h0M165.0 0.6h0M170.0 0.6h0M179.3 0.6h0M191.8 0.6h0M195.6 0.6h0M199.3 0.6h0M203.8 0.6h0M219.5 0.6h0M230.0 0.6h0M233.4 0.6h0M239.8 0.6h0M243.3 0.6h0M248.7 0.6h0M258.1 0.6h0" stroke="#0000ff" stroke-width="2.75" stroke-linecap="round" fill="none"/><path d="M126.6 0.6h0M160.4 0.6h0M174.5 0.6h0M182.6 0.6h0M188.0 0.6h0M207.7 0.6h0M213.7 0.6h0M222.4 0.6h0M224.9 0.6h0M251.6 0.6h0M274.0 0.6h0M285.6 0.6h0M295.1 0.6h0M304.8 0.6h0M315.7 0.6h0M329.0 0.6h0M338.8 0.6h0" stroke="#ff0000" stroke-width="2.75" stroke-linecap="round" fill="none"/><path d="M88.0 0.6h0M122.0 427.4h0M138.4 427.4h0M149.7 427.4h0M161.4 427.4h0M170.6 427.4h0M186.7 427.4h0M200.7 427.4h0M215.1 427.4h0M226.0 427.4h0M236.5 427.4h0M249.3 427.4h0M265.3 427.4h0M277.1 427.4h0M289.5 427.4h0" stroke="#00ff00" stroke-width="2.75" stroke-linecap="round" fill="none"/><path d="M0.7 338.0h0M0.7 343.9h0M0.7 350.7h0M0.7 358.5h0M0.7 366.2h0M0.7 374.4h0M0.7 380.8h0M0.7 388.3h0M0.7 396.5h0M0.7 403.2h0M0.7 411.4h0M0.7 417.3h0M0.7 425.5h0M4.0 427.4h0M20.8 427.4h0M36.5 427.4h0M51.2 427.4h0M63.7 427.4h0M78.4 427.4h0M94.4 427.4h0M108.0 427.4h0" stroke="#000000" stroke-width="2.75" stroke-linecap="round" fill="none"/><use href="#land"/><use href="#grid"/><path d="M216.7 0.0L215.7 6.0L213.3 12.0L212.3 18.0L212.5 24.0L211.4 30.0L209.8 41.0M203.2 68.0L201.3 74.5L199.0 80.9L197.4 89.0L195.3 97.0L195.2 105.0L194.6 113.0L194.5 119.2L194.3 125.3L193.5 131.5L192.9 137.6L192.7 143.6L192.4 149.7L190.0 155.8L187.9 161.8L189.6 169.9L190.4 178.0L192.6 185.0L195.4 192.0L195.8 202.0L194.9 209.2L193.4 216.5L189.0 222.6L185.4 228.6L180.1 234.6L175.6 240.7L171.3 246.8L165.8 252.9L161.5 256.5M150.6 271.0L144.4 277.0L138.3 283.0L133.8 287.8L128.8 292.5L124.0 297.2L118.6 302.0L115.3 307.3L111.0 312.6L105.5 318.0L102.2 323.3L98.8 328.4L95.0 333.5L91.7 338.6L88.3 343.7L85.6 348.8L79.9 354.4L75.5 360.1L69.8 365.7L66.4 371.5L62.1 377.4L57.2 383.2L53.1 389.0L49.4 394.3L44.9 399.6L40.2 405.0L35.6 410.3L30.4 416.2L25.7 422.1L19.5 428.0" fill="none" stroke="#000" stroke-width="1.0" stroke-linejoin="round"/><text x="206.5" y="55" font-size="15" text-anchor="middle" transform="rotate(-79 206.5 55)" dy="4.5">100</text><text x="156.5" y="264" font-size="15" text-anchor="middle" transform="rotate(-50 156.5 264)" dy="4.5">100</text><use href="#stars"/>
</g>
<use href="#frame"/><text x="312" y="37.5" font-size="20.8" text-anchor="middle">10 km</text><path d="M306.2 44H318.8" stroke="#000" stroke-width="3.7" stroke-linecap="round"/><text x="174" y="-12" font-size="25" font-weight="bold" stroke-width="0.1" text-anchor="middle">Radial Grid</text>
</g>
<g transform="translate(459,742)">
<use href="#labels"/>
<g clip-path="url(#cp)">
<g shape-rendering="crispEdges"><path fill="#0000ff" d="M66.6 -0.5H74.3V7.3H66.6zM81.9 -0.5H89.6V7.3H81.9zM97.2 -0.5H104.9V7.3H97.2zM120.2 -0.5H135.5V7.3H120.2zM158.4 -0.5H166.1V7.3H158.4zM181.3 -0.5H189.0V7.3H181.3zM211.9 -0.5H219.6V7.3H211.9zM89.6 7.3H97.2V15.2H89.6zM104.9 7.3H120.2V15.2H104.9zM158.4 7.3H166.1V15.2H158.4zM196.6 7.3H219.6V15.2H196.6zM242.5 7.3H250.2V15.2H242.5zM74.3 15.2H81.9V23.0H74.3zM120.2 15.2H127.8V23.0H120.2zM143.1 15.2H150.8V23.0H143.1zM173.7 15.2H181.3V23.0H173.7zM196.6 15.2H227.2V23.0H196.6zM181.3 23.0H189.0V30.9H181.3zM227.2 23.0H234.9V30.9H227.2zM273.1 23.0H280.8V30.9H273.1zM288.4 23.0H296.1V30.9H288.4zM127.8 30.9H135.5V38.7H127.8zM211.9 30.9H219.6V38.7H211.9zM303.7 30.9H319.0V38.7H303.7zM74.3 38.7H81.9V46.5H74.3zM173.7 38.7H181.3V46.5H173.7zM211.9 38.7H227.2V46.5H211.9zM265.5 38.7H273.1V46.5H265.5zM296.1 38.7H303.7V46.5H296.1zM81.9 46.5H89.6V54.4H81.9zM158.4 46.5H173.7V54.4H158.4zM204.3 46.5H211.9V54.4H204.3zM127.8 54.4H135.5V62.2H127.8zM173.7 54.4H181.3V62.2H173.7zM265.5 54.4H288.4V62.2H265.5zM296.1 54.4H303.7V62.2H296.1zM326.6 54.4H334.3V62.2H326.6zM120.2 62.2H127.8V70.0H120.2zM143.1 62.2H150.8V70.0H143.1zM234.9 62.2H242.5V70.0H234.9zM257.8 62.2H265.5V70.0H257.8zM326.6 70.0H334.3V77.8H326.6zM104.9 77.8H112.5V85.6H104.9zM296.1 77.8H303.7V85.6H296.1zM319.0 77.8H326.6V85.6H319.0zM112.5 85.6H127.8V93.4H112.5zM196.6 85.6H204.3V93.4H196.6zM303.7 85.6H311.3V93.4H303.7zM334.3 85.6H341.9V93.4H334.3zM97.2 93.4H104.9V101.2H97.2zM135.5 93.4H150.8V101.2H135.5zM303.7 93.4H311.3V101.2H303.7zM341.9 93.4H349.6V101.2H341.9zM97.2 101.2H112.5V109.0H97.2zM150.8 101.2H158.4V109.0H150.8zM112.5 109.0H120.2V116.8H112.5zM150.8 109.0H158.4V116.8H150.8zM166.1 109.0H173.7V116.8H166.1zM341.9 109.0H349.6V116.8H341.9zM181.3 116.8H189.0V124.5H181.3zM196.6 116.8H204.3V124.5H196.6zM311.3 116.8H319.0V124.5H311.3zM326.6 116.8H334.3V124.5H326.6zM104.9 124.5H112.5V132.3H104.9zM158.4 124.5H166.1V132.3H158.4zM173.7 124.5H181.3V132.3H173.7zM173.7 132.3H181.3V140.1H173.7zM127.8 140.1H143.1V147.8H127.8zM173.7 140.1H181.3V147.8H173.7zM120.2 147.8H127.8V155.6H120.2zM341.9 147.8H349.6V155.6H341.9zM189.0 155.6H196.6V163.3H189.0zM158.4 163.3H166.1V171.1H158.4zM189.0 163.3H196.6V171.1H189.0zM303.7 163.3H311.3V171.1H303.7zM250.2 171.1H257.8V178.8H250.2zM265.5 171.1H273.1V178.8H265.5zM158.4 178.8H166.1V186.5H158.4zM173.7 178.8H181.3V186.5H173.7zM280.8 178.8H288.4V186.5H280.8zM296.1 178.8H303.7V186.5H296.1zM341.9 178.8H349.6V186.5H341.9zM158.4 186.5H166.1V194.3H158.4zM273.1 186.5H280.8V194.3H273.1zM303.7 186.5H311.3V194.3H303.7zM334.3 186.5H341.9V194.3H334.3zM173.7 194.3H181.3V202.0H173.7zM273.1 194.3H280.8V202.0H273.1zM288.4 194.3H303.7V202.0H288.4zM311.3 194.3H326.6V202.0H311.3zM334.3 194.3H341.9V202.0H334.3zM273.1 202.0H288.4V209.7H273.1zM296.1 202.0H303.7V209.7H296.1zM311.3 202.0H319.0V209.7H311.3zM273.1 209.7H280.8V217.4H273.1zM326.6 209.7H334.3V217.4H326.6zM341.9 217.4H349.6V225.1H341.9zM319.0 225.1H326.6V232.8H319.0zM250.2 232.8H257.8V240.5H250.2zM280.8 232.8H288.4V240.5H280.8zM303.7 232.8H311.3V240.5H303.7zM227.2 240.5H234.9V248.2H227.2zM303.7 240.5H311.3V248.2H303.7zM326.6 240.5H334.3V248.2H326.6zM257.8 248.2H265.5V255.9H257.8zM319.0 248.2H326.6V255.9H319.0zM334.3 248.2H341.9V255.9H334.3zM211.9 255.9H219.6V263.6H211.9zM242.5 255.9H250.2V263.6H242.5zM265.5 255.9H273.1V263.6H265.5zM227.2 263.6H234.9V271.3H227.2zM242.5 263.6H250.2V271.3H242.5zM280.8 263.6H288.4V271.3H280.8zM219.6 271.3H227.2V278.9H219.6zM242.5 271.3H250.2V278.9H242.5zM296.1 271.3H303.7V278.9H296.1zM334.3 271.3H349.6V278.9H334.3zM227.2 278.9H234.9V286.6H227.2zM242.5 278.9H250.2V286.6H242.5zM51.3 286.6H59.0V294.3H51.3zM250.2 286.6H257.8V294.3H250.2zM296.1 286.6H303.7V294.3H296.1zM97.2 294.3H104.9V301.9H97.2zM227.2 294.3H234.9V301.9H227.2zM74.3 301.9H81.9V309.6H74.3zM227.2 301.9H234.9V309.6H227.2zM250.2 301.9H257.8V309.6H250.2zM227.2 309.6H234.9V317.2H227.2zM273.1 309.6H280.8V317.2H273.1zM66.6 317.2H74.3V324.9H66.6zM211.9 317.2H219.6V324.9H211.9zM265.5 317.2H273.1V324.9H265.5zM97.2 324.9H104.9V332.5H97.2zM173.7 324.9H181.3V332.5H173.7zM227.2 324.9H234.9V332.5H227.2zM242.5 324.9H250.2V332.5H242.5zM181.3 332.5H189.0V340.1H181.3zM303.7 332.5H319.0V340.1H303.7zM36.1 340.1H51.3V347.8H36.1zM89.6 340.1H97.2V347.8H89.6zM311.3 340.1H319.0V347.8H311.3zM303.7 355.4H311.3V363.0H303.7zM273.1 363.0H280.8V370.6H273.1zM296.1 363.0H303.7V370.6H296.1zM273.1 370.6H280.8V378.2H273.1zM89.6 385.8H97.2V393.4H89.6z"/><path fill="#0020ff" d="M74.3 -0.5H81.9V7.3H74.3zM89.6 -0.5H97.2V7.3H89.6zM250.2 -0.5H257.8V7.3H250.2zM135.5 7.3H143.1V15.2H135.5zM150.8 7.3H158.4V15.2H150.8zM135.5 15.2H143.1V23.0H135.5zM250.2 15.2H265.5V23.0H250.2zM127.8 23.0H135.5V30.9H127.8zM150.8 23.0H158.4V30.9H150.8zM166.1 23.0H173.7V30.9H166.1zM158.4 30.9H166.1V38.7H158.4zM173.7 30.9H181.3V38.7H173.7zM311.3 38.7H326.6V46.5H311.3zM127.8 46.5H135.5V54.4H127.8zM143.1 46.5H158.4V54.4H143.1zM234.9 46.5H242.5V54.4H234.9zM273.1 46.5H280.8V54.4H273.1zM303.7 46.5H319.0V54.4H303.7zM341.9 46.5H349.6V54.4H341.9zM234.9 54.4H242.5V62.2H234.9zM288.4 54.4H296.1V62.2H288.4zM319.0 62.2H334.3V70.0H319.0zM127.8 70.0H135.5V77.8H127.8zM242.5 70.0H250.2V77.8H242.5zM257.8 70.0H265.5V77.8H257.8zM334.3 70.0H341.9V77.8H334.3zM120.2 77.8H127.8V85.6H120.2zM189.0 77.8H204.3V85.6H189.0zM334.3 77.8H341.9V85.6H334.3zM127.8 85.6H135.5V93.4H127.8zM334.3 93.4H341.9V101.2H334.3zM127.8 101.2H135.5V109.0H127.8zM326.6 101.2H334.3V109.0H326.6zM120.2 109.0H135.5V116.8H120.2zM196.6 109.0H204.3V116.8H196.6zM303.7 109.0H311.3V116.8H303.7zM97.2 116.8H112.5V124.5H97.2zM143.1 116.8H150.8V124.5H143.1zM127.8 124.5H143.1V132.3H127.8zM127.8 132.3H135.5V140.1H127.8zM150.8 132.3H158.4V140.1H150.8zM334.3 132.3H341.9V140.1H334.3zM112.5 140.1H120.2V147.8H112.5zM296.1 147.8H303.7V155.6H296.1zM319.0 147.8H341.9V155.6H319.0zM196.6 155.6H204.3V163.3H196.6zM211.9 155.6H219.6V163.3H211.9zM341.9 155.6H349.6V163.3H341.9zM265.5 163.3H273.1V171.1H265.5zM280.8 163.3H288.4V171.1H280.8zM211.9 171.1H227.2V178.8H211.9zM234.9 171.1H242.5V178.8H234.9zM288.4 171.1H303.7V178.8H288.4zM135.5 178.8H143.1V186.5H135.5zM196.6 178.8H204.3V186.5H196.6zM288.4 178.8H296.1V186.5H288.4zM135.5 186.5H143.1V194.3H135.5zM181.3 186.5H189.0V194.3H181.3zM341.9 186.5H349.6V194.3H341.9zM127.8 194.3H135.5V202.0H127.8zM158.4 194.3H166.1V202.0H158.4zM257.8 194.3H265.5V202.0H257.8zM120.2 202.0H143.1V209.7H120.2zM257.8 209.7H265.5V217.4H257.8zM334.3 209.7H341.9V217.4H334.3zM250.2 217.4H265.5V225.1H250.2zM319.0 217.4H334.3V225.1H319.0zM250.2 225.1H257.8V232.8H250.2zM326.6 225.1H334.3V232.8H326.6zM204.3 240.5H211.9V248.2H204.3zM219.6 240.5H227.2V248.2H219.6zM273.1 240.5H280.8V248.2H273.1zM311.3 240.5H319.0V248.2H311.3zM173.7 255.9H181.3V263.6H173.7zM189.0 255.9H196.6V263.6H189.0zM234.9 255.9H242.5V263.6H234.9zM250.2 255.9H257.8V263.6H250.2zM273.1 255.9H280.8V263.6H273.1zM319.0 255.9H334.3V263.6H319.0zM181.3 263.6H189.0V271.3H181.3zM219.6 263.6H227.2V271.3H219.6zM196.6 271.3H211.9V278.9H196.6zM288.4 271.3H296.1V278.9H288.4zM97.2 278.9H104.9V286.6H97.2zM204.3 278.9H219.6V286.6H204.3zM265.5 278.9H273.1V286.6H265.5zM280.8 278.9H288.4V286.6H280.8zM296.1 278.9H303.7V286.6H296.1zM135.5 286.6H143.1V294.3H135.5zM288.4 286.6H296.1V294.3H288.4zM334.3 286.6H341.9V294.3H334.3zM211.9 294.3H219.6V301.9H211.9zM288.4 294.3H296.1V301.9H288.4zM211.9 301.9H219.6V309.6H211.9zM127.8 309.6H135.5V317.2H127.8zM211.9 309.6H227.2V317.2H211.9zM97.2 317.2H112.5V324.9H97.2zM158.4 317.2H166.1V324.9H158.4zM196.6 317.2H211.9V324.9H196.6zM219.6 317.2H227.2V324.9H219.6zM59.0 324.9H66.6V332.5H59.0zM150.8 324.9H158.4V332.5H150.8zM189.0 324.9H196.6V332.5H189.0zM97.2 332.5H104.9V340.1H97.2zM158.4 332.5H166.1V340.1H158.4zM265.5 363.0H273.1V370.6H265.5zM59.0 370.6H74.3V378.2H59.0zM250.2 378.2H257.8V385.8H250.2z"/><path fill="#0010ff" d="M104.9 -0.5H112.5V7.3H104.9zM143.1 -0.5H150.8V7.3H143.1zM173.7 -0.5H181.3V7.3H173.7zM219.6 -0.5H242.5V7.3H219.6zM257.8 -0.5H265.5V7.3H257.8zM280.8 -0.5H288.4V7.3H280.8zM166.1 7.3H173.7V15.2H166.1zM257.8 7.3H265.5V15.2H257.8zM127.8 15.2H135.5V23.0H127.8zM189.0 15.2H196.6V23.0H189.0zM296.1 15.2H303.7V23.0H296.1zM74.3 23.0H81.9V30.9H74.3zM158.4 23.0H166.1V30.9H158.4zM173.7 23.0H181.3V30.9H173.7zM204.3 23.0H211.9V30.9H204.3zM234.9 23.0H242.5V30.9H234.9zM74.3 30.9H81.9V38.7H74.3zM166.1 30.9H173.7V38.7H166.1zM234.9 30.9H242.5V38.7H234.9zM257.8 30.9H265.5V38.7H257.8zM127.8 38.7H135.5V46.5H127.8zM150.8 38.7H173.7V46.5H150.8zM242.5 38.7H250.2V46.5H242.5zM181.3 46.5H189.0V54.4H181.3zM196.6 46.5H204.3V54.4H196.6zM219.6 46.5H234.9V54.4H219.6zM265.5 46.5H273.1V54.4H265.5zM288.4 46.5H303.7V54.4H288.4zM326.6 46.5H341.9V54.4H326.6zM81.9 54.4H89.6V62.2H81.9zM120.2 54.4H127.8V62.2H120.2zM211.9 54.4H219.6V62.2H211.9zM227.2 54.4H234.9V62.2H227.2zM341.9 54.4H349.6V62.2H341.9zM81.9 62.2H97.2V70.0H81.9zM250.2 62.2H257.8V70.0H250.2zM288.4 62.2H296.1V70.0H288.4zM120.2 70.0H127.8V77.8H120.2zM135.5 70.0H143.1V77.8H135.5zM173.7 70.0H189.0V77.8H173.7zM341.9 70.0H349.6V77.8H341.9zM127.8 77.8H135.5V85.6H127.8zM204.3 77.8H211.9V85.6H204.3zM303.7 77.8H311.3V85.6H303.7zM97.2 85.6H104.9V93.4H97.2zM189.0 85.6H196.6V93.4H189.0zM120.2 93.4H127.8V101.2H120.2zM189.0 93.4H204.3V101.2H189.0zM135.5 101.2H143.1V109.0H135.5zM189.0 101.2H196.6V109.0H189.0zM104.9 109.0H112.5V116.8H104.9zM326.6 109.0H341.9V116.8H326.6zM120.2 116.8H127.8V124.5H120.2zM150.8 116.8H158.4V124.5H150.8zM334.3 116.8H349.6V124.5H334.3zM112.5 124.5H127.8V132.3H112.5zM326.6 124.5H341.9V132.3H326.6zM135.5 132.3H143.1V140.1H135.5zM158.4 132.3H166.1V140.1H158.4zM181.3 132.3H189.0V140.1H181.3zM326.6 132.3H334.3V140.1H326.6zM319.0 140.1H326.6V147.8H319.0zM341.9 140.1H349.6V147.8H341.9zM127.8 147.8H135.5V155.6H127.8zM143.1 147.8H150.8V155.6H143.1zM189.0 147.8H196.6V155.6H189.0zM127.8 155.6H135.5V163.3H127.8zM288.4 155.6H303.7V163.3H288.4zM334.3 155.6H341.9V163.3H334.3zM112.5 163.3H120.2V171.1H112.5zM135.5 163.3H143.1V171.1H135.5zM257.8 163.3H265.5V171.1H257.8zM288.4 163.3H296.1V171.1H288.4zM326.6 163.3H334.3V171.1H326.6zM158.4 171.1H166.1V178.8H158.4zM181.3 171.1H189.0V178.8H181.3zM204.3 171.1H211.9V178.8H204.3zM242.5 171.1H250.2V178.8H242.5zM257.8 171.1H265.5V178.8H257.8zM273.1 171.1H280.8V178.8H273.1zM166.1 178.8H173.7V186.5H166.1zM189.0 178.8H196.6V186.5H189.0zM242.5 178.8H265.5V186.5H242.5zM166.1 186.5H173.7V194.3H166.1zM250.2 186.5H273.1V194.3H250.2zM296.1 186.5H303.7V194.3H296.1zM311.3 186.5H326.6V194.3H311.3zM288.4 202.0H296.1V209.7H288.4zM341.9 202.0H349.6V209.7H341.9zM265.5 209.7H273.1V217.4H265.5zM311.3 209.7H319.0V217.4H311.3zM265.5 225.1H273.1V232.8H265.5zM334.3 225.1H341.9V232.8H334.3zM234.9 232.8H250.2V240.5H234.9zM273.1 232.8H280.8V240.5H273.1zM311.3 232.8H326.6V240.5H311.3zM234.9 240.5H242.5V248.2H234.9zM265.5 248.2H273.1V255.9H265.5zM303.7 248.2H311.3V255.9H303.7zM326.6 248.2H334.3V255.9H326.6zM204.3 255.9H211.9V263.6H204.3zM227.2 255.9H234.9V263.6H227.2zM257.8 255.9H265.5V263.6H257.8zM250.2 263.6H257.8V271.3H250.2zM288.4 263.6H296.1V271.3H288.4zM143.1 271.3H150.8V278.9H143.1zM211.9 271.3H219.6V278.9H211.9zM234.9 271.3H242.5V278.9H234.9zM250.2 271.3H265.5V278.9H250.2zM280.8 271.3H288.4V278.9H280.8zM311.3 271.3H319.0V278.9H311.3zM234.9 278.9H242.5V286.6H234.9zM257.8 278.9H265.5V286.6H257.8zM97.2 286.6H104.9V294.3H97.2zM211.9 286.6H234.9V294.3H211.9zM143.1 294.3H150.8V301.9H143.1zM280.8 294.3H288.4V301.9H280.8zM296.1 294.3H303.7V301.9H296.1zM66.6 301.9H74.3V309.6H66.6zM265.5 301.9H280.8V309.6H265.5zM173.7 317.2H189.0V324.9H173.7zM250.2 317.2H257.8V324.9H250.2zM66.6 324.9H74.3V332.5H66.6zM158.4 324.9H166.1V332.5H158.4zM204.3 324.9H227.2V332.5H204.3zM51.3 332.5H59.0V340.1H51.3zM219.6 332.5H227.2V340.1H219.6zM250.2 332.5H257.8V340.1H250.2zM59.0 340.1H66.6V347.8H59.0zM288.4 340.1H303.7V347.8H288.4zM20.8 347.8H36.1V355.4H20.8zM303.7 347.8H311.3V355.4H303.7zM36.1 370.6H43.7V378.2H36.1zM51.3 370.6H59.0V378.2H51.3zM250.2 370.6H257.8V378.2H250.2zM89.6 378.2H97.2V385.8H89.6zM265.5 385.8H273.1V393.4H265.5z"/><path fill="#0000cf" d="M112.5 -0.5H120.2V7.3H112.5zM135.5 -0.5H143.1V7.3H135.5zM74.3 7.3H89.6V15.2H74.3zM120.2 7.3H127.8V15.2H120.2zM296.1 7.3H303.7V15.2H296.1zM89.6 15.2H97.2V23.0H89.6zM104.9 15.2H120.2V23.0H104.9zM189.0 23.0H196.6V30.9H189.0zM296.1 23.0H303.7V30.9H296.1zM81.9 30.9H97.2V38.7H81.9zM112.5 30.9H120.2V38.7H112.5zM204.3 30.9H211.9V38.7H204.3zM288.4 30.9H303.7V38.7H288.4zM104.9 38.7H120.2V46.5H104.9zM189.0 38.7H196.6V46.5H189.0zM280.8 38.7H288.4V46.5H280.8zM104.9 46.5H112.5V54.4H104.9zM120.2 46.5H127.8V54.4H120.2zM97.2 54.4H104.9V62.2H97.2zM303.7 54.4H319.0V62.2H303.7zM150.8 62.2H158.4V70.0H150.8zM311.3 62.2H319.0V70.0H311.3zM97.2 70.0H104.9V77.8H97.2zM143.1 77.8H158.4V85.6H143.1zM181.3 77.8H189.0V85.6H181.3zM173.7 85.6H181.3V93.4H173.7zM319.0 85.6H334.3V93.4H319.0zM89.6 93.4H97.2V101.2H89.6zM150.8 93.4H158.4V101.2H150.8zM166.1 93.4H173.7V101.2H166.1zM143.1 101.2H150.8V109.0H143.1zM181.3 124.5H196.6V132.3H181.3zM143.1 140.1H150.8V147.8H143.1zM166.1 140.1H173.7V147.8H166.1zM181.3 140.1H189.0V147.8H181.3zM112.5 147.8H120.2V155.6H112.5zM173.7 155.6H189.0V163.3H173.7zM173.7 163.3H181.3V171.1H173.7zM311.3 163.3H319.0V171.1H311.3zM166.1 171.1H181.3V178.8H166.1zM303.7 171.1H311.3V178.8H303.7zM303.7 178.8H311.3V186.5H303.7zM319.0 178.8H326.6V186.5H319.0zM334.3 178.8H341.9V186.5H334.3zM326.6 186.5H334.3V194.3H326.6zM341.9 194.3H349.6V202.0H341.9zM296.1 217.4H303.7V225.1H296.1zM273.1 225.1H288.4V232.8H273.1zM296.1 225.1H311.3V232.8H296.1zM341.9 232.8H349.6V240.5H341.9zM265.5 240.5H273.1V248.2H265.5zM319.0 240.5H326.6V248.2H319.0zM334.3 240.5H341.9V248.2H334.3zM288.4 248.2H303.7V255.9H288.4zM311.3 248.2H319.0V255.9H311.3zM296.1 255.9H303.7V263.6H296.1zM311.3 255.9H319.0V263.6H311.3zM296.1 263.6H303.7V271.3H296.1zM66.6 271.3H81.9V278.9H66.6zM227.2 271.3H234.9V278.9H227.2zM303.7 271.3H311.3V278.9H303.7zM81.9 278.9H89.6V286.6H81.9zM303.7 278.9H311.3V286.6H303.7zM234.9 286.6H250.2V294.3H234.9zM303.7 286.6H311.3V294.3H303.7zM43.7 294.3H59.0V301.9H43.7zM257.8 294.3H265.5V301.9H257.8zM257.8 301.9H265.5V309.6H257.8zM326.6 301.9H341.9V309.6H326.6zM250.2 309.6H257.8V317.2H250.2zM265.5 309.6H273.1V317.2H265.5zM319.0 309.6H326.6V317.2H319.0zM341.9 309.6H349.6V317.2H341.9zM74.3 317.2H81.9V324.9H74.3zM273.1 317.2H280.8V324.9H273.1zM303.7 317.2H311.3V324.9H303.7zM28.4 324.9H36.1V332.5H28.4zM74.3 324.9H81.9V332.5H74.3zM265.5 324.9H273.1V332.5H265.5zM303.7 324.9H311.3V332.5H303.7zM319.0 324.9H326.6V332.5H319.0zM89.6 332.5H97.2V340.1H89.6zM319.0 332.5H326.6V340.1H319.0zM66.6 340.1H74.3V347.8H66.6zM288.4 355.4H296.1V363.0H288.4zM280.8 370.6H296.1V378.2H280.8z"/><path fill="#0000df" d="M150.8 -0.5H158.4V7.3H150.8zM204.3 -0.5H211.9V7.3H204.3zM296.1 -0.5H303.7V7.3H296.1zM97.2 7.3H104.9V15.2H97.2zM143.1 7.3H150.8V15.2H143.1zM288.4 7.3H296.1V15.2H288.4zM97.2 15.2H104.9V23.0H97.2zM112.5 23.0H127.8V30.9H112.5zM196.6 23.0H204.3V30.9H196.6zM280.8 23.0H288.4V30.9H280.8zM303.7 23.0H311.3V30.9H303.7zM97.2 30.9H112.5V38.7H97.2zM181.3 30.9H189.0V38.7H181.3zM204.3 38.7H211.9V46.5H204.3zM288.4 38.7H296.1V46.5H288.4zM326.6 38.7H334.3V46.5H326.6zM89.6 54.4H97.2V62.2H89.6zM112.5 54.4H120.2V62.2H112.5zM135.5 54.4H150.8V62.2H135.5zM97.2 62.2H104.9V70.0H97.2zM158.4 62.2H166.1V70.0H158.4zM296.1 62.2H303.7V70.0H296.1zM81.9 70.0H89.6V77.8H81.9zM166.1 70.0H173.7V77.8H166.1zM319.0 70.0H326.6V77.8H319.0zM326.6 77.8H334.3V85.6H326.6zM127.8 93.4H135.5V101.2H127.8zM326.6 93.4H334.3V101.2H326.6zM89.6 101.2H97.2V109.0H89.6zM97.2 109.0H104.9V116.8H97.2zM173.7 109.0H189.0V116.8H173.7zM166.1 116.8H173.7V124.5H166.1zM341.9 124.5H349.6V132.3H341.9zM166.1 132.3H173.7V140.1H166.1zM341.9 132.3H349.6V140.1H341.9zM158.4 140.1H166.1V147.8H158.4zM181.3 147.8H189.0V155.6H181.3zM143.1 155.6H150.8V163.3H143.1zM143.1 163.3H158.4V171.1H143.1zM181.3 163.3H189.0V171.1H181.3zM334.3 163.3H341.9V171.1H334.3zM311.3 171.1H319.0V178.8H311.3zM334.3 171.1H349.6V178.8H334.3zM181.3 178.8H189.0V186.5H181.3zM311.3 178.8H319.0V186.5H311.3zM127.8 186.5H135.5V194.3H127.8zM288.4 186.5H296.1V194.3H288.4zM303.7 194.3H311.3V202.0H303.7zM326.6 194.3H334.3V202.0H326.6zM334.3 202.0H341.9V209.7H334.3zM280.8 209.7H303.7V217.4H280.8zM341.9 209.7H349.6V217.4H341.9zM265.5 217.4H273.1V225.1H265.5zM311.3 217.4H319.0V225.1H311.3zM334.3 217.4H341.9V225.1H334.3zM288.4 232.8H296.1V240.5H288.4zM326.6 232.8H334.3V240.5H326.6zM257.8 240.5H265.5V248.2H257.8zM280.8 240.5H303.7V248.2H280.8zM227.2 248.2H234.9V255.9H227.2zM250.2 248.2H257.8V255.9H250.2zM341.9 248.2H349.6V255.9H341.9zM280.8 255.9H288.4V263.6H280.8zM303.7 255.9H311.3V263.6H303.7zM211.9 263.6H219.6V271.3H211.9zM311.3 263.6H319.0V271.3H311.3zM219.6 278.9H227.2V286.6H219.6zM250.2 278.9H257.8V286.6H250.2zM334.3 278.9H341.9V286.6H334.3zM43.7 286.6H51.3V294.3H43.7zM59.0 286.6H66.6V294.3H59.0zM89.6 286.6H97.2V294.3H89.6zM265.5 286.6H273.1V294.3H265.5zM36.1 294.3H43.7V301.9H36.1zM59.0 294.3H66.6V301.9H59.0zM74.3 294.3H81.9V301.9H74.3zM89.6 294.3H97.2V301.9H89.6zM234.9 294.3H242.5V301.9H234.9zM250.2 294.3H257.8V301.9H250.2zM326.6 294.3H341.9V301.9H326.6zM36.1 301.9H43.7V309.6H36.1zM51.3 301.9H59.0V309.6H51.3zM81.9 301.9H97.2V309.6H81.9zM66.6 309.6H89.6V317.2H66.6zM257.8 309.6H265.5V317.2H257.8zM81.9 317.2H89.6V324.9H81.9zM227.2 317.2H250.2V324.9H227.2zM89.6 324.9H97.2V332.5H89.6zM181.3 324.9H189.0V332.5H181.3zM196.6 324.9H204.3V332.5H196.6zM28.4 332.5H36.1V340.1H28.4zM43.7 332.5H51.3V340.1H43.7zM189.0 332.5H196.6V340.1H189.0zM51.3 340.1H59.0V347.8H51.3zM74.3 340.1H81.9V347.8H74.3zM81.9 347.8H89.6V355.4H81.9zM280.8 347.8H288.4V355.4H280.8zM311.3 347.8H319.0V355.4H311.3zM273.1 355.4H288.4V363.0H273.1zM296.1 355.4H303.7V363.0H296.1zM265.5 370.6H273.1V378.2H265.5zM242.5 378.2H250.2V385.8H242.5zM265.5 378.2H273.1V385.8H265.5zM280.8 378.2H288.4V385.8H280.8zM257.8 385.8H265.5V393.4H257.8z"/><path fill="#0000ef" d="M166.1 -0.5H173.7V7.3H166.1zM196.6 -0.5H204.3V7.3H196.6zM288.4 -0.5H296.1V7.3H288.4zM66.6 7.3H74.3V15.2H66.6zM181.3 7.3H196.6V15.2H181.3zM181.3 15.2H189.0V23.0H181.3zM265.5 15.2H280.8V23.0H265.5zM303.7 15.2H311.3V23.0H303.7zM135.5 23.0H150.8V30.9H135.5zM265.5 23.0H273.1V30.9H265.5zM120.2 30.9H127.8V38.7H120.2zM143.1 30.9H158.4V38.7H143.1zM189.0 30.9H196.6V38.7H189.0zM227.2 30.9H234.9V38.7H227.2zM265.5 30.9H288.4V38.7H265.5zM81.9 38.7H97.2V46.5H81.9zM120.2 38.7H127.8V46.5H120.2zM181.3 38.7H189.0V46.5H181.3zM74.3 46.5H81.9V54.4H74.3zM112.5 46.5H120.2V54.4H112.5zM135.5 46.5H143.1V54.4H135.5zM280.8 46.5H288.4V54.4H280.8zM150.8 54.4H166.1V62.2H150.8zM219.6 54.4H227.2V62.2H219.6zM250.2 54.4H265.5V62.2H250.2zM319.0 54.4H326.6V62.2H319.0zM112.5 62.2H120.2V70.0H112.5zM127.8 62.2H143.1V70.0H127.8zM166.1 62.2H173.7V70.0H166.1zM242.5 62.2H250.2V70.0H242.5zM89.6 70.0H97.2V77.8H89.6zM104.9 70.0H112.5V77.8H104.9zM158.4 70.0H166.1V77.8H158.4zM296.1 70.0H303.7V77.8H296.1zM81.9 77.8H89.6V85.6H81.9zM97.2 77.8H104.9V85.6H97.2zM166.1 77.8H181.3V85.6H166.1zM311.3 77.8H319.0V85.6H311.3zM341.9 77.8H349.6V85.6H341.9zM135.5 85.6H143.1V93.4H135.5zM341.9 85.6H349.6V93.4H341.9zM181.3 93.4H189.0V101.2H181.3zM311.3 93.4H319.0V101.2H311.3zM166.1 101.2H173.7V109.0H166.1zM181.3 101.2H189.0V109.0H181.3zM196.6 101.2H204.3V109.0H196.6zM303.7 101.2H311.3V109.0H303.7zM334.3 101.2H349.6V109.0H334.3zM143.1 109.0H150.8V116.8H143.1zM189.0 109.0H196.6V116.8H189.0zM158.4 116.8H166.1V124.5H158.4zM189.0 116.8H196.6V124.5H189.0zM166.1 124.5H173.7V132.3H166.1zM112.5 132.3H127.8V140.1H112.5zM189.0 132.3H204.3V140.1H189.0zM120.2 140.1H127.8V147.8H120.2zM150.8 140.1H158.4V147.8H150.8zM189.0 140.1H196.6V147.8H189.0zM135.5 147.8H143.1V155.6H135.5zM158.4 147.8H166.1V155.6H158.4zM173.7 147.8H181.3V155.6H173.7zM303.7 147.8H319.0V155.6H303.7zM112.5 155.6H120.2V163.3H112.5zM135.5 155.6H143.1V163.3H135.5zM150.8 155.6H158.4V163.3H150.8zM303.7 155.6H319.0V163.3H303.7zM326.6 155.6H334.3V163.3H326.6zM127.8 163.3H135.5V171.1H127.8zM196.6 163.3H211.9V171.1H196.6zM319.0 163.3H326.6V171.1H319.0zM341.9 163.3H349.6V171.1H341.9zM189.0 171.1H196.6V178.8H189.0zM326.6 171.1H334.3V178.8H326.6zM265.5 178.8H273.1V186.5H265.5zM173.7 186.5H181.3V194.3H173.7zM280.8 186.5H288.4V194.3H280.8zM120.2 194.3H127.8V202.0H120.2zM280.8 194.3H288.4V202.0H280.8zM303.7 202.0H311.3V209.7H303.7zM319.0 202.0H334.3V209.7H319.0zM303.7 209.7H311.3V217.4H303.7zM319.0 209.7H326.6V217.4H319.0zM288.4 225.1H296.1V232.8H288.4zM257.8 232.8H273.1V240.5H257.8zM296.1 232.8H303.7V240.5H296.1zM334.3 232.8H341.9V240.5H334.3zM242.5 240.5H257.8V248.2H242.5zM219.6 248.2H227.2V255.9H219.6zM234.9 248.2H250.2V255.9H234.9zM273.1 248.2H288.4V255.9H273.1zM219.6 255.9H227.2V263.6H219.6zM341.9 255.9H349.6V263.6H341.9zM265.5 263.6H280.8V271.3H265.5zM334.3 263.6H349.6V271.3H334.3zM273.1 271.3H280.8V278.9H273.1zM59.0 278.9H66.6V286.6H59.0zM135.5 278.9H143.1V286.6H135.5zM311.3 278.9H319.0V286.6H311.3zM257.8 286.6H265.5V294.3H257.8zM273.1 286.6H280.8V294.3H273.1zM341.9 286.6H349.6V294.3H341.9zM265.5 294.3H273.1V301.9H265.5zM59.0 301.9H66.6V309.6H59.0zM97.2 301.9H104.9V309.6H97.2zM234.9 301.9H250.2V309.6H234.9zM341.9 301.9H349.6V309.6H341.9zM43.7 309.6H51.3V317.2H43.7zM59.0 309.6H66.6V317.2H59.0zM97.2 309.6H104.9V317.2H97.2zM204.3 309.6H211.9V317.2H204.3zM242.5 309.6H250.2V317.2H242.5zM280.8 309.6H288.4V317.2H280.8zM334.3 309.6H341.9V317.2H334.3zM59.0 317.2H66.6V324.9H59.0zM257.8 317.2H265.5V324.9H257.8zM51.3 324.9H59.0V332.5H51.3zM234.9 324.9H242.5V332.5H234.9zM250.2 324.9H265.5V332.5H250.2zM296.1 324.9H303.7V332.5H296.1zM59.0 332.5H74.3V340.1H59.0zM242.5 332.5H250.2V340.1H242.5zM28.4 340.1H36.1V347.8H28.4zM319.0 340.1H326.6V347.8H319.0zM74.3 347.8H81.9V355.4H74.3zM288.4 347.8H303.7V355.4H288.4zM257.8 378.2H265.5V385.8H257.8zM273.1 378.2H280.8V385.8H273.1zM250.2 385.8H257.8V393.4H250.2z"/><path fill="#0000bf" d="M189.0 -0.5H196.6V7.3H189.0zM81.9 15.2H89.6V23.0H81.9zM81.9 23.0H89.6V30.9H81.9zM97.2 23.0H112.5V30.9H97.2zM97.2 38.7H104.9V46.5H97.2zM273.1 38.7H280.8V46.5H273.1zM303.7 62.2H311.3V70.0H303.7zM112.5 70.0H120.2V77.8H112.5zM143.1 70.0H158.4V77.8H143.1zM303.7 70.0H319.0V77.8H303.7zM89.6 77.8H97.2V85.6H89.6zM135.5 77.8H143.1V85.6H135.5zM158.4 77.8H166.1V85.6H158.4zM181.3 85.6H189.0V93.4H181.3zM311.3 85.6H319.0V93.4H311.3zM158.4 93.4H166.1V101.2H158.4zM173.7 93.4H181.3V101.2H173.7zM158.4 101.2H166.1V109.0H158.4zM173.7 101.2H181.3V109.0H173.7zM158.4 109.0H166.1V116.8H158.4zM173.7 116.8H181.3V124.5H173.7zM150.8 147.8H158.4V155.6H150.8zM166.1 147.8H173.7V155.6H166.1zM120.2 155.6H127.8V163.3H120.2zM158.4 155.6H173.7V163.3H158.4zM120.2 163.3H127.8V171.1H120.2zM166.1 163.3H173.7V171.1H166.1zM319.0 171.1H326.6V178.8H319.0zM326.6 178.8H334.3V186.5H326.6zM273.1 217.4H280.8V225.1H273.1zM311.3 225.1H319.0V232.8H311.3zM341.9 225.1H349.6V232.8H341.9zM341.9 240.5H349.6V248.2H341.9zM288.4 255.9H296.1V263.6H288.4zM89.6 271.3H97.2V278.9H89.6zM51.3 278.9H59.0V286.6H51.3zM66.6 278.9H74.3V286.6H66.6zM89.6 278.9H97.2V286.6H89.6zM66.6 294.3H74.3V301.9H66.6zM81.9 294.3H89.6V301.9H81.9zM341.9 294.3H349.6V301.9H341.9zM51.3 309.6H59.0V317.2H51.3zM234.9 309.6H242.5V317.2H234.9zM326.6 309.6H334.3V317.2H326.6zM51.3 317.2H59.0V324.9H51.3zM319.0 317.2H326.6V324.9H319.0zM43.7 324.9H51.3V332.5H43.7zM74.3 332.5H81.9V340.1H74.3zM296.1 332.5H303.7V340.1H296.1zM81.9 340.1H89.6V347.8H81.9zM303.7 340.1H311.3V347.8H303.7zM280.8 363.0H288.4V370.6H280.8zM257.8 393.4H265.5V401.0H257.8z"/><path fill="#0030ff" d="M242.5 -0.5H250.2V7.3H242.5zM127.8 7.3H135.5V15.2H127.8zM219.6 7.3H242.5V15.2H219.6zM250.2 7.3H257.8V15.2H250.2zM150.8 15.2H173.7V23.0H150.8zM227.2 15.2H250.2V23.0H227.2zM219.6 23.0H227.2V30.9H219.6zM250.2 23.0H265.5V30.9H250.2zM250.2 30.9H257.8V38.7H250.2zM227.2 38.7H242.5V46.5H227.2zM303.7 38.7H311.3V46.5H303.7zM173.7 46.5H181.3V54.4H173.7zM189.0 46.5H196.6V54.4H189.0zM211.9 46.5H219.6V54.4H211.9zM242.5 46.5H257.8V54.4H242.5zM319.0 46.5H326.6V54.4H319.0zM181.3 54.4H189.0V62.2H181.3zM334.3 54.4H341.9V62.2H334.3zM211.9 62.2H219.6V70.0H211.9zM227.2 62.2H234.9V70.0H227.2zM334.3 62.2H341.9V70.0H334.3zM196.6 70.0H204.3V77.8H196.6zM211.9 70.0H219.6V77.8H211.9zM112.5 77.8H120.2V85.6H112.5zM104.9 85.6H112.5V93.4H104.9zM204.3 85.6H211.9V93.4H204.3zM296.1 85.6H303.7V93.4H296.1zM104.9 93.4H120.2V101.2H104.9zM296.1 93.4H303.7V101.2H296.1zM112.5 101.2H127.8V109.0H112.5zM311.3 101.2H319.0V109.0H311.3zM112.5 116.8H120.2V124.5H112.5zM135.5 116.8H143.1V124.5H135.5zM150.8 124.5H158.4V132.3H150.8zM196.6 124.5H204.3V132.3H196.6zM303.7 124.5H311.3V132.3H303.7zM104.9 132.3H112.5V140.1H104.9zM143.1 132.3H150.8V140.1H143.1zM204.3 132.3H211.9V140.1H204.3zM303.7 132.3H311.3V140.1H303.7zM319.0 132.3H326.6V140.1H319.0zM196.6 140.1H211.9V147.8H196.6zM303.7 140.1H319.0V147.8H303.7zM326.6 140.1H341.9V147.8H326.6zM204.3 155.6H211.9V163.3H204.3zM227.2 155.6H234.9V163.3H227.2zM257.8 155.6H265.5V163.3H257.8zM319.0 155.6H326.6V163.3H319.0zM234.9 163.3H257.8V171.1H234.9zM296.1 163.3H303.7V171.1H296.1zM135.5 171.1H143.1V178.8H135.5zM150.8 171.1H158.4V178.8H150.8zM196.6 171.1H204.3V178.8H196.6zM150.8 178.8H158.4V186.5H150.8zM273.1 178.8H280.8V186.5H273.1zM166.1 194.3H173.7V202.0H166.1zM250.2 194.3H257.8V202.0H250.2zM265.5 194.3H273.1V202.0H265.5zM150.8 202.0H158.4V209.7H150.8zM257.8 225.1H265.5V232.8H257.8zM189.0 240.5H196.6V248.2H189.0zM211.9 248.2H219.6V255.9H211.9zM196.6 263.6H211.9V271.3H196.6zM234.9 263.6H242.5V271.3H234.9zM257.8 263.6H265.5V271.3H257.8zM319.0 263.6H326.6V271.3H319.0zM265.5 271.3H273.1V278.9H265.5zM143.1 278.9H166.1V286.6H143.1zM196.6 278.9H204.3V286.6H196.6zM273.1 278.9H280.8V286.6H273.1zM288.4 278.9H296.1V286.6H288.4zM127.8 286.6H135.5V294.3H127.8zM143.1 286.6H150.8V294.3H143.1zM135.5 294.3H143.1V301.9H135.5zM219.6 294.3H227.2V301.9H219.6zM273.1 294.3H280.8V301.9H273.1zM196.6 301.9H211.9V309.6H196.6zM219.6 301.9H227.2V309.6H219.6zM280.8 301.9H288.4V309.6H280.8zM143.1 309.6H150.8V317.2H143.1zM158.4 309.6H166.1V317.2H158.4zM127.8 317.2H143.1V324.9H127.8zM189.0 317.2H196.6V324.9H189.0zM104.9 324.9H112.5V332.5H104.9zM211.9 332.5H219.6V340.1H211.9zM51.3 347.8H66.6V355.4H51.3zM89.6 347.8H97.2V355.4H89.6zM74.3 355.4H89.6V363.0H74.3zM135.5 355.4H143.1V363.0H135.5zM74.3 363.0H81.9V370.6H74.3zM43.7 370.6H51.3V378.2H43.7zM74.3 370.6H81.9V378.2H74.3zM89.6 393.4H97.2V401.0H89.6zM97.2 408.6H104.9V416.2H97.2zM97.2 423.7H104.9V431.3H97.2zM120.2 423.7H127.8V431.3H120.2z"/><path fill="#0040ff" d="M173.7 7.3H181.3V15.2H173.7zM242.5 23.0H250.2V30.9H242.5zM135.5 30.9H143.1V38.7H135.5zM242.5 30.9H250.2V38.7H242.5zM135.5 38.7H150.8V46.5H135.5zM250.2 38.7H257.8V46.5H250.2zM257.8 46.5H265.5V54.4H257.8zM166.1 54.4H173.7V62.2H166.1zM189.0 54.4H196.6V62.2H189.0zM242.5 54.4H250.2V62.2H242.5zM265.5 62.2H273.1V70.0H265.5zM227.2 70.0H234.9V77.8H227.2zM319.0 93.4H326.6V101.2H319.0zM204.3 101.2H211.9V109.0H204.3zM135.5 109.0H143.1V116.8H135.5zM319.0 109.0H326.6V116.8H319.0zM204.3 116.8H211.9V124.5H204.3zM319.0 116.8H326.6V124.5H319.0zM204.3 124.5H211.9V132.3H204.3zM296.1 140.1H303.7V147.8H296.1zM196.6 147.8H204.3V155.6H196.6zM257.8 147.8H265.5V155.6H257.8zM250.2 155.6H257.8V163.3H250.2zM219.6 163.3H227.2V171.1H219.6zM227.2 171.1H234.9V178.8H227.2zM280.8 171.1H288.4V178.8H280.8zM143.1 186.5H158.4V194.3H143.1zM189.0 186.5H196.6V194.3H189.0zM135.5 194.3H143.1V202.0H135.5zM181.3 194.3H189.0V202.0H181.3zM143.1 202.0H150.8V209.7H143.1zM250.2 202.0H273.1V209.7H250.2zM150.8 209.7H158.4V217.4H150.8zM250.2 209.7H257.8V217.4H250.2zM189.0 232.8H196.6V240.5H189.0zM219.6 232.8H227.2V240.5H219.6zM211.9 240.5H219.6V248.2H211.9zM196.6 248.2H204.3V255.9H196.6zM196.6 255.9H204.3V263.6H196.6zM158.4 263.6H173.7V271.3H158.4zM135.5 271.3H143.1V278.9H135.5zM166.1 271.3H173.7V278.9H166.1zM181.3 271.3H196.6V278.9H181.3zM319.0 271.3H326.6V278.9H319.0zM150.8 286.6H158.4V294.3H150.8zM204.3 286.6H211.9V294.3H204.3zM127.8 301.9H158.4V309.6H127.8zM288.4 301.9H296.1V309.6H288.4zM135.5 309.6H143.1V317.2H135.5zM150.8 309.6H158.4V317.2H150.8zM196.6 309.6H204.3V317.2H196.6zM143.1 317.2H158.4V324.9H143.1zM120.2 324.9H127.8V332.5H120.2zM143.1 324.9H150.8V332.5H143.1zM97.2 340.1H104.9V347.8H97.2zM158.4 340.1H166.1V347.8H158.4zM36.1 347.8H43.7V355.4H36.1zM66.6 347.8H74.3V355.4H66.6zM36.1 355.4H43.7V363.0H36.1zM257.8 370.6H265.5V378.2H257.8zM97.2 401.0H104.9V408.6H97.2z"/><path fill="#0000af" d="M89.6 23.0H97.2V30.9H89.6zM196.6 30.9H204.3V38.7H196.6zM196.6 38.7H204.3V46.5H196.6zM89.6 46.5H97.2V54.4H89.6zM104.9 62.2H112.5V70.0H104.9zM81.9 85.6H97.2V93.4H81.9zM143.1 85.6H150.8V93.4H143.1zM158.4 85.6H173.7V93.4H158.4zM303.7 263.6H311.3V271.3H303.7zM341.9 278.9H349.6V286.6H341.9zM81.9 286.6H89.6V294.3H81.9zM242.5 294.3H250.2V301.9H242.5zM43.7 301.9H51.3V309.6H43.7zM319.0 301.9H326.6V309.6H319.0zM89.6 309.6H97.2V317.2H89.6zM311.3 309.6H319.0V317.2H311.3zM36.1 317.2H43.7V324.9H36.1zM311.3 317.2H319.0V324.9H311.3zM326.6 317.2H334.3V324.9H326.6zM81.9 324.9H89.6V332.5H81.9zM20.8 340.1H28.4V347.8H20.8zM288.4 363.0H296.1V370.6H288.4z"/><path fill="#0050ff" d="M257.8 38.7H265.5V46.5H257.8zM173.7 62.2H181.3V70.0H173.7zM219.6 62.2H227.2V70.0H219.6zM341.9 62.2H349.6V70.0H341.9zM189.0 70.0H196.6V77.8H189.0zM204.3 70.0H211.9V77.8H204.3zM250.2 70.0H257.8V77.8H250.2zM265.5 70.0H273.1V77.8H265.5zM288.4 70.0H296.1V77.8H288.4zM204.3 93.4H211.9V101.2H204.3zM204.3 109.0H211.9V116.8H204.3zM311.3 109.0H319.0V116.8H311.3zM127.8 116.8H135.5V124.5H127.8zM143.1 124.5H150.8V132.3H143.1zM311.3 124.5H326.6V132.3H311.3zM311.3 132.3H319.0V140.1H311.3zM211.9 140.1H219.6V147.8H211.9zM204.3 147.8H211.9V155.6H204.3zM219.6 147.8H227.2V155.6H219.6zM219.6 155.6H227.2V163.3H219.6zM242.5 155.6H250.2V163.3H242.5zM265.5 155.6H273.1V163.3H265.5zM211.9 163.3H219.6V171.1H211.9zM227.2 163.3H234.9V171.1H227.2zM273.1 163.3H280.8V171.1H273.1zM143.1 178.8H150.8V186.5H143.1zM196.6 186.5H204.3V194.3H196.6zM242.5 194.3H250.2V202.0H242.5zM158.4 202.0H181.3V209.7H158.4zM242.5 202.0H250.2V209.7H242.5zM158.4 209.7H166.1V217.4H158.4zM181.3 232.8H189.0V240.5H181.3zM196.6 232.8H204.3V240.5H196.6zM227.2 232.8H234.9V240.5H227.2zM196.6 240.5H204.3V248.2H196.6zM204.3 248.2H211.9V255.9H204.3zM104.9 263.6H112.5V271.3H104.9zM135.5 263.6H143.1V271.3H135.5zM173.7 263.6H181.3V271.3H173.7zM127.8 271.3H135.5V278.9H127.8zM150.8 271.3H166.1V278.9H150.8zM173.7 271.3H181.3V278.9H173.7zM158.4 286.6H166.1V294.3H158.4zM196.6 286.6H204.3V294.3H196.6zM280.8 286.6H288.4V294.3H280.8zM127.8 294.3H135.5V301.9H127.8zM150.8 294.3H158.4V301.9H150.8zM196.6 294.3H204.3V301.9H196.6zM104.9 309.6H112.5V317.2H104.9zM173.7 309.6H181.3V317.2H173.7zM120.2 317.2H127.8V324.9H120.2zM127.8 324.9H143.1V332.5H127.8zM104.9 332.5H112.5V340.1H104.9zM150.8 332.5H158.4V340.1H150.8zM43.7 347.8H51.3V355.4H43.7zM143.1 347.8H150.8V355.4H143.1zM20.8 355.4H36.1V363.0H20.8zM28.4 363.0H43.7V370.6H28.4zM59.0 363.0H74.3V370.6H59.0zM89.6 370.6H97.2V378.2H89.6zM127.8 370.6H135.5V378.2H127.8zM97.2 378.2H104.9V385.8H97.2zM97.2 393.4H104.9V401.0H97.2z"/><path fill="#00009f" d="M97.2 46.5H104.9V54.4H97.2zM104.9 54.4H112.5V62.2H104.9zM150.8 85.6H158.4V93.4H150.8zM280.8 217.4H296.1V225.1H280.8zM303.7 217.4H311.3V225.1H303.7zM81.9 263.6H89.6V271.3H81.9zM81.9 271.3H89.6V278.9H81.9zM74.3 278.9H81.9V286.6H74.3zM66.6 286.6H81.9V294.3H66.6zM36.1 309.6H43.7V317.2H36.1zM43.7 317.2H51.3V324.9H43.7zM89.6 317.2H97.2V324.9H89.6zM36.1 324.9H43.7V332.5H36.1zM311.3 324.9H319.0V332.5H311.3zM36.1 332.5H43.7V340.1H36.1zM81.9 332.5H89.6V340.1H81.9z"/><path fill="#0080ff" d="M196.6 54.4H204.3V62.2H196.6zM196.6 62.2H204.3V70.0H196.6zM280.8 70.0H288.4V77.8H280.8zM234.9 77.8H242.5V85.6H234.9zM211.9 85.6H219.6V93.4H211.9zM257.8 85.6H265.5V93.4H257.8zM288.4 85.6H296.1V93.4H288.4zM288.4 101.2H296.1V109.0H288.4zM319.0 101.2H326.6V109.0H319.0zM296.1 124.5H303.7V132.3H296.1zM257.8 140.1H265.5V147.8H257.8zM273.1 140.1H280.8V147.8H273.1zM288.4 140.1H296.1V147.8H288.4zM227.2 147.8H242.5V155.6H227.2zM250.2 147.8H257.8V155.6H250.2zM273.1 147.8H280.8V155.6H273.1zM234.9 155.6H242.5V163.3H234.9zM234.9 178.8H242.5V186.5H234.9zM196.6 194.3H204.3V202.0H196.6zM127.8 209.7H135.5V217.4H127.8zM173.7 225.1H181.3V232.8H173.7zM166.1 232.8H173.7V240.5H166.1zM211.9 232.8H219.6V240.5H211.9zM173.7 248.2H181.3V255.9H173.7zM189.0 248.2H196.6V255.9H189.0zM143.1 255.9H150.8V263.6H143.1zM166.1 278.9H196.6V286.6H166.1zM181.3 286.6H196.6V294.3H181.3zM104.9 301.9H112.5V309.6H104.9zM112.5 309.6H120.2V317.2H112.5zM181.3 309.6H189.0V317.2H181.3zM112.5 332.5H127.8V340.1H112.5zM135.5 347.8H143.1V355.4H135.5zM97.2 355.4H104.9V363.0H97.2zM51.3 363.0H59.0V370.6H51.3zM97.2 385.8H104.9V393.4H97.2zM104.9 401.0H112.5V408.6H104.9zM104.9 408.6H120.2V416.2H104.9zM112.5 416.2H120.2V423.7H112.5z"/><path fill="#0070ff" d="M204.3 54.4H211.9V62.2H204.3zM204.3 62.2H211.9V70.0H204.3zM280.8 62.2H288.4V70.0H280.8zM227.2 77.8H234.9V85.6H227.2zM242.5 77.8H250.2V85.6H242.5zM211.9 101.2H219.6V109.0H211.9zM296.1 116.8H303.7V124.5H296.1zM211.9 132.3H219.6V140.1H211.9zM250.2 140.1H257.8V147.8H250.2zM211.9 147.8H219.6V155.6H211.9zM265.5 147.8H273.1V155.6H265.5zM280.8 147.8H296.1V155.6H280.8zM181.3 202.0H189.0V209.7H181.3zM166.1 209.7H181.3V217.4H166.1zM166.1 217.4H173.7V225.1H166.1zM189.0 225.1H204.3V232.8H189.0zM242.5 225.1H250.2V232.8H242.5zM204.3 232.8H211.9V240.5H204.3zM181.3 248.2H189.0V255.9H181.3zM104.9 255.9H112.5V263.6H104.9zM104.9 271.3H112.5V278.9H104.9zM104.9 278.9H112.5V286.6H104.9zM127.8 278.9H135.5V286.6H127.8zM104.9 294.3H112.5V301.9H104.9zM158.4 294.3H166.1V301.9H158.4zM120.2 309.6H127.8V317.2H120.2zM166.1 309.6H173.7V317.2H166.1zM112.5 317.2H120.2V324.9H112.5zM112.5 324.9H120.2V332.5H112.5zM135.5 332.5H150.8V340.1H135.5zM135.5 340.1H143.1V347.8H135.5zM97.2 347.8H104.9V355.4H97.2zM43.7 355.4H74.3V363.0H43.7zM97.2 370.6H104.9V378.2H97.2zM120.2 408.6H127.8V416.2H120.2zM104.9 416.2H112.5V423.7H104.9z"/><path fill="#0060ff" d="M181.3 62.2H196.6V70.0H181.3zM273.1 62.2H280.8V70.0H273.1zM219.6 70.0H227.2V77.8H219.6zM234.9 70.0H242.5V77.8H234.9zM211.9 77.8H227.2V85.6H211.9zM250.2 77.8H265.5V85.6H250.2zM288.4 77.8H296.1V85.6H288.4zM296.1 101.2H303.7V109.0H296.1zM296.1 109.0H303.7V116.8H296.1zM303.7 116.8H311.3V124.5H303.7zM296.1 132.3H303.7V140.1H296.1zM273.1 155.6H288.4V163.3H273.1zM143.1 171.1H150.8V178.8H143.1zM242.5 186.5H250.2V194.3H242.5zM143.1 194.3H158.4V202.0H143.1zM189.0 194.3H196.6V202.0H189.0zM135.5 209.7H143.1V217.4H135.5zM173.7 240.5H189.0V248.2H173.7zM166.1 248.2H173.7V255.9H166.1zM158.4 255.9H173.7V263.6H158.4zM181.3 255.9H189.0V263.6H181.3zM143.1 263.6H158.4V271.3H143.1zM189.0 263.6H196.6V271.3H189.0zM204.3 294.3H211.9V301.9H204.3zM189.0 301.9H196.6V309.6H189.0zM189.0 309.6H196.6V317.2H189.0zM104.9 340.1H112.5V347.8H104.9zM150.8 340.1H158.4V347.8H150.8zM127.8 347.8H135.5V355.4H127.8zM150.8 347.8H158.4V355.4H150.8zM127.8 355.4H135.5V363.0H127.8zM43.7 363.0H51.3V370.6H43.7zM127.8 363.0H135.5V370.6H127.8zM120.2 401.0H127.8V408.6H120.2zM120.2 416.2H127.8V423.7H120.2z"/><path fill="#008fff" d="M273.1 70.0H280.8V77.8H273.1zM265.5 77.8H273.1V85.6H265.5zM265.5 85.6H273.1V93.4H265.5zM288.4 93.4H296.1V101.2H288.4zM280.8 101.2H288.4V109.0H280.8zM288.4 109.0H296.1V116.8H288.4zM211.9 116.8H219.6V124.5H211.9zM265.5 132.3H273.1V140.1H265.5zM219.6 140.1H234.9V147.8H219.6zM265.5 140.1H273.1V147.8H265.5zM242.5 147.8H250.2V155.6H242.5zM204.3 178.8H211.9V186.5H204.3zM189.0 202.0H196.6V209.7H189.0zM143.1 209.7H150.8V217.4H143.1zM181.3 209.7H189.0V217.4H181.3zM242.5 209.7H250.2V217.4H242.5zM127.8 225.1H135.5V232.8H127.8zM181.3 225.1H189.0V232.8H181.3zM158.4 240.5H173.7V248.2H158.4zM112.5 263.6H120.2V271.3H112.5zM127.8 263.6H135.5V271.3H127.8zM104.9 286.6H112.5V294.3H104.9zM112.5 301.9H127.8V309.6H112.5zM127.8 340.1H135.5V347.8H127.8zM120.2 347.8H127.8V355.4H120.2zM112.5 423.7H120.2V431.3H112.5z"/><path fill="#00cfff" d="M273.1 77.8H280.8V85.6H273.1zM234.9 85.6H242.5V93.4H234.9zM273.1 93.4H280.8V101.2H273.1zM219.6 101.2H227.2V109.0H219.6zM273.1 116.8H280.8V124.5H273.1zM250.2 124.5H265.5V132.3H250.2zM219.6 132.3H227.2V140.1H219.6zM234.9 132.3H257.8V140.1H234.9zM280.8 132.3H288.4V140.1H280.8zM211.9 225.1H219.6V232.8H211.9zM120.2 248.2H127.8V255.9H120.2zM112.5 255.9H120.2V263.6H112.5zM112.5 278.9H120.2V286.6H112.5zM173.7 294.3H181.3V301.9H173.7zM166.1 301.9H173.7V309.6H166.1zM104.9 370.6H127.8V378.2H104.9zM104.9 393.4H120.2V401.0H104.9z"/><path fill="#00bfff" d="M280.8 77.8H288.4V85.6H280.8zM219.6 85.6H227.2V93.4H219.6zM242.5 85.6H250.2V93.4H242.5zM219.6 93.4H227.2V101.2H219.6zM250.2 93.4H257.8V101.2H250.2zM280.8 109.0H288.4V116.8H280.8zM265.5 124.5H273.1V132.3H265.5zM227.2 132.3H234.9V140.1H227.2zM227.2 178.8H234.9V186.5H227.2zM204.3 186.5H211.9V194.3H204.3zM196.6 209.7H204.3V217.4H196.6zM204.3 217.4H211.9V225.1H204.3zM143.1 225.1H158.4V232.8H143.1zM127.8 232.8H135.5V240.5H127.8zM143.1 232.8H150.8V240.5H143.1zM127.8 248.2H135.5V255.9H127.8zM143.1 248.2H150.8V255.9H143.1zM112.5 271.3H120.2V278.9H112.5zM112.5 286.6H120.2V294.3H112.5zM173.7 286.6H181.3V294.3H173.7zM112.5 340.1H120.2V347.8H112.5zM104.9 347.8H120.2V355.4H104.9zM104.9 385.8H112.5V393.4H104.9z"/><path fill="#00efff" d="M227.2 85.6H234.9V93.4H227.2zM219.6 178.8H227.2V186.5H219.6zM189.0 209.7H196.6V217.4H189.0zM204.3 209.7H211.9V217.4H204.3zM234.9 225.1H242.5V232.8H234.9zM120.2 255.9H127.8V263.6H120.2zM112.5 378.2H120.2V385.8H112.5zM112.5 385.8H120.2V393.4H112.5z"/><path fill="#00afff" d="M250.2 85.6H257.8V93.4H250.2zM280.8 93.4H288.4V101.2H280.8zM257.8 101.2H280.8V109.0H257.8zM211.9 109.0H219.6V116.8H211.9zM257.8 109.0H265.5V116.8H257.8zM288.4 116.8H296.1V124.5H288.4zM257.8 132.3H265.5V140.1H257.8zM273.1 132.3H280.8V140.1H273.1zM280.8 140.1H288.4V147.8H280.8zM211.9 178.8H219.6V186.5H211.9zM234.9 194.3H242.5V202.0H234.9zM196.6 202.0H204.3V209.7H196.6zM150.8 217.4H166.1V225.1H150.8zM189.0 217.4H204.3V225.1H189.0zM120.2 225.1H127.8V232.8H120.2zM135.5 225.1H143.1V232.8H135.5zM166.1 225.1H173.7V232.8H166.1zM120.2 232.8H127.8V240.5H120.2zM120.2 240.5H150.8V248.2H120.2zM150.8 248.2H158.4V255.9H150.8zM150.8 255.9H158.4V263.6H150.8zM120.2 263.6H127.8V271.3H120.2zM166.1 286.6H173.7V294.3H166.1zM181.3 301.9H189.0V309.6H181.3zM120.2 340.1H127.8V347.8H120.2zM97.2 363.0H104.9V370.6H97.2zM120.2 378.2H127.8V385.8H120.2zM120.2 385.8H127.8V393.4H120.2zM112.5 401.0H120.2V408.6H112.5z"/><path fill="#00ffff" d="M273.1 85.6H280.8V93.4H273.1zM242.5 93.4H250.2V101.2H242.5zM219.6 124.5H227.2V132.3H219.6zM242.5 124.5H250.2V132.3H242.5zM234.9 209.7H242.5V217.4H234.9zM104.9 363.0H112.5V370.6H104.9z"/><path fill="#10ffef" d="M280.8 85.6H288.4V93.4H280.8zM250.2 101.2H257.8V109.0H250.2zM219.6 109.0H227.2V116.8H219.6zM250.2 116.8H257.8V124.5H250.2zM204.3 194.3H211.9V202.0H204.3zM204.3 202.0H211.9V209.7H204.3z"/><path fill="#009fff" d="M211.9 93.4H219.6V101.2H211.9zM257.8 93.4H273.1V101.2H257.8zM265.5 109.0H280.8V116.8H265.5zM265.5 116.8H273.1V124.5H265.5zM280.8 116.8H288.4V124.5H280.8zM211.9 124.5H219.6V132.3H211.9zM273.1 124.5H280.8V132.3H273.1zM288.4 124.5H296.1V132.3H288.4zM288.4 132.3H296.1V140.1H288.4zM234.9 186.5H242.5V194.3H234.9zM127.8 217.4H150.8V225.1H127.8zM173.7 217.4H189.0V225.1H173.7zM242.5 217.4H250.2V225.1H242.5zM158.4 225.1H166.1V232.8H158.4zM204.3 225.1H211.9V232.8H204.3zM173.7 232.8H181.3V240.5H173.7zM135.5 248.2H143.1V255.9H135.5zM158.4 248.2H166.1V255.9H158.4zM120.2 271.3H127.8V278.9H120.2zM120.2 278.9H127.8V286.6H120.2zM189.0 294.3H196.6V301.9H189.0zM158.4 301.9H166.1V309.6H158.4zM173.7 301.9H181.3V309.6H173.7zM127.8 332.5H135.5V340.1H127.8zM143.1 340.1H150.8V347.8H143.1z"/><path fill="#40ffbf" d="M227.2 93.4H242.5V101.2H227.2zM227.2 101.2H234.9V109.0H227.2zM211.9 217.4H219.6V225.1H211.9zM219.6 225.1H227.2V232.8H219.6zM104.9 355.4H112.5V363.0H104.9z"/><path fill="#9fff60" d="M234.9 101.2H242.5V109.0H234.9zM234.9 109.0H242.5V116.8H234.9zM211.9 202.0H219.6V209.7H211.9zM227.2 209.7H234.9V217.4H227.2z"/><path fill="#70ff8f" d="M242.5 101.2H250.2V109.0H242.5zM242.5 109.0H250.2V116.8H242.5zM242.5 116.8H250.2V124.5H242.5zM211.9 186.5H219.6V194.3H211.9z"/><path fill="#50ffaf" d="M227.2 109.0H234.9V116.8H227.2zM227.2 202.0H234.9V209.7H227.2z"/><path fill="#20ffdf" d="M250.2 109.0H257.8V116.8H250.2zM227.2 116.8H234.9V124.5H227.2zM234.9 124.5H242.5V132.3H234.9z"/><path fill="#00dfff" d="M219.6 116.8H227.2V124.5H219.6zM257.8 116.8H265.5V124.5H257.8zM280.8 124.5H288.4V132.3H280.8zM234.9 140.1H250.2V147.8H234.9zM234.9 202.0H242.5V209.7H234.9zM135.5 232.8H143.1V240.5H135.5zM150.8 232.8H166.1V240.5H150.8zM150.8 240.5H158.4V248.2H150.8zM127.8 255.9H143.1V263.6H127.8zM120.2 286.6H127.8V294.3H120.2zM112.5 294.3H127.8V301.9H112.5zM166.1 294.3H173.7V301.9H166.1zM181.3 294.3H189.0V301.9H181.3zM120.2 363.0H127.8V370.6H120.2zM104.9 378.2H112.5V385.8H104.9z"/><path fill="#80ff80" d="M234.9 116.8H242.5V124.5H234.9zM234.9 217.4H242.5V225.1H234.9z"/><path fill="#30ffcf" d="M227.2 124.5H234.9V132.3H227.2zM211.9 209.7H219.6V217.4H211.9zM120.2 355.4H127.8V363.0H120.2z"/><path fill="#dfff20" d="M219.6 186.5H227.2V194.3H219.6z"/><path fill="#60ff9f" d="M227.2 186.5H234.9V194.3H227.2zM227.2 225.1H234.9V232.8H227.2zM112.5 355.4H120.2V363.0H112.5zM112.5 363.0H120.2V370.6H112.5z"/><path fill="#cfff30" d="M211.9 194.3H219.6V202.0H211.9z"/><path fill="#ffcf00" d="M219.6 194.3H227.2V202.0H219.6z"/><path fill="#8fff70" d="M227.2 194.3H234.9V202.0H227.2z"/><path fill="#afff50" d="M219.6 202.0H227.2V209.7H219.6zM219.6 209.7H227.2V217.4H219.6z"/><path fill="#efff10" d="M219.6 217.4H227.2V225.1H219.6z"/><path fill="#ffbf00" d="M227.2 217.4H234.9V225.1H227.2z"/></g><use href="#land"/><use href="#grid"/><path d="M222.3 120.4L217.6 118.5L216.2 113.5L215.3 108.9L217.8 104.9L221.7 102.4L226.4 103.4L227.2 108.8L227.2 112.6L225.6 116.1M221.5 212.2L216.7 206.5L213.6 202.8L209.8 196.9L214.1 191.2L220.5 189.2L226.0 192.5L230.9 196.3L231.1 202.8L228.6 209.6M232.4 232.1L227.3 230.7L223.1 228.2L222.8 224.3L227.6 222.3L231.7 221.5L237.8 220.2L239.4 224.2L239.5 227.4L236.9 230.1M236.0 200.0L238.0 196.0L240.0 201.0L236.0 200.0" fill="none" stroke="#000" stroke-width="1.0" stroke-linejoin="round"/><text x="216" y="100" font-size="13.5" text-anchor="middle" transform="rotate(-35 216 100)" dy="4.5">30</text><text x="212" y="190" font-size="13.5" text-anchor="middle" transform="rotate(-40 212 190)" dy="4.5">30</text><text x="224" y="221" font-size="13.5" text-anchor="middle" transform="rotate(-35 224 221)" dy="4.5">30</text><use href="#stars"/>
</g>
<use href="#frame"/><rect x="3.0" y="20.5" width="114" height="24.6" fill="url(#jet)" stroke="#303030" stroke-width="1"/><text x="3.0" y="7.3" font-size="16.7" fill="#303030" color="#303030" text-anchor="middle">0</text><text x="96.2" y="7.3" font-size="16.7" fill="#303030" color="#303030" text-anchor="middle">50</text><text x="60.0" y="-19.5" font-size="20.8" fill="#303030" color="#303030" text-anchor="middle">cm/s</text><text x="312" y="37.5" font-size="20.8" text-anchor="middle">10 km</text><path d="M306.2 44H318.8" stroke="#000" stroke-width="3.7" stroke-linecap="round"/><text x="174" y="-11.7" font-size="20.7" font-weight="bold" stroke-width="0.1" text-anchor="middle">FitDif TotalErrors (30)</text>
</g>
<g transform="translate(843,742)">
<use href="#labels"/>
<g clip-path="url(#cp)">
<g shape-rendering="crispEdges"><path fill="#0040ff" d="M66.6 -0.5H173.7V7.3H66.6zM280.8 -0.5H303.7V7.3H280.8zM66.6 7.3H173.7V15.2H66.6zM288.4 7.3H303.7V15.2H288.4zM74.3 15.2H204.3V23.0H74.3zM273.1 15.2H280.8V23.0H273.1zM296.1 15.2H303.7V23.0H296.1zM74.3 23.0H181.3V30.9H74.3zM74.3 30.9H181.3V38.7H74.3zM74.3 38.7H181.3V46.5H74.3zM74.3 46.5H143.1V54.4H74.3zM81.9 54.4H135.5V62.2H81.9zM81.9 62.2H135.5V70.0H81.9zM81.9 70.0H135.5V77.8H81.9zM81.9 77.8H135.5V85.6H81.9zM81.9 85.6H135.5V93.4H81.9zM89.6 93.4H173.7V101.2H89.6zM89.6 101.2H181.3V109.0H89.6zM97.2 109.0H127.8V116.8H97.2zM97.2 116.8H127.8V124.5H97.2zM104.9 124.5H127.8V132.3H104.9zM104.9 132.3H166.1V140.1H104.9zM112.5 140.1H166.1V147.8H112.5zM112.5 147.8H150.8V155.6H112.5zM112.5 155.6H143.1V163.3H112.5zM112.5 163.3H143.1V171.1H112.5z"/><path fill="#009fff" d="M173.7 -0.5H265.5V7.3H173.7zM173.7 7.3H211.9V15.2H173.7zM242.5 7.3H265.5V15.2H242.5zM204.3 15.2H211.9V23.0H204.3zM242.5 15.2H273.1V23.0H242.5zM181.3 23.0H204.3V30.9H181.3zM219.6 23.0H303.7V30.9H219.6zM181.3 30.9H219.6V38.7H181.3zM227.2 30.9H250.2V38.7H227.2zM257.8 30.9H303.7V38.7H257.8zM181.3 38.7H250.2V46.5H181.3zM257.8 38.7H303.7V46.5H257.8zM143.1 46.5H158.4V54.4H143.1zM173.7 46.5H250.2V54.4H173.7zM273.1 46.5H303.7V54.4H273.1zM135.5 54.4H158.4V62.2H135.5zM173.7 54.4H257.8V62.2H173.7zM280.8 54.4H303.7V62.2H280.8zM135.5 62.2H158.4V70.0H135.5zM173.7 62.2H234.9V70.0H173.7zM242.5 62.2H273.1V70.0H242.5zM280.8 62.2H303.7V70.0H280.8zM135.5 70.0H211.9V77.8H135.5zM219.6 70.0H273.1V77.8H219.6zM280.8 70.0H296.1V77.8H280.8zM135.5 77.8H288.4V85.6H135.5zM135.5 85.6H288.4V93.4H135.5zM173.7 93.4H288.4V101.2H173.7zM181.3 101.2H280.8V109.0H181.3zM127.8 109.0H150.8V116.8H127.8zM166.1 109.0H280.8V116.8H166.1zM127.8 116.8H150.8V124.5H127.8zM158.4 116.8H280.8V124.5H158.4zM127.8 124.5H150.8V132.3H127.8zM158.4 124.5H280.8V132.3H158.4zM166.1 132.3H288.4V140.1H166.1zM166.1 140.1H288.4V147.8H166.1zM150.8 147.8H265.5V155.6H150.8zM273.1 147.8H280.8V155.6H273.1zM143.1 155.6H257.8V163.3H143.1zM143.1 163.3H250.2V171.1H143.1zM135.5 171.1H250.2V178.8H135.5zM135.5 178.8H242.5V186.5H135.5zM143.1 186.5H234.9V194.3H143.1zM143.1 194.3H219.6V202.0H143.1zM143.1 202.0H211.9V209.7H143.1zM143.1 209.7H150.8V217.4H143.1zM166.1 209.7H181.3V217.4H166.1zM211.9 217.4H234.9V225.1H211.9zM211.9 225.1H234.9V232.8H211.9zM211.9 232.8H234.9V240.5H211.9z"/><path fill="#0030ff" d="M265.5 -0.5H280.8V7.3H265.5zM265.5 7.3H288.4V15.2H265.5zM280.8 15.2H296.1V23.0H280.8z"/><path fill="#0000a8" d="M303.7 -0.5H349.6V7.3H303.7zM303.7 7.3H349.6V15.2H303.7zM311.3 15.2H349.6V23.0H311.3zM311.3 23.0H349.6V30.9H311.3zM219.6 30.9H227.2V38.7H219.6zM319.0 30.9H349.6V38.7H319.0zM334.3 38.7H349.6V46.5H334.3zM97.2 124.5H104.9V132.3H97.2zM120.2 171.1H135.5V178.8H120.2zM120.2 178.8H135.5V186.5H120.2zM120.2 186.5H127.8V194.3H120.2zM120.2 209.7H127.8V217.4H120.2zM120.2 217.4H127.8V225.1H120.2z"/><path fill="#0060ff" d="M211.9 7.3H242.5V15.2H211.9zM211.9 15.2H242.5V23.0H211.9zM204.3 23.0H219.6V30.9H204.3zM250.2 30.9H257.8V38.7H250.2zM250.2 38.7H257.8V46.5H250.2zM158.4 46.5H173.7V54.4H158.4zM250.2 46.5H273.1V54.4H250.2zM158.4 54.4H173.7V62.2H158.4zM257.8 54.4H280.8V62.2H257.8zM158.4 62.2H173.7V70.0H158.4zM234.9 62.2H242.5V70.0H234.9zM273.1 62.2H280.8V70.0H273.1zM211.9 70.0H219.6V77.8H211.9zM273.1 70.0H280.8V77.8H273.1zM150.8 109.0H166.1V116.8H150.8zM150.8 116.8H158.4V124.5H150.8zM150.8 124.5H158.4V132.3H150.8zM265.5 147.8H273.1V155.6H265.5z"/><path fill="#0000f0" d="M303.7 15.2H311.3V23.0H303.7zM303.7 23.0H311.3V30.9H303.7zM303.7 30.9H319.0V38.7H303.7zM303.7 38.7H334.3V46.5H303.7zM303.7 46.5H349.6V54.4H303.7zM303.7 54.4H349.6V62.2H303.7zM303.7 62.2H349.6V70.0H303.7zM296.1 70.0H349.6V77.8H296.1zM288.4 77.8H349.6V85.6H288.4zM288.4 85.6H349.6V93.4H288.4zM288.4 93.4H349.6V101.2H288.4zM280.8 101.2H349.6V109.0H280.8zM280.8 109.0H349.6V116.8H280.8zM280.8 116.8H349.6V124.5H280.8zM280.8 124.5H349.6V132.3H280.8zM288.4 132.3H349.6V140.1H288.4zM288.4 140.1H349.6V147.8H288.4zM280.8 147.8H349.6V155.6H280.8zM257.8 155.6H349.6V163.3H257.8zM250.2 163.3H349.6V171.1H250.2zM250.2 171.1H349.6V178.8H250.2zM242.5 178.8H349.6V186.5H242.5zM127.8 186.5H143.1V194.3H127.8zM234.9 186.5H349.6V194.3H234.9zM120.2 194.3H143.1V202.0H120.2zM219.6 194.3H349.6V202.0H219.6zM120.2 202.0H143.1V209.7H120.2zM211.9 202.0H349.6V209.7H211.9zM127.8 209.7H143.1V217.4H127.8zM181.3 209.7H349.6V217.4H181.3zM173.7 217.4H211.9V225.1H173.7zM234.9 217.4H349.6V225.1H234.9zM166.1 225.1H211.9V232.8H166.1zM234.9 225.1H349.6V232.8H234.9zM166.1 232.8H211.9V240.5H166.1zM234.9 232.8H349.6V240.5H234.9zM166.1 240.5H349.6V248.2H166.1zM166.1 248.2H349.6V255.9H166.1zM173.7 255.9H334.3V263.6H173.7zM173.7 263.6H326.6V271.3H173.7zM341.9 263.6H349.6V271.3H341.9zM166.1 271.3H326.6V278.9H166.1zM341.9 271.3H349.6V278.9H341.9zM166.1 278.9H319.0V286.6H166.1zM341.9 278.9H349.6V286.6H341.9zM173.7 286.6H311.3V294.3H173.7zM334.3 286.6H349.6V294.3H334.3zM173.7 294.3H303.7V301.9H173.7zM334.3 294.3H349.6V301.9H334.3zM173.7 301.9H296.1V309.6H173.7zM326.6 301.9H349.6V309.6H326.6zM173.7 309.6H288.4V317.2H173.7zM311.3 309.6H341.9V317.2H311.3zM173.7 317.2H280.8V324.9H173.7zM303.7 317.2H334.3V324.9H303.7zM173.7 324.9H273.1V332.5H173.7zM296.1 324.9H326.6V332.5H296.1zM181.3 332.5H196.6V340.1H181.3zM211.9 332.5H227.2V340.1H211.9zM242.5 332.5H257.8V340.1H242.5zM303.7 332.5H319.0V340.1H303.7zM296.1 340.1H319.0V347.8H296.1zM288.4 347.8H311.3V355.4H288.4zM280.8 355.4H303.7V363.0H280.8zM273.1 363.0H296.1V370.6H273.1zM265.5 370.6H288.4V378.2H265.5zM250.2 378.2H273.1V385.8H250.2zM257.8 385.8H265.5V393.4H257.8z"/><path fill="#d0ff30" d="M150.8 209.7H166.1V217.4H150.8zM158.4 217.4H166.1V225.1H158.4z"/><path fill="#40ffbf" d="M127.8 217.4H158.4V225.1H127.8zM166.1 217.4H173.7V225.1H166.1zM127.8 225.1H166.1V232.8H127.8zM135.5 232.8H166.1V240.5H135.5zM135.5 240.5H166.1V248.2H135.5zM143.1 248.2H166.1V255.9H143.1zM143.1 255.9H173.7V263.6H143.1zM143.1 263.6H173.7V271.3H143.1zM150.8 271.3H166.1V278.9H150.8zM150.8 278.9H166.1V286.6H150.8zM158.4 286.6H173.7V294.3H158.4zM158.4 294.3H173.7V301.9H158.4zM166.1 301.9H173.7V309.6H166.1zM166.1 309.6H173.7V317.2H166.1z"/><path fill="#10ffee" d="M120.2 225.1H127.8V232.8H120.2zM120.2 232.8H135.5V240.5H120.2zM120.2 240.5H135.5V248.2H120.2zM120.2 248.2H143.1V255.9H120.2zM104.9 255.9H143.1V263.6H104.9zM104.9 263.6H143.1V271.3H104.9zM104.9 271.3H150.8V278.9H104.9zM120.2 278.9H150.8V286.6H120.2zM127.8 286.6H158.4V294.3H127.8zM127.8 294.3H158.4V301.9H127.8zM127.8 301.9H166.1V309.6H127.8zM120.2 309.6H166.1V317.2H120.2zM127.8 317.2H166.1V324.9H127.8zM127.8 324.9H166.1V332.5H127.8zM120.2 332.5H166.1V340.1H120.2zM104.9 340.1H166.1V347.8H104.9zM97.2 347.8H158.4V355.4H97.2zM97.2 355.4H143.1V363.0H97.2zM97.2 363.0H135.5V370.6H97.2zM89.6 370.6H135.5V378.2H89.6zM89.6 378.2H127.8V385.8H89.6zM89.6 385.8H127.8V393.4H89.6zM89.6 393.4H120.2V401.0H89.6zM97.2 401.0H127.8V408.6H97.2zM97.2 408.6H127.8V416.2H97.2zM104.9 416.2H127.8V423.7H104.9zM97.2 423.7H104.9V431.3H97.2zM112.5 423.7H127.8V431.3H112.5z"/><path fill="#00bfff" d="M89.6 255.9H104.9V263.6H89.6zM89.6 263.6H104.9V271.3H89.6zM97.2 271.3H104.9V278.9H97.2zM28.4 309.6H36.1V317.2H28.4zM20.8 317.2H36.1V324.9H20.8zM166.1 317.2H173.7V324.9H166.1zM13.1 324.9H28.4V332.5H13.1zM166.1 324.9H173.7V332.5H166.1zM5.5 332.5H28.4V340.1H5.5zM166.1 332.5H173.7V340.1H166.1zM5.5 340.1H20.8V347.8H5.5zM5.5 347.8H20.8V355.4H5.5zM5.5 355.4H20.8V363.0H5.5zM89.6 355.4H97.2V363.0H89.6zM5.5 363.0H28.4V370.6H5.5zM81.9 363.0H97.2V370.6H81.9zM5.5 370.6H36.1V378.2H5.5zM81.9 370.6H89.6V378.2H81.9zM5.5 378.2H89.6V385.8H5.5zM5.5 385.8H89.6V393.4H5.5zM5.5 393.4H89.6V401.0H5.5zM120.2 393.4H127.8V401.0H120.2zM5.5 401.0H97.2V408.6H5.5zM5.5 408.6H97.2V416.2H5.5zM5.5 416.2H104.9V423.7H5.5zM5.5 423.7H97.2V431.3H5.5zM104.9 423.7H112.5V431.3H104.9z"/><path fill="#0000c8" d="M334.3 255.9H349.6V263.6H334.3zM326.6 263.6H341.9V271.3H326.6zM326.6 271.3H341.9V278.9H326.6zM319.0 278.9H341.9V286.6H319.0zM311.3 286.6H334.3V294.3H311.3zM303.7 294.3H334.3V301.9H303.7zM296.1 301.9H326.6V309.6H296.1zM288.4 309.6H311.3V317.2H288.4zM341.9 309.6H349.6V317.2H341.9zM280.8 317.2H303.7V324.9H280.8zM334.3 317.2H349.6V324.9H334.3zM273.1 324.9H296.1V332.5H273.1zM326.6 324.9H349.6V332.5H326.6zM173.7 332.5H181.3V340.1H173.7zM196.6 332.5H211.9V340.1H196.6zM227.2 332.5H242.5V340.1H227.2zM257.8 332.5H303.7V340.1H257.8zM319.0 332.5H349.6V340.1H319.0zM166.1 340.1H296.1V347.8H166.1zM319.0 340.1H349.6V347.8H319.0zM158.4 347.8H288.4V355.4H158.4zM311.3 347.8H349.6V355.4H311.3zM143.1 355.4H280.8V363.0H143.1zM303.7 355.4H349.6V363.0H303.7zM135.5 363.0H273.1V370.6H135.5zM296.1 363.0H349.6V370.6H296.1zM135.5 370.6H265.5V378.2H135.5zM288.4 370.6H349.6V378.2H288.4zM127.8 378.2H250.2V385.8H127.8zM273.1 378.2H349.6V385.8H273.1zM127.8 385.8H257.8V393.4H127.8zM265.5 385.8H349.6V393.4H265.5zM127.8 393.4H296.1V401.0H127.8zM303.7 393.4H341.9V401.0H303.7zM127.8 401.0H288.4V408.6H127.8zM296.1 401.0H334.3V408.6H296.1zM127.8 408.6H326.6V416.2H127.8zM127.8 416.2H211.9V423.7H127.8zM227.2 416.2H326.6V423.7H227.2zM127.8 423.7H196.6V431.3H127.8zM211.9 423.7H319.0V431.3H211.9z"/><path fill="#cc0000" d="M81.9 263.6H89.6V271.3H81.9zM66.6 271.3H97.2V278.9H66.6zM51.3 278.9H97.2V286.6H51.3zM43.7 286.6H97.2V294.3H43.7zM36.1 294.3H97.2V301.9H36.1zM36.1 301.9H97.2V309.6H36.1zM36.1 309.6H97.2V317.2H36.1zM36.1 317.2H97.2V324.9H36.1zM28.4 324.9H97.2V332.5H28.4zM28.4 332.5H97.2V340.1H28.4zM20.8 340.1H97.2V347.8H20.8zM20.8 347.8H97.2V355.4H20.8zM20.8 355.4H89.6V363.0H20.8zM28.4 363.0H81.9V370.6H28.4zM36.1 370.6H81.9V378.2H36.1z"/><path fill="#880000" d="M97.2 278.9H120.2V286.6H97.2zM97.2 286.6H127.8V294.3H97.2zM97.2 294.3H127.8V301.9H97.2zM97.2 301.9H127.8V309.6H97.2zM97.2 309.6H120.2V317.2H97.2zM97.2 317.2H127.8V324.9H97.2zM97.2 324.9H127.8V332.5H97.2zM97.2 332.5H120.2V340.1H97.2zM97.2 340.1H104.9V347.8H97.2z"/><path fill="#00008f" d="M296.1 393.4H303.7V401.0H296.1zM341.9 393.4H349.6V401.0H341.9zM288.4 401.0H296.1V408.6H288.4zM334.3 401.0H349.6V408.6H334.3zM326.6 408.6H349.6V416.2H326.6zM211.9 416.2H227.2V423.7H211.9zM326.6 416.2H349.6V423.7H326.6zM196.6 423.7H211.9V431.3H196.6zM319.0 423.7H349.6V431.3H319.0z"/></g><use href="#land"/><use href="#grid"/><use href="#stars"/>
</g>
<use href="#frame"/><rect x="4.5" y="20.5" width="111.5" height="24.6" fill="url(#jet)" stroke="#303030" stroke-width="1"/><text x="4.5" y="7.3" font-size="16.7" fill="#303030" color="#303030" text-anchor="middle">0</text><text x="109.0" y="7.3" font-size="16.7" fill="#303030" color="#303030" text-anchor="middle">50</text><text x="312" y="37.5" font-size="20.8" text-anchor="middle">10 km</text><path d="M306.2 44H318.8" stroke="#000" stroke-width="3.7" stroke-linecap="round"/><text x="174" y="-12" font-size="25" font-weight="bold" stroke-width="0.1" text-anchor="middle">Site Codes</text>
</g>
</svg>
</body></html>
